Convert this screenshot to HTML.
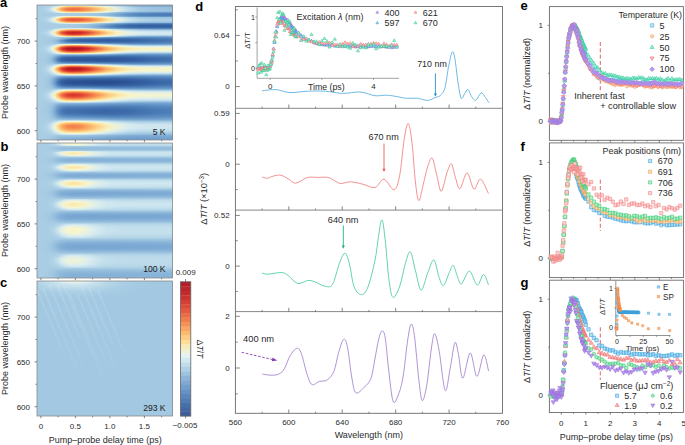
<!DOCTYPE html>
<html><head><meta charset="utf-8"><style>
html,body{margin:0;padding:0;background:#fff;width:685px;height:445px;overflow:hidden}
.hm{position:absolute;width:135.5px;height:135px}
.hm div{position:absolute;left:0;width:100%;height:1px}
svg{position:absolute;left:0;top:0}
</style></head><body>
<div class="hm" style="left:37px;top:5px"><div style="top:0px;background:linear-gradient(90deg,#a8cde4 0%,#a8cde4 2.21%,#a8cde4 4.43%,#a9cde4 5.9%,#a9cee4 7.38%,#aacee5 8.86%,#abcfe5 10.33%,#add1e6 11.81%,#b1d3e7 13.28%,#b9d8e9 15.5%,#c5e0ed 18.45%,#d0e7f0 22.14%,#d4eaf1 26.57%,#d3eaf1 31.73%,#c4e0ec 37.64%,#a6cce3 44.28%,#a1c7e1 51.66%,#97bfde 59.04%,#88b3d8 67.16%,#7eabd4 76.01%,#7ba8d3 85.61%,#7aa7d2 94.46%,#7aa7d2 100%)"></div><div style="top:1px;background:linear-gradient(90deg,#a8cde4 0%,#a9cde4 2.21%,#aacee4 4.43%,#abcfe5 5.9%,#add0e5 7.38%,#b0d2e6 8.86%,#b6d6e8 10.33%,#bfdceb 11.81%,#cce5ef 13.28%,#e6f0e2 15.5%,#faebb1 18.45%,#fcd488 22.14%,#fcc97d 26.57%,#fccc80 31.73%,#fddc8f 37.64%,#faedb6 44.28%,#e7f1e0 51.66%,#c4dfec 59.04%,#a1c7e1 67.16%,#87b2d8 76.01%,#83afd6 85.61%,#82aed6 94.46%,#82aed6 100%)"></div><div style="top:2px;background:linear-gradient(90deg,#a9cde4 0%,#a9cee4 2.21%,#abcfe5 4.43%,#add0e6 5.9%,#b1d3e7 7.38%,#b7d7e9 8.86%,#c1deec 10.33%,#d0e8f0 11.81%,#e4f0e4 13.28%,#faecb5 15.5%,#fbc377 18.45%,#f8a15b 22.14%,#f69456 26.57%,#f79a58 31.73%,#fab266 37.64%,#fcd387 44.28%,#f9f1c1 51.66%,#dbeded 59.04%,#b5d5e8 67.16%,#9fc6e1 76.01%,#98c0de 85.61%,#96bedd 94.46%,#95bedd 100%)"></div><div style="top:3px;background:linear-gradient(90deg,#a9cee4 0%,#aacee5 2.21%,#acd0e5 4.43%,#afd2e6 5.9%,#b5d6e8 7.38%,#bedbeb 8.86%,#cce5ef 10.33%,#dfeee9 11.81%,#f5f5d0 13.28%,#fdd98d 15.5%,#f9a35c 18.45%,#f27e4c 22.14%,#f17347 26.57%,#f27b4b 31.73%,#f79757 37.64%,#fbc074 44.28%,#fbe9ab 51.66%,#e4f0e3 59.04%,#bddbea 67.16%,#a4c9e2 76.01%,#9cc3df 85.61%,#99c1de 94.46%,#99c0de 100%)"></div><div style="top:4px;background:linear-gradient(90deg,#a9cee4 0%,#aacee5 2.21%,#add0e5 4.43%,#b0d2e6 5.9%,#b6d6e8 7.38%,#c0ddeb 8.86%,#cfe7f0 10.33%,#e3f0e5 11.81%,#f8f4c8 13.28%,#fcd185 15.5%,#f79958 18.45%,#f17548 22.14%,#ef6b44 26.57%,#f17348 31.73%,#f69054 37.64%,#fbbb70 44.28%,#fbe6a6 51.66%,#e7f1e1 59.04%,#bfdceb 67.16%,#a5cae3 76.01%,#9dc4e0 85.61%,#9ac2df 94.46%,#9ac1df 100%)"></div><div style="top:5px;background:linear-gradient(90deg,#a9cde4 0%,#aacee4 2.21%,#accfe5 4.43%,#afd1e6 5.9%,#b3d5e7 7.38%,#bbdaea 8.86%,#c8e2ee 10.33%,#daedef 11.81%,#eff3d7 13.28%,#fce198 15.5%,#faad62 18.45%,#f48750 22.14%,#f27b4b 26.57%,#f3834e 31.73%,#f89e5a 37.64%,#fcc478 44.28%,#faeab0 51.66%,#e3f0e5 59.04%,#bcdaea 67.16%,#a3c9e2 76.01%,#9cc3e0 85.61%,#9ac1df 94.46%,#99c1de 100%)"></div><div style="top:6px;background:linear-gradient(90deg,#a8cde4 0%,#a9cee4 2.21%,#aacee5 4.43%,#acd0e5 5.9%,#afd2e6 7.38%,#b4d5e8 8.86%,#bcdaea 10.33%,#c8e2ee 11.81%,#d9edef 13.28%,#f7f6ce 15.5%,#fdd78a 18.45%,#fbb66a 22.14%,#faab60 26.57%,#faaf64 31.73%,#fbc075 37.64%,#fddf94 44.28%,#f7f6cf 51.66%,#d5ebf1 59.04%,#b0d2e6 67.16%,#9cc3e0 76.01%,#96bedd 85.61%,#94bddd 94.46%,#93bcdc 100%)"></div><div style="top:7px;background:linear-gradient(90deg,#a8cde4 0%,#a8cde4 2.21%,#a9cee4 4.43%,#aacee4 5.9%,#abcfe5 7.38%,#add0e6 8.86%,#b1d3e7 10.33%,#b7d7e8 11.81%,#bfdceb 13.28%,#d2e9f1 15.5%,#edf3da 18.45%,#f9efbc 22.14%,#fbeaae 26.57%,#faebb1 31.73%,#f9f2c2 37.64%,#eaf2dd 44.28%,#c9e3ee 51.66%,#97bfde 59.04%,#82aed6 67.16%,#73a1ce 76.01%,#6e9dcc 85.61%,#6d9ccb 94.46%,#6c9bcb 100%)"></div><div style="top:8px;background:linear-gradient(90deg,#a8cde4 0%,#a8cde4 2.21%,#a8cde4 4.43%,#a8cde4 5.9%,#a8cde4 7.38%,#a8cde4 8.86%,#a8cde4 10.33%,#a8cde4 11.81%,#a8cde4 13.28%,#a8cde4 15.5%,#a8cde4 18.45%,#a8cde4 22.14%,#a7cde4 26.57%,#a7cce4 31.73%,#a5cbe3 37.64%,#a1c7e1 44.28%,#96bedd 51.66%,#82aed6 59.04%,#6a9aca 67.16%,#5a8cc1 76.01%,#5587be 85.61%,#5385bd 94.46%,#5385bc 100%)"></div><div style="top:9px;background:linear-gradient(90deg,#a8cde4 0%,#a8cde4 2.21%,#a8cde4 4.43%,#a8cde4 5.9%,#a8cde4 7.38%,#a8cde4 8.86%,#a8cde4 10.33%,#a8cde4 11.81%,#a8cde4 13.28%,#a8cde4 15.5%,#a8cde4 18.45%,#a7cde4 22.14%,#a7cce4 26.57%,#a6cbe3 31.73%,#a4cae2 37.64%,#9ec5e0 44.28%,#90b9db 51.66%,#79a7d2 59.04%,#6090c4 67.16%,#5081ba 76.01%,#4b7bb6 85.61%,#4a7ab5 94.46%,#4979b4 100%)"></div><div style="top:10px;background:linear-gradient(90deg,#a8cde4 0%,#a8cde4 2.21%,#a8cde4 4.43%,#a8cde4 5.9%,#a8cde4 7.38%,#a8cde4 8.86%,#a8cde4 10.33%,#a8cde4 11.81%,#a8cde4 13.28%,#a8cde4 15.5%,#a8cde4 18.45%,#a8cde4 22.14%,#a7cce4 26.57%,#a7cce3 31.73%,#a5cae3 37.64%,#9fc6e1 44.28%,#92bbdc 51.66%,#7ca9d3 59.04%,#6394c6 67.16%,#5485bd 76.01%,#4f80b9 85.61%,#4e7fb8 94.46%,#4e7fb8 100%)"></div><div style="top:11px;background:linear-gradient(90deg,#a8cde4 0%,#a8cde4 2.21%,#a9cee4 4.43%,#aacee4 5.9%,#abcfe5 7.38%,#add0e5 8.86%,#b0d2e6 10.33%,#b5d6e8 11.81%,#bddbea 13.28%,#cfe7f0 15.5%,#e8f1df 18.45%,#f9f4c7 22.14%,#faeeba 26.57%,#f9efbc 31.73%,#f8f6cc 37.64%,#e5f0e2 44.28%,#c1ddeb 51.66%,#92bbdc 59.04%,#7ba8d3 67.16%,#6b9bca 76.01%,#6696c8 85.61%,#6595c7 94.46%,#6595c7 100%)"></div><div style="top:12px;background:linear-gradient(90deg,#a8cde4 0%,#a9cee4 2.21%,#aacee5 4.43%,#acd0e5 5.9%,#afd2e6 7.38%,#b4d5e8 8.86%,#bcdaea 10.33%,#c9e3ee 11.81%,#daedef 13.28%,#f8f6cd 15.5%,#fcd588 18.45%,#fab267 22.14%,#f9a75e 26.57%,#faab60 31.73%,#fbbd71 37.64%,#fddd90 44.28%,#f8f6cc 51.66%,#d6ecf2 59.04%,#b2d4e7 67.16%,#9fc6e1 76.01%,#9ac1df 85.61%,#98c0de 94.46%,#98c0de 100%)"></div><div style="top:13px;background:linear-gradient(90deg,#a9cde4 0%,#aacee5 2.21%,#acd0e5 4.43%,#afd2e6 5.9%,#b4d5e8 7.38%,#bddbea 8.86%,#cae4ee 10.33%,#ddeeeb 11.81%,#f4f5d2 13.28%,#fdda8d 15.5%,#f89e5a 18.45%,#f17548 22.14%,#ef6943 26.57%,#f07046 31.73%,#f58c52 37.64%,#fbb86c 44.28%,#fce5a1 51.66%,#e9f2de 59.04%,#c5e0ed 67.16%,#add0e6 76.01%,#a6cbe3 85.61%,#a4cae2 94.46%,#a3c9e2 100%)"></div><div style="top:14px;background:linear-gradient(90deg,#a9cee4 0%,#aacee5 2.21%,#add0e6 4.43%,#b1d3e7 5.9%,#b7d7e9 7.38%,#c2deec 8.86%,#d2e9f1 10.33%,#e7f1e0 11.81%,#f9efbc 13.28%,#fbc478 15.5%,#f3814e 18.45%,#ea5b3d 22.14%,#e55038 26.57%,#e8583c 31.73%,#f17548 37.64%,#faa85e 44.28%,#fdde91 51.66%,#f0f4d6 59.04%,#cce5ef 67.16%,#b5d5e8 76.01%,#accfe5 85.61%,#a9cee4 94.46%,#a8cde4 100%)"></div><div style="top:15px;background:linear-gradient(90deg,#a9cee4 0%,#aacee5 2.21%,#add0e5 4.43%,#b0d2e6 5.9%,#b6d6e8 7.38%,#c0ddeb 8.86%,#cfe7f0 10.33%,#e3f0e5 11.81%,#f9f3c6 13.28%,#fccc80 15.5%,#f58b52 18.45%,#ed6240 22.14%,#e8573b 26.57%,#eb5e3e 31.73%,#f27b4b 37.64%,#faad62 44.28%,#fde096 51.66%,#eef3d8 59.04%,#cbe4ee 67.16%,#b4d5e8 76.01%,#acd0e5 85.61%,#a9cee4 94.46%,#a9cde4 100%)"></div><div style="top:16px;background:linear-gradient(90deg,#a9cde4 0%,#a9cee4 2.21%,#abcfe5 4.43%,#aed1e6 5.9%,#b2d3e7 7.38%,#b9d8e9 8.86%,#c4e0ec 10.33%,#d5ebf1 11.81%,#e9f2dd 13.28%,#fbe6a4 15.5%,#fab267 18.45%,#f48850 22.14%,#f27a4b 26.57%,#f3814d 31.73%,#f79b59 37.64%,#fbc276 44.28%,#faeab0 51.66%,#e2efe5 59.04%,#c0ddeb 67.16%,#abcfe5 76.01%,#a5cbe3 85.61%,#a4cae2 94.46%,#a4c9e2 100%)"></div><div style="top:17px;background:linear-gradient(90deg,#a8cde4 0%,#a9cde4 2.21%,#aacee5 4.43%,#abcfe5 5.9%,#add1e6 7.38%,#b1d3e7 8.86%,#b8d7e9 10.33%,#c2deec 11.81%,#d0e8f0 13.28%,#ebf2db 15.5%,#fce5a2 18.45%,#fcc87c 22.14%,#fbbd71 26.57%,#fbc074 31.73%,#fcd083 37.64%,#fbe7a8 44.28%,#ebf2db 51.66%,#c7e2ed 59.04%,#a6cbe3 67.16%,#96bfdd 76.01%,#91badb 85.61%,#90badb 94.46%,#90badb 100%)"></div><div style="top:18px;background:linear-gradient(90deg,#a8cde4 0%,#a8cde4 2.21%,#a8cde4 4.43%,#a9cee4 5.9%,#a9cee4 7.38%,#aacfe5 8.86%,#acd0e5 10.33%,#afd2e6 11.81%,#b3d5e7 13.28%,#bddbea 15.5%,#cde5ef 18.45%,#daedef 22.14%,#deeeea 26.57%,#ddeeeb 31.73%,#d6ebf2 37.64%,#a9cee4 44.28%,#93bcdc 51.66%,#7ba8d3 59.04%,#6595c7 67.16%,#598ac0 76.01%,#5688be 85.61%,#5587be 94.46%,#5587be 100%)"></div><div style="top:19px;background:linear-gradient(90deg,#a8cde4 0%,#a8cde4 2.21%,#a8cde4 4.43%,#a8cde4 5.9%,#a8cde4 7.38%,#a8cde4 8.86%,#a8cde4 10.33%,#a8cde4 11.81%,#a8cde4 13.28%,#a8cde4 15.5%,#a7cde4 18.45%,#a7cce4 22.14%,#a6cbe3 26.57%,#a4cae2 31.73%,#9ec5e0 37.64%,#8fb9db 44.28%,#73a2cf 51.66%,#5789bf 59.04%,#4777b2 67.16%,#406fad 76.01%,#3f6dab 85.61%,#3e6dab 94.46%,#3e6cab 100%)"></div><div style="top:20px;background:linear-gradient(90deg,#a8cde4 0%,#a8cde4 2.21%,#a8cde4 4.43%,#a8cde4 5.9%,#a8cde4 7.38%,#a8cde4 8.86%,#a8cde4 10.33%,#a8cde4 11.81%,#a8cde4 13.28%,#a7cde4 15.5%,#a7cce4 18.45%,#a7cce3 22.14%,#a5cbe3 26.57%,#a2c8e2 31.73%,#99c1de 37.64%,#84b0d7 44.28%,#6293c5 51.66%,#4878b3 59.04%,#3a67a7 67.16%,#3561a2 76.01%,#3560a1 85.61%,#3560a1 94.46%,#3560a1 100%)"></div><div style="top:21px;background:linear-gradient(90deg,#a8cde4 0%,#a8cde4 2.21%,#a8cde4 4.43%,#a8cde4 5.9%,#a8cde4 7.38%,#a8cde4 8.86%,#a8cde4 10.33%,#a8cde4 11.81%,#a8cde4 13.28%,#a7cde4 15.5%,#a7cce4 18.45%,#a6cce3 22.14%,#a5cae3 26.57%,#a1c7e1 31.73%,#96bedd 37.64%,#7eabd4 44.28%,#5c8dc2 51.66%,#4574b1 59.04%,#3966a6 67.16%,#3561a2 76.01%,#3560a1 85.61%,#3560a1 94.46%,#3560a1 100%)"></div><div style="top:22px;background:linear-gradient(90deg,#a8cde4 0%,#a8cde4 2.21%,#a8cde4 4.43%,#a8cde4 5.9%,#a8cde4 7.38%,#a8cde4 8.86%,#a8cde4 10.33%,#a8cde4 11.81%,#a8cde4 13.28%,#a8cde4 15.5%,#a7cce4 18.45%,#a7cce4 22.14%,#a5cbe3 26.57%,#a2c8e2 31.73%,#98c0de 37.64%,#83afd6 44.28%,#6494c6 51.66%,#4f80b9 59.04%,#4473af 67.16%,#3e6dab 76.01%,#3d6baa 85.61%,#3d6baa 94.46%,#3d6baa 100%)"></div><div style="top:23px;background:linear-gradient(90deg,#a8cde4 0%,#a8cde4 2.21%,#a8cde4 4.43%,#a9cde4 5.9%,#a9cee4 7.38%,#aacee5 8.86%,#abcfe5 10.33%,#aed1e6 11.81%,#b2d3e7 13.28%,#bad9e9 15.5%,#c7e2ed 18.45%,#d2e9f1 22.14%,#d6ecf2 26.57%,#d6ebf2 31.73%,#cde5ef 37.64%,#a0c6e1 44.28%,#87b2d8 51.66%,#6f9ecc 59.04%,#5e8fc3 67.16%,#5486bd 76.01%,#5384bc 85.61%,#5384bc 94.46%,#5384bc 100%)"></div><div style="top:24px;background:linear-gradient(90deg,#a8cde4 0%,#a9cde4 2.21%,#aacee4 4.43%,#abcfe5 5.9%,#add0e5 7.38%,#b0d3e7 8.86%,#b6d7e8 10.33%,#c0ddeb 11.81%,#cee6ef 13.28%,#e8f1df 15.5%,#fbe8aa 18.45%,#fccf82 22.14%,#fbc377 26.57%,#fcc67a 31.73%,#fdd78a 37.64%,#faeeb9 44.28%,#e0efe8 51.66%,#bedbea 59.04%,#a2c8e2 67.16%,#92bbdc 76.01%,#89b4d8 85.61%,#89b4d8 94.46%,#89b4d8 100%)"></div><div style="top:25px;background:linear-gradient(90deg,#a9cde4 0%,#a9cee4 2.21%,#abcfe5 4.43%,#add1e6 5.9%,#b1d3e7 7.38%,#b8d8e9 8.86%,#c3dfec 10.33%,#d3eaf1 11.81%,#e8f1df 13.28%,#fbe6a5 15.5%,#fab065 18.45%,#f3814d 22.14%,#f07247 26.57%,#f1784a 31.73%,#f79657 37.64%,#fcc67a 44.28%,#faeeb9 51.66%,#e2efe6 59.04%,#c6e1ed 67.16%,#b6d6e8 76.01%,#b2d3e7 85.61%,#b1d3e7 94.46%,#b0d3e7 100%)"></div><div style="top:26px;background:linear-gradient(90deg,#a9cee4 0%,#aacee5 2.21%,#add0e5 4.43%,#b0d2e6 5.9%,#b6d6e8 7.38%,#c0ddeb 8.86%,#d0e7f0 10.33%,#e5f0e2 11.81%,#f9f0bf 13.28%,#fbc175 15.5%,#f17348 18.45%,#e04533 22.14%,#d9382d 26.57%,#dd4031 31.73%,#ed6340 37.64%,#f9a15b 44.28%,#fddd90 51.66%,#f6f5d0 59.04%,#dceded 67.16%,#cde5ef 76.01%,#c8e2ee 85.61%,#c7e1ed 94.46%,#c7e1ed 100%)"></div><div style="top:27px;background:linear-gradient(90deg,#a9cee4 0%,#aacfe5 2.21%,#aed1e6 4.43%,#b2d4e7 5.9%,#b9d9e9 7.38%,#c5e0ed 8.86%,#d8ecf1 10.33%,#eff3d7 11.81%,#fbe6a5 13.28%,#faaa5f 15.5%,#e6543a 18.45%,#d22826 22.14%,#c82225 26.57%,#d02726 31.73%,#e24a35 37.64%,#f58b52 44.28%,#fccd81 51.66%,#f9f0bd 59.04%,#e6f1e1 67.16%,#d8ecf1 76.01%,#d4eaf1 85.61%,#d3e9f1 94.46%,#d2e9f1 100%)"></div><div style="top:28px;background:linear-gradient(90deg,#a9cee4 0%,#aacfe5 2.21%,#aed1e6 4.43%,#b2d3e7 5.9%,#b9d8e9 7.38%,#c5e0ec 8.86%,#d7ecf2 10.33%,#eef3d9 11.81%,#fbe8a9 13.28%,#faad62 15.5%,#e8583b 18.45%,#d32b27 22.14%,#ca2425 26.57%,#d22826 31.73%,#e44e37 37.64%,#f58e53 44.28%,#fcce82 51.66%,#f9f0bd 59.04%,#e6f1e1 67.16%,#d9edf0 76.01%,#d5ebf1 85.61%,#d4eaf1 94.46%,#d4eaf1 100%)"></div><div style="top:29px;background:linear-gradient(90deg,#a9cee4 0%,#aacee5 2.21%,#acd0e5 4.43%,#b0d2e6 5.9%,#b5d6e8 7.38%,#bedceb 8.86%,#cde5ef 10.33%,#e1efe7 11.81%,#f8f4c9 13.28%,#fcca7e 15.5%,#f27e4c 18.45%,#e44e37 22.14%,#dd4031 26.57%,#e14935 31.73%,#f06d45 37.64%,#faaa5f 44.28%,#fddf94 51.66%,#f5f5d0 59.04%,#ddeeec 67.16%,#cfe6ef 76.01%,#cbe4ee 85.61%,#cae3ee 94.46%,#cae3ee 100%)"></div><div style="top:30px;background:linear-gradient(90deg,#a8cde4 0%,#a9cee4 2.21%,#abcfe5 4.43%,#add0e5 5.9%,#b0d2e6 7.38%,#b6d6e8 8.86%,#c0ddeb 10.33%,#cee6ef 11.81%,#e1efe6 13.28%,#faedb7 15.5%,#fbbe72 18.45%,#f69355 22.14%,#f3834e 26.57%,#f58b52 31.73%,#faab60 37.64%,#fcd487 44.28%,#f9f3c5 51.66%,#deeeea 59.04%,#c5e0ed 67.16%,#b5d6e8 76.01%,#b1d3e7 85.61%,#b0d3e7 94.46%,#b0d2e6 100%)"></div><div style="top:31px;background:linear-gradient(90deg,#a8cde4 0%,#a8cde4 2.21%,#a9cee4 4.43%,#aacee5 5.9%,#accfe5 7.38%,#aed1e6 8.86%,#b3d4e7 10.33%,#bad9e9 11.81%,#c5e0ed 13.28%,#dbeded 15.5%,#f8f6cd 18.45%,#fbe5a3 22.14%,#fde095 26.57%,#fce29a 31.73%,#faecb3 37.64%,#edf3d9 44.28%,#cee6ef 51.66%,#acd0e5 59.04%,#93bcdc 67.16%,#7ca9d3 76.01%,#7aa7d2 85.61%,#7ba8d3 94.46%,#7ba8d3 100%)"></div><div style="top:32px;background:linear-gradient(90deg,#a8cde4 0%,#a8cde4 2.21%,#a8cde4 4.43%,#a8cde4 5.9%,#a8cde4 7.38%,#a8cde4 8.86%,#a8cde4 10.33%,#a7cce4 11.81%,#a7cce4 13.28%,#a6cbe3 15.5%,#a4c9e2 18.45%,#9ec5e0 22.14%,#94bddd 26.57%,#8db7da 31.73%,#86b1d7 37.64%,#7aa7d2 44.28%,#6c9bcb 51.66%,#6292c5 59.04%,#5b8cc1 67.16%,#598bc0 76.01%,#5d8ec2 85.61%,#6090c4 94.46%,#6191c4 100%)"></div><div style="top:33px;background:linear-gradient(90deg,#a8cde4 0%,#a8cde4 2.21%,#a8cde4 4.43%,#a8cde4 5.9%,#a7cce4 7.38%,#a7cce4 8.86%,#a6cbe3 10.33%,#a5cae3 11.81%,#a3c9e2 13.28%,#9ec5e0 15.5%,#92bbdc 18.45%,#79a7d2 22.14%,#5f90c3 26.57%,#5384bc 31.73%,#4e7fb8 37.64%,#4a7ab5 44.28%,#4675b1 51.66%,#4473b0 59.04%,#4473b0 67.16%,#4777b2 76.01%,#4c7cb6 85.61%,#4f80b9 94.46%,#5081ba 100%)"></div><div style="top:34px;background:linear-gradient(90deg,#a8cde4 0%,#a8cde4 2.21%,#a8cde4 4.43%,#a7cce4 5.9%,#a7cce3 7.38%,#a6cbe3 8.86%,#a4cae3 10.33%,#a2c8e2 11.81%,#9dc4e0 13.28%,#93bcdc 15.5%,#79a7d2 18.45%,#5486bd 22.14%,#4170ad 26.57%,#3a68a8 31.73%,#3764a5 37.64%,#3662a3 44.28%,#3561a2 51.66%,#3662a3 59.04%,#3764a5 67.16%,#3c6aaa 76.01%,#4372af 85.61%,#4776b2 94.46%,#4878b3 100%)"></div><div style="top:35px;background:linear-gradient(90deg,#a8cde4 0%,#a8cde4 2.21%,#a7cde4 4.43%,#a7cce4 5.9%,#a6cbe3 7.38%,#a5cae3 8.86%,#a2c8e2 10.33%,#9ec5e0 11.81%,#97bfde 13.28%,#85b0d7 15.5%,#6393c5 18.45%,#4373af 22.14%,#3764a5 26.57%,#3561a2 31.73%,#345e9f 37.64%,#335d9e 44.28%,#335d9e 51.66%,#335e9f 59.04%,#3561a2 67.16%,#3967a7 76.01%,#406fad 85.61%,#4473b0 94.46%,#4675b1 100%)"></div><div style="top:36px;background:linear-gradient(90deg,#a8cde4 0%,#a8cde4 2.21%,#a7cde4 4.43%,#a7cce4 5.9%,#a6cce3 7.38%,#a5cae3 8.86%,#a2c8e2 10.33%,#9ec5e0 11.81%,#97bfde 13.28%,#86b1d7 15.5%,#6696c7 18.45%,#4979b4 22.14%,#3f6dab 26.57%,#3b69a9 31.73%,#3966a6 37.64%,#3763a4 44.28%,#3662a3 51.66%,#3663a4 59.04%,#3865a6 67.16%,#3d6baa 76.01%,#4373af 85.61%,#4777b3 94.46%,#4979b4 100%)"></div><div style="top:37px;background:linear-gradient(90deg,#a8cde4 0%,#a8cde4 2.21%,#a8cde4 4.43%,#a7cce4 5.9%,#a7cce3 7.38%,#a5cbe3 8.86%,#a3c9e2 10.33%,#a0c7e1 11.81%,#9bc2df 13.28%,#8db7da 15.5%,#74a2cf 18.45%,#5c8dc2 22.14%,#5385bc 26.57%,#5182ba 31.73%,#4e7fb8 37.64%,#4a7ab5 44.28%,#4676b2 51.66%,#4473b0 59.04%,#4473b0 67.16%,#4777b2 76.01%,#4c7db7 85.61%,#4f80b9 94.46%,#5182ba 100%)"></div><div style="top:38px;background:linear-gradient(90deg,#a8cde4 0%,#a8cde4 2.21%,#a8cde4 4.43%,#a8cde4 5.9%,#a7cce4 7.38%,#a7cce4 8.86%,#a6cbe3 10.33%,#a4cae3 11.81%,#a2c8e2 13.28%,#9cc3df 15.5%,#90badb 18.45%,#86b1d7 22.14%,#81aed6 26.57%,#7facd5 31.73%,#7ba8d3 37.64%,#72a0ce 44.28%,#6796c8 51.66%,#5e8fc3 59.04%,#5889c0 67.16%,#5789bf 76.01%,#5b8cc1 85.61%,#5e8fc3 94.46%,#5f90c4 100%)"></div><div style="top:39px;background:linear-gradient(90deg,#a8cde4 0%,#a8cde4 2.21%,#a9cee4 4.43%,#a9cee4 5.9%,#abcfe5 7.38%,#acd0e5 8.86%,#b0d2e6 10.33%,#b5d5e8 11.81%,#bcdaea 13.28%,#cde5ef 15.5%,#e4f0e3 18.45%,#f5f5d0 22.14%,#f9f3c6 26.57%,#f8f5cb 31.73%,#eef3d8 37.64%,#d9ecf0 44.28%,#b9d8e9 51.66%,#9cc3e0 59.04%,#7fabd5 67.16%,#75a3d0 76.01%,#75a3d0 85.61%,#76a4d0 94.46%,#77a5d1 100%)"></div><div style="top:40px;background:linear-gradient(90deg,#a8cde4 0%,#a9cee4 2.21%,#aacee5 4.43%,#accfe5 5.9%,#afd1e6 7.38%,#b3d4e7 8.86%,#bbdaea 10.33%,#c7e2ed 11.81%,#d8ecf1 13.28%,#f6f5cf 15.5%,#fdd689 18.45%,#fab266 22.14%,#f9a55d 26.57%,#faab60 31.73%,#fbc175 37.64%,#fce29a 44.28%,#f4f5d1 51.66%,#daedef 59.04%,#c2deec 67.16%,#b3d5e7 76.01%,#b0d2e6 85.61%,#afd2e6 94.46%,#afd2e6 100%)"></div><div style="top:41px;background:linear-gradient(90deg,#a9cde4 0%,#aacee4 2.21%,#accfe5 4.43%,#afd1e6 5.9%,#b3d5e7 7.38%,#bcdaea 8.86%,#c9e3ee 10.33%,#dceded 11.81%,#f3f4d3 13.28%,#fdd78a 15.5%,#f58e53 18.45%,#ea5b3d 22.14%,#e34c36 26.57%,#e7553a 31.73%,#f17749 37.64%,#faad62 44.28%,#fddc8f 51.66%,#f9f3c4 59.04%,#e7f1e0 67.16%,#dceeec 76.01%,#daedef 85.61%,#daedef 94.46%,#daedef 100%)"></div><div style="top:42px;background:linear-gradient(90deg,#a9cee4 0%,#aacfe5 2.21%,#add1e6 4.43%,#b1d3e7 5.9%,#b8d8e9 7.38%,#c4dfec 8.86%,#d5ebf2 10.33%,#ecf2da 11.81%,#fbe8ab 13.28%,#faad62 15.5%,#e55139 18.45%,#cc2526 22.14%,#c11f25 26.57%,#ca2325 31.73%,#de4332 37.64%,#f27d4c 44.28%,#fbba6f 51.66%,#fce199 59.04%,#f9f1c1 67.16%,#f4f5d2 76.01%,#f2f4d4 85.61%,#f1f4d4 94.46%,#f1f4d4 100%)"></div><div style="top:43px;background:linear-gradient(90deg,#a9cee4 0%,#abcfe5 2.21%,#aed1e6 4.43%,#b3d4e7 5.9%,#bbd9ea 7.38%,#c8e2ee 8.86%,#dceded 10.33%,#f5f5d0 11.81%,#fde095 13.28%,#f69355 15.5%,#d9362c 18.45%,#b71924 22.14%,#ac1323 26.57%,#b61824 31.73%,#d32b27 37.64%,#ee6642 44.28%,#faab60 51.66%,#fcd488 59.04%,#fbe9ac 67.16%,#f9f0bf 76.01%,#f9f2c2 85.61%,#f9f2c3 94.46%,#f9f2c3 100%)"></div><div style="top:44px;background:linear-gradient(90deg,#a9cee4 0%,#abcfe5 2.21%,#aed1e6 4.43%,#b3d4e7 5.9%,#bad9e9 7.38%,#c7e1ed 8.86%,#daedef 10.33%,#f3f4d3 11.81%,#fce29b 13.28%,#f79958 15.5%,#dc3d2f 18.45%,#bc1c25 22.14%,#b11624 26.57%,#ba1b24 31.73%,#d6302a 37.64%,#ef6b44 44.28%,#faae63 51.66%,#fdd78a 59.04%,#faeaaf 67.16%,#f9f2c2 76.01%,#f9f3c6 85.61%,#f9f3c7 94.46%,#f9f3c7 100%)"></div><div style="top:45px;background:linear-gradient(90deg,#a9cee4 0%,#aacee5 2.21%,#add0e6 4.43%,#b1d3e7 5.9%,#b7d7e9 7.38%,#c2deec 8.86%,#d3e9f1 10.33%,#e9f2dd 11.81%,#faecb3 13.28%,#fbb468 15.5%,#ea5b3d 18.45%,#d32a27 22.14%,#c82225 26.57%,#d12726 31.73%,#e24a35 37.64%,#f3834e 44.28%,#fbbe72 51.66%,#fce29c 59.04%,#f9f2c3 67.16%,#f3f4d3 76.01%,#f1f4d5 85.61%,#f1f4d5 94.46%,#f1f4d5 100%)"></div><div style="top:46px;background:linear-gradient(90deg,#a9cde4 0%,#aacee4 2.21%,#accfe5 4.43%,#afd1e6 5.9%,#b3d4e7 7.38%,#bbdaea 8.86%,#c8e2ee 10.33%,#dbeded 11.81%,#f2f4d3 13.28%,#fdd88b 15.5%,#f59054 18.45%,#eb5d3e 22.14%,#e44e37 26.57%,#e8573b 31.73%,#f1784a 37.64%,#faac61 44.28%,#fddb8e 51.66%,#f9f1c0 59.04%,#eaf2dc 67.16%,#e0efe8 76.01%,#deeeea 85.61%,#deeeeb 94.46%,#deeeeb 100%)"></div><div style="top:47px;background:linear-gradient(90deg,#a8cde4 0%,#a9cee4 2.21%,#aacfe5 4.43%,#acd0e5 5.9%,#afd2e6 7.38%,#b4d5e8 8.86%,#bddbea 10.33%,#cae3ee 11.81%,#dceded 13.28%,#f9f3c7 15.5%,#fccd80 18.45%,#faa85e 22.14%,#f79857 26.57%,#f8a05b 31.73%,#fbb86c 37.64%,#fddb8e 44.28%,#f9f3c6 51.66%,#e2efe5 59.04%,#cde6ef 67.16%,#c0ddeb 76.01%,#bddbea 85.61%,#bddbea 94.46%,#bddbea 100%)"></div><div style="top:48px;background:linear-gradient(90deg,#a8cde4 0%,#a8cde4 2.21%,#a9cee4 4.43%,#aacee5 5.9%,#abcfe5 7.38%,#aed1e6 8.86%,#b2d4e7 10.33%,#b9d8e9 11.81%,#c3dfec 13.28%,#d9ecf0 15.5%,#f4f5d2 18.45%,#fbeaaf 22.14%,#fce5a1 26.57%,#fbe7a6 31.73%,#f9f0bd 37.64%,#ebf2db 44.28%,#d0e8f0 51.66%,#b5d5e8 59.04%,#a0c6e1 67.16%,#93bcdc 76.01%,#8eb8da 85.61%,#8eb7da 94.46%,#8eb7da 100%)"></div><div style="top:49px;background:linear-gradient(90deg,#a8cde4 0%,#a8cde4 2.21%,#a8cde4 4.43%,#a8cde4 5.9%,#a8cde4 7.38%,#a8cde4 8.86%,#a8cde4 10.33%,#a7cce4 11.81%,#a7cce3 13.28%,#a5cbe3 15.5%,#a4cae3 18.45%,#a4c9e2 22.14%,#a3c9e2 26.57%,#a2c8e2 31.73%,#9dc4e0 37.64%,#90badb 44.28%,#80add5 51.66%,#73a2cf 59.04%,#6a9aca 67.16%,#6797c8 76.01%,#6999c9 85.61%,#6b9bca 94.46%,#6c9bcb 100%)"></div><div style="top:50px;background:linear-gradient(90deg,#a8cde4 0%,#a8cde4 2.21%,#a8cde4 4.43%,#a7cce4 5.9%,#a6cce3 7.38%,#a4cae3 8.86%,#a1c8e1 10.33%,#9cc3df 11.81%,#94bcdc 13.28%,#84afd6 15.5%,#73a1ce 18.45%,#6b9aca 22.14%,#6a99c9 26.57%,#6898c8 31.73%,#6494c6 37.64%,#5e8fc3 44.28%,#5789bf 51.66%,#5284bc 59.04%,#5082ba 67.16%,#5283bb 76.01%,#5688be 85.61%,#598bc0 94.46%,#5b8cc1 100%)"></div><div style="top:51px;background:linear-gradient(90deg,#a8cde4 0%,#a8cde4 2.21%,#a7cce4 4.43%,#a6cce3 5.9%,#a5cae3 7.38%,#a2c8e2 8.86%,#9dc4e0 10.33%,#93bcdc 11.81%,#86b1d7 13.28%,#6d9ccb 15.5%,#5486bd 18.45%,#4c7cb6 22.14%,#4a7ab5 26.57%,#4979b4 31.73%,#4676b2 37.64%,#4372af 44.28%,#416fad 51.66%,#406eac 59.04%,#416fad 67.16%,#4574b0 76.01%,#4a7ab5 85.61%,#4e7eb8 94.46%,#4f80b9 100%)"></div><div style="top:52px;background:linear-gradient(90deg,#a8cde4 0%,#a8cde4 2.21%,#a7cce4 4.43%,#a6cbe3 5.9%,#a4cae2 7.38%,#a0c6e1 8.86%,#99c0de 10.33%,#8cb6da 11.81%,#7aa7d2 13.28%,#5b8cc1 15.5%,#4372af 18.45%,#3967a7 22.14%,#3764a5 26.57%,#3763a4 31.73%,#3561a2 37.64%,#345fa0 44.28%,#345fa0 51.66%,#3460a1 59.04%,#3663a4 67.16%,#3b69a8 76.01%,#4270ae 85.61%,#4675b1 94.46%,#4777b3 100%)"></div><div style="top:53px;background:linear-gradient(90deg,#a8cde4 0%,#a8cde4 2.21%,#a7cce4 4.43%,#a6cbe3 5.9%,#a3c9e2 7.38%,#9ec5e0 8.86%,#95bedd 10.33%,#86b2d8 11.81%,#72a0ce 13.28%,#5081ba 15.5%,#3865a5 18.45%,#325c9d 22.14%,#315b9c 26.57%,#315a9b 31.73%,#305899 37.64%,#2f5697 44.28%,#2f5798 51.66%,#30599a 59.04%,#335d9e 67.16%,#3662a3 76.01%,#3c6aaa 85.61%,#4170ad 94.46%,#4372af 100%)"></div><div style="top:54px;background:linear-gradient(90deg,#a8cde4 0%,#a8cde4 2.21%,#a7cce4 4.43%,#a5cbe3 5.9%,#a3c9e2 7.38%,#9dc4e0 8.86%,#93bcdc 10.33%,#83afd6 11.81%,#6c9bcb 13.28%,#4b7bb5 15.5%,#3560a1 18.45%,#30599a 22.14%,#2f5798 26.57%,#2f5697 31.73%,#2e5495 37.64%,#2d5394 44.28%,#2d5495 51.66%,#2f5697 59.04%,#315a9b 67.16%,#3560a1 76.01%,#3a68a8 85.61%,#3f6dac 94.46%,#4170ad 100%)"></div><div style="top:55px;background:linear-gradient(90deg,#a8cde4 0%,#a8cde4 2.21%,#a7cce4 4.43%,#a5cbe3 5.9%,#a3c9e2 7.38%,#9ec5e0 8.86%,#94bddd 10.33%,#84b0d7 11.81%,#6e9dcc 13.28%,#4d7eb8 15.5%,#3763a4 18.45%,#325c9d 22.14%,#315b9c 26.57%,#315a9b 31.73%,#305899 37.64%,#2f5697 44.28%,#2f5798 51.66%,#30599a 59.04%,#325c9d 67.16%,#3662a3 76.01%,#3c6aaa 85.61%,#4170ad 94.46%,#4372af 100%)"></div><div style="top:56px;background:linear-gradient(90deg,#a8cde4 0%,#a8cde4 2.21%,#a7cce4 4.43%,#a6cbe3 5.9%,#a3c9e2 7.38%,#9fc6e1 8.86%,#97bfde 10.33%,#89b4d8 11.81%,#76a4d0 13.28%,#5789bf 15.5%,#4271ae 18.45%,#3b68a8 22.14%,#3967a7 26.57%,#3865a6 31.73%,#3663a4 37.64%,#3561a2 44.28%,#3560a1 51.66%,#3561a2 59.04%,#3764a5 67.16%,#3c6aa9 76.01%,#4372af 85.61%,#4776b2 94.46%,#4878b4 100%)"></div><div style="top:57px;background:linear-gradient(90deg,#a8cde4 0%,#a8cde4 2.21%,#a7cce4 4.43%,#a6cce3 5.9%,#a5cae3 7.38%,#a1c8e1 8.86%,#9bc2df 10.33%,#91badb 11.81%,#82aed6 13.28%,#6b9aca 15.5%,#5788bf 18.45%,#5182ba 22.14%,#4f80b9 26.57%,#4e7fb8 31.73%,#4c7cb6 37.64%,#4878b4 44.28%,#4675b1 51.66%,#4473b0 59.04%,#4574b0 67.16%,#4878b3 76.01%,#4d7eb8 85.61%,#5182ba 94.46%,#5283bb 100%)"></div><div style="top:58px;background:linear-gradient(90deg,#a8cde4 0%,#a8cde4 2.21%,#a8cde4 4.43%,#a7cce4 5.9%,#a6cce3 7.38%,#a5cae3 8.86%,#a1c8e2 10.33%,#9cc3e0 11.81%,#95bddd 13.28%,#88b3d8 15.5%,#7daad4 18.45%,#79a7d2 22.14%,#78a6d1 26.57%,#77a5d1 31.73%,#73a2cf 37.64%,#6d9ccb 44.28%,#6495c7 51.66%,#5e8fc3 59.04%,#5a8bc1 67.16%,#5a8bc1 76.01%,#5e8fc3 85.61%,#6191c5 94.46%,#6292c5 100%)"></div><div style="top:59px;background:linear-gradient(90deg,#a8cde4 0%,#a8cde4 2.21%,#a9cde4 4.43%,#a9cee4 5.9%,#aacee4 7.38%,#abcfe5 8.86%,#add0e5 10.33%,#b0d3e7 11.81%,#b6d6e8 13.28%,#c1ddeb 15.5%,#d2e9f1 18.45%,#dfeee9 22.14%,#e4f0e4 26.57%,#e2efe6 31.73%,#d8ecf0 37.64%,#c5e0ed 44.28%,#aacee5 51.66%,#96bedd 59.04%,#80acd5 67.16%,#79a6d2 76.01%,#79a6d2 85.61%,#79a7d2 94.46%,#7aa7d2 100%)"></div><div style="top:60px;background:linear-gradient(90deg,#a8cde4 0%,#a9cde4 2.21%,#aacee5 4.43%,#abcfe5 5.9%,#add1e6 7.38%,#b2d3e7 8.86%,#b8d8e9 10.33%,#c3deec 11.81%,#d1e8f0 13.28%,#ecf2da 15.5%,#fce4a0 18.45%,#fcc87c 22.14%,#fbbd71 26.57%,#fbc276 31.73%,#fcd588 37.64%,#faeab0 44.28%,#edf3da 51.66%,#d5ebf1 59.04%,#c0ddeb 67.16%,#b4d5e8 76.01%,#b2d3e7 85.61%,#b2d3e7 94.46%,#b2d3e7 100%)"></div><div style="top:61px;background:linear-gradient(90deg,#a9cde4 0%,#a9cee4 2.21%,#abcfe5 4.43%,#aed1e6 5.9%,#b2d4e7 7.38%,#bad9e9 8.86%,#c5e0ed 10.33%,#d7ecf2 11.81%,#ecf2da 13.28%,#fce199 15.5%,#f9a35c 18.45%,#f07247 22.14%,#ed6341 26.57%,#ef6c44 31.73%,#f58b52 37.64%,#fbb86d 44.28%,#fce199 51.66%,#f8f5ca 59.04%,#e6f1e1 67.16%,#dceeec 76.01%,#dbedee 85.61%,#daedee 94.46%,#daedee 100%)"></div><div style="top:62px;background:linear-gradient(90deg,#a9cee4 0%,#aacee5 2.21%,#add0e5 4.43%,#b1d3e7 5.9%,#b7d7e8 7.38%,#c2deec 8.86%,#d2e9f1 10.33%,#e8f1df 11.81%,#faedb7 13.28%,#fbb86c 15.5%,#ed6240 18.45%,#d7332b 22.14%,#cf2626 26.57%,#d52f29 31.73%,#e55139 37.64%,#f48851 44.28%,#fbc075 51.66%,#fce39e 59.04%,#f9f2c4 67.16%,#f3f5d2 76.01%,#f1f4d4 85.61%,#f1f4d5 94.46%,#f1f4d5 100%)"></div><div style="top:63px;background:linear-gradient(90deg,#a9cee4 0%,#abcfe5 2.21%,#aed1e6 4.43%,#b3d4e7 5.9%,#bad9e9 7.38%,#c7e1ed 8.86%,#daedef 10.33%,#f2f4d3 11.81%,#fce29c 13.28%,#f89c59 15.5%,#de4131 18.45%,#c11e25 22.14%,#b61824 26.57%,#bf1d25 31.73%,#d8352c 37.64%,#f06e45 44.28%,#faaf63 51.66%,#fdd78a 59.04%,#fbeaae 67.16%,#f9f1c1 76.01%,#f9f2c4 85.61%,#f9f3c5 94.46%,#f9f3c5 100%)"></div><div style="top:64px;background:linear-gradient(90deg,#a9cee4 0%,#abcfe5 2.21%,#aed1e6 4.43%,#b3d4e7 5.9%,#bad9e9 7.38%,#c7e1ed 8.86%,#daedee 10.33%,#f3f4d3 11.81%,#fce29b 13.28%,#f79b58 15.5%,#dd4031 18.45%,#c01e25 22.14%,#b51824 26.57%,#be1d25 31.73%,#d8342b 37.64%,#f06d45 44.28%,#faae63 51.66%,#fdd68a 59.04%,#fbe9ad 67.16%,#f9f1c0 76.01%,#f9f2c3 85.61%,#f9f2c4 94.46%,#f9f2c4 100%)"></div><div style="top:65px;background:linear-gradient(90deg,#a9cee4 0%,#aacfe5 2.21%,#add1e6 4.43%,#b2d3e7 5.9%,#b9d8e9 7.38%,#c4e0ec 8.86%,#d6ebf2 10.33%,#edf3d9 11.81%,#fbe8aa 13.28%,#faac61 15.5%,#e65339 18.45%,#cf2626 22.14%,#c42025 26.57%,#cc2526 31.73%,#df4433 37.64%,#f27c4b 44.28%,#fbb86c 51.66%,#fddf93 59.04%,#faeeb9 67.16%,#f8f5cb 76.01%,#f7f6ce 85.61%,#f7f6ce 94.46%,#f7f6ce 100%)"></div><div style="top:66px;background:linear-gradient(90deg,#a9cee4 0%,#aacee5 2.21%,#acd0e5 4.43%,#b0d2e6 5.9%,#b6d6e8 7.38%,#bfdceb 8.86%,#cee6ef 10.33%,#e3f0e5 11.81%,#f9f2c4 13.28%,#fcc579 15.5%,#f17649 18.45%,#e04634 22.14%,#da382d 26.57%,#de4232 31.73%,#ee6341 37.64%,#f79958 44.28%,#fccb7f 51.66%,#fbe8aa 59.04%,#f7f6ce 67.16%,#edf3d9 76.01%,#ecf2db 85.61%,#ebf2db 94.46%,#ebf2db 100%)"></div><div style="top:67px;background:linear-gradient(90deg,#a9cde4 0%,#a9cee4 2.21%,#abcfe5 4.43%,#aed1e6 5.9%,#b2d4e7 7.38%,#b9d8e9 8.86%,#c5e0ed 10.33%,#d6ebf2 11.81%,#ebf2dc 13.28%,#fce39e 15.5%,#faaa5f 18.45%,#f27a4a 22.14%,#ef6b44 26.57%,#f17347 31.73%,#f69255 37.64%,#fbbd71 44.28%,#fce39d 51.66%,#f8f6cd 59.04%,#e5f0e2 67.16%,#dcedec 76.01%,#daedee 85.61%,#daedef 94.46%,#daedef 100%)"></div><div style="top:68px;background:linear-gradient(90deg,#a8cde4 0%,#a9cee4 2.21%,#aacee5 4.43%,#accfe5 5.9%,#aed1e6 7.38%,#b3d4e7 8.86%,#bbd9ea 10.33%,#c7e1ed 11.81%,#d7ecf2 13.28%,#f4f5d1 15.5%,#fddb8e 18.45%,#fbb96e 22.14%,#faae63 26.57%,#fbb368 31.73%,#fcc77b 37.64%,#fce39e 44.28%,#f6f5cf 51.66%,#dfeee9 59.04%,#cce5ef 67.16%,#c2deec 76.01%,#c0ddeb 85.61%,#bfdceb 94.46%,#bfdceb 100%)"></div><div style="top:69px;background:linear-gradient(90deg,#a8cde4 0%,#a8cde4 2.21%,#a9cee4 4.43%,#aacee5 5.9%,#abcfe5 7.38%,#aed1e6 8.86%,#b2d3e7 10.33%,#b8d8e9 11.81%,#c2deec 13.28%,#d6ebf2 15.5%,#f0f4d6 18.45%,#faeeb9 22.14%,#fbe9ac 26.57%,#faebb1 31.73%,#f9f3c6 37.64%,#e9f1de 44.28%,#d1e8f0 51.66%,#bad9e9 59.04%,#a7cce4 67.16%,#9fc6e1 76.01%,#9ec4e0 85.61%,#9dc4e0 94.46%,#9dc4e0 100%)"></div><div style="top:70px;background:linear-gradient(90deg,#a8cde4 0%,#a8cde4 2.21%,#a8cde4 4.43%,#a8cde4 5.9%,#a8cde4 7.38%,#a9cee4 8.86%,#a9cee4 10.33%,#aacfe5 11.81%,#acd0e5 13.28%,#b0d2e6 15.5%,#b5d6e8 18.45%,#bad9e9 22.14%,#bcdaea 26.57%,#bad9e9 31.73%,#b2d3e7 37.64%,#a1c7e1 44.28%,#8eb8da 51.66%,#81add6 59.04%,#78a5d1 67.16%,#74a2cf 76.01%,#75a3cf 85.61%,#76a4d0 94.46%,#76a4d0 100%)"></div><div style="top:71px;background:linear-gradient(90deg,#a8cde4 0%,#a8cde4 2.21%,#a8cde4 4.43%,#a7cce4 5.9%,#a6cce3 7.38%,#a4cae3 8.86%,#a1c8e1 10.33%,#9cc3df 11.81%,#94bddd 13.28%,#87b2d8 15.5%,#7ca9d3 18.45%,#78a6d1 22.14%,#77a5d1 26.57%,#76a4d0 31.73%,#72a1ce 37.64%,#6d9ccb 44.28%,#6696c7 51.66%,#6091c4 59.04%,#5d8ec2 67.16%,#5d8ec2 76.01%,#6191c5 85.61%,#6494c6 94.46%,#6595c7 100%)"></div><div style="top:72px;background:linear-gradient(90deg,#a8cde4 0%,#a8cde4 2.21%,#a7cce4 4.43%,#a7cce3 5.9%,#a5cbe3 7.38%,#a2c8e2 8.86%,#9cc4e0 10.33%,#93bcdc 11.81%,#86b1d7 13.28%,#719fcd 15.5%,#5f8fc3 18.45%,#588ac0 22.14%,#5788bf 26.57%,#5587be 31.73%,#5384bc 37.64%,#4f80b9 44.28%,#4c7db7 51.66%,#4b7bb5 59.04%,#4b7bb5 67.16%,#4d7eb8 76.01%,#5284bc 85.61%,#5587be 94.46%,#5688bf 100%)"></div><div style="top:73px;background:linear-gradient(90deg,#a8cde4 0%,#a8cde4 2.21%,#a7cce4 4.43%,#a6cbe3 5.9%,#a4cae2 7.38%,#a0c6e1 8.86%,#99c0de 10.33%,#8cb6da 11.81%,#7ba8d3 13.28%,#5f90c4 15.5%,#4b7bb5 18.45%,#4473b0 22.14%,#4372af 26.57%,#4270ae 31.73%,#3f6eac 37.64%,#3d6baa 44.28%,#3b69a8 51.66%,#3b69a9 59.04%,#3e6caa 67.16%,#4271ae 76.01%,#4878b3 85.61%,#4c7cb6 94.46%,#4d7eb8 100%)"></div><div style="top:74px;background:linear-gradient(90deg,#a8cde4 0%,#a8cde4 2.21%,#a7cce4 4.43%,#a6cbe3 5.9%,#a3c9e2 7.38%,#9ec5e0 8.86%,#96bedd 10.33%,#87b2d8 11.81%,#73a1ce 13.28%,#5384bc 15.5%,#3d6baa 18.45%,#3662a3 22.14%,#3561a2 26.57%,#3560a1 31.73%,#345e9f 37.64%,#335d9e 44.28%,#325c9d 51.66%,#335e9f 59.04%,#3561a2 67.16%,#3967a7 76.01%,#406fad 85.61%,#4574b0 94.46%,#4676b2 100%)"></div><div style="top:75px;background:linear-gradient(90deg,#a8cde4 0%,#a8cde4 2.21%,#a7cce4 4.43%,#a5cbe3 5.9%,#a3c9e2 7.38%,#9dc4e0 8.86%,#93bcdc 10.33%,#83afd6 11.81%,#6d9ccb 13.28%,#4b7cb6 15.5%,#3561a2 18.45%,#31599a 22.14%,#305899 26.57%,#2f5798 31.73%,#2e5596 37.64%,#2d5495 44.28%,#2d5495 51.66%,#2f5697 59.04%,#315a9b 67.16%,#3560a1 76.01%,#3a68a8 85.61%,#3f6eac 94.46%,#4170ad 100%)"></div><div style="top:76px;background:linear-gradient(90deg,#a8cde4 0%,#a8cde4 2.21%,#a7cce3 4.43%,#a5cbe3 5.9%,#a2c8e2 7.38%,#9dc4e0 8.86%,#92bbdc 10.33%,#81add5 11.81%,#6999c9 13.28%,#4776b2 15.5%,#325c9d 18.45%,#2d5495 22.14%,#2c5293 26.57%,#2c5192 31.73%,#2b4f90 37.64%,#2a4e8f 44.28%,#2a4f90 51.66%,#2c5293 59.04%,#2f5697 67.16%,#335d9e 76.01%,#3764a5 85.61%,#3c6aa9 94.46%,#3e6cab 100%)"></div><div style="top:77px;background:linear-gradient(90deg,#a8cde4 0%,#a8cde4 2.21%,#a7cce3 4.43%,#a5cbe3 5.9%,#a2c8e2 7.38%,#9cc4e0 8.86%,#92bbdc 10.33%,#80acd5 11.81%,#6897c8 13.28%,#4574b1 15.5%,#315a9b 18.45%,#2c5293 22.14%,#2b5091 26.57%,#2b4f90 31.73%,#294d8e 37.64%,#294c8d 44.28%,#294d8e 51.66%,#2b5091 59.04%,#2e5596 67.16%,#325c9d 76.01%,#3663a4 85.61%,#3b68a8 94.46%,#3d6aaa 100%)"></div><div style="top:78px;background:linear-gradient(90deg,#a8cde4 0%,#a8cde4 2.21%,#a7cce3 4.43%,#a5cbe3 5.9%,#a2c8e2 7.38%,#9dc4e0 8.86%,#92bbdc 10.33%,#81add5 11.81%,#6a99c9 13.28%,#4777b3 15.5%,#335d9e 18.45%,#2e5596 22.14%,#2d5394 26.57%,#2c5293 31.73%,#2b5091 37.64%,#2a4f90 44.28%,#2b5091 51.66%,#2c5293 59.04%,#2f5798 67.16%,#335e9f 76.01%,#3764a5 85.61%,#3c6aa9 94.46%,#3e6dab 100%)"></div><div style="top:79px;background:linear-gradient(90deg,#a8cde4 0%,#a8cde4 2.21%,#a7cce4 4.43%,#a5cbe3 5.9%,#a3c9e2 7.38%,#9ec4e0 8.86%,#94bddd 10.33%,#84b0d7 11.81%,#6e9dcc 13.28%,#4d7db7 15.5%,#3663a4 18.45%,#325b9c 22.14%,#315a9b 26.57%,#30599a 31.73%,#2f5798 37.64%,#2e5697 44.28%,#2f5697 51.66%,#305899 59.04%,#325c9d 67.16%,#3662a3 76.01%,#3c6aa9 85.61%,#406fad 94.46%,#4271ae 100%)"></div><div style="top:80px;background:linear-gradient(90deg,#a8cde4 0%,#a8cde4 2.21%,#a7cce4 4.43%,#a6cbe3 5.9%,#a3c9e2 7.38%,#9fc6e1 8.86%,#96bfdd 10.33%,#88b3d8 11.81%,#75a3cf 13.28%,#5587be 15.5%,#416fad 18.45%,#3966a7 22.14%,#3764a5 26.57%,#3763a4 31.73%,#3561a2 37.64%,#3460a1 44.28%,#345fa0 51.66%,#3561a2 59.04%,#3763a4 67.16%,#3c6aa9 76.01%,#4372af 85.61%,#4776b2 94.46%,#4878b4 100%)"></div><div style="top:81px;background:linear-gradient(90deg,#a8cde4 0%,#a8cde4 2.21%,#a7cce4 4.43%,#a6cbe3 5.9%,#a4cae3 7.38%,#a1c7e1 8.86%,#9ac1df 10.33%,#8eb8da 11.81%,#7eabd4 13.28%,#6494c6 15.5%,#4f80b9 18.45%,#4979b4 22.14%,#4878b3 26.57%,#4776b2 31.73%,#4474b0 37.64%,#4271ae 44.28%,#406fad 51.66%,#406fad 59.04%,#4271ae 67.16%,#4676b2 76.01%,#4c7cb6 85.61%,#4f80b9 94.46%,#5182ba 100%)"></div><div style="top:82px;background:linear-gradient(90deg,#a8cde4 0%,#a8cde4 2.21%,#a7cce4 4.43%,#a7cce3 5.9%,#a5cbe3 7.38%,#a3c9e2 8.86%,#9ec5e0 10.33%,#95bedd 11.81%,#89b4d9 13.28%,#76a4d0 15.5%,#6696c7 18.45%,#6090c4 22.14%,#5f8fc3 26.57%,#5d8ec3 31.73%,#5a8bc1 37.64%,#5688be 44.28%,#5384bc 51.66%,#5182ba 59.04%,#5182ba 67.16%,#5384bc 76.01%,#5889bf 85.61%,#5b8cc1 94.46%,#5c8dc2 100%)"></div><div style="top:83px;background:linear-gradient(90deg,#a8cde4 0%,#a8cde4 2.21%,#a8cde4 4.43%,#a7cce4 5.9%,#a7cce3 7.38%,#a5cbe3 8.86%,#a2c8e2 10.33%,#9ec5e0 11.81%,#98c0de 13.28%,#8db7da 15.5%,#84b0d7 18.45%,#80add5 22.14%,#80acd5 26.57%,#7eabd4 31.73%,#7ba8d3 37.64%,#76a3d0 44.28%,#6f9ecc 51.66%,#6a99c9 59.04%,#6696c7 67.16%,#6696c7 76.01%,#6999c9 85.61%,#6b9bca 94.46%,#6c9bcb 100%)"></div><div style="top:84px;background:linear-gradient(90deg,#a8cde4 0%,#a8cde4 2.21%,#a8cde4 4.43%,#a9cde4 5.9%,#a9cee4 7.38%,#aacee5 8.86%,#abcfe5 10.33%,#add0e5 11.81%,#b0d2e6 13.28%,#b7d7e8 15.5%,#c2deec 18.45%,#cae4ee 22.14%,#cee6ef 26.57%,#cbe4ef 31.73%,#c3dfec 37.64%,#b5d5e8 44.28%,#a4c9e2 51.66%,#97bfde 59.04%,#88b3d8 67.16%,#82aed6 76.01%,#81add6 85.61%,#81aed6 94.46%,#82aed6 100%)"></div><div style="top:85px;background:linear-gradient(90deg,#a8cde4 0%,#a9cde4 2.21%,#a9cee4 4.43%,#aacee5 5.9%,#acd0e5 7.38%,#afd1e6 8.86%,#b3d4e7 10.33%,#bbd9ea 11.81%,#c6e0ed 13.28%,#dbeded 15.5%,#f6f5cf 18.45%,#fbe9ab 22.14%,#fce49f 26.57%,#fbe6a4 31.73%,#faeeb9 37.64%,#f0f4d6 44.28%,#dbeded 51.66%,#c7e1ed 59.04%,#b6d6e8 67.16%,#add1e6 76.01%,#acd0e5 85.61%,#acd0e5 94.46%,#acd0e5 100%)"></div><div style="top:86px;background:linear-gradient(90deg,#a8cde4 0%,#a9cee4 2.21%,#aacfe5 4.43%,#acd0e5 5.9%,#afd2e6 7.38%,#b4d5e8 8.86%,#bddbea 10.33%,#cae3ee 11.81%,#dbedee 13.28%,#f8f5cb 15.5%,#fcd588 18.45%,#fbb569 22.14%,#faab5f 26.57%,#fab064 31.73%,#fbc377 37.64%,#fde096 44.28%,#f9f4c7 51.66%,#e6f1e1 59.04%,#d6ebf2 67.16%,#cde5ef 76.01%,#cbe4ef 85.61%,#cbe4ee 94.46%,#cbe4ee 100%)"></div><div style="top:87px;background:linear-gradient(90deg,#a9cde4 0%,#a9cee4 2.21%,#accfe5 4.43%,#aed1e6 5.9%,#b3d4e7 7.38%,#bad9ea 8.86%,#c7e1ed 10.33%,#d9ecf0 11.81%,#eef3d8 13.28%,#fce198 15.5%,#faa95f 18.45%,#f27d4c 22.14%,#f07046 26.57%,#f1784a 31.73%,#f69556 37.64%,#fbbd72 44.28%,#fce29b 51.66%,#f8f4c8 59.04%,#eaf2dd 67.16%,#e1efe7 76.01%,#e0efe8 85.61%,#e0efe8 94.46%,#e0efe8 100%)"></div><div style="top:88px;background:linear-gradient(90deg,#a9cee4 0%,#aacee5 2.21%,#add0e5 4.43%,#b0d2e6 5.9%,#b6d6e8 7.38%,#c0ddeb 8.86%,#cfe7f0 10.33%,#e4f0e3 11.81%,#f9f2c3 13.28%,#fcc77b 15.5%,#f3804d 18.45%,#e7563b 22.14%,#e24935 26.57%,#e65339 31.73%,#f07247 37.64%,#f9a45c 44.28%,#fcd084 51.66%,#fbe9ae 59.04%,#f6f5cf 67.16%,#eef3d9 76.01%,#ecf2da 85.61%,#ecf2da 94.46%,#ecf2da 100%)"></div><div style="top:89px;background:linear-gradient(90deg,#a9cee4 0%,#aacfe5 2.21%,#add1e6 4.43%,#b1d3e7 5.9%,#b8d8e9 7.38%,#c3dfec 8.86%,#d5eaf1 10.33%,#ebf2dc 11.81%,#faebb2 13.28%,#fbb86c 15.5%,#ef6c44 18.45%,#de4232 22.14%,#d9362c 26.57%,#dd4031 31.73%,#ec603f 37.64%,#f69455 44.28%,#fcc579 51.66%,#fce4a1 59.04%,#f9f2c4 67.16%,#f4f5d2 76.01%,#f3f4d3 85.61%,#f2f4d3 94.46%,#f2f4d4 100%)"></div><div style="top:90px;background:linear-gradient(90deg,#a9cee4 0%,#aacfe5 2.21%,#add1e6 4.43%,#b1d3e7 5.9%,#b8d8e9 7.38%,#c4dfec 8.86%,#d5ebf1 10.33%,#ebf2db 11.81%,#faebb0 13.28%,#fbb76b 15.5%,#ef6b44 18.45%,#de4232 22.14%,#d8362c 26.57%,#dd4031 31.73%,#ec603f 37.64%,#f69355 44.28%,#fcc579 51.66%,#fce4a0 59.04%,#f9f2c4 67.16%,#f4f5d1 76.01%,#f3f4d3 85.61%,#f2f4d3 94.46%,#f2f4d3 100%)"></div><div style="top:91px;background:linear-gradient(90deg,#a9cee4 0%,#aacee5 2.21%,#add0e6 4.43%,#b1d3e7 5.9%,#b7d7e9 7.38%,#c2deec 8.86%,#d2e9f1 10.33%,#e8f1df 11.81%,#faeeba 13.28%,#fbbf74 15.5%,#f17749 18.45%,#e34d37 22.14%,#de4232 26.57%,#e24b36 31.73%,#ef6b44 37.64%,#f89e5a 44.28%,#fccc80 51.66%,#fbe8a9 59.04%,#f8f6cc 67.16%,#f0f4d6 76.01%,#eef3d8 85.61%,#eef3d8 94.46%,#eef3d8 100%)"></div><div style="top:92px;background:linear-gradient(90deg,#a9cee4 0%,#aacee5 2.21%,#acd0e5 4.43%,#b0d2e6 5.9%,#b5d6e8 7.38%,#bfdceb 8.86%,#cde5ef 10.33%,#e1efe7 11.81%,#f8f5cb 13.28%,#fcd083 15.5%,#f58e53 18.45%,#ee6441 22.14%,#e8583b 26.57%,#ec6140 31.73%,#f3804d 37.64%,#faaf64 44.28%,#fdd98c 51.66%,#faeeb8 59.04%,#f1f4d5 67.16%,#e9f1de 76.01%,#e7f1e0 85.61%,#e7f1e0 94.46%,#e7f1e0 100%)"></div><div style="top:93px;background:linear-gradient(90deg,#a9cde4 0%,#a9cee4 2.21%,#abcfe5 4.43%,#aed1e6 5.9%,#b3d4e7 7.38%,#bad9e9 8.86%,#c6e1ed 10.33%,#d8ecf1 11.81%,#edf3da 13.28%,#fce39d 15.5%,#faaf63 18.45%,#f4854f 22.14%,#f2794a 26.57%,#f3814d 31.73%,#f89e5a 37.64%,#fbc377 44.28%,#fce5a3 51.66%,#f7f6ce 59.04%,#e6f1e1 67.16%,#deeeea 76.01%,#ddeeec 85.61%,#dceeec 94.46%,#dceeec 100%)"></div><div style="top:94px;background:linear-gradient(90deg,#a8cde4 0%,#a9cee4 2.21%,#abcfe5 4.43%,#acd0e5 5.9%,#b0d2e6 7.38%,#b5d6e8 8.86%,#bedceb 10.33%,#cce5ef 11.81%,#deeeea 13.28%,#f9f2c3 15.5%,#fccf83 18.45%,#fab065 22.14%,#f9a55d 26.57%,#faac61 31.73%,#fbbf74 37.64%,#fdde92 44.28%,#f9f2c3 51.66%,#e8f1df 59.04%,#d8ecf1 67.16%,#cfe7f0 76.01%,#cee6ef 85.61%,#cee6ef 94.46%,#cee6ef 100%)"></div><div style="top:95px;background:linear-gradient(90deg,#a8cde4 0%,#a9cde4 2.21%,#aacee4 4.43%,#abcfe5 5.9%,#add0e6 7.38%,#b1d3e7 8.86%,#b7d7e8 10.33%,#c1ddeb 11.81%,#cee6ef 13.28%,#e7f1e0 15.5%,#faebb3 18.45%,#fdda8d 22.14%,#fcd184 26.57%,#fcd588 31.73%,#fce29c 37.64%,#f9f1c1 44.28%,#e8f1df 51.66%,#d4eaf1 59.04%,#c4dfec 67.16%,#bbdaea 76.01%,#bad9e9 85.61%,#bad9e9 94.46%,#bad9e9 100%)"></div><div style="top:96px;background:linear-gradient(90deg,#a8cde4 0%,#a8cde4 2.21%,#a9cee4 4.43%,#aacee4 5.9%,#abcfe5 7.38%,#add0e5 8.86%,#b0d2e6 10.33%,#b6d6e8 11.81%,#bedbea 13.28%,#cfe6f0 15.5%,#e5f0e2 18.45%,#f5f5d0 22.14%,#f8f4c8 26.57%,#f8f6cd 31.73%,#eff3d8 37.64%,#dfeee9 44.28%,#cbe4ee 51.66%,#b8d8e9 59.04%,#a9cee4 67.16%,#a4c9e2 76.01%,#a3c9e2 85.61%,#a3c9e2 94.46%,#a3c9e2 100%)"></div><div style="top:97px;background:linear-gradient(90deg,#a8cde4 0%,#a8cde4 2.21%,#a8cde4 4.43%,#a8cde4 5.9%,#a9cde4 7.38%,#a9cee4 8.86%,#aacee5 10.33%,#abcfe5 11.81%,#add0e5 13.28%,#b1d3e7 15.5%,#b8d7e9 18.45%,#bddbea 22.14%,#bfdceb 26.57%,#bddbea 31.73%,#b6d6e8 37.64%,#aacee5 44.28%,#9fc5e1 51.66%,#94bddd 59.04%,#89b4d9 67.16%,#84afd7 76.01%,#83afd6 85.61%,#84afd6 94.46%,#84afd6 100%)"></div><div style="top:98px;background:linear-gradient(90deg,#a8cde4 0%,#a8cde4 2.21%,#a8cde4 4.43%,#a7cde4 5.9%,#a7cce4 7.38%,#a6cbe3 8.86%,#a4cae3 10.33%,#a1c7e1 11.81%,#9cc3e0 13.28%,#95bddd 15.5%,#8eb8da 18.45%,#8cb6d9 22.14%,#8bb5d9 26.57%,#8ab4d9 31.73%,#86b2d7 37.64%,#81add5 44.28%,#7ba8d3 51.66%,#75a3d0 59.04%,#71a0ce 67.16%,#719fcd 76.01%,#73a1ce 85.61%,#74a2cf 94.46%,#75a3cf 100%)"></div><div style="top:99px;background:linear-gradient(90deg,#a8cde4 0%,#a8cde4 2.21%,#a8cde4 4.43%,#a7cce4 5.9%,#a6cce3 7.38%,#a4cae3 8.86%,#a1c7e1 10.33%,#9bc3df 11.81%,#93bcdc 13.28%,#86b1d7 15.5%,#7aa8d3 18.45%,#76a4d0 22.14%,#75a3d0 26.57%,#74a2cf 31.73%,#719fcd 37.64%,#6c9ccb 44.28%,#6898c8 51.66%,#6494c6 59.04%,#6293c5 67.16%,#6494c6 76.01%,#6797c8 85.61%,#6999c9 94.46%,#6a9aca 100%)"></div><div style="top:100px;background:linear-gradient(90deg,#a8cde4 0%,#a8cde4 2.21%,#a7cde4 4.43%,#a7cce4 5.9%,#a6cbe3 7.38%,#a3c9e2 8.86%,#9ec5e0 10.33%,#97bfde 11.81%,#8cb6da 13.28%,#7aa7d2 15.5%,#6b9aca 18.45%,#6696c7 22.14%,#6595c7 26.57%,#6393c6 31.73%,#6091c4 37.64%,#5c8dc2 44.28%,#598ac0 51.66%,#5688bf 59.04%,#5688bf 67.16%,#598ac0 76.01%,#5e8fc3 85.61%,#6191c4 94.46%,#6292c5 100%)"></div><div style="top:101px;background:linear-gradient(90deg,#a8cde4 0%,#a8cde4 2.21%,#a7cce4 4.43%,#a7cce3 5.9%,#a5cbe3 7.38%,#a2c8e2 8.86%,#9cc4e0 10.33%,#93bcdc 11.81%,#86b1d7 13.28%,#719fcd 15.5%,#5f90c3 18.45%,#588ac0 22.14%,#5788bf 26.57%,#5587be 31.73%,#5385bc 37.64%,#5081ba 44.28%,#4e7fb8 51.66%,#4d7eb8 59.04%,#4e7fb8 67.16%,#5183bb 76.01%,#5688be 85.61%,#598bc0 94.46%,#5b8cc1 100%)"></div><div style="top:102px;background:linear-gradient(90deg,#a8cde4 0%,#a8cde4 2.21%,#a7cce4 4.43%,#a6cce3 5.9%,#a5cae3 7.38%,#a1c7e1 8.86%,#9bc2df 10.33%,#90badb 11.81%,#81add6 13.28%,#6999c9 15.5%,#5587be 18.45%,#4f80b9 22.14%,#4e7fb8 26.57%,#4d7db7 31.73%,#4a7bb5 37.64%,#4878b3 44.28%,#4676b2 51.66%,#4676b2 59.04%,#4878b3 67.16%,#4c7cb6 76.01%,#5182bb 85.61%,#5486bd 94.46%,#5587be 100%)"></div><div style="top:103px;background:linear-gradient(90deg,#a8cde4 0%,#a8cde4 2.21%,#a7cce4 4.43%,#a6cbe3 5.9%,#a4cae3 7.38%,#a0c7e1 8.86%,#9ac1df 10.33%,#8eb8da 11.81%,#7daad4 13.28%,#6394c6 15.5%,#4f80b9 18.45%,#4979b4 22.14%,#4777b3 26.57%,#4676b2 31.73%,#4473b0 37.64%,#4270ae 44.28%,#416fad 51.66%,#4170ad 59.04%,#4372af 67.16%,#4877b3 76.01%,#4d7eb7 85.61%,#5082ba 94.46%,#5283bb 100%)"></div><div style="top:104px;background:linear-gradient(90deg,#a8cde4 0%,#a8cde4 2.21%,#a7cce4 4.43%,#a6cbe3 5.9%,#a4cae2 7.38%,#a0c6e1 8.86%,#99c0de 10.33%,#8cb6da 11.81%,#7ba8d3 13.28%,#5f90c4 15.5%,#4b7bb6 18.45%,#4473b0 22.14%,#4372af 26.57%,#4271ae 31.73%,#3f6eac 37.64%,#3d6baa 44.28%,#3c6aa9 51.66%,#3d6baa 59.04%,#406eac 67.16%,#4574b0 76.01%,#4a7bb5 85.61%,#4e7fb8 94.46%,#4f80b9 100%)"></div><div style="top:105px;background:linear-gradient(90deg,#a8cde4 0%,#a8cde4 2.21%,#a7cce4 4.43%,#a6cbe3 5.9%,#a4cae2 7.38%,#a0c6e1 8.86%,#98c0de 10.33%,#8bb6d9 11.81%,#79a7d2 13.28%,#5d8ec2 15.5%,#4878b4 18.45%,#4170ae 22.14%,#406fad 26.57%,#3f6dac 31.73%,#3d6baa 37.64%,#3b68a8 44.28%,#3a67a7 51.66%,#3b69a8 59.04%,#3e6cab 67.16%,#4372af 76.01%,#4979b4 85.61%,#4d7db7 94.46%,#4e7fb8 100%)"></div><div style="top:106px;background:linear-gradient(90deg,#a8cde4 0%,#a8cde4 2.21%,#a7cce4 4.43%,#a6cbe3 5.9%,#a4cae2 7.38%,#a0c6e1 8.86%,#98c0de 10.33%,#8bb5d9 11.81%,#79a6d2 13.28%,#5c8dc2 15.5%,#4877b3 18.45%,#416fad 22.14%,#3f6eac 26.57%,#3e6cab 31.73%,#3c6aa9 37.64%,#3a67a7 44.28%,#3966a7 51.66%,#3a68a8 59.04%,#3d6baa 67.16%,#4271ae 76.01%,#4878b4 85.61%,#4c7db7 94.46%,#4e7eb8 100%)"></div><div style="top:107px;background:linear-gradient(90deg,#a8cde4 0%,#a8cde4 2.21%,#a7cce4 4.43%,#a6cbe3 5.9%,#a4cae2 7.38%,#a0c6e1 8.86%,#98c0de 10.33%,#8bb6d9 11.81%,#79a7d2 13.28%,#5d8ec2 15.5%,#4979b4 18.45%,#4270ae 22.14%,#406fad 26.57%,#3f6eac 31.73%,#3d6baa 37.64%,#3b68a8 44.28%,#3a68a8 51.66%,#3b69a8 59.04%,#3e6cab 67.16%,#4372af 76.01%,#4979b4 85.61%,#4d7db7 94.46%,#4e7fb8 100%)"></div><div style="top:108px;background:linear-gradient(90deg,#a8cde4 0%,#a8cde4 2.21%,#a7cce4 4.43%,#a6cbe3 5.9%,#a4cae3 7.38%,#a0c7e1 8.86%,#99c1de 10.33%,#8db7da 11.81%,#7ba9d3 13.28%,#6091c4 15.5%,#4c7cb6 18.45%,#4574b1 22.14%,#4473b0 26.57%,#4372af 31.73%,#406fad 37.64%,#3e6cab 44.28%,#3d6baa 51.66%,#3e6cab 59.04%,#416fad 67.16%,#4575b1 76.01%,#4b7bb6 85.61%,#4f7fb9 94.46%,#5081ba 100%)"></div><div style="top:109px;background:linear-gradient(90deg,#a8cde4 0%,#a8cde4 2.21%,#a7cce4 4.43%,#a6cce3 5.9%,#a4cae3 7.38%,#a1c7e1 8.86%,#9ac2df 10.33%,#8fb8db 11.81%,#7eabd5 13.28%,#6595c7 15.5%,#5182ba 18.45%,#4a7bb5 22.14%,#4979b4 26.57%,#4878b3 31.73%,#4675b1 37.64%,#4473af 44.28%,#4271ae 51.66%,#4372af 59.04%,#4574b0 67.16%,#4979b4 76.01%,#4e7fb8 85.61%,#5283bb 94.46%,#5384bc 100%)"></div><div style="top:110px;background:linear-gradient(90deg,#a8cde4 0%,#a8cde4 2.21%,#a7cce4 4.43%,#a6cce3 5.9%,#a5cae3 7.38%,#a1c8e2 8.86%,#9bc3df 10.33%,#91badc 11.81%,#83afd6 13.28%,#6c9bcb 15.5%,#588ac0 18.45%,#5283bb 22.14%,#5182bb 26.57%,#5081ba 31.73%,#4d7eb8 37.64%,#4b7bb6 44.28%,#4979b4 51.66%,#4979b4 59.04%,#4a7bb5 67.16%,#4e7fb8 76.01%,#5384bc 85.61%,#5688be 94.46%,#5789bf 100%)"></div><div style="top:111px;background:linear-gradient(90deg,#a8cde4 0%,#a8cde4 2.21%,#a7cce4 4.43%,#a7cce3 5.9%,#a5cbe3 7.38%,#a2c8e2 8.86%,#9dc4e0 10.33%,#95bddd 11.81%,#88b3d8 13.28%,#74a2cf 15.5%,#6394c6 18.45%,#5d8ec2 22.14%,#5c8dc2 26.57%,#5b8cc1 31.73%,#5789bf 37.64%,#5486bd 44.28%,#5283bb 51.66%,#5182bb 59.04%,#5283bb 67.16%,#5486bd 76.01%,#598bc0 85.61%,#5d8ec2 94.46%,#5e8fc3 100%)"></div><div style="top:112px;background:linear-gradient(90deg,#a8cde4 0%,#a8cde4 2.21%,#a7cde4 4.43%,#a7cce4 5.9%,#a6cbe3 7.38%,#a4c9e2 8.86%,#9fc6e1 10.33%,#98c0de 11.81%,#8fb8db 13.28%,#7eabd4 15.5%,#719fcd 18.45%,#6b9bca 22.14%,#6a9aca 26.57%,#6999c9 31.73%,#6696c7 37.64%,#6292c5 44.28%,#5e8fc3 51.66%,#5c8dc2 59.04%,#5b8dc1 67.16%,#5e8fc3 76.01%,#6292c5 85.61%,#6595c7 94.46%,#6696c7 100%)"></div><div style="top:113px;background:linear-gradient(90deg,#a8cde4 0%,#a8cde4 2.21%,#a8cde4 4.43%,#a7cce4 5.9%,#a6cce3 7.38%,#a5cae3 8.86%,#a2c8e2 10.33%,#9dc4e0 11.81%,#96bedd 13.28%,#8ab4d9 15.5%,#80acd5 18.45%,#7ca9d3 22.14%,#7ba8d3 26.57%,#7aa7d2 31.73%,#77a4d0 37.64%,#72a1ce 44.28%,#6e9dcc 51.66%,#6a99ca 59.04%,#6897c8 67.16%,#6998c9 76.01%,#6c9bca 85.61%,#6e9dcc 94.46%,#6e9dcc 100%)"></div><div style="top:114px;background:linear-gradient(90deg,#a8cde4 0%,#a8cde4 2.21%,#a8cde4 4.43%,#a8cde4 5.9%,#a7cce4 7.38%,#a6cce3 8.86%,#a5cae3 10.33%,#a2c8e2 11.81%,#9ec5e0 13.28%,#97c0de 15.5%,#92bbdc 18.45%,#90b9db 22.14%,#8fb9db 26.57%,#8eb8da 31.73%,#8ab5d9 37.64%,#85b1d7 44.28%,#7facd5 51.66%,#7aa7d2 59.04%,#76a4d0 67.16%,#75a3d0 76.01%,#77a5d1 85.61%,#78a5d1 94.46%,#78a6d1 100%)"></div><div style="top:115px;background:linear-gradient(90deg,#a8cde4 0%,#a8cde4 2.21%,#a8cde4 4.43%,#a8cde4 5.9%,#a9cde4 7.38%,#a9cee4 8.86%,#aacee4 10.33%,#abcfe5 11.81%,#acd0e5 13.28%,#b0d3e6 15.5%,#b7d7e8 18.45%,#bcdaea 22.14%,#bedbea 26.57%,#bcdaea 31.73%,#b5d5e8 37.64%,#aacee4 44.28%,#a0c6e1 51.66%,#97bfde 59.04%,#8fb9db 67.16%,#8cb6d9 76.01%,#8bb6d9 85.61%,#8bb6d9 94.46%,#8bb6d9 100%)"></div><div style="top:116px;background:linear-gradient(90deg,#a8cde4 0%,#a8cde4 2.21%,#a9cee4 4.43%,#aacee4 5.9%,#abcfe5 7.38%,#add0e5 8.86%,#b0d3e7 10.33%,#b6d6e8 11.81%,#bedceb 13.28%,#cfe7f0 15.5%,#e5f0e2 18.45%,#f4f5d2 22.14%,#f8f5cb 26.57%,#f6f6cf 31.73%,#ecf2da 37.64%,#ddeeec 44.28%,#c8e2ee 51.66%,#b6d6e8 59.04%,#a7cde4 67.16%,#a3c9e2 76.01%,#a2c8e2 85.61%,#a2c8e2 94.46%,#a2c8e2 100%)"></div><div style="top:117px;background:linear-gradient(90deg,#a8cde4 0%,#a9cde4 2.21%,#aacee5 4.43%,#abcfe5 5.9%,#add1e6 7.38%,#b1d3e7 8.86%,#b8d7e9 10.33%,#c2deec 11.81%,#cfe7f0 13.28%,#e8f1df 15.5%,#faecb5 18.45%,#fdde92 22.14%,#fdd68a 26.57%,#fddc8f 31.73%,#fbe6a6 37.64%,#f8f6cc 44.28%,#e1efe6 51.66%,#cde5ef 59.04%,#bcdaea 67.16%,#b4d5e8 76.01%,#b3d4e7 85.61%,#b3d4e7 94.46%,#b3d4e7 100%)"></div><div style="top:118px;background:linear-gradient(90deg,#a8cde4 0%,#a9cee4 2.21%,#abcfe5 4.43%,#add0e5 5.9%,#b0d2e6 7.38%,#b6d6e8 8.86%,#bfdceb 10.33%,#cde6ef 11.81%,#dfeee9 13.28%,#f9f3c4 15.5%,#fdd589 18.45%,#fbba6f 22.14%,#fab267 26.57%,#fbb86d 31.73%,#fccd81 37.64%,#fbe6a6 44.28%,#f2f4d4 51.66%,#dceeec 59.04%,#cbe4ee 67.16%,#c2deec 76.01%,#c1deeb 85.61%,#c1ddeb 94.46%,#c1ddeb 100%)"></div><div style="top:119px;background:linear-gradient(90deg,#a9cde4 0%,#aacee4 2.21%,#accfe5 4.43%,#aed1e6 5.9%,#b3d4e7 7.38%,#bbd9ea 8.86%,#c7e1ed 10.33%,#d8ecf1 11.81%,#ecf2db 13.28%,#fbe6a5 15.5%,#fbbc70 18.45%,#f89f5a 22.14%,#f69456 26.57%,#f89e5a 31.73%,#fbb76c 37.64%,#fddb8e 44.28%,#f9f2c3 51.66%,#e6f1e1 59.04%,#d5eaf1 67.16%,#cbe4ef 76.01%,#cae3ee 85.61%,#cae3ee 94.46%,#cae3ee 100%)"></div><div style="top:120px;background:linear-gradient(90deg,#a9cde4 0%,#aacee5 2.21%,#acd0e5 4.43%,#afd2e6 5.9%,#b5d5e8 7.38%,#bedbea 8.86%,#cbe4ef 10.33%,#deeeea 11.81%,#f4f5d2 13.28%,#fdde92 15.5%,#faad62 18.45%,#f58c52 22.14%,#f3824e 26.57%,#f58c52 31.73%,#faab60 37.64%,#fcd084 44.28%,#faedb7 51.66%,#ebf2dc 59.04%,#d9edef 67.16%,#d0e8f0 76.01%,#cfe7f0 85.61%,#cee6ef 94.46%,#cee6ef 100%)"></div><div style="top:121px;background:linear-gradient(90deg,#a9cee4 0%,#aacee5 2.21%,#acd0e5 4.43%,#b0d2e6 5.9%,#b5d6e8 7.38%,#bfdceb 8.86%,#cde5ef 10.33%,#e0efe8 11.81%,#f6f5cf 13.28%,#fdda8d 15.5%,#faa95f 18.45%,#f48750 22.14%,#f27e4c 26.57%,#f48850 31.73%,#faa85e 37.64%,#fcce81 44.28%,#faecb5 51.66%,#ecf2da 59.04%,#daedee 67.16%,#d1e8f0 76.01%,#d0e7f0 85.61%,#cfe7f0 94.46%,#cfe7f0 100%)"></div><div style="top:122px;background:linear-gradient(90deg,#a9cee4 0%,#aacee5 2.21%,#acd0e5 4.43%,#b0d2e6 5.9%,#b5d6e8 7.38%,#bedceb 8.86%,#cce5ef 10.33%,#dfeee9 11.81%,#f5f5d1 13.28%,#fddd90 15.5%,#faac61 18.45%,#f58b52 22.14%,#f3814d 26.57%,#f58b52 31.73%,#faab60 37.64%,#fcd083 44.28%,#faedb7 51.66%,#ebf2dc 59.04%,#d9edef 67.16%,#d0e7f0 76.01%,#cfe6ef 85.61%,#cee6ef 94.46%,#cee6ef 100%)"></div><div style="top:123px;background:linear-gradient(90deg,#a9cde4 0%,#aacee5 2.21%,#acd0e5 4.43%,#afd2e6 5.9%,#b4d5e8 7.38%,#bcdaea 8.86%,#c9e3ee 10.33%,#dbeded 11.81%,#f0f4d6 13.28%,#fce29a 15.5%,#fbb469 18.45%,#f69556 22.14%,#f58b52 26.57%,#f69556 31.73%,#fab166 37.64%,#fdd689 44.28%,#f9f0be 51.66%,#e8f1df 59.04%,#d7ecf2 67.16%,#cde6ef 76.01%,#cce5ef 85.61%,#cbe4ef 94.46%,#cbe4ef 100%)"></div><div style="top:124px;background:linear-gradient(90deg,#a9cde4 0%,#a9cee4 2.21%,#abcfe5 4.43%,#aed1e6 5.9%,#b2d4e7 7.38%,#bad9e9 8.86%,#c5e0ed 10.33%,#d6ebf2 11.81%,#e9f2dd 13.28%,#fbe8ab 15.5%,#fbc175 18.45%,#f9a65d 22.14%,#f89c59 26.57%,#f9a55d 31.73%,#fbbd71 37.64%,#fddf93 44.28%,#f8f4c9 51.66%,#e3f0e5 59.04%,#d1e8f0 67.16%,#c8e2ee 76.01%,#c7e1ed 85.61%,#c7e1ed 94.46%,#c7e1ed 100%)"></div><div style="top:125px;background:linear-gradient(90deg,#a8cde4 0%,#a9cee4 2.21%,#abcfe5 4.43%,#add0e5 5.9%,#b1d3e7 7.38%,#b7d7e8 8.86%,#c0ddeb 10.33%,#cfe6ef 11.81%,#e0efe7 13.28%,#f9f1c2 15.5%,#fcd487 18.45%,#fbb96e 22.14%,#fab166 26.57%,#fbb86c 31.73%,#fccd80 37.64%,#fbe6a6 44.28%,#f2f4d4 51.66%,#dceded 59.04%,#cae4ee 67.16%,#c2deec 76.01%,#c0ddeb 85.61%,#c0ddeb 94.46%,#c0ddeb 100%)"></div><div style="top:126px;background:linear-gradient(90deg,#a8cde4 0%,#a9cee4 2.21%,#aacee5 4.43%,#accfe5 5.9%,#afd1e6 7.38%,#b3d4e7 8.86%,#bbd9ea 10.33%,#c6e1ed 11.81%,#d6ebf2 13.28%,#f0f4d6 15.5%,#fce5a2 18.45%,#fcd184 22.14%,#fcc97d 26.57%,#fcce82 31.73%,#fde096 37.64%,#f9f0bf 44.28%,#e7f1e0 51.66%,#d2e9f1 59.04%,#c1ddeb 67.16%,#b9d8e9 76.01%,#b8d7e9 85.61%,#b7d7e9 94.46%,#b7d7e9 100%)"></div><div style="top:127px;background:linear-gradient(90deg,#a8cde4 0%,#a9cde4 2.21%,#a9cee4 4.43%,#abcfe5 5.9%,#add0e5 7.38%,#b0d2e6 8.86%,#b5d6e8 10.33%,#bedbeb 11.81%,#cae3ee 13.28%,#e0efe8 15.5%,#f8f4c8 18.45%,#fbe7a7 22.14%,#fce29c 26.57%,#fce5a3 31.73%,#faeeba 37.64%,#eff3d7 44.28%,#d9edef 51.66%,#c5e0ed 59.04%,#b5d6e8 67.16%,#add0e6 76.01%,#acd0e5 85.61%,#acd0e5 94.46%,#acd0e5 100%)"></div><div style="top:128px;background:linear-gradient(90deg,#a8cde4 0%,#a8cde4 2.21%,#a9cee4 4.43%,#aacee4 5.9%,#abcfe5 7.38%,#add0e5 8.86%,#b0d3e6 10.33%,#b6d6e8 11.81%,#bedbeb 13.28%,#cee6ef 15.5%,#e4f0e4 18.45%,#f2f4d3 22.14%,#f7f6ce 26.57%,#f5f5d1 31.73%,#ebf2dc 37.64%,#dbedee 44.28%,#c6e1ed 51.66%,#b4d5e8 59.04%,#a7cce3 67.16%,#a2c8e2 76.01%,#a1c8e2 85.61%,#a1c8e2 94.46%,#a1c8e2 100%)"></div><div style="top:129px;background:linear-gradient(90deg,#a8cde4 0%,#a8cde4 2.21%,#a8cde4 4.43%,#a9cde4 5.9%,#a9cee4 7.38%,#aacee5 8.86%,#accfe5 10.33%,#aed1e6 11.81%,#b2d4e7 13.28%,#bad9e9 15.5%,#c7e1ed 18.45%,#d1e8f0 22.14%,#d4eaf1 26.57%,#d2e9f1 31.73%,#cae3ee 37.64%,#bcdaea 44.28%,#acd0e5 51.66%,#a1c7e1 59.04%,#99c1de 67.16%,#95bddd 76.01%,#95bddd 85.61%,#95bddd 94.46%,#95bddd 100%)"></div><div style="top:130px;background:linear-gradient(90deg,#a8cde4 0%,#a8cde4 2.21%,#a8cde4 4.43%,#a8cde4 5.9%,#a8cde4 7.38%,#a7cde4 8.86%,#a7cce4 10.33%,#a6cce3 11.81%,#a5cbe3 13.28%,#a3c9e2 15.5%,#a1c8e2 18.45%,#a1c7e1 22.14%,#a1c7e1 26.57%,#9fc6e1 31.73%,#9cc3df 37.64%,#96bfdd 44.28%,#90b9db 51.66%,#89b4d8 59.04%,#83afd6 67.16%,#81add5 76.01%,#81add6 85.61%,#82aed6 94.46%,#82aed6 100%)"></div><div style="top:131px;background:linear-gradient(90deg,#a8cde4 0%,#a8cde4 2.21%,#a8cde4 4.43%,#a8cde4 5.9%,#a7cce4 7.38%,#a7cce4 8.86%,#a5cbe3 10.33%,#a3c9e2 11.81%,#a0c7e1 13.28%,#9bc3df 15.5%,#97bfde 18.45%,#96bedd 22.14%,#95bedd 26.57%,#94bddd 31.73%,#90badb 37.64%,#8bb6d9 44.28%,#85b1d7 51.66%,#7facd5 59.04%,#7ba8d3 67.16%,#79a7d2 76.01%,#7ba8d3 85.61%,#7ba9d3 94.46%,#7ca9d3 100%)"></div><div style="top:132px;background:linear-gradient(90deg,#a8cde4 0%,#a8cde4 2.21%,#a8cde4 4.43%,#a8cde4 5.9%,#a7cce4 7.38%,#a6cbe3 8.86%,#a4cae3 10.33%,#a1c7e1 11.81%,#9dc4e0 13.28%,#96bedd 15.5%,#8fb9db 18.45%,#8db7da 22.14%,#8cb7da 26.57%,#8bb6d9 31.73%,#88b3d8 37.64%,#83afd6 44.28%,#7daad4 51.66%,#78a6d1 59.04%,#75a3cf 67.16%,#74a2cf 76.01%,#76a4d0 85.61%,#77a5d1 94.46%,#77a5d1 100%)"></div><div style="top:133px;background:linear-gradient(90deg,#a8cde4 0%,#a8cde4 2.21%,#a8cde4 4.43%,#a7cce4 5.9%,#a7cce4 7.38%,#a6cbe3 8.86%,#a3c9e2 10.33%,#9fc6e1 11.81%,#9ac2df 13.28%,#91badb 15.5%,#89b4d8 18.45%,#86b1d7 22.14%,#85b1d7 26.57%,#84b0d7 31.73%,#81add5 37.64%,#7ca9d3 44.28%,#77a5d1 51.66%,#73a1ce 59.04%,#709ecd 67.16%,#6f9ecd 76.01%,#72a0ce 85.61%,#73a2cf 94.46%,#74a2cf 100%)"></div><div style="top:134px;background:linear-gradient(90deg,#a8cde4 0%,#a8cde4 2.21%,#a8cde4 4.43%,#a7cce4 5.9%,#a7cce3 7.38%,#a5cbe3 8.86%,#a2c8e2 10.33%,#9ec5e0 11.81%,#98c0de 13.28%,#8db7da 15.5%,#84afd6 18.45%,#80add5 22.14%,#7facd5 26.57%,#7eabd4 31.73%,#7ba8d3 37.64%,#76a4d0 44.28%,#72a0ce 51.66%,#6e9dcc 59.04%,#6b9bca 67.16%,#6c9bcb 76.01%,#6f9dcc 85.61%,#709fcd 94.46%,#719fcd 100%)"></div></div><div class="hm" style="left:37px;top:143px"><div style="top:0px;background:linear-gradient(90deg,#a8cde4 0%,#a8cde4 2.21%,#a9cde4 4.43%,#a9cee4 5.9%,#aacee5 7.38%,#abcfe5 8.86%,#aed1e6 10.33%,#b3d4e7 11.81%,#bbdaea 13.28%,#cde6ef 15.5%,#e6f1e1 18.45%,#f6f6cf 22.14%,#f8f4c7 26.57%,#f6f5cf 31.73%,#e6f1e1 37.64%,#d3e9f1 44.28%,#c7e1ed 51.66%,#c3dfec 59.04%,#c2deec 67.16%,#c2deec 76.01%,#c2deec 85.61%,#c2deec 94.46%,#c2deec 100%)"></div><div style="top:1px;background:linear-gradient(90deg,#a8cde4 0%,#a8cde4 2.21%,#a8cde4 4.43%,#a9cee4 5.9%,#aacee4 7.38%,#abcfe5 8.86%,#add1e6 10.33%,#b2d3e7 11.81%,#b9d8e9 13.28%,#c9e3ee 15.5%,#e2efe5 18.45%,#f3f5d2 22.14%,#f8f6cd 26.57%,#f4f5d2 31.73%,#e4f0e3 37.64%,#d2e9f0 44.28%,#c6e1ed 51.66%,#c2deec 59.04%,#c2deec 67.16%,#c2deec 76.01%,#c2deec 85.61%,#c2deec 94.46%,#c2deec 100%)"></div><div style="top:2px;background:linear-gradient(90deg,#a8cde4 0%,#a8cde4 2.21%,#a8cde4 4.43%,#a8cde4 5.9%,#a9cde4 7.38%,#a9cee4 8.86%,#aacee5 10.33%,#accfe5 11.81%,#aed1e6 13.28%,#b6d6e8 15.5%,#c8e2ee 18.45%,#dbedee 22.14%,#e2efe6 26.57%,#dfeee9 31.73%,#d4eaf1 37.64%,#c6e1ed 44.28%,#bedbea 51.66%,#bbdaea 59.04%,#bbd9ea 67.16%,#bbd9ea 76.01%,#bbd9ea 85.61%,#bbd9ea 94.46%,#bbd9ea 100%)"></div><div style="top:3px;background:linear-gradient(90deg,#a8cde4 0%,#a8cde4 2.21%,#a8cde4 4.43%,#a8cde4 5.9%,#a8cde4 7.38%,#a8cde4 8.86%,#a7cde4 10.33%,#a7cce4 11.81%,#a7cce4 13.28%,#a6cce3 15.5%,#a6cbe3 18.45%,#a5cbe3 22.14%,#a5cbe3 26.57%,#a5cbe3 31.73%,#a5cbe3 37.64%,#a5cbe3 44.28%,#a5cbe3 51.66%,#a5cbe3 59.04%,#a5cbe3 67.16%,#a5cbe3 76.01%,#a5cbe3 85.61%,#a6cbe3 94.46%,#a6cbe3 100%)"></div><div style="top:4px;background:linear-gradient(90deg,#a8cde4 0%,#a8cde4 2.21%,#a8cde4 4.43%,#a7cce4 5.9%,#a7cce4 7.38%,#a6cbe3 8.86%,#a5cae3 10.33%,#a3c9e2 11.81%,#a1c7e1 13.28%,#9dc4e0 15.5%,#99c1df 18.45%,#98c0de 22.14%,#97bfde 26.57%,#97bfde 31.73%,#97bfde 37.64%,#97bfde 44.28%,#97bfde 51.66%,#97bfde 59.04%,#98c0de 67.16%,#98c0de 76.01%,#98c0de 85.61%,#98c0de 94.46%,#98c0de 100%)"></div><div style="top:5px;background:linear-gradient(90deg,#a8cde4 0%,#a8cde4 2.21%,#a8cde4 4.43%,#a7cce4 5.9%,#a6cce3 7.38%,#a5cbe3 8.86%,#a4cae2 10.33%,#a2c8e2 11.81%,#9fc5e0 13.28%,#9ac1df 15.5%,#95bedd 18.45%,#93bcdc 22.14%,#92bbdc 26.57%,#92bbdc 31.73%,#92bbdc 37.64%,#92bbdc 44.28%,#92bbdc 51.66%,#92bbdc 59.04%,#93bcdc 67.16%,#93bcdc 76.01%,#93bcdc 85.61%,#93bcdc 94.46%,#94bcdc 100%)"></div><div style="top:6px;background:linear-gradient(90deg,#a8cde4 0%,#a8cde4 2.21%,#a8cde4 4.43%,#a7cce4 5.9%,#a7cce4 7.38%,#a6cbe3 8.86%,#a5cae3 10.33%,#a3c9e2 11.81%,#a0c7e1 13.28%,#9dc4e0 15.5%,#99c1de 18.45%,#97bfde 22.14%,#96bedd 26.57%,#96bedd 31.73%,#96bedd 37.64%,#96bedd 44.28%,#96bfdd 51.66%,#96bfdd 59.04%,#97bfde 67.16%,#97bfde 76.01%,#97bfde 85.61%,#97c0de 94.46%,#98c0de 100%)"></div><div style="top:7px;background:linear-gradient(90deg,#a8cde4 0%,#a8cde4 2.21%,#a8cde4 4.43%,#a8cde4 5.9%,#a8cde4 7.38%,#a8cde4 8.86%,#a7cde4 10.33%,#a7cce4 11.81%,#a7cce4 13.28%,#a6cbe3 15.5%,#a5cbe3 18.45%,#a5cbe3 22.14%,#a5cbe3 26.57%,#a5cbe3 31.73%,#a5cbe3 37.64%,#a5cbe3 44.28%,#a5cbe3 51.66%,#a5cbe3 59.04%,#a5cbe3 67.16%,#a5cbe3 76.01%,#a5cbe3 85.61%,#a5cbe3 94.46%,#a5cbe3 100%)"></div><div style="top:8px;background:linear-gradient(90deg,#a8cde4 0%,#a8cde4 2.21%,#a8cde4 4.43%,#a8cde4 5.9%,#a9cde4 7.38%,#a9cee4 8.86%,#aacee5 10.33%,#acd0e5 11.81%,#afd2e6 13.28%,#b8d7e9 15.5%,#cbe4ef 18.45%,#e0efe8 22.14%,#e7f1e0 26.57%,#e5f0e3 31.73%,#d9edf0 37.64%,#cbe4ee 44.28%,#c2deec 51.66%,#bfdceb 59.04%,#bfdceb 67.16%,#bfdceb 76.01%,#bfdceb 85.61%,#bfdceb 94.46%,#bfdceb 100%)"></div><div style="top:9px;background:linear-gradient(90deg,#a8cde4 0%,#a8cde4 2.21%,#a8cde4 4.43%,#a9cee4 5.9%,#aacee5 7.38%,#abcfe5 8.86%,#aed1e6 10.33%,#b3d4e7 11.81%,#bbdaea 13.28%,#cee6ef 15.5%,#eaf2dc 18.45%,#f9f2c2 22.14%,#faedb7 26.57%,#f9f1c0 31.73%,#eef3d8 37.64%,#dbedee 44.28%,#cee6ef 51.66%,#cae4ee 59.04%,#cae3ee 67.16%,#cae3ee 76.01%,#cae3ee 85.61%,#cae3ee 94.46%,#cae3ee 100%)"></div><div style="top:10px;background:linear-gradient(90deg,#a8cde4 0%,#a8cde4 2.21%,#a9cde4 4.43%,#a9cee4 5.9%,#aacee5 7.38%,#acd0e5 8.86%,#b0d2e6 10.33%,#b6d6e8 11.81%,#bfdceb 13.28%,#d5eaf1 15.5%,#f1f4d5 18.45%,#faedb5 22.14%,#fbe8ab 26.57%,#faecb5 31.73%,#f2f4d3 37.64%,#deeeea 44.28%,#d1e8f0 51.66%,#cde6ef 59.04%,#cce5ef 67.16%,#cce5ef 76.01%,#cce5ef 85.61%,#cce5ef 94.46%,#cce5ef 100%)"></div><div style="top:11px;background:linear-gradient(90deg,#a8cde4 0%,#a8cde4 2.21%,#a8cde4 4.43%,#a9cee4 5.9%,#aacee4 7.38%,#abcfe5 8.86%,#add1e6 10.33%,#b2d4e7 11.81%,#b9d8e9 13.28%,#cbe4ee 15.5%,#e7f1e0 18.45%,#f8f4c8 22.14%,#f9efbb 26.57%,#f9f2c4 31.73%,#ecf2da 37.64%,#daedef 44.28%,#cee6ef 51.66%,#cae3ee 59.04%,#c9e3ee 67.16%,#c9e3ee 76.01%,#c9e3ee 85.61%,#c9e3ee 94.46%,#c9e3ee 100%)"></div><div style="top:12px;background:linear-gradient(90deg,#a8cde4 0%,#a8cde4 2.21%,#a8cde4 4.43%,#a8cde4 5.9%,#a9cde4 7.38%,#a9cee4 8.86%,#abcfe5 10.33%,#add0e5 11.81%,#b1d3e7 13.28%,#bbd9ea 15.5%,#d1e8f0 18.45%,#e6f0e1 22.14%,#edf3d9 26.57%,#ebf2dc 31.73%,#deeeea 37.64%,#cfe7f0 44.28%,#c5e0ed 51.66%,#c2deec 59.04%,#c2deec 67.16%,#c2deec 76.01%,#c2deec 85.61%,#c2deec 94.46%,#c2deec 100%)"></div><div style="top:13px;background:linear-gradient(90deg,#a8cde4 0%,#a8cde4 2.21%,#a8cde4 4.43%,#a8cde4 5.9%,#a8cde4 7.38%,#a8cde4 8.86%,#a9cde4 10.33%,#a9cee4 11.81%,#aacee5 13.28%,#add1e6 15.5%,#b6d6e8 18.45%,#c4dfec 22.14%,#cbe4ee 26.57%,#cae3ee 31.73%,#c3dfec 37.64%,#bbdaea 44.28%,#b6d6e8 51.66%,#b5d6e8 59.04%,#b5d5e8 67.16%,#b5d5e8 76.01%,#b5d5e8 85.61%,#b5d5e8 94.46%,#b5d5e8 100%)"></div><div style="top:14px;background:linear-gradient(90deg,#a8cde4 0%,#a8cde4 2.21%,#a8cde4 4.43%,#a8cde4 5.9%,#a7cce4 7.38%,#a7cce4 8.86%,#a6cbe3 10.33%,#a5cae3 11.81%,#a3c9e2 13.28%,#a1c7e1 15.5%,#9fc6e1 18.45%,#9ec5e0 22.14%,#9dc4e0 26.57%,#9dc4e0 31.73%,#9dc4e0 37.64%,#9dc4e0 44.28%,#9dc4e0 51.66%,#9ec5e0 59.04%,#9ec5e0 67.16%,#9ec5e0 76.01%,#9ec5e0 85.61%,#9ec5e0 94.46%,#9ec5e0 100%)"></div><div style="top:15px;background:linear-gradient(90deg,#a8cde4 0%,#a8cde4 2.21%,#a7cde4 4.43%,#a7cce4 5.9%,#a6cce3 7.38%,#a5cbe3 8.86%,#a3c9e2 10.33%,#a1c7e1 11.81%,#9ec5e0 13.28%,#98c0de 15.5%,#93bcdc 18.45%,#90badb 22.14%,#8fb9db 26.57%,#8fb9db 31.73%,#8fb9db 37.64%,#8fb9db 44.28%,#90b9db 51.66%,#90b9db 59.04%,#90badb 67.16%,#91badb 76.01%,#91badb 85.61%,#91bbdc 94.46%,#91bbdc 100%)"></div><div style="top:16px;background:linear-gradient(90deg,#a8cde4 0%,#a8cde4 2.21%,#a7cce4 4.43%,#a7cce4 5.9%,#a6cbe3 7.38%,#a4cae3 8.86%,#a2c8e2 10.33%,#9ec5e0 11.81%,#9ac2df 13.28%,#93bcdc 15.5%,#8cb6da 18.45%,#88b3d8 22.14%,#87b2d8 26.57%,#87b2d8 31.73%,#87b2d8 37.64%,#87b2d8 44.28%,#88b3d8 51.66%,#88b3d8 59.04%,#88b3d8 67.16%,#89b4d8 76.01%,#89b4d9 85.61%,#8ab4d9 94.46%,#8ab5d9 100%)"></div><div style="top:17px;background:linear-gradient(90deg,#a8cde4 0%,#a8cde4 2.21%,#a7cce4 4.43%,#a7cce4 5.9%,#a6cbe3 7.38%,#a4cae3 8.86%,#a2c8e2 10.33%,#9ec5e0 11.81%,#9ac1df 13.28%,#93bcdc 15.5%,#8bb6d9 18.45%,#88b3d8 22.14%,#86b2d8 26.57%,#86b2d7 31.73%,#86b2d7 37.64%,#86b2d7 44.28%,#87b2d8 51.66%,#87b2d8 59.04%,#88b3d8 67.16%,#88b3d8 76.01%,#89b3d8 85.61%,#89b4d8 94.46%,#89b4d9 100%)"></div><div style="top:18px;background:linear-gradient(90deg,#a8cde4 0%,#a8cde4 2.21%,#a7cde4 4.43%,#a7cce4 5.9%,#a6cbe3 7.38%,#a5cae3 8.86%,#a3c9e2 10.33%,#a0c6e1 11.81%,#9cc3e0 13.28%,#96bfdd 15.5%,#91badb 18.45%,#8db7da 22.14%,#8db7da 26.57%,#8cb6da 31.73%,#8cb6da 37.64%,#8cb7da 44.28%,#8db7da 51.66%,#8db7da 59.04%,#8db7da 67.16%,#8eb8da 76.01%,#8eb8da 85.61%,#8fb8db 94.46%,#8fb8db 100%)"></div><div style="top:19px;background:linear-gradient(90deg,#a8cde4 0%,#a8cde4 2.21%,#a8cde4 4.43%,#a7cde4 5.9%,#a7cce4 7.38%,#a6cce3 8.86%,#a5cbe3 10.33%,#a4c9e2 11.81%,#a1c8e2 13.28%,#9ec5e0 15.5%,#9bc2df 18.45%,#99c1de 22.14%,#99c0de 26.57%,#99c0de 31.73%,#99c0de 37.64%,#99c0de 44.28%,#99c1de 51.66%,#99c1de 59.04%,#99c1de 67.16%,#99c1df 76.01%,#9ac1df 85.61%,#9ac1df 94.46%,#9ac2df 100%)"></div><div style="top:20px;background:linear-gradient(90deg,#a8cde4 0%,#a8cde4 2.21%,#a8cde4 4.43%,#a8cde4 5.9%,#a8cde4 7.38%,#a8cde4 8.86%,#a8cde4 10.33%,#a9cde4 11.81%,#a9cee4 13.28%,#aacfe5 15.5%,#aed1e6 18.45%,#b6d6e8 22.14%,#bad9e9 26.57%,#bad9e9 31.73%,#b6d6e8 37.64%,#b2d4e7 44.28%,#b0d2e6 51.66%,#afd1e6 59.04%,#afd1e6 67.16%,#afd1e6 76.01%,#afd1e6 85.61%,#afd1e6 94.46%,#afd1e6 100%)"></div><div style="top:21px;background:linear-gradient(90deg,#a8cde4 0%,#a8cde4 2.21%,#a8cde4 4.43%,#a8cde4 5.9%,#a8cde4 7.38%,#a9cee4 8.86%,#aacee5 10.33%,#abcfe5 11.81%,#aed1e6 13.28%,#b6d6e8 15.5%,#c7e2ed 18.45%,#dceeec 22.14%,#e4f0e3 26.57%,#e2efe6 31.73%,#d7ecf2 37.64%,#c9e3ee 44.28%,#c1deeb 51.66%,#bfdceb 59.04%,#bedceb 67.16%,#bedceb 76.01%,#bedceb 85.61%,#bedceb 94.46%,#bedceb 100%)"></div><div style="top:22px;background:linear-gradient(90deg,#a8cde4 0%,#a8cde4 2.21%,#a8cde4 4.43%,#a9cde4 5.9%,#a9cee4 7.38%,#aacee5 8.86%,#acd0e5 10.33%,#b0d2e6 11.81%,#b6d6e8 13.28%,#c4e0ec 15.5%,#dfeee9 18.45%,#f4f5d1 22.14%,#f9f4c7 26.57%,#f7f6ce 31.73%,#e8f1df 37.64%,#d7ecf2 44.28%,#cbe4ee 51.66%,#c8e2ed 59.04%,#c7e1ed 67.16%,#c7e1ed 76.01%,#c7e1ed 85.61%,#c7e1ed 94.46%,#c7e1ed 100%)"></div><div style="top:23px;background:linear-gradient(90deg,#a8cde4 0%,#a8cde4 2.21%,#a9cde4 4.43%,#a9cee4 5.9%,#aacee5 7.38%,#accfe5 8.86%,#afd2e6 10.33%,#b4d5e8 11.81%,#bddbea 13.28%,#d2e9f0 15.5%,#eff3d7 18.45%,#faeeb9 22.14%,#fbe9ad 26.57%,#faedb7 31.73%,#f2f4d4 37.64%,#ddeeeb 44.28%,#d1e8f0 51.66%,#cde5ef 59.04%,#cce5ef 67.16%,#cce5ef 76.01%,#cce5ef 85.61%,#cce5ef 94.46%,#cce5ef 100%)"></div><div style="top:24px;background:linear-gradient(90deg,#a8cde4 0%,#a8cde4 2.21%,#a9cde4 4.43%,#a9cee4 5.9%,#aacfe5 7.38%,#acd0e5 8.86%,#b0d2e6 10.33%,#b6d6e8 11.81%,#c0ddeb 13.28%,#d6ecf2 15.5%,#f4f5d2 18.45%,#faebb0 22.14%,#fbe6a5 26.57%,#faeab0 31.73%,#f4f5d1 37.64%,#dfefe9 44.28%,#d2e9f1 51.66%,#cee6ef 59.04%,#cee6ef 67.16%,#cde6ef 76.01%,#cde6ef 85.61%,#cde6ef 94.46%,#cde6ef 100%)"></div><div style="top:25px;background:linear-gradient(90deg,#a8cde4 0%,#a8cde4 2.21%,#a9cde4 4.43%,#a9cee4 5.9%,#aacee5 7.38%,#accfe5 8.86%,#afd1e6 10.33%,#b4d5e8 11.81%,#bddbea 13.28%,#d1e8f0 15.5%,#eef3d9 18.45%,#faeeba 22.14%,#fbeaae 26.57%,#faeeb8 31.73%,#f1f4d5 37.64%,#ddeeeb 44.28%,#d1e8f0 51.66%,#cde5ef 59.04%,#cce5ef 67.16%,#cce5ef 76.01%,#cce5ef 85.61%,#cce5ef 94.46%,#cce5ef 100%)"></div><div style="top:26px;background:linear-gradient(90deg,#a8cde4 0%,#a8cde4 2.21%,#a8cde4 4.43%,#a9cde4 5.9%,#a9cee4 7.38%,#aacee5 8.86%,#acd0e5 10.33%,#b0d2e6 11.81%,#b5d6e8 13.28%,#c4e0ec 15.5%,#dfeee9 18.45%,#f4f5d1 22.14%,#f9f3c7 26.57%,#f7f6ce 31.73%,#e8f1df 37.64%,#d7ecf2 44.28%,#cbe4ee 51.66%,#c8e2ed 59.04%,#c7e2ed 67.16%,#c7e2ed 76.01%,#c7e2ed 85.61%,#c7e2ed 94.46%,#c7e2ed 100%)"></div><div style="top:27px;background:linear-gradient(90deg,#a8cde4 0%,#a8cde4 2.21%,#a8cde4 4.43%,#a8cde4 5.9%,#a9cde4 7.38%,#a9cee4 8.86%,#aacee5 10.33%,#abcfe5 11.81%,#aed1e6 13.28%,#b6d7e8 15.5%,#c9e3ee 18.45%,#deeeea 22.14%,#e6f1e1 26.57%,#e4f0e4 31.73%,#d9ecf0 37.64%,#cbe4ee 44.28%,#c2deec 51.66%,#c0ddeb 59.04%,#bfdceb 67.16%,#bfdceb 76.01%,#bfdceb 85.61%,#bfdceb 94.46%,#bfdceb 100%)"></div><div style="top:28px;background:linear-gradient(90deg,#a8cde4 0%,#a8cde4 2.21%,#a8cde4 4.43%,#a8cde4 5.9%,#a8cde4 7.38%,#a8cde4 8.86%,#a8cde4 10.33%,#a9cee4 11.81%,#aacee4 13.28%,#accfe5 15.5%,#b2d4e7 18.45%,#bcdaea 22.14%,#c2deec 26.57%,#c2deec 31.73%,#bddbea 37.64%,#b7d7e8 44.28%,#b3d4e7 51.66%,#b2d4e7 59.04%,#b2d3e7 67.16%,#b2d3e7 76.01%,#b2d3e7 85.61%,#b2d3e7 94.46%,#b2d3e7 100%)"></div><div style="top:29px;background:linear-gradient(90deg,#a8cde4 0%,#a8cde4 2.21%,#a8cde4 4.43%,#a7cde4 5.9%,#a7cce4 7.38%,#a6cce3 8.86%,#a5cbe3 10.33%,#a4cae3 11.81%,#a2c8e2 13.28%,#9fc6e1 15.5%,#9cc4e0 18.45%,#9bc2df 22.14%,#9ac2df 26.57%,#9ac2df 31.73%,#9ac2df 37.64%,#9ac2df 44.28%,#9bc2df 51.66%,#9bc2df 59.04%,#9bc2df 67.16%,#9bc3df 76.01%,#9bc3df 85.61%,#9cc3df 94.46%,#9cc3df 100%)"></div><div style="top:30px;background:linear-gradient(90deg,#a8cde4 0%,#a8cde4 2.21%,#a7cce4 4.43%,#a7cce4 5.9%,#a6cbe3 7.38%,#a5cae3 8.86%,#a3c9e2 10.33%,#a0c6e1 11.81%,#9cc3e0 13.28%,#96bedd 15.5%,#90badb 18.45%,#8db7da 22.14%,#8cb6da 26.57%,#8cb6da 31.73%,#8cb6da 37.64%,#8cb6da 44.28%,#8cb6da 51.66%,#8db7da 59.04%,#8db7da 67.16%,#8db7da 76.01%,#8eb8da 85.61%,#8eb8da 94.46%,#8eb8da 100%)"></div><div style="top:31px;background:linear-gradient(90deg,#a8cde4 0%,#a8cde4 2.21%,#a7cce4 4.43%,#a7cce3 5.9%,#a5cbe3 7.38%,#a4cae2 8.86%,#a1c7e1 10.33%,#9dc4e0 11.81%,#98c0de 13.28%,#90b9db 15.5%,#88b3d8 18.45%,#84b0d7 22.14%,#83afd6 26.57%,#82aed6 31.73%,#82aed6 37.64%,#83aed6 44.28%,#83afd6 51.66%,#83afd6 59.04%,#84b0d7 67.16%,#84b0d7 76.01%,#85b1d7 85.61%,#85b1d7 94.46%,#86b1d7 100%)"></div><div style="top:32px;background:linear-gradient(90deg,#a8cde4 0%,#a8cde4 2.21%,#a7cce4 4.43%,#a6cce3 5.9%,#a5cbe3 7.38%,#a3c9e2 8.86%,#a0c7e1 10.33%,#9cc3e0 11.81%,#97bfde 13.28%,#8eb8da 15.5%,#85b1d7 18.45%,#80add5 22.14%,#7facd5 26.57%,#7fabd5 31.73%,#7fabd5 37.64%,#7facd5 44.28%,#7facd5 51.66%,#80acd5 59.04%,#80add5 67.16%,#81add6 76.01%,#82aed6 85.61%,#82aed6 94.46%,#82aed6 100%)"></div><div style="top:33px;background:linear-gradient(90deg,#a8cde4 0%,#a8cde4 2.21%,#a7cce4 4.43%,#a7cce3 5.9%,#a5cbe3 7.38%,#a4c9e2 8.86%,#a1c7e1 10.33%,#9dc4e0 11.81%,#98c0de 13.28%,#90b9db 15.5%,#88b3d8 18.45%,#83afd6 22.14%,#82aed6 26.57%,#82aed6 31.73%,#82aed6 37.64%,#82aed6 44.28%,#82aed6 51.66%,#83afd6 59.04%,#83afd6 67.16%,#84b0d7 76.01%,#85b0d7 85.61%,#85b0d7 94.46%,#85b1d7 100%)"></div><div style="top:34px;background:linear-gradient(90deg,#a8cde4 0%,#a8cde4 2.21%,#a7cce4 4.43%,#a7cce4 5.9%,#a6cbe3 7.38%,#a5cae3 8.86%,#a3c9e2 10.33%,#a0c6e1 11.81%,#9cc3df 13.28%,#96bedd 15.5%,#90b9db 18.45%,#8cb7da 22.14%,#8bb6d9 26.57%,#8bb6d9 31.73%,#8bb6d9 37.64%,#8bb6d9 44.28%,#8cb6d9 51.66%,#8cb6da 59.04%,#8cb7da 67.16%,#8db7da 76.01%,#8db7da 85.61%,#8eb8da 94.46%,#8eb8da 100%)"></div><div style="top:35px;background:linear-gradient(90deg,#a8cde4 0%,#a8cde4 2.21%,#a8cde4 4.43%,#a7cde4 5.9%,#a7cce4 7.38%,#a6cce3 8.86%,#a5cbe3 10.33%,#a4cae3 11.81%,#a2c8e2 13.28%,#9fc6e1 15.5%,#9cc4e0 18.45%,#9bc2df 22.14%,#9ac2df 26.57%,#9ac2df 31.73%,#9ac2df 37.64%,#9ac2df 44.28%,#9bc2df 51.66%,#9bc2df 59.04%,#9bc2df 67.16%,#9bc3df 76.01%,#9bc3df 85.61%,#9bc3df 94.46%,#9cc3df 100%)"></div><div style="top:36px;background:linear-gradient(90deg,#a8cde4 0%,#a8cde4 2.21%,#a8cde4 4.43%,#a8cde4 5.9%,#a8cde4 7.38%,#a8cde4 8.86%,#a8cde4 10.33%,#a9cee4 11.81%,#aacee5 13.28%,#acd0e5 15.5%,#b3d4e7 18.45%,#bfdceb 22.14%,#c5e0ed 26.57%,#c4e0ec 31.73%,#bfdceb 37.64%,#b8d8e9 44.28%,#b4d5e8 51.66%,#b3d4e7 59.04%,#b3d4e7 67.16%,#b3d4e7 76.01%,#b3d4e7 85.61%,#b3d4e7 94.46%,#b3d4e7 100%)"></div><div style="top:37px;background:linear-gradient(90deg,#a8cde4 0%,#a8cde4 2.21%,#a8cde4 4.43%,#a8cde4 5.9%,#a9cde4 7.38%,#a9cee4 8.86%,#aacee5 10.33%,#acd0e5 11.81%,#afd2e6 13.28%,#b8d7e9 15.5%,#cce4ef 18.45%,#e1efe7 22.14%,#e9f1de 26.57%,#e7f1e0 31.73%,#dbedee 37.64%,#cde5ef 44.28%,#c4dfec 51.66%,#c1deec 59.04%,#c1ddeb 67.16%,#c1ddeb 76.01%,#c1ddeb 85.61%,#c1ddeb 94.46%,#c1ddeb 100%)"></div><div style="top:38px;background:linear-gradient(90deg,#a8cde4 0%,#a8cde4 2.21%,#a8cde4 4.43%,#a9cde4 5.9%,#a9cee4 7.38%,#aacfe5 8.86%,#add0e5 10.33%,#b0d2e6 11.81%,#b7d7e8 13.28%,#c6e1ed 15.5%,#e2efe6 18.45%,#f8f6ce 22.14%,#f9f1c0 26.57%,#f8f4c8 31.73%,#ebf2dc 37.64%,#d9edf0 44.28%,#cde6ef 51.66%,#cae3ee 59.04%,#c9e3ee 67.16%,#c9e3ee 76.01%,#c9e3ee 85.61%,#c9e3ee 94.46%,#c9e3ee 100%)"></div><div style="top:39px;background:linear-gradient(90deg,#a8cde4 0%,#a8cde4 2.21%,#a9cde4 4.43%,#a9cee4 5.9%,#aacee5 7.38%,#acd0e5 8.86%,#afd2e6 10.33%,#b5d5e8 11.81%,#bedbeb 13.28%,#d3e9f1 15.5%,#f1f4d5 18.45%,#faecb4 22.14%,#fbe7a8 26.57%,#faebb2 31.73%,#f4f5d2 37.64%,#dfefe9 44.28%,#d3e9f1 51.66%,#cfe7f0 59.04%,#cee6ef 67.16%,#cee6ef 76.01%,#cee6ef 85.61%,#cee6ef 94.46%,#cee6ef 100%)"></div><div style="top:40px;background:linear-gradient(90deg,#a8cde4 0%,#a8cde4 2.21%,#a9cde4 4.43%,#a9cee4 5.9%,#aacfe5 7.38%,#acd0e5 8.86%,#b0d2e6 10.33%,#b6d7e8 11.81%,#c1ddeb 13.28%,#d7ecf2 15.5%,#f5f5d0 18.45%,#fbe9ac 22.14%,#fce4a1 26.57%,#fbe9ab 31.73%,#f7f6cf 37.64%,#e1efe6 44.28%,#d4eaf1 51.66%,#d0e8f0 59.04%,#d0e7f0 67.16%,#cfe7f0 76.01%,#cfe7f0 85.61%,#cfe7f0 94.46%,#cfe7f0 100%)"></div><div style="top:41px;background:linear-gradient(90deg,#a8cde4 0%,#a8cde4 2.21%,#a9cde4 4.43%,#a9cee4 5.9%,#aacee5 7.38%,#acd0e5 8.86%,#afd2e6 10.33%,#b5d6e8 11.81%,#bedceb 13.28%,#d3eaf1 15.5%,#f1f4d5 18.45%,#faecb3 22.14%,#fbe7a8 26.57%,#faebb2 31.73%,#f4f5d2 37.64%,#dfefe9 44.28%,#d3e9f1 51.66%,#cfe7f0 59.04%,#cee6ef 67.16%,#cee6ef 76.01%,#cee6ef 85.61%,#cee6ef 94.46%,#cee6ef 100%)"></div><div style="top:42px;background:linear-gradient(90deg,#a8cde4 0%,#a8cde4 2.21%,#a8cde4 4.43%,#a9cee4 5.9%,#a9cee4 7.38%,#abcfe5 8.86%,#add0e6 10.33%,#b1d3e7 11.81%,#b9d8e9 13.28%,#cae3ee 15.5%,#e6f1e1 18.45%,#f9f3c6 22.14%,#faeeb9 26.57%,#f9f2c2 31.73%,#edf3d9 37.64%,#dbedee 44.28%,#cfe7f0 51.66%,#cbe4ef 59.04%,#cbe4ee 67.16%,#cbe4ee 76.01%,#cbe4ee 85.61%,#cbe4ee 94.46%,#cbe4ee 100%)"></div><div style="top:43px;background:linear-gradient(90deg,#a8cde4 0%,#a8cde4 2.21%,#a8cde4 4.43%,#a8cde4 5.9%,#a9cee4 7.38%,#aacee4 8.86%,#abcfe5 10.33%,#aed1e6 11.81%,#b2d4e7 13.28%,#bedceb 15.5%,#d7ecf2 18.45%,#ecf2db 22.14%,#f4f5d2 26.57%,#f0f4d6 31.73%,#e3f0e5 37.64%,#d3e9f1 44.28%,#c9e2ee 51.66%,#c6e0ed 59.04%,#c5e0ed 67.16%,#c5e0ed 76.01%,#c5e0ed 85.61%,#c5e0ed 94.46%,#c5e0ed 100%)"></div><div style="top:44px;background:linear-gradient(90deg,#a8cde4 0%,#a8cde4 2.21%,#a8cde4 4.43%,#a8cde4 5.9%,#a8cde4 7.38%,#a9cde4 8.86%,#a9cee4 10.33%,#abcfe5 11.81%,#add0e5 13.28%,#b3d4e7 15.5%,#c3dfec 18.45%,#d7ecf2 22.14%,#dfeee9 26.57%,#ddeeeb 31.73%,#d3e9f1 37.64%,#c7e1ed 44.28%,#bfdceb 51.66%,#bddbea 59.04%,#bddbea 67.16%,#bddbea 76.01%,#bddbea 85.61%,#bddbea 94.46%,#bddbea 100%)"></div><div style="top:45px;background:linear-gradient(90deg,#a8cde4 0%,#a8cde4 2.21%,#a8cde4 4.43%,#a8cde4 5.9%,#a8cde4 7.38%,#a8cde4 8.86%,#a8cde4 10.33%,#a9cde4 11.81%,#a9cee4 13.28%,#abcfe5 15.5%,#afd2e6 18.45%,#b7d7e9 22.14%,#bcdaea 26.57%,#bcdaea 31.73%,#b8d7e9 37.64%,#b3d4e7 44.28%,#b1d3e7 51.66%,#b0d2e6 59.04%,#b0d2e6 67.16%,#b0d2e6 76.01%,#b0d2e6 85.61%,#b0d2e6 94.46%,#b0d2e6 100%)"></div><div style="top:46px;background:linear-gradient(90deg,#a8cde4 0%,#a8cde4 2.21%,#a8cde4 4.43%,#a7cde4 5.9%,#a7cce4 7.38%,#a6cce3 8.86%,#a6cbe3 10.33%,#a4cae3 11.81%,#a2c8e2 13.28%,#a0c6e1 15.5%,#9dc4e0 18.45%,#9bc3df 22.14%,#9bc2df 26.57%,#9bc2df 31.73%,#9bc2df 37.64%,#9bc2df 44.28%,#9bc2df 51.66%,#9bc2df 59.04%,#9bc3df 67.16%,#9bc3df 76.01%,#9cc3df 85.61%,#9cc3df 94.46%,#9cc3df 100%)"></div><div style="top:47px;background:linear-gradient(90deg,#a8cde4 0%,#a8cde4 2.21%,#a7cde4 4.43%,#a7cce4 5.9%,#a6cce3 7.38%,#a5cae3 8.86%,#a3c9e2 10.33%,#a0c7e1 11.81%,#9dc4e0 13.28%,#97bfde 15.5%,#91badb 18.45%,#8eb8da 22.14%,#8db7da 26.57%,#8db7da 31.73%,#8db7da 37.64%,#8db7da 44.28%,#8db7da 51.66%,#8eb8da 59.04%,#8eb8da 67.16%,#8fb8db 76.01%,#8fb9db 85.61%,#8fb9db 94.46%,#8fb9db 100%)"></div><div style="top:48px;background:linear-gradient(90deg,#a8cde4 0%,#a8cde4 2.21%,#a7cce4 4.43%,#a7cce3 5.9%,#a5cbe3 7.38%,#a4cae2 8.86%,#a1c7e1 10.33%,#9dc4e0 11.81%,#98c0de 13.28%,#90badb 15.5%,#88b3d8 18.45%,#84b0d7 22.14%,#83afd6 26.57%,#83afd6 31.73%,#83afd6 37.64%,#83afd6 44.28%,#83afd6 51.66%,#84afd6 59.04%,#84b0d7 67.16%,#85b0d7 76.01%,#85b1d7 85.61%,#86b1d7 94.46%,#86b1d7 100%)"></div><div style="top:49px;background:linear-gradient(90deg,#a8cde4 0%,#a8cde4 2.21%,#a7cce4 4.43%,#a6cce3 5.9%,#a5cbe3 7.38%,#a3c9e2 8.86%,#a0c6e1 10.33%,#9bc3df 11.81%,#95bedd 13.28%,#8cb6da 15.5%,#83afd6 18.45%,#7eabd4 22.14%,#7ca9d4 26.57%,#7ca9d4 31.73%,#7ca9d4 37.64%,#7ca9d4 44.28%,#7daad4 51.66%,#7daad4 59.04%,#7eabd4 67.16%,#7fabd5 76.01%,#7facd5 85.61%,#80acd5 94.46%,#80acd5 100%)"></div><div style="top:50px;background:linear-gradient(90deg,#a8cde4 0%,#a8cde4 2.21%,#a7cce4 4.43%,#a6cce3 5.9%,#a5cae3 7.38%,#a3c9e2 8.86%,#9fc6e1 10.33%,#9bc2df 11.81%,#94bddd 13.28%,#8ab5d9 15.5%,#81add5 18.45%,#7ca9d3 22.14%,#7aa7d2 26.57%,#7aa7d2 31.73%,#7aa7d2 37.64%,#7aa7d2 44.28%,#7aa8d3 51.66%,#7ba8d3 59.04%,#7ca9d3 67.16%,#7ca9d4 76.01%,#7daad4 85.61%,#7daad4 94.46%,#7eabd4 100%)"></div><div style="top:51px;background:linear-gradient(90deg,#a8cde4 0%,#a8cde4 2.21%,#a7cce4 4.43%,#a6cce3 5.9%,#a5cbe3 7.38%,#a3c9e2 8.86%,#a0c6e1 10.33%,#9bc2df 11.81%,#95bedd 13.28%,#8cb6d9 15.5%,#82aed6 18.45%,#7daad4 22.14%,#7ca9d3 26.57%,#7ba9d3 31.73%,#7ba9d3 37.64%,#7ca9d3 44.28%,#7ca9d3 51.66%,#7caad4 59.04%,#7daad4 67.16%,#7eabd4 76.01%,#7eabd5 85.61%,#7facd5 94.46%,#7facd5 100%)"></div><div style="top:52px;background:linear-gradient(90deg,#a8cde4 0%,#a8cde4 2.21%,#a7cce4 4.43%,#a6cce3 5.9%,#a5cbe3 7.38%,#a4c9e2 8.86%,#a1c7e1 10.33%,#9dc4e0 11.81%,#97bfde 13.28%,#8fb9db 15.5%,#87b2d8 18.45%,#82aed6 22.14%,#81add5 26.57%,#81add5 31.73%,#81add5 37.64%,#81add5 44.28%,#81add6 51.66%,#82aed6 59.04%,#82aed6 67.16%,#83afd6 76.01%,#83afd6 85.61%,#84b0d7 94.46%,#84b0d7 100%)"></div><div style="top:53px;background:linear-gradient(90deg,#a8cde4 0%,#a8cde4 2.21%,#a7cce4 4.43%,#a7cce4 5.9%,#a6cbe3 7.38%,#a4cae3 8.86%,#a2c8e2 10.33%,#9fc6e1 11.81%,#9bc2df 13.28%,#94bddd 15.5%,#8eb8da 18.45%,#8ab5d9 22.14%,#89b4d9 26.57%,#89b4d9 31.73%,#89b4d9 37.64%,#89b4d9 44.28%,#8ab4d9 51.66%,#8ab5d9 59.04%,#8ab5d9 67.16%,#8bb5d9 76.01%,#8bb6d9 85.61%,#8cb6d9 94.46%,#8cb6da 100%)"></div><div style="top:54px;background:linear-gradient(90deg,#a8cde4 0%,#a8cde4 2.21%,#a8cde4 4.43%,#a7cce4 5.9%,#a7cce4 7.38%,#a6cbe3 8.86%,#a4cae3 10.33%,#a2c8e2 11.81%,#a0c6e1 13.28%,#9cc3df 15.5%,#98c0de 18.45%,#95bedd 22.14%,#95bddd 26.57%,#95bddd 31.73%,#95bddd 37.64%,#95bddd 44.28%,#95bddd 51.66%,#95bedd 59.04%,#95bedd 67.16%,#96bedd 76.01%,#96bedd 85.61%,#96bfdd 94.46%,#96bfdd 100%)"></div><div style="top:55px;background:linear-gradient(90deg,#a8cde4 0%,#a8cde4 2.21%,#a8cde4 4.43%,#a8cde4 5.9%,#a8cde4 7.38%,#a7cde4 8.86%,#a7cce4 10.33%,#a7cce3 11.81%,#a6cbe3 13.28%,#a5cae3 15.5%,#a4cae2 18.45%,#a3c9e2 22.14%,#a3c9e2 26.57%,#a3c9e2 31.73%,#a3c9e2 37.64%,#a3c9e2 44.28%,#a3c9e2 51.66%,#a3c9e2 59.04%,#a3c9e2 67.16%,#a3c9e2 76.01%,#a3c9e2 85.61%,#a3c9e2 94.46%,#a3c9e2 100%)"></div><div style="top:56px;background:linear-gradient(90deg,#a8cde4 0%,#a8cde4 2.21%,#a8cde4 4.43%,#a8cde4 5.9%,#a8cde4 7.38%,#a8cde4 8.86%,#a9cde4 10.33%,#a9cee4 11.81%,#aacfe5 13.28%,#aed1e6 15.5%,#b7d7e9 18.45%,#c6e1ed 22.14%,#cde5ef 26.57%,#cce5ef 31.73%,#c5e0ed 37.64%,#bddbea 44.28%,#b8d7e9 51.66%,#b6d6e8 59.04%,#b6d6e8 67.16%,#b6d6e8 76.01%,#b6d6e8 85.61%,#b6d6e8 94.46%,#b6d6e8 100%)"></div><div style="top:57px;background:linear-gradient(90deg,#a8cde4 0%,#a8cde4 2.21%,#a8cde4 4.43%,#a8cde4 5.9%,#a9cde4 7.38%,#a9cee4 8.86%,#aacee5 10.33%,#abcfe5 11.81%,#aed1e6 13.28%,#b6d6e8 15.5%,#c9e2ee 18.45%,#ddeeeb 22.14%,#e5f0e3 26.57%,#e2efe5 31.73%,#d8ecf1 37.64%,#cae3ee 44.28%,#c2deec 51.66%,#bfdceb 59.04%,#bfdceb 67.16%,#bfdceb 76.01%,#bfdceb 85.61%,#bfdceb 94.46%,#bfdceb 100%)"></div><div style="top:58px;background:linear-gradient(90deg,#a8cde4 0%,#a8cde4 2.21%,#a8cde4 4.43%,#a9cde4 5.9%,#a9cee4 7.38%,#aacee5 8.86%,#abcfe5 10.33%,#aed1e6 11.81%,#b3d4e7 13.28%,#c0ddeb 15.5%,#d9edf0 18.45%,#eef3d9 22.14%,#f5f5d1 26.57%,#f1f4d5 31.73%,#e3f0e4 37.64%,#d3eaf1 44.28%,#c9e3ee 51.66%,#c6e1ed 59.04%,#c5e0ed 67.16%,#c5e0ed 76.01%,#c5e0ed 85.61%,#c5e0ed 94.46%,#c5e0ed 100%)"></div><div style="top:59px;background:linear-gradient(90deg,#a8cde4 0%,#a8cde4 2.21%,#a8cde4 4.43%,#a9cee4 5.9%,#aacee4 7.38%,#abcfe5 8.86%,#add1e6 10.33%,#b2d3e7 11.81%,#b9d8e9 13.28%,#cae4ee 15.5%,#e6f0e2 18.45%,#f8f5ca 22.14%,#f9f0bf 26.57%,#f9f4c7 31.73%,#ebf2db 37.64%,#d9edef 44.28%,#cee6ef 51.66%,#cae4ee 59.04%,#cae3ee 67.16%,#c9e3ee 76.01%,#c9e3ee 85.61%,#c9e3ee 94.46%,#c9e3ee 100%)"></div><div style="top:60px;background:linear-gradient(90deg,#a8cde4 0%,#a8cde4 2.21%,#a9cde4 4.43%,#a9cee4 5.9%,#aacee5 7.38%,#accfe5 8.86%,#afd2e6 10.33%,#b4d5e8 11.81%,#bddbea 13.28%,#d2e8f0 15.5%,#eef3d9 18.45%,#f9f0bd 22.14%,#faebb2 26.57%,#f9efbc 31.73%,#f0f4d6 37.64%,#ddeeec 44.28%,#d0e8f0 51.66%,#cde5ef 59.04%,#cce5ef 67.16%,#cce5ef 76.01%,#cce5ef 85.61%,#cce5ef 94.46%,#cce5ef 100%)"></div><div style="top:61px;background:linear-gradient(90deg,#a8cde4 0%,#a8cde4 2.21%,#a9cde4 4.43%,#a9cee4 5.9%,#aacee5 7.38%,#acd0e5 8.86%,#b0d2e6 10.33%,#b5d6e8 11.81%,#bfdceb 13.28%,#d4eaf1 15.5%,#f0f4d6 18.45%,#faeeb9 22.14%,#fbeaaf 26.57%,#faeeb8 31.73%,#f1f4d5 37.64%,#deeeeb 44.28%,#d1e8f0 51.66%,#cde6ef 59.04%,#cde5ef 67.16%,#cde5ef 76.01%,#cde5ef 85.61%,#cde5ef 94.46%,#cde5ef 100%)"></div><div style="top:62px;background:linear-gradient(90deg,#a8cde4 0%,#a8cde4 2.21%,#a9cde4 4.43%,#a9cee4 5.9%,#aacee5 7.38%,#accfe5 8.86%,#afd2e6 10.33%,#b4d5e8 11.81%,#bddbea 13.28%,#d2e8f0 15.5%,#edf3d9 18.45%,#f9f0be 22.14%,#faecb3 26.57%,#f9efbc 31.73%,#f0f3d7 37.64%,#dceeec 44.28%,#d0e7f0 51.66%,#cce5ef 59.04%,#cce5ef 67.16%,#cce5ef 76.01%,#cce5ef 85.61%,#cce5ef 94.46%,#cce5ef 100%)"></div><div style="top:63px;background:linear-gradient(90deg,#a8cde4 0%,#a8cde4 2.21%,#a8cde4 4.43%,#a9cee4 5.9%,#aacee4 7.38%,#abcfe5 8.86%,#aed1e6 10.33%,#b2d4e7 11.81%,#b9d8e9 13.28%,#cbe4ee 15.5%,#e6f1e1 18.45%,#f8f5ca 22.14%,#f9f0bf 26.57%,#f8f4c7 31.73%,#ebf2dc 37.64%,#d9edf0 44.28%,#cde6ef 51.66%,#cae3ee 59.04%,#c9e3ee 67.16%,#c9e3ee 76.01%,#c9e3ee 85.61%,#c9e3ee 94.46%,#c9e3ee 100%)"></div><div style="top:64px;background:linear-gradient(90deg,#a8cde4 0%,#a8cde4 2.21%,#a8cde4 4.43%,#a9cde4 5.9%,#a9cee4 7.38%,#aacee5 8.86%,#accfe5 10.33%,#afd2e6 11.81%,#b4d5e8 13.28%,#c2deec 15.5%,#dbedee 18.45%,#eff3d7 22.14%,#f5f5d0 26.57%,#f2f4d4 31.73%,#e4f0e4 37.64%,#d4eaf1 44.28%,#c9e3ee 51.66%,#c6e1ed 59.04%,#c5e0ed 67.16%,#c5e0ed 76.01%,#c5e0ed 85.61%,#c5e0ed 94.46%,#c5e0ed 100%)"></div><div style="top:65px;background:linear-gradient(90deg,#a8cde4 0%,#a8cde4 2.21%,#a8cde4 4.43%,#a8cde4 5.9%,#a9cde4 7.38%,#a9cee4 8.86%,#aacee5 10.33%,#acd0e5 11.81%,#afd2e6 13.28%,#b8d8e9 15.5%,#cce5ef 18.45%,#e0efe8 22.14%,#e7f1e0 26.57%,#e5f0e2 31.73%,#daedef 37.64%,#cbe4ef 44.28%,#c3dfec 51.66%,#c0ddeb 59.04%,#c0ddeb 67.16%,#c0ddeb 76.01%,#c0ddeb 85.61%,#c0ddeb 94.46%,#c0ddeb 100%)"></div><div style="top:66px;background:linear-gradient(90deg,#a8cde4 0%,#a8cde4 2.21%,#a8cde4 4.43%,#a8cde4 5.9%,#a8cde4 7.38%,#a9cde4 8.86%,#a9cee4 10.33%,#aacee5 11.81%,#abcfe5 13.28%,#b0d2e6 15.5%,#bcdaea 18.45%,#cce5ef 22.14%,#d4eaf1 26.57%,#d3e9f1 31.73%,#cae4ee 37.64%,#c0ddeb 44.28%,#bad9e9 51.66%,#b9d8e9 59.04%,#b8d8e9 67.16%,#b8d8e9 76.01%,#b8d8e9 85.61%,#b8d8e9 94.46%,#b8d8e9 100%)"></div><div style="top:67px;background:linear-gradient(90deg,#a8cde4 0%,#a8cde4 2.21%,#a8cde4 4.43%,#a8cde4 5.9%,#a8cde4 7.38%,#a8cde4 8.86%,#a8cde4 10.33%,#a8cde4 11.81%,#a9cde4 13.28%,#a9cee4 15.5%,#abcfe5 18.45%,#b0d2e6 22.14%,#b2d4e7 26.57%,#b2d4e7 31.73%,#b0d2e6 37.64%,#aed1e6 44.28%,#acd0e5 51.66%,#acd0e5 59.04%,#accfe5 67.16%,#accfe5 76.01%,#accfe5 85.61%,#accfe5 94.46%,#accfe5 100%)"></div><div style="top:68px;background:linear-gradient(90deg,#a8cde4 0%,#a8cde4 2.21%,#a8cde4 4.43%,#a7cde4 5.9%,#a7cce4 7.38%,#a6cce3 8.86%,#a5cbe3 10.33%,#a4cae2 11.81%,#a2c8e2 13.28%,#9fc6e1 15.5%,#9cc3e0 18.45%,#9bc2df 22.14%,#9ac2df 26.57%,#9ac2df 31.73%,#9ac2df 37.64%,#9ac2df 44.28%,#9ac2df 51.66%,#9ac2df 59.04%,#9bc2df 67.16%,#9bc2df 76.01%,#9bc2df 85.61%,#9bc3df 94.46%,#9bc3df 100%)"></div><div style="top:69px;background:linear-gradient(90deg,#a8cde4 0%,#a8cde4 2.21%,#a7cde4 4.43%,#a7cce4 5.9%,#a6cce3 7.38%,#a5cbe3 8.86%,#a3c9e2 10.33%,#a0c7e1 11.81%,#9dc4e0 13.28%,#97bfde 15.5%,#92bbdc 18.45%,#8fb8db 22.14%,#8eb8da 26.57%,#8eb8da 31.73%,#8eb8da 37.64%,#8eb8da 44.28%,#8eb8da 51.66%,#8eb8da 59.04%,#8fb8db 67.16%,#8fb9db 76.01%,#90b9db 85.61%,#90b9db 94.46%,#90b9db 100%)"></div><div style="top:70px;background:linear-gradient(90deg,#a8cde4 0%,#a8cde4 2.21%,#a7cce4 4.43%,#a7cce3 5.9%,#a6cbe3 7.38%,#a4cae2 8.86%,#a1c7e1 10.33%,#9dc4e0 11.81%,#99c0de 13.28%,#91badb 15.5%,#89b4d9 18.45%,#85b1d7 22.14%,#84b0d7 26.57%,#84afd6 31.73%,#84afd6 37.64%,#84b0d7 44.28%,#84b0d7 51.66%,#85b0d7 59.04%,#85b1d7 67.16%,#86b1d7 76.01%,#86b2d7 85.61%,#87b2d8 94.46%,#87b2d8 100%)"></div><div style="top:71px;background:linear-gradient(90deg,#a8cde4 0%,#a8cde4 2.21%,#a7cce4 4.43%,#a6cce3 5.9%,#a5cbe3 7.38%,#a3c9e2 8.86%,#a0c6e1 10.33%,#9bc3df 11.81%,#95bedd 13.28%,#8cb6da 15.5%,#83afd6 18.45%,#7eabd4 22.14%,#7caad4 26.57%,#7ca9d4 31.73%,#7ca9d4 37.64%,#7ca9d4 44.28%,#7daad4 51.66%,#7daad4 59.04%,#7eabd4 67.16%,#7fabd5 76.01%,#7facd5 85.61%,#80acd5 94.46%,#80acd5 100%)"></div><div style="top:72px;background:linear-gradient(90deg,#a8cde4 0%,#a8cde4 2.21%,#a7cce4 4.43%,#a6cbe3 5.9%,#a5cae3 7.38%,#a2c9e2 8.86%,#9fc6e1 10.33%,#9ac2df 11.81%,#94bcdc 13.28%,#89b4d9 15.5%,#7facd5 18.45%,#7aa7d2 22.14%,#78a6d1 26.57%,#78a6d1 31.73%,#78a6d1 37.64%,#78a6d1 44.28%,#79a6d2 51.66%,#79a7d2 59.04%,#7aa7d2 67.16%,#7ba8d3 76.01%,#7ba8d3 85.61%,#7ca9d3 94.46%,#7ca9d3 100%)"></div><div style="top:73px;background:linear-gradient(90deg,#a8cde4 0%,#a8cde4 2.21%,#a7cce4 4.43%,#a6cbe3 5.9%,#a5cae3 7.38%,#a2c8e2 8.86%,#9fc5e1 10.33%,#9ac1df 11.81%,#93bcdc 13.28%,#88b3d8 15.5%,#7eabd4 18.45%,#78a6d2 22.14%,#77a5d1 26.57%,#77a4d1 31.73%,#77a4d1 37.64%,#77a5d1 44.28%,#77a5d1 51.66%,#78a6d1 59.04%,#79a6d2 67.16%,#79a7d2 76.01%,#7aa7d2 85.61%,#7aa8d3 94.46%,#7ba8d3 100%)"></div><div style="top:74px;background:linear-gradient(90deg,#a8cde4 0%,#a8cde4 2.21%,#a7cce4 4.43%,#a6cbe3 5.9%,#a5cae3 7.38%,#a2c9e2 8.86%,#9fc6e1 10.33%,#9ac2df 11.81%,#94bcdc 13.28%,#89b4d9 15.5%,#7facd5 18.45%,#7aa7d2 22.14%,#78a6d1 26.57%,#78a6d1 31.73%,#78a6d1 37.64%,#78a6d1 44.28%,#79a6d2 51.66%,#79a7d2 59.04%,#7aa7d2 67.16%,#7ba8d3 76.01%,#7ba8d3 85.61%,#7ca9d3 94.46%,#7ca9d3 100%)"></div><div style="top:75px;background:linear-gradient(90deg,#a8cde4 0%,#a8cde4 2.21%,#a7cce4 4.43%,#a6cce3 5.9%,#a5cbe3 7.38%,#a3c9e2 8.86%,#a0c6e1 10.33%,#9bc2df 11.81%,#95bedd 13.28%,#8cb6d9 15.5%,#82aed6 18.45%,#7daad4 22.14%,#7ca9d3 26.57%,#7ba9d3 31.73%,#7ba9d3 37.64%,#7ca9d3 44.28%,#7ca9d3 51.66%,#7daad4 59.04%,#7daad4 67.16%,#7eabd4 76.01%,#7fabd5 85.61%,#7facd5 94.46%,#7facd5 100%)"></div><div style="top:76px;background:linear-gradient(90deg,#a8cde4 0%,#a8cde4 2.21%,#a7cce4 4.43%,#a6cce3 5.9%,#a5cbe3 7.38%,#a4c9e2 8.86%,#a1c7e1 10.33%,#9dc4e0 11.81%,#98c0de 13.28%,#8fb9db 15.5%,#87b2d8 18.45%,#83afd6 22.14%,#81aed6 26.57%,#81add6 31.73%,#81add6 37.64%,#81aed6 44.28%,#82aed6 51.66%,#82aed6 59.04%,#83afd6 67.16%,#83afd6 76.01%,#84b0d7 85.61%,#84b0d7 94.46%,#85b0d7 100%)"></div><div style="top:77px;background:linear-gradient(90deg,#a8cde4 0%,#a8cde4 2.21%,#a7cce4 4.43%,#a7cce4 5.9%,#a6cbe3 7.38%,#a4cae3 8.86%,#a2c8e2 10.33%,#9fc6e1 11.81%,#9bc2df 13.28%,#94bddd 15.5%,#8eb8da 18.45%,#8ab5d9 22.14%,#89b4d9 26.57%,#89b4d8 31.73%,#89b4d8 37.64%,#89b4d9 44.28%,#89b4d9 51.66%,#8ab4d9 59.04%,#8ab5d9 67.16%,#8bb5d9 76.01%,#8bb6d9 85.61%,#8cb6d9 94.46%,#8cb6d9 100%)"></div><div style="top:78px;background:linear-gradient(90deg,#a8cde4 0%,#a8cde4 2.21%,#a8cde4 4.43%,#a7cce4 5.9%,#a7cce3 7.38%,#a6cbe3 8.86%,#a4cae3 10.33%,#a2c8e2 11.81%,#9fc6e1 13.28%,#9ac2df 15.5%,#96bedd 18.45%,#93bcdc 22.14%,#93bcdc 26.57%,#92bbdc 31.73%,#92bbdc 37.64%,#93bcdc 44.28%,#93bcdc 51.66%,#93bcdc 59.04%,#93bcdc 67.16%,#94bcdc 76.01%,#94bddd 85.61%,#94bddd 94.46%,#94bddd 100%)"></div><div style="top:79px;background:linear-gradient(90deg,#a8cde4 0%,#a8cde4 2.21%,#a8cde4 4.43%,#a8cde4 5.9%,#a7cce4 7.38%,#a7cce4 8.86%,#a6cbe3 10.33%,#a5cbe3 11.81%,#a4c9e2 13.28%,#a1c8e2 15.5%,#9fc6e1 18.45%,#9ec5e0 22.14%,#9ec5e0 26.57%,#9ec4e0 31.73%,#9ec4e0 37.64%,#9ec4e0 44.28%,#9ec5e0 51.66%,#9ec5e0 59.04%,#9ec5e0 67.16%,#9ec5e0 76.01%,#9ec5e0 85.61%,#9ec5e0 94.46%,#9ec5e0 100%)"></div><div style="top:80px;background:linear-gradient(90deg,#a8cde4 0%,#a8cde4 2.21%,#a8cde4 4.43%,#a8cde4 5.9%,#a8cde4 7.38%,#a8cde4 8.86%,#a8cde4 10.33%,#a8cde4 11.81%,#a9cde4 13.28%,#aacee5 15.5%,#add0e5 18.45%,#b2d4e7 22.14%,#b6d6e8 26.57%,#b6d6e8 31.73%,#b3d4e7 37.64%,#b0d2e6 44.28%,#aed1e6 51.66%,#add0e6 59.04%,#add0e5 67.16%,#add0e5 76.01%,#add0e5 85.61%,#add0e5 94.46%,#add0e5 100%)"></div><div style="top:81px;background:linear-gradient(90deg,#a8cde4 0%,#a8cde4 2.21%,#a8cde4 4.43%,#a8cde4 5.9%,#a8cde4 7.38%,#a8cde4 8.86%,#a9cee4 10.33%,#aacee4 11.81%,#abcfe5 13.28%,#afd2e6 15.5%,#bad9e9 18.45%,#c9e3ee 22.14%,#d0e7f0 26.57%,#cfe6ef 31.73%,#c7e1ed 37.64%,#bddbea 44.28%,#b8d7e9 51.66%,#b6d6e8 59.04%,#b6d6e8 67.16%,#b6d6e8 76.01%,#b6d6e8 85.61%,#b6d6e8 94.46%,#b6d6e8 100%)"></div><div style="top:82px;background:linear-gradient(90deg,#a8cde4 0%,#a8cde4 2.21%,#a8cde4 4.43%,#a8cde4 5.9%,#a8cde4 7.38%,#a9cee4 8.86%,#aacee5 10.33%,#abcfe5 11.81%,#aed1e6 13.28%,#b5d6e8 15.5%,#c6e1ed 18.45%,#d9edf0 22.14%,#e0efe8 26.57%,#ddeeeb 31.73%,#d3e9f1 37.64%,#c6e1ed 44.28%,#bedceb 51.66%,#bcdaea 59.04%,#bcdaea 67.16%,#bcdaea 76.01%,#bcdaea 85.61%,#bcdaea 94.46%,#bcdaea 100%)"></div><div style="top:83px;background:linear-gradient(90deg,#a8cde4 0%,#a8cde4 2.21%,#a8cde4 4.43%,#a8cde4 5.9%,#a9cee4 7.38%,#aacee4 8.86%,#abcfe5 10.33%,#add1e6 11.81%,#b2d3e7 13.28%,#bddbea 15.5%,#d2e9f1 18.45%,#e5f0e3 22.14%,#ebf2dc 26.57%,#e8f1df 31.73%,#dbeded 37.64%,#cce5ef 44.28%,#c3dfec 51.66%,#c0ddeb 59.04%,#c0ddeb 67.16%,#c0ddeb 76.01%,#c0ddeb 85.61%,#c0ddeb 94.46%,#c0ddeb 100%)"></div><div style="top:84px;background:linear-gradient(90deg,#a8cde4 0%,#a8cde4 2.21%,#a8cde4 4.43%,#a9cde4 5.9%,#a9cee4 7.38%,#aacfe5 8.86%,#acd0e5 10.33%,#b0d2e6 11.81%,#b6d6e8 13.28%,#c4dfec 15.5%,#dceeec 18.45%,#eef3d9 22.14%,#f3f5d2 26.57%,#eff3d7 31.73%,#e1efe6 37.64%,#d1e8f0 44.28%,#c6e1ed 51.66%,#c3dfec 59.04%,#c2deec 67.16%,#c2deec 76.01%,#c2deec 85.61%,#c2deec 94.46%,#c2deec 100%)"></div><div style="top:85px;background:linear-gradient(90deg,#a8cde4 0%,#a8cde4 2.21%,#a8cde4 4.43%,#a9cee4 5.9%,#aacee4 7.38%,#abcfe5 8.86%,#aed1e6 10.33%,#b2d4e7 11.81%,#b9d8e9 13.28%,#cae3ee 15.5%,#e3f0e5 18.45%,#f4f5d2 22.14%,#f8f6cc 26.57%,#f4f5d1 31.73%,#e5f0e2 37.64%,#d4eaf1 44.28%,#c8e2ee 51.66%,#c5e0ed 59.04%,#c4e0ec 67.16%,#c4e0ec 76.01%,#c4e0ec 85.61%,#c4e0ec 94.46%,#c4e0ec 100%)"></div><div style="top:86px;background:linear-gradient(90deg,#a8cde4 0%,#a8cde4 2.21%,#a9cde4 4.43%,#a9cee4 5.9%,#aacee5 7.38%,#abcfe5 8.86%,#aed1e6 10.33%,#b3d5e7 11.81%,#bbdaea 13.28%,#cee6ef 15.5%,#e7f1e0 18.45%,#f7f6ce 22.14%,#f9f3c6 26.57%,#f7f6ce 31.73%,#e7f1e0 37.64%,#d5ebf1 44.28%,#c9e3ee 51.66%,#c6e1ed 59.04%,#c5e0ed 67.16%,#c5e0ed 76.01%,#c5e0ed 85.61%,#c5e0ed 94.46%,#c5e0ed 100%)"></div><div style="top:87px;background:linear-gradient(90deg,#a8cde4 0%,#a8cde4 2.21%,#a9cde4 4.43%,#a9cee4 5.9%,#aacee5 7.38%,#accfe5 8.86%,#afd1e6 10.33%,#b4d5e7 11.81%,#bcdaea 13.28%,#cee6ef 15.5%,#e7f1e0 18.45%,#f7f6ce 22.14%,#f9f3c6 26.57%,#f7f6ce 31.73%,#e7f1e0 37.64%,#d5ebf1 44.28%,#c9e3ee 51.66%,#c6e1ed 59.04%,#c5e0ed 67.16%,#c5e0ed 76.01%,#c5e0ed 85.61%,#c5e0ed 94.46%,#c5e0ed 100%)"></div><div style="top:88px;background:linear-gradient(90deg,#a8cde4 0%,#a8cde4 2.21%,#a9cde4 4.43%,#a9cee4 5.9%,#aacee5 7.38%,#abcfe5 8.86%,#aed1e6 10.33%,#b3d4e7 11.81%,#bbd9ea 13.28%,#cde5ef 15.5%,#e5f0e2 18.45%,#f5f5d0 22.14%,#f8f4c9 26.57%,#f6f5d0 31.73%,#e6f1e1 37.64%,#d4eaf1 44.28%,#c9e3ee 51.66%,#c5e0ed 59.04%,#c5e0ed 67.16%,#c5e0ed 76.01%,#c5e0ed 85.61%,#c5e0ed 94.46%,#c5e0ed 100%)"></div><div style="top:89px;background:linear-gradient(90deg,#a8cde4 0%,#a8cde4 2.21%,#a8cde4 4.43%,#a9cee4 5.9%,#aacee4 7.38%,#abcfe5 8.86%,#add1e6 10.33%,#b2d3e7 11.81%,#b9d8e9 13.28%,#c9e3ee 15.5%,#e1efe6 18.45%,#f2f4d4 22.14%,#f7f6ce 26.57%,#f3f4d3 31.73%,#e4f0e4 37.64%,#d2e9f1 44.28%,#c7e2ed 51.66%,#c4dfec 59.04%,#c3dfec 67.16%,#c3dfec 76.01%,#c3dfec 85.61%,#c3dfec 94.46%,#c3dfec 100%)"></div><div style="top:90px;background:linear-gradient(90deg,#a8cde4 0%,#a8cde4 2.21%,#a8cde4 4.43%,#a9cde4 5.9%,#a9cee4 7.38%,#aacfe5 8.86%,#acd0e5 10.33%,#b0d2e6 11.81%,#b6d6e8 13.28%,#c4dfec 15.5%,#dbeded 18.45%,#ecf2da 22.14%,#f2f4d4 26.57%,#eef3d8 31.73%,#e0efe8 37.64%,#cfe7f0 44.28%,#c5e0ed 51.66%,#c2deec 59.04%,#c1deec 67.16%,#c1deec 76.01%,#c1deec 85.61%,#c1deec 94.46%,#c1deec 100%)"></div><div style="top:91px;background:linear-gradient(90deg,#a8cde4 0%,#a8cde4 2.21%,#a8cde4 4.43%,#a8cde4 5.9%,#a9cee4 7.38%,#aacee5 8.86%,#abcfe5 10.33%,#aed1e6 11.81%,#b2d4e7 13.28%,#bedbea 15.5%,#d4eaf1 18.45%,#e5f0e2 22.14%,#ebf2dc 26.57%,#e8f1df 31.73%,#dbeded 37.64%,#cce5ef 44.28%,#c2deec 51.66%,#bfdceb 59.04%,#bfdceb 67.16%,#bfdceb 76.01%,#bfdceb 85.61%,#bfdceb 94.46%,#bfdceb 100%)"></div><div style="top:92px;background:linear-gradient(90deg,#a8cde4 0%,#a8cde4 2.21%,#a8cde4 4.43%,#a8cde4 5.9%,#a9cde4 7.38%,#a9cee4 8.86%,#aacee5 10.33%,#acd0e5 11.81%,#afd2e6 13.28%,#b8d7e9 15.5%,#cae3ee 18.45%,#dceded 22.14%,#e2efe6 26.57%,#e0efe8 31.73%,#d5eaf1 37.64%,#c7e1ed 44.28%,#bfdceb 51.66%,#bcdaea 59.04%,#bcdaea 67.16%,#bcdaea 76.01%,#bcdaea 85.61%,#bcdaea 94.46%,#bcdaea 100%)"></div><div style="top:93px;background:linear-gradient(90deg,#a8cde4 0%,#a8cde4 2.21%,#a8cde4 4.43%,#a8cde4 5.9%,#a8cde4 7.38%,#a9cde4 8.86%,#a9cee4 10.33%,#aacfe5 11.81%,#acd0e5 13.28%,#b2d4e7 15.5%,#c0ddeb 18.45%,#d0e8f0 22.14%,#d7ecf2 26.57%,#d5ebf2 31.73%,#cce5ef 37.64%,#c1ddeb 44.28%,#bad9e9 51.66%,#b8d8e9 59.04%,#b8d7e9 67.16%,#b8d7e9 76.01%,#b8d7e9 85.61%,#b8d7e9 94.46%,#b8d7e9 100%)"></div><div style="top:94px;background:linear-gradient(90deg,#a8cde4 0%,#a8cde4 2.21%,#a8cde4 4.43%,#a8cde4 5.9%,#a8cde4 7.38%,#a8cde4 8.86%,#a9cde4 10.33%,#a9cee4 11.81%,#aacee5 13.28%,#add1e6 15.5%,#b6d6e8 18.45%,#c2deec 22.14%,#c8e2ee 26.57%,#c7e2ed 31.73%,#c1ddeb 37.64%,#b9d8e9 44.28%,#b5d5e8 51.66%,#b3d4e7 59.04%,#b3d4e7 67.16%,#b3d4e7 76.01%,#b3d4e7 85.61%,#b3d4e7 94.46%,#b3d4e7 100%)"></div><div style="top:95px;background:linear-gradient(90deg,#a8cde4 0%,#a8cde4 2.21%,#a8cde4 4.43%,#a8cde4 5.9%,#a8cde4 7.38%,#a8cde4 8.86%,#a8cde4 10.33%,#a8cde4 11.81%,#a8cde4 13.28%,#a9cee4 15.5%,#abcfe5 18.45%,#afd2e6 22.14%,#b1d3e7 26.57%,#b1d3e7 31.73%,#afd2e6 37.64%,#add0e5 44.28%,#accfe5 51.66%,#abcfe5 59.04%,#abcfe5 67.16%,#abcfe5 76.01%,#abcfe5 85.61%,#abcfe5 94.46%,#abcfe5 100%)"></div><div style="top:96px;background:linear-gradient(90deg,#a8cde4 0%,#a8cde4 2.21%,#a8cde4 4.43%,#a8cde4 5.9%,#a7cce4 7.38%,#a7cce4 8.86%,#a6cce3 10.33%,#a5cbe3 11.81%,#a4cae3 13.28%,#a2c8e2 15.5%,#a0c7e1 18.45%,#9fc6e1 22.14%,#9fc5e1 26.57%,#9fc5e1 31.73%,#9fc5e1 37.64%,#9fc5e1 44.28%,#9fc6e1 51.66%,#9fc6e1 59.04%,#9fc6e1 67.16%,#9fc6e1 76.01%,#9fc6e1 85.61%,#9fc6e1 94.46%,#a0c6e1 100%)"></div><div style="top:97px;background:linear-gradient(90deg,#a8cde4 0%,#a8cde4 2.21%,#a8cde4 4.43%,#a7cce4 5.9%,#a7cce4 7.38%,#a6cbe3 8.86%,#a5cae3 10.33%,#a3c9e2 11.81%,#a0c7e1 13.28%,#9cc3e0 15.5%,#98c0de 18.45%,#96bfdd 22.14%,#96bedd 26.57%,#96bedd 31.73%,#96bedd 37.64%,#96bedd 44.28%,#96bedd 51.66%,#96bedd 59.04%,#96bfdd 67.16%,#97bfde 76.01%,#97bfde 85.61%,#97bfde 94.46%,#97bfde 100%)"></div><div style="top:98px;background:linear-gradient(90deg,#a8cde4 0%,#a8cde4 2.21%,#a7cde4 4.43%,#a7cce4 5.9%,#a6cce3 7.38%,#a5cbe3 8.86%,#a3c9e2 10.33%,#a0c7e1 11.81%,#9dc4e0 13.28%,#97bfde 15.5%,#92bbdc 18.45%,#8fb8db 22.14%,#8eb8da 26.57%,#8eb7da 31.73%,#8eb7da 37.64%,#8eb8da 44.28%,#8eb8da 51.66%,#8eb8da 59.04%,#8fb8db 67.16%,#8fb9db 76.01%,#8fb9db 85.61%,#90b9db 94.46%,#90b9db 100%)"></div><div style="top:99px;background:linear-gradient(90deg,#a8cde4 0%,#a8cde4 2.21%,#a7cce4 4.43%,#a7cce4 5.9%,#a6cbe3 7.38%,#a4cae3 8.86%,#a2c8e2 10.33%,#9ec5e0 11.81%,#9ac2df 13.28%,#93bcdc 15.5%,#8cb6d9 18.45%,#88b3d8 22.14%,#87b2d8 26.57%,#87b2d8 31.73%,#87b2d8 37.64%,#87b2d8 44.28%,#87b2d8 51.66%,#87b3d8 59.04%,#88b3d8 67.16%,#89b3d8 76.01%,#89b4d8 85.61%,#89b4d9 94.46%,#8ab4d9 100%)"></div><div style="top:100px;background:linear-gradient(90deg,#a8cde4 0%,#a8cde4 2.21%,#a7cce4 4.43%,#a6cce3 5.9%,#a5cbe3 7.38%,#a4c9e2 8.86%,#a1c7e1 10.33%,#9dc4e0 11.81%,#97c0de 13.28%,#8fb9db 15.5%,#87b2d8 18.45%,#82aed6 22.14%,#81add6 26.57%,#81add5 31.73%,#81add5 37.64%,#81add6 44.28%,#81aed6 51.66%,#82aed6 59.04%,#82aed6 67.16%,#83afd6 76.01%,#84afd6 85.61%,#84b0d7 94.46%,#84b0d7 100%)"></div><div style="top:101px;background:linear-gradient(90deg,#a8cde4 0%,#a8cde4 2.21%,#a7cce4 4.43%,#a6cce3 5.9%,#a5cbe3 7.38%,#a3c9e2 8.86%,#a0c6e1 10.33%,#9bc3df 11.81%,#96bedd 13.28%,#8cb6da 15.5%,#83afd6 18.45%,#7eabd4 22.14%,#7daad4 26.57%,#7daad4 31.73%,#7daad4 37.64%,#7daad4 44.28%,#7daad4 51.66%,#7eaad4 59.04%,#7eabd4 67.16%,#7facd5 76.01%,#80acd5 85.61%,#80acd5 94.46%,#80add5 100%)"></div><div style="top:102px;background:linear-gradient(90deg,#a8cde4 0%,#a8cde4 2.21%,#a7cce4 4.43%,#a6cce3 5.9%,#a5cae3 7.38%,#a3c9e2 8.86%,#9fc6e1 10.33%,#9ac2df 11.81%,#94bddd 13.28%,#8ab5d9 15.5%,#81add5 18.45%,#7ba9d3 22.14%,#7aa7d2 26.57%,#7aa7d2 31.73%,#7aa7d2 37.64%,#7aa7d2 44.28%,#7aa8d3 51.66%,#7ba8d3 59.04%,#7ca9d3 67.16%,#7ca9d4 76.01%,#7daad4 85.61%,#7daad4 94.46%,#7eaad4 100%)"></div><div style="top:103px;background:linear-gradient(90deg,#a8cde4 0%,#a8cde4 2.21%,#a7cce4 4.43%,#a6cbe3 5.9%,#a5cae3 7.38%,#a3c9e2 8.86%,#9fc6e1 10.33%,#9ac2df 11.81%,#94bcdc 13.28%,#89b4d9 15.5%,#7facd5 18.45%,#7aa8d2 22.14%,#79a6d2 26.57%,#78a6d1 31.73%,#78a6d1 37.64%,#79a6d2 44.28%,#79a7d2 51.66%,#7aa7d2 59.04%,#7aa8d2 67.16%,#7ba8d3 76.01%,#7ca9d3 85.61%,#7ca9d3 94.46%,#7ca9d4 100%)"></div><div style="top:104px;background:linear-gradient(90deg,#a8cde4 0%,#a8cde4 2.21%,#a7cce4 4.43%,#a6cbe3 5.9%,#a5cae3 7.38%,#a3c9e2 8.86%,#9fc6e1 10.33%,#9ac2df 11.81%,#94bddd 13.28%,#8ab4d9 15.5%,#80acd5 18.45%,#7aa8d3 22.14%,#79a7d2 26.57%,#79a6d2 31.73%,#79a6d2 37.64%,#79a6d2 44.28%,#79a7d2 51.66%,#7aa7d2 59.04%,#7ba8d3 67.16%,#7ba8d3 76.01%,#7ca9d3 85.61%,#7ca9d4 94.46%,#7daad4 100%)"></div><div style="top:105px;background:linear-gradient(90deg,#a8cde4 0%,#a8cde4 2.21%,#a7cce4 4.43%,#a6cce3 5.9%,#a5cbe3 7.38%,#a3c9e2 8.86%,#a0c6e1 10.33%,#9bc2df 11.81%,#95bedd 13.28%,#8bb6d9 15.5%,#82aed6 18.45%,#7daad4 22.14%,#7ca9d3 26.57%,#7ba9d3 31.73%,#7ba9d3 37.64%,#7ba9d3 44.28%,#7ca9d3 51.66%,#7ca9d4 59.04%,#7daad4 67.16%,#7eabd4 76.01%,#7eabd5 85.61%,#7facd5 94.46%,#7facd5 100%)"></div><div style="top:106px;background:linear-gradient(90deg,#a8cde4 0%,#a8cde4 2.21%,#a7cce4 4.43%,#a6cce3 5.9%,#a5cbe3 7.38%,#a3c9e2 8.86%,#a1c7e1 10.33%,#9cc4e0 11.81%,#97bfde 13.28%,#8fb8db 15.5%,#86b1d7 18.45%,#82aed6 22.14%,#80add5 26.57%,#80add5 31.73%,#80add5 37.64%,#80add5 44.28%,#81add5 51.66%,#81add6 59.04%,#82aed6 67.16%,#82aed6 76.01%,#83afd6 85.61%,#83afd6 94.46%,#84afd6 100%)"></div><div style="top:107px;background:linear-gradient(90deg,#a8cde4 0%,#a8cde4 2.21%,#a7cce4 4.43%,#a7cce4 5.9%,#a6cbe3 7.38%,#a4cae3 8.86%,#a2c8e2 10.33%,#9ec5e0 11.81%,#9ac2df 13.28%,#93bcdc 15.5%,#8cb6da 18.45%,#88b3d8 22.14%,#87b2d8 26.57%,#87b2d8 31.73%,#87b2d8 37.64%,#87b2d8 44.28%,#87b2d8 51.66%,#88b3d8 59.04%,#88b3d8 67.16%,#89b4d8 76.01%,#89b4d9 85.61%,#8ab4d9 94.46%,#8ab4d9 100%)"></div><div style="top:108px;background:linear-gradient(90deg,#a8cde4 0%,#a8cde4 2.21%,#a7cde4 4.43%,#a7cce4 5.9%,#a6cce3 7.38%,#a5cbe3 8.86%,#a3c9e2 10.33%,#a1c7e1 11.81%,#9ec5e0 13.28%,#98c0de 15.5%,#93bcdc 18.45%,#90badb 22.14%,#90b9db 26.57%,#8fb9db 31.73%,#8fb9db 37.64%,#8fb9db 44.28%,#90b9db 51.66%,#90b9db 59.04%,#90badb 67.16%,#91badb 76.01%,#91badb 85.61%,#91bbdc 94.46%,#92bbdc 100%)"></div><div style="top:109px;background:linear-gradient(90deg,#a8cde4 0%,#a8cde4 2.21%,#a8cde4 4.43%,#a7cde4 5.9%,#a7cce4 7.38%,#a6cce3 8.86%,#a5cbe3 10.33%,#a4c9e2 11.81%,#a2c8e2 13.28%,#9fc5e0 15.5%,#9bc3df 18.45%,#9ac1df 22.14%,#99c1df 26.57%,#99c1de 31.73%,#99c1de 37.64%,#99c1df 44.28%,#99c1df 51.66%,#9ac1df 59.04%,#9ac1df 67.16%,#9ac2df 76.01%,#9ac2df 85.61%,#9ac2df 94.46%,#9ac2df 100%)"></div><div style="top:110px;background:linear-gradient(90deg,#a8cde4 0%,#a8cde4 2.21%,#a8cde4 4.43%,#a8cde4 5.9%,#a8cde4 7.38%,#a8cde4 8.86%,#a7cce4 10.33%,#a7cce4 11.81%,#a7cce3 13.28%,#a6cbe3 15.5%,#a5cbe3 18.45%,#a5cae3 22.14%,#a5cae3 26.57%,#a5cae3 31.73%,#a5cae3 37.64%,#a5cae3 44.28%,#a5cae3 51.66%,#a5cae3 59.04%,#a5cae3 67.16%,#a5cae3 76.01%,#a5cae3 85.61%,#a5cae3 94.46%,#a5cae3 100%)"></div><div style="top:111px;background:linear-gradient(90deg,#a8cde4 0%,#a8cde4 2.21%,#a8cde4 4.43%,#a8cde4 5.9%,#a8cde4 7.38%,#a8cde4 8.86%,#a8cde4 10.33%,#a9cee4 11.81%,#aacee4 13.28%,#acd0e5 15.5%,#b2d4e7 18.45%,#bcdaea 22.14%,#c2deec 26.57%,#c1ddeb 31.73%,#bbdaea 37.64%,#b5d6e8 44.28%,#b1d3e7 51.66%,#b0d3e6 59.04%,#b0d2e6 67.16%,#b0d2e6 76.01%,#b0d2e6 85.61%,#b0d2e6 94.46%,#b0d2e6 100%)"></div><div style="top:112px;background:linear-gradient(90deg,#a8cde4 0%,#a8cde4 2.21%,#a8cde4 4.43%,#a8cde4 5.9%,#a8cde4 7.38%,#a9cde4 8.86%,#a9cee4 10.33%,#aacee5 11.81%,#acd0e5 13.28%,#b1d3e7 15.5%,#bddbea 18.45%,#cce5ef 22.14%,#d2e9f1 26.57%,#d0e8f0 31.73%,#c8e2ed 37.64%,#bddbea 44.28%,#b7d7e9 51.66%,#b6d6e8 59.04%,#b5d6e8 67.16%,#b5d6e8 76.01%,#b5d6e8 85.61%,#b5d6e8 94.46%,#b5d6e8 100%)"></div><div style="top:113px;background:linear-gradient(90deg,#a8cde4 0%,#a8cde4 2.21%,#a8cde4 4.43%,#a8cde4 5.9%,#a9cde4 7.38%,#a9cee4 8.86%,#aacee5 10.33%,#acd0e5 11.81%,#afd2e6 13.28%,#b7d7e8 15.5%,#c8e2ed 18.45%,#d8ecf1 22.14%,#ddeeeb 26.57%,#dbedee 31.73%,#d0e7f0 37.64%,#c3dfec 44.28%,#bbdaea 51.66%,#b9d8e9 59.04%,#b9d8e9 67.16%,#b9d8e9 76.01%,#b9d8e9 85.61%,#b9d8e9 94.46%,#b9d8e9 100%)"></div><div style="top:114px;background:linear-gradient(90deg,#a8cde4 0%,#a8cde4 2.21%,#a8cde4 4.43%,#a8cde4 5.9%,#a9cee4 7.38%,#aacee5 8.86%,#abcfe5 10.33%,#aed1e6 11.81%,#b2d4e7 13.28%,#bddbea 15.5%,#d1e8f0 18.45%,#e0efe8 22.14%,#e5f0e2 26.57%,#e2efe6 31.73%,#d6ebf2 37.64%,#c7e2ed 44.28%,#bedceb 51.66%,#bcdaea 59.04%,#bbdaea 67.16%,#bbdaea 76.01%,#bbdaea 85.61%,#bbdaea 94.46%,#bbdaea 100%)"></div><div style="top:115px;background:linear-gradient(90deg,#a8cde4 0%,#a8cde4 2.21%,#a8cde4 4.43%,#a9cde4 5.9%,#a9cee4 7.38%,#aacfe5 8.86%,#acd0e5 10.33%,#b0d2e6 11.81%,#b5d6e8 13.28%,#c3dfec 15.5%,#d8ecf1 18.45%,#e6f1e1 22.14%,#eaf2dc 26.57%,#e7f1e0 31.73%,#daedef 37.64%,#cae3ee 44.28%,#c0ddeb 51.66%,#bddbea 59.04%,#bddbea 67.16%,#bddbea 76.01%,#bddbea 85.61%,#bddbea 94.46%,#bddbea 100%)"></div><div style="top:116px;background:linear-gradient(90deg,#a8cde4 0%,#a8cde4 2.21%,#a8cde4 4.43%,#a9cee4 5.9%,#a9cee4 7.38%,#abcfe5 8.86%,#add0e6 10.33%,#b1d3e7 11.81%,#b8d7e9 13.28%,#c6e1ed 15.5%,#dceeec 18.45%,#e9f2dd 22.14%,#edf3d9 26.57%,#e9f2dd 31.73%,#dcedec 37.64%,#cbe4ef 44.28%,#c1deec 51.66%,#bedceb 59.04%,#bedbeb 67.16%,#bedbea 76.01%,#bedbea 85.61%,#bedbea 94.46%,#bedbea 100%)"></div><div style="top:117px;background:linear-gradient(90deg,#a8cde4 0%,#a8cde4 2.21%,#a8cde4 4.43%,#a9cee4 5.9%,#aacee4 7.38%,#abcfe5 8.86%,#add1e6 10.33%,#b2d3e7 11.81%,#b8d8e9 13.28%,#c8e2ed 15.5%,#ddeeeb 18.45%,#eaf2dd 22.14%,#eef3d8 26.57%,#eaf2dd 31.73%,#dceeec 37.64%,#cce5ef 44.28%,#c2deec 51.66%,#bfdceb 59.04%,#bedbeb 67.16%,#bedbeb 76.01%,#bedbeb 85.61%,#bedbeb 94.46%,#bedbeb 100%)"></div><div style="top:118px;background:linear-gradient(90deg,#a8cde4 0%,#a8cde4 2.21%,#a8cde4 4.43%,#a9cee4 5.9%,#aacee4 7.38%,#abcfe5 8.86%,#add0e6 10.33%,#b1d3e7 11.81%,#b8d7e9 13.28%,#c7e1ed 15.5%,#dceeec 18.45%,#e9f2de 22.14%,#edf3d9 26.57%,#e9f2de 31.73%,#dceded 37.64%,#cbe4ef 44.28%,#c1deec 51.66%,#bedceb 59.04%,#bedbea 67.16%,#bedbea 76.01%,#bedbea 85.61%,#bedbea 94.46%,#bedbea 100%)"></div><div style="top:119px;background:linear-gradient(90deg,#a8cde4 0%,#a8cde4 2.21%,#a8cde4 4.43%,#a9cde4 5.9%,#a9cee4 7.38%,#aacfe5 8.86%,#add0e5 10.33%,#b0d2e6 11.81%,#b6d6e8 13.28%,#c4dfec 15.5%,#d9edf0 18.45%,#e6f1e1 22.14%,#ebf2dc 26.57%,#e7f1e0 31.73%,#daedef 37.64%,#cae3ee 44.28%,#c0ddeb 51.66%,#bddbea 59.04%,#bddbea 67.16%,#bddbea 76.01%,#bddbea 85.61%,#bddbea 94.46%,#bddbea 100%)"></div><div style="top:120px;background:linear-gradient(90deg,#a8cde4 0%,#a8cde4 2.21%,#a8cde4 4.43%,#a9cde4 5.9%,#a9cee4 7.38%,#aacee5 8.86%,#accfe5 10.33%,#aed1e6 11.81%,#b3d4e7 13.28%,#bfdceb 15.5%,#d3eaf1 18.45%,#e2efe6 22.14%,#e6f1e1 26.57%,#e3f0e4 31.73%,#d7ecf2 37.64%,#c8e2ed 44.28%,#bfdceb 51.66%,#bcdaea 59.04%,#bcdaea 67.16%,#bbdaea 76.01%,#bbdaea 85.61%,#bbdaea 94.46%,#bbdaea 100%)"></div><div style="top:121px;background:linear-gradient(90deg,#a8cde4 0%,#a8cde4 2.21%,#a8cde4 4.43%,#a8cde4 5.9%,#a9cde4 7.38%,#a9cee4 8.86%,#abcfe5 10.33%,#add0e5 11.81%,#b0d3e6 13.28%,#bad9e9 15.5%,#cce5ef 18.45%,#dbeded 22.14%,#e0efe7 26.57%,#deeeeb 31.73%,#d2e9f1 37.64%,#c5e0ed 44.28%,#bcdaea 51.66%,#bad9e9 59.04%,#bad9e9 67.16%,#bad9e9 76.01%,#bad9e9 85.61%,#bad9e9 94.46%,#bad9e9 100%)"></div><div style="top:122px;background:linear-gradient(90deg,#a8cde4 0%,#a8cde4 2.21%,#a8cde4 4.43%,#a8cde4 5.9%,#a8cde4 7.38%,#a9cee4 8.86%,#aacee4 10.33%,#abcfe5 11.81%,#aed1e6 13.28%,#b4d5e8 15.5%,#c3dfec 18.45%,#d3e9f1 22.14%,#d9ecf0 26.57%,#d6ecf2 31.73%,#cce5ef 37.64%,#c0ddeb 44.28%,#b9d9e9 51.66%,#b7d7e9 59.04%,#b7d7e8 67.16%,#b7d7e8 76.01%,#b7d7e8 85.61%,#b7d7e8 94.46%,#b7d7e8 100%)"></div><div style="top:123px;background:linear-gradient(90deg,#a8cde4 0%,#a8cde4 2.21%,#a8cde4 4.43%,#a8cde4 5.9%,#a8cde4 7.38%,#a9cde4 8.86%,#a9cee4 10.33%,#aacee5 11.81%,#abcfe5 13.28%,#afd2e6 15.5%,#bad9e9 18.45%,#c8e2ed 22.14%,#cee6ef 26.57%,#cce5ef 31.73%,#c4dfec 37.64%,#bbdaea 44.28%,#b6d6e8 51.66%,#b4d5e8 59.04%,#b4d5e7 67.16%,#b4d5e7 76.01%,#b4d5e7 85.61%,#b4d5e7 94.46%,#b4d5e7 100%)"></div><div style="top:124px;background:linear-gradient(90deg,#a8cde4 0%,#a8cde4 2.21%,#a8cde4 4.43%,#a8cde4 5.9%,#a8cde4 7.38%,#a8cde4 8.86%,#a8cde4 10.33%,#a9cee4 11.81%,#a9cee4 13.28%,#abcfe5 15.5%,#b1d3e7 18.45%,#bad9e9 22.14%,#bedceb 26.57%,#bedbeb 31.73%,#b9d8e9 37.64%,#b4d5e7 44.28%,#b0d2e6 51.66%,#afd2e6 59.04%,#afd2e6 67.16%,#afd2e6 76.01%,#afd2e6 85.61%,#afd2e6 94.46%,#afd2e6 100%)"></div><div style="top:125px;background:linear-gradient(90deg,#a8cde4 0%,#a8cde4 2.21%,#a8cde4 4.43%,#a8cde4 5.9%,#a8cde4 7.38%,#a8cde4 8.86%,#a8cde4 10.33%,#a7cce4 11.81%,#a7cce4 13.28%,#a6cce3 15.5%,#a6cbe3 18.45%,#a6cbe3 22.14%,#a5cbe3 26.57%,#a5cbe3 31.73%,#a5cbe3 37.64%,#a5cbe3 44.28%,#a5cbe3 51.66%,#a5cbe3 59.04%,#a6cbe3 67.16%,#a6cbe3 76.01%,#a6cbe3 85.61%,#a6cbe3 94.46%,#a6cbe3 100%)"></div><div style="top:126px;background:linear-gradient(90deg,#a8cde4 0%,#a8cde4 2.21%,#a8cde4 4.43%,#a8cde4 5.9%,#a7cce4 7.38%,#a7cce4 8.86%,#a6cbe3 10.33%,#a5cae3 11.81%,#a3c9e2 13.28%,#a1c7e1 15.5%,#9fc6e1 18.45%,#9ec5e0 22.14%,#9dc4e0 26.57%,#9dc4e0 31.73%,#9dc4e0 37.64%,#9dc4e0 44.28%,#9dc4e0 51.66%,#9dc4e0 59.04%,#9ec5e0 67.16%,#9ec5e0 76.01%,#9ec5e0 85.61%,#9ec5e0 94.46%,#9ec5e0 100%)"></div><div style="top:127px;background:linear-gradient(90deg,#a8cde4 0%,#a8cde4 2.21%,#a8cde4 4.43%,#a7cce4 5.9%,#a7cce4 7.38%,#a6cbe3 8.86%,#a5cae3 10.33%,#a3c9e2 11.81%,#a1c7e1 13.28%,#9dc4e0 15.5%,#99c1de 18.45%,#97bfde 22.14%,#96bfdd 26.57%,#96bfdd 31.73%,#96bfdd 37.64%,#96bfdd 44.28%,#97bfde 51.66%,#97bfde 59.04%,#97bfde 67.16%,#97bfde 76.01%,#98c0de 85.61%,#98c0de 94.46%,#98c0de 100%)"></div><div style="top:128px;background:linear-gradient(90deg,#a8cde4 0%,#a8cde4 2.21%,#a7cde4 4.43%,#a7cce4 5.9%,#a6cce3 7.38%,#a5cbe3 8.86%,#a4c9e2 10.33%,#a1c7e1 11.81%,#9ec5e0 13.28%,#99c1de 15.5%,#94bddd 18.45%,#91bbdc 22.14%,#91badb 26.57%,#91badb 31.73%,#91badb 37.64%,#91badb 44.28%,#91badb 51.66%,#91badb 59.04%,#91bbdc 67.16%,#92bbdc 76.01%,#92bbdc 85.61%,#92bbdc 94.46%,#93bcdc 100%)"></div><div style="top:129px;background:linear-gradient(90deg,#a8cde4 0%,#a8cde4 2.21%,#a7cce4 4.43%,#a7cce4 5.9%,#a6cbe3 7.38%,#a5cae3 8.86%,#a3c9e2 10.33%,#a0c6e1 11.81%,#9cc3e0 13.28%,#96bedd 15.5%,#90badb 18.45%,#8db7da 22.14%,#8cb6da 26.57%,#8cb6da 31.73%,#8cb6da 37.64%,#8cb6da 44.28%,#8cb6da 51.66%,#8db7da 59.04%,#8db7da 67.16%,#8db7da 76.01%,#8eb8da 85.61%,#8eb8da 94.46%,#8eb8da 100%)"></div><div style="top:130px;background:linear-gradient(90deg,#a8cde4 0%,#a8cde4 2.21%,#a7cce4 4.43%,#a7cce4 5.9%,#a6cbe3 7.38%,#a4cae3 8.86%,#a2c8e2 10.33%,#9fc6e1 11.81%,#9bc2df 13.28%,#94bddd 15.5%,#8db7da 18.45%,#8ab4d9 22.14%,#89b4d8 26.57%,#88b3d8 31.73%,#88b3d8 37.64%,#89b3d8 44.28%,#89b4d8 51.66%,#89b4d9 59.04%,#8ab4d9 67.16%,#8ab5d9 76.01%,#8bb5d9 85.61%,#8bb5d9 94.46%,#8bb6d9 100%)"></div><div style="top:131px;background:linear-gradient(90deg,#a8cde4 0%,#a8cde4 2.21%,#a7cce4 4.43%,#a7cce4 5.9%,#a6cbe3 7.38%,#a4cae3 8.86%,#a2c8e2 10.33%,#9ec5e0 11.81%,#9ac1df 13.28%,#93bcdc 15.5%,#8bb6d9 18.45%,#88b3d8 22.14%,#87b2d8 26.57%,#86b2d7 31.73%,#86b2d7 37.64%,#87b2d8 44.28%,#87b2d8 51.66%,#87b2d8 59.04%,#88b3d8 67.16%,#88b3d8 76.01%,#89b4d8 85.61%,#89b4d9 94.46%,#89b4d9 100%)"></div><div style="top:132px;background:linear-gradient(90deg,#a8cde4 0%,#a8cde4 2.21%,#a7cce4 4.43%,#a7cce4 5.9%,#a6cbe3 7.38%,#a4cae3 8.86%,#a2c8e2 10.33%,#9ec5e0 11.81%,#99c1df 13.28%,#92bbdc 15.5%,#8bb5d9 18.45%,#87b2d8 22.14%,#86b1d7 26.57%,#86b1d7 31.73%,#86b1d7 37.64%,#86b1d7 44.28%,#86b1d7 51.66%,#86b2d8 59.04%,#87b2d8 67.16%,#88b3d8 76.01%,#88b3d8 85.61%,#88b3d8 94.46%,#89b3d8 100%)"></div><div style="top:133px;background:linear-gradient(90deg,#a8cde4 0%,#a8cde4 2.21%,#a7cce4 4.43%,#a7cce4 5.9%,#a6cbe3 7.38%,#a4cae3 8.86%,#a2c8e2 10.33%,#9ec5e0 11.81%,#9ac1df 13.28%,#92bbdc 15.5%,#8bb5d9 18.45%,#87b2d8 22.14%,#86b1d7 26.57%,#86b1d7 31.73%,#86b1d7 37.64%,#86b1d7 44.28%,#86b2d7 51.66%,#87b2d8 59.04%,#87b2d8 67.16%,#88b3d8 76.01%,#88b3d8 85.61%,#89b3d8 94.46%,#89b4d8 100%)"></div><div style="top:134px;background:linear-gradient(90deg,#a8cde4 0%,#a8cde4 2.21%,#a7cce4 4.43%,#a7cce4 5.9%,#a6cbe3 7.38%,#a4cae3 8.86%,#a2c8e2 10.33%,#9ec5e0 11.81%,#9ac2df 13.28%,#93bcdc 15.5%,#8cb6da 18.45%,#88b3d8 22.14%,#87b2d8 26.57%,#87b2d8 31.73%,#87b2d8 37.64%,#87b2d8 44.28%,#88b3d8 51.66%,#88b3d8 59.04%,#88b3d8 67.16%,#89b4d8 76.01%,#89b4d9 85.61%,#8ab4d9 94.46%,#8ab5d9 100%)"></div></div><div class="hm" style="left:37px;top:281px"><div style="top:0px;background:linear-gradient(90deg,#b3d4e7 0%,#b8d7e9 2.95%,#bcdaea 5.9%,#c2deec 8.86%,#c8e2ee 11.81%,#d0e7f0 14.76%,#d9edf0 17.71%,#e2efe5 20.66%,#ebf2dc 23.62%,#f0f4d6 26.57%,#f0f4d6 29.52%,#ebf2dc 32.47%,#e2efe5 35.42%,#d9edf0 38.38%,#d0e7f0 41.33%,#c8e2ee 44.28%,#c2deec 47.23%,#bcdaea 50.18%,#b8d7e9 53.14%,#b0d2e6 59.04%,#a8cde4 66.42%,#a5cbe3 73.8%,#a4cae2 81.18%,#a3c9e2 88.56%,#a3c9e2 100%)"></div><div style="top:1px;background:linear-gradient(90deg,#b3d4e7 0%,#b7d7e8 2.95%,#bcdaea 5.9%,#c1ddeb 8.86%,#c6e1ed 11.81%,#cde5ef 14.76%,#d4eaf1 17.71%,#dceded 20.66%,#e2efe5 23.62%,#e6f1e1 26.57%,#e6f1e1 29.52%,#e2efe5 32.47%,#dceded 35.42%,#d4eaf1 38.38%,#cde5ef 41.33%,#c6e1ed 44.28%,#c1ddeb 47.23%,#bcdaea 50.18%,#b7d7e8 53.14%,#afd2e6 59.04%,#a8cde4 66.42%,#a5cbe3 73.8%,#a4cae2 81.18%,#a3c9e2 88.56%,#a3c9e2 100%)"></div><div style="top:2px;background:linear-gradient(90deg,#b2d4e7 0%,#b6d6e8 2.95%,#bad9e9 5.9%,#bfdceb 8.86%,#c3dfec 11.81%,#c8e2ee 14.76%,#cde5ef 17.71%,#d1e8f0 20.66%,#d5ebf1 23.62%,#d7ecf2 26.57%,#d7ecf2 29.52%,#d5ebf1 32.47%,#d1e8f0 35.42%,#cde5ef 38.38%,#c8e2ee 41.33%,#c3dfec 44.28%,#bfdceb 47.23%,#bad9e9 50.18%,#b6d6e8 53.14%,#aed1e6 59.04%,#a8cde4 66.42%,#a5cbe3 73.8%,#a4cae2 81.18%,#a3c9e2 88.56%,#a3c9e2 100%)"></div><div style="top:3px;background:linear-gradient(90deg,#b1d3e7 0%,#b4d5e8 2.95%,#b8d8e9 5.9%,#bcdaea 8.86%,#c0ddeb 11.81%,#c4e0ec 14.76%,#c8e2ed 17.71%,#cbe4ee 20.66%,#cde5ef 23.62%,#cee6ef 26.57%,#cee6ef 29.52%,#cde5ef 32.47%,#cbe4ee 35.42%,#c8e2ed 38.38%,#c4e0ec 41.33%,#c0ddeb 44.28%,#bcdaea 47.23%,#b8d8e9 50.18%,#b4d5e8 53.14%,#add1e6 59.04%,#a7cde4 66.42%,#a5cae3 73.8%,#a4c9e2 81.18%,#a3c9e2 88.56%,#a3c9e2 100%)"></div><div style="top:4px;background:linear-gradient(90deg,#afd2e6 0%,#b2d4e7 2.95%,#b6d6e8 5.9%,#bad9e9 8.86%,#bddbea 11.81%,#c1ddeb 14.76%,#c4dfec 17.71%,#c6e1ed 20.66%,#c8e2ed 23.62%,#c9e3ee 26.57%,#c9e3ee 29.52%,#c8e2ed 32.47%,#c6e1ed 35.42%,#c4dfec 38.38%,#c1ddeb 41.33%,#bddbea 44.28%,#bad9e9 47.23%,#b6d6e8 50.18%,#b2d4e7 53.14%,#acd0e5 59.04%,#a7cce4 66.42%,#a5cae3 73.8%,#a4c9e2 81.18%,#a3c9e2 88.56%,#a3c9e2 100%)"></div><div style="top:5px;background:linear-gradient(90deg,#add1e6 0%,#b0d2e6 2.95%,#b3d5e7 5.9%,#b7d7e8 8.86%,#bad9e9 11.81%,#bddbea 14.76%,#c0ddeb 17.71%,#c2deec 20.66%,#c3dfec 23.62%,#c4dfec 26.57%,#c4dfec 29.52%,#c3dfec 32.47%,#c2deec 35.42%,#c0ddeb 38.38%,#bddbea 41.33%,#bad9e9 44.28%,#b7d7e8 47.23%,#b3d5e7 50.18%,#b0d2e6 53.14%,#abcfe5 59.04%,#a6cce3 66.42%,#a4cae3 73.8%,#a3c9e2 81.18%,#a3c9e2 88.56%,#a3c9e2 100%)"></div><div style="top:6px;background:linear-gradient(90deg,#accfe5 0%,#aed1e6 2.95%,#b1d3e7 5.9%,#b4d5e7 8.86%,#b6d6e8 11.81%,#b9d8e9 14.76%,#bbdaea 17.71%,#bddbea 20.66%,#bedceb 23.62%,#bfdceb 26.57%,#bfdceb 29.52%,#bedceb 32.47%,#bddbea 35.42%,#bbdaea 38.38%,#b9d8e9 41.33%,#b6d6e8 44.28%,#b4d5e7 47.23%,#b1d3e7 50.18%,#aed1e6 53.14%,#a9cee4 59.04%,#a6cbe3 66.42%,#a4cae3 73.8%,#a3c9e2 81.18%,#a3c9e2 88.56%,#a3c9e2 100%)"></div><div style="top:7px;background:linear-gradient(90deg,#aacee5 0%,#acd0e5 2.95%,#aed1e6 5.9%,#b0d3e7 8.86%,#b3d4e7 11.81%,#b5d6e8 14.76%,#b7d7e8 17.71%,#b8d8e9 20.66%,#bad9e9 23.62%,#bad9e9 26.57%,#bad9e9 29.52%,#bad9e9 32.47%,#b8d8e9 35.42%,#b7d7e8 38.38%,#b5d6e8 41.33%,#b3d4e7 44.28%,#b0d3e7 47.23%,#aed1e6 50.18%,#acd0e5 53.14%,#a8cde4 59.04%,#a5cbe3 66.42%,#a4cae3 73.8%,#a3c9e2 81.18%,#a3c9e2 88.56%,#a3c9e2 100%)"></div><div style="top:8px;background:linear-gradient(90deg,#a8cde4 0%,#aacee5 2.95%,#accfe5 5.9%,#aed1e6 8.86%,#afd2e6 11.81%,#b1d3e7 14.76%,#b3d4e7 17.71%,#b4d5e8 20.66%,#b5d6e8 23.62%,#b6d6e8 26.57%,#b6d6e8 29.52%,#b5d6e8 32.47%,#b4d5e8 35.42%,#b3d4e7 38.38%,#b1d3e7 41.33%,#afd2e6 44.28%,#aed1e6 47.23%,#accfe5 50.18%,#aacee5 53.14%,#a7cce4 59.04%,#a5cbe3 66.42%,#a4cae2 73.8%,#a3c9e2 81.18%,#a3c9e2 88.56%,#a3c9e2 100%)"></div><div style="top:9px;background:linear-gradient(90deg,#a7cce4 0%,#a8cde4 2.95%,#a9cee4 5.9%,#abcfe5 8.86%,#acd0e5 11.81%,#aed1e6 14.76%,#afd2e6 17.71%,#b0d2e6 20.66%,#b1d3e7 23.62%,#b1d3e7 26.57%,#b1d3e7 29.52%,#b1d3e7 32.47%,#b0d2e6 35.42%,#afd2e6 38.38%,#aed1e6 41.33%,#acd0e5 44.28%,#abcfe5 47.23%,#a9cee4 50.18%,#a8cde4 53.14%,#a6cce3 59.04%,#a5cae3 66.42%,#a4c9e2 73.8%,#a3c9e2 81.18%,#a3c9e2 88.56%,#a3c9e2 100%)"></div><div style="top:10px;background:linear-gradient(90deg,#a6cbe3 0%,#a7cce4 2.95%,#a8cde4 5.9%,#a9cde4 8.86%,#aacee5 11.81%,#abcfe5 14.76%,#acd0e5 17.71%,#add0e5 20.66%,#add0e6 23.62%,#aed1e6 26.57%,#aed1e6 29.52%,#add0e6 32.47%,#add0e5 35.42%,#acd0e5 38.38%,#abcfe5 41.33%,#aacee5 44.28%,#a9cde4 47.23%,#a8cde4 50.18%,#a7cce4 53.14%,#a5cbe3 59.04%,#a4cae3 66.42%,#a3c9e2 73.8%,#a3c9e2 81.18%,#a3c9e2 88.56%,#a3c9e2 100%)"></div><div style="top:11px;background:linear-gradient(90deg,#a5cbe3 0%,#a6cbe3 2.95%,#a6cce3 5.9%,#a7cce4 8.86%,#a8cde4 11.81%,#a8cde4 14.76%,#a9cee4 17.71%,#aacee5 20.66%,#aacee5 23.62%,#aacfe5 26.57%,#aacfe5 29.52%,#aacee5 32.47%,#aacee5 35.42%,#a9cee4 38.38%,#a8cde4 41.33%,#a8cde4 44.28%,#a7cce4 47.23%,#a6cce3 50.18%,#a6cbe3 53.14%,#a5cae3 59.04%,#a4cae2 66.42%,#a3c9e2 73.8%,#a3c9e2 81.18%,#a3c9e2 88.56%,#a3c9e2 100%)"></div><div style="top:12px;background:linear-gradient(90deg,#a5cae3 0%,#a5cbe3 2.95%,#a6cbe3 5.9%,#a6cbe3 8.86%,#a6cce3 11.81%,#a7cce4 14.76%,#a7cce4 17.71%,#a8cde4 20.66%,#a8cde4 23.62%,#a8cde4 26.57%,#a8cde4 29.52%,#a8cde4 32.47%,#a8cde4 35.42%,#a7cce4 38.38%,#a7cce4 41.33%,#a6cce3 44.28%,#a6cbe3 47.23%,#a6cbe3 50.18%,#a5cbe3 53.14%,#a4cae3 59.04%,#a4c9e2 66.42%,#a3c9e2 73.8%,#a3c9e2 81.18%,#a3c9e2 88.56%,#a3c9e2 100%)"></div><div style="top:13px;background:linear-gradient(90deg,#a4cae3 0%,#a4cae3 2.95%,#a5cae3 5.9%,#a5cbe3 8.86%,#a5cbe3 11.81%,#a6cbe3 14.76%,#a6cbe3 17.71%,#a6cce3 20.66%,#a6cce3 23.62%,#a6cce3 26.57%,#a6cce3 29.52%,#a6cce3 32.47%,#a6cce3 35.42%,#a6cbe3 38.38%,#a6cbe3 41.33%,#a5cbe3 44.28%,#a5cbe3 47.23%,#a5cae3 50.18%,#a4cae3 53.14%,#a4cae2 59.04%,#a3c9e2 66.42%,#a3c9e2 73.8%,#a3c9e2 81.18%,#a3c9e2 88.56%,#a3c9e2 100%)"></div><div style="top:14px;background:linear-gradient(90deg,#a4cae2 0%,#a4cae3 2.95%,#a4cae3 5.9%,#a4cae3 8.86%,#a5cae3 11.81%,#a5cae3 14.76%,#a5cbe3 17.71%,#a5cbe3 20.66%,#a5cbe3 23.62%,#a5cbe3 26.57%,#a5cbe3 29.52%,#a5cbe3 32.47%,#a5cbe3 35.42%,#a5cbe3 38.38%,#a5cae3 41.33%,#a5cae3 44.28%,#a4cae3 47.23%,#a4cae3 50.18%,#a4cae3 53.14%,#a4c9e2 59.04%,#a3c9e2 66.42%,#a3c9e2 73.8%,#a3c9e2 81.18%,#a3c9e2 88.56%,#a3c9e2 100%)"></div><div style="top:15px;background:linear-gradient(90deg,#a3c9e2 0%,#a4c9e2 2.95%,#a4cae2 5.9%,#a4cae2 8.86%,#a4cae3 11.81%,#a4cae3 14.76%,#a4cae3 17.71%,#a4cae3 20.66%,#a5cae3 23.62%,#a5cae3 26.57%,#a5cae3 29.52%,#a5cae3 32.47%,#a4cae3 35.42%,#a4cae3 38.38%,#a4cae3 41.33%,#a4cae3 44.28%,#a4cae2 47.23%,#a4cae2 50.18%,#a4c9e2 53.14%,#a3c9e2 59.04%,#a3c9e2 66.42%,#a3c9e2 73.8%,#a3c9e2 81.18%,#a3c9e2 88.56%,#a3c9e2 100%)"></div><div style="top:16px;background:linear-gradient(90deg,#a3c9e2 0%,#a3c9e2 2.95%,#a3c9e2 5.9%,#a4c9e2 8.86%,#a4c9e2 11.81%,#a4cae2 14.76%,#a4cae2 17.71%,#a4cae2 20.66%,#a4cae3 23.62%,#a4cae3 26.57%,#a4cae3 29.52%,#a4cae3 32.47%,#a4cae2 35.42%,#a4cae2 38.38%,#a4cae2 41.33%,#a4c9e2 44.28%,#a4c9e2 47.23%,#a3c9e2 50.18%,#a3c9e2 53.14%,#a3c9e2 59.04%,#a3c9e2 66.42%,#a3c9e2 73.8%,#a3c9e2 81.18%,#a3c9e2 88.56%,#a3c9e2 100%)"></div><div style="top:17px;background:linear-gradient(90deg,#a3c9e2 0%,#a3c9e2 2.95%,#a3c9e2 5.9%,#a3c9e2 8.86%,#a3c9e2 11.81%,#a3c9e2 14.76%,#a4c9e2 17.71%,#a4c9e2 20.66%,#a4c9e2 23.62%,#a4c9e2 26.57%,#a4c9e2 29.52%,#a4c9e2 32.47%,#a4c9e2 35.42%,#a4c9e2 38.38%,#a3c9e2 41.33%,#a3c9e2 44.28%,#a3c9e2 47.23%,#a3c9e2 50.18%,#a3c9e2 53.14%,#a3c9e2 59.04%,#a3c9e2 66.42%,#a3c9e2 73.8%,#a3c9e2 81.18%,#a3c9e2 88.56%,#a3c9e2 100%)"></div><div style="top:18px;background:linear-gradient(90deg,#a3c9e2 0%,#a3c9e2 2.95%,#a3c9e2 5.9%,#a3c9e2 8.86%,#a3c9e2 11.81%,#a3c9e2 14.76%,#a3c9e2 17.71%,#a3c9e2 20.66%,#a3c9e2 23.62%,#a3c9e2 26.57%,#a3c9e2 29.52%,#a3c9e2 32.47%,#a3c9e2 35.42%,#a3c9e2 38.38%,#a3c9e2 41.33%,#a3c9e2 44.28%,#a3c9e2 47.23%,#a3c9e2 50.18%,#a3c9e2 53.14%,#a3c9e2 59.04%,#a3c9e2 66.42%,#a3c9e2 73.8%,#a3c9e2 81.18%,#a3c9e2 88.56%,#a3c9e2 100%)"></div><div style="top:19px;background:linear-gradient(90deg,#a3c9e2 0%,#a3c9e2 2.95%,#a3c9e2 5.9%,#a3c9e2 8.86%,#a3c9e2 11.81%,#a3c9e2 14.76%,#a3c9e2 17.71%,#a3c9e2 20.66%,#a3c9e2 23.62%,#a3c9e2 26.57%,#a3c9e2 29.52%,#a3c9e2 32.47%,#a3c9e2 35.42%,#a3c9e2 38.38%,#a3c9e2 41.33%,#a3c9e2 44.28%,#a3c9e2 47.23%,#a3c9e2 50.18%,#a3c9e2 53.14%,#a3c9e2 59.04%,#a3c9e2 66.42%,#a3c9e2 73.8%,#a3c9e2 81.18%,#a3c9e2 88.56%,#a3c9e2 100%)"></div><div style="top:20px;background:linear-gradient(90deg,#a3c9e2 0%,#a3c9e2 2.95%,#a3c9e2 5.9%,#a3c9e2 8.86%,#a3c9e2 11.81%,#a3c9e2 14.76%,#a3c9e2 17.71%,#a3c9e2 20.66%,#a3c9e2 23.62%,#a3c9e2 26.57%,#a3c9e2 29.52%,#a3c9e2 32.47%,#a3c9e2 35.42%,#a3c9e2 38.38%,#a3c9e2 41.33%,#a3c9e2 44.28%,#a3c9e2 47.23%,#a3c9e2 50.18%,#a3c9e2 53.14%,#a3c9e2 59.04%,#a3c9e2 66.42%,#a3c9e2 73.8%,#a3c9e2 81.18%,#a3c9e2 88.56%,#a3c9e2 100%)"></div><div style="top:21px;background:linear-gradient(90deg,#a3c9e2 0%,#a3c9e2 2.95%,#a3c9e2 5.9%,#a3c9e2 8.86%,#a3c9e2 11.81%,#a3c9e2 14.76%,#a3c9e2 17.71%,#a3c9e2 20.66%,#a3c9e2 23.62%,#a3c9e2 26.57%,#a3c9e2 29.52%,#a3c9e2 32.47%,#a3c9e2 35.42%,#a3c9e2 38.38%,#a3c9e2 41.33%,#a3c9e2 44.28%,#a3c9e2 47.23%,#a3c9e2 50.18%,#a3c9e2 53.14%,#a3c9e2 59.04%,#a3c9e2 66.42%,#a3c9e2 73.8%,#a3c9e2 81.18%,#a3c9e2 88.56%,#a3c9e2 100%)"></div><div style="top:22px;background:linear-gradient(90deg,#a3c9e2 0%,#a3c9e2 2.95%,#a3c9e2 5.9%,#a3c9e2 8.86%,#a3c9e2 11.81%,#a3c9e2 14.76%,#a3c9e2 17.71%,#a3c9e2 20.66%,#a3c9e2 23.62%,#a3c9e2 26.57%,#a3c9e2 29.52%,#a3c9e2 32.47%,#a3c9e2 35.42%,#a3c9e2 38.38%,#a3c9e2 41.33%,#a3c9e2 44.28%,#a3c9e2 47.23%,#a3c9e2 50.18%,#a3c9e2 53.14%,#a3c9e2 59.04%,#a3c9e2 66.42%,#a3c9e2 73.8%,#a3c9e2 81.18%,#a3c9e2 88.56%,#a3c9e2 100%)"></div><div style="top:23px;background:linear-gradient(90deg,#a3c9e2 0%,#a3c9e2 2.95%,#a3c9e2 5.9%,#a3c9e2 8.86%,#a3c9e2 11.81%,#a3c9e2 14.76%,#a3c9e2 17.71%,#a3c9e2 20.66%,#a3c9e2 23.62%,#a3c9e2 26.57%,#a3c9e2 29.52%,#a3c9e2 32.47%,#a3c9e2 35.42%,#a3c9e2 38.38%,#a3c9e2 41.33%,#a3c9e2 44.28%,#a3c9e2 47.23%,#a3c9e2 50.18%,#a3c9e2 53.14%,#a3c9e2 59.04%,#a3c9e2 66.42%,#a3c9e2 73.8%,#a3c9e2 81.18%,#a3c9e2 88.56%,#a3c9e2 100%)"></div><div style="top:24px;background:linear-gradient(90deg,#a3c9e2 0%,#a3c9e2 2.95%,#a3c9e2 5.9%,#a3c9e2 8.86%,#a3c9e2 11.81%,#a3c9e2 14.76%,#a3c9e2 17.71%,#a3c9e2 20.66%,#a3c9e2 23.62%,#a3c9e2 26.57%,#a3c9e2 29.52%,#a3c9e2 32.47%,#a3c9e2 35.42%,#a3c9e2 38.38%,#a3c9e2 41.33%,#a3c9e2 44.28%,#a3c9e2 47.23%,#a3c9e2 50.18%,#a3c9e2 53.14%,#a3c9e2 59.04%,#a3c9e2 66.42%,#a3c9e2 73.8%,#a3c9e2 81.18%,#a3c9e2 88.56%,#a3c9e2 100%)"></div><div style="top:25px;background:linear-gradient(90deg,#a3c9e2 0%,#a3c9e2 2.95%,#a3c9e2 5.9%,#a3c9e2 8.86%,#a3c9e2 11.81%,#a3c9e2 14.76%,#a3c9e2 17.71%,#a3c9e2 20.66%,#a3c9e2 23.62%,#a3c9e2 26.57%,#a3c9e2 29.52%,#a3c9e2 32.47%,#a3c9e2 35.42%,#a3c9e2 38.38%,#a3c9e2 41.33%,#a3c9e2 44.28%,#a3c9e2 47.23%,#a3c9e2 50.18%,#a3c9e2 53.14%,#a3c9e2 59.04%,#a3c9e2 66.42%,#a3c9e2 73.8%,#a3c9e2 81.18%,#a3c9e2 88.56%,#a3c9e2 100%)"></div><div style="top:26px;background:linear-gradient(90deg,#a3c9e2 0%,#a3c9e2 2.95%,#a3c9e2 5.9%,#a3c9e2 8.86%,#a3c9e2 11.81%,#a3c9e2 14.76%,#a3c9e2 17.71%,#a3c9e2 20.66%,#a3c9e2 23.62%,#a3c9e2 26.57%,#a3c9e2 29.52%,#a3c9e2 32.47%,#a3c9e2 35.42%,#a3c9e2 38.38%,#a3c9e2 41.33%,#a3c9e2 44.28%,#a3c9e2 47.23%,#a3c9e2 50.18%,#a3c9e2 53.14%,#a3c9e2 59.04%,#a3c9e2 66.42%,#a3c9e2 73.8%,#a3c9e2 81.18%,#a3c9e2 88.56%,#a3c9e2 100%)"></div><div style="top:27px;background:linear-gradient(90deg,#a3c9e2 0%,#a3c9e2 2.95%,#a3c9e2 5.9%,#a3c9e2 8.86%,#a3c9e2 11.81%,#a3c9e2 14.76%,#a3c9e2 17.71%,#a3c9e2 20.66%,#a3c9e2 23.62%,#a3c9e2 26.57%,#a3c9e2 29.52%,#a3c9e2 32.47%,#a3c9e2 35.42%,#a3c9e2 38.38%,#a3c9e2 41.33%,#a3c9e2 44.28%,#a3c9e2 47.23%,#a3c9e2 50.18%,#a3c9e2 53.14%,#a3c9e2 59.04%,#a3c9e2 66.42%,#a3c9e2 73.8%,#a3c9e2 81.18%,#a3c9e2 88.56%,#a3c9e2 100%)"></div><div style="top:28px;background:linear-gradient(90deg,#a3c9e2 0%,#a3c9e2 2.95%,#a3c9e2 5.9%,#a3c9e2 8.86%,#a3c9e2 11.81%,#a3c9e2 14.76%,#a3c9e2 17.71%,#a3c9e2 20.66%,#a3c9e2 23.62%,#a3c9e2 26.57%,#a3c9e2 29.52%,#a3c9e2 32.47%,#a3c9e2 35.42%,#a3c9e2 38.38%,#a3c9e2 41.33%,#a3c9e2 44.28%,#a3c9e2 47.23%,#a3c9e2 50.18%,#a3c9e2 53.14%,#a3c9e2 59.04%,#a3c9e2 66.42%,#a3c9e2 73.8%,#a3c9e2 81.18%,#a3c9e2 88.56%,#a3c9e2 100%)"></div><div style="top:29px;background:linear-gradient(90deg,#a3c9e2 0%,#a3c9e2 2.95%,#a3c9e2 5.9%,#a3c9e2 8.86%,#a3c9e2 11.81%,#a3c9e2 14.76%,#a3c9e2 17.71%,#a3c9e2 20.66%,#a3c9e2 23.62%,#a3c9e2 26.57%,#a3c9e2 29.52%,#a3c9e2 32.47%,#a3c9e2 35.42%,#a3c9e2 38.38%,#a3c9e2 41.33%,#a3c9e2 44.28%,#a3c9e2 47.23%,#a3c9e2 50.18%,#a3c9e2 53.14%,#a3c9e2 59.04%,#a3c9e2 66.42%,#a3c9e2 73.8%,#a3c9e2 81.18%,#a3c9e2 88.56%,#a3c9e2 100%)"></div><div style="top:30px;background:linear-gradient(90deg,#a3c9e2 0%,#a3c9e2 2.95%,#a3c9e2 5.9%,#a3c9e2 8.86%,#a3c9e2 11.81%,#a3c9e2 14.76%,#a3c9e2 17.71%,#a3c9e2 20.66%,#a3c9e2 23.62%,#a3c9e2 26.57%,#a3c9e2 29.52%,#a3c9e2 32.47%,#a3c9e2 35.42%,#a3c9e2 38.38%,#a3c9e2 41.33%,#a3c9e2 44.28%,#a3c9e2 47.23%,#a3c9e2 50.18%,#a3c9e2 53.14%,#a3c9e2 59.04%,#a3c9e2 66.42%,#a3c9e2 73.8%,#a3c9e2 81.18%,#a3c9e2 88.56%,#a3c9e2 100%)"></div><div style="top:31px;background:linear-gradient(90deg,#a3c9e2 0%,#a3c9e2 2.95%,#a3c9e2 5.9%,#a3c9e2 8.86%,#a3c9e2 11.81%,#a3c9e2 14.76%,#a3c9e2 17.71%,#a3c9e2 20.66%,#a3c9e2 23.62%,#a3c9e2 26.57%,#a3c9e2 29.52%,#a3c9e2 32.47%,#a3c9e2 35.42%,#a3c9e2 38.38%,#a3c9e2 41.33%,#a3c9e2 44.28%,#a3c9e2 47.23%,#a3c9e2 50.18%,#a3c9e2 53.14%,#a3c9e2 59.04%,#a3c9e2 66.42%,#a3c9e2 73.8%,#a3c9e2 81.18%,#a3c9e2 88.56%,#a3c9e2 100%)"></div><div style="top:32px;background:linear-gradient(90deg,#a3c9e2 0%,#a3c9e2 2.95%,#a3c9e2 5.9%,#a3c9e2 8.86%,#a3c9e2 11.81%,#a3c9e2 14.76%,#a3c9e2 17.71%,#a3c9e2 20.66%,#a3c9e2 23.62%,#a3c9e2 26.57%,#a3c9e2 29.52%,#a3c9e2 32.47%,#a3c9e2 35.42%,#a3c9e2 38.38%,#a3c9e2 41.33%,#a3c9e2 44.28%,#a3c9e2 47.23%,#a3c9e2 50.18%,#a3c9e2 53.14%,#a3c9e2 59.04%,#a3c9e2 66.42%,#a3c9e2 73.8%,#a3c9e2 81.18%,#a3c9e2 88.56%,#a3c9e2 100%)"></div><div style="top:33px;background:linear-gradient(90deg,#a3c9e2 0%,#a3c9e2 2.95%,#a3c9e2 5.9%,#a3c9e2 8.86%,#a3c9e2 11.81%,#a3c9e2 14.76%,#a3c9e2 17.71%,#a3c9e2 20.66%,#a3c9e2 23.62%,#a3c9e2 26.57%,#a3c9e2 29.52%,#a3c9e2 32.47%,#a3c9e2 35.42%,#a3c9e2 38.38%,#a3c9e2 41.33%,#a3c9e2 44.28%,#a3c9e2 47.23%,#a3c9e2 50.18%,#a3c9e2 53.14%,#a3c9e2 59.04%,#a3c9e2 66.42%,#a3c9e2 73.8%,#a3c9e2 81.18%,#a3c9e2 88.56%,#a3c9e2 100%)"></div><div style="top:34px;background:linear-gradient(90deg,#a3c9e2 0%,#a3c9e2 2.95%,#a3c9e2 5.9%,#a3c9e2 8.86%,#a3c9e2 11.81%,#a3c9e2 14.76%,#a3c9e2 17.71%,#a3c9e2 20.66%,#a3c9e2 23.62%,#a3c9e2 26.57%,#a3c9e2 29.52%,#a3c9e2 32.47%,#a3c9e2 35.42%,#a3c9e2 38.38%,#a3c9e2 41.33%,#a3c9e2 44.28%,#a3c9e2 47.23%,#a3c9e2 50.18%,#a3c9e2 53.14%,#a3c9e2 59.04%,#a3c9e2 66.42%,#a3c9e2 73.8%,#a3c9e2 81.18%,#a3c9e2 88.56%,#a3c9e2 100%)"></div><div style="top:35px;background:linear-gradient(90deg,#a3c9e2 0%,#a3c9e2 2.95%,#a3c9e2 5.9%,#a3c9e2 8.86%,#a3c9e2 11.81%,#a3c9e2 14.76%,#a3c9e2 17.71%,#a3c9e2 20.66%,#a3c9e2 23.62%,#a3c9e2 26.57%,#a3c9e2 29.52%,#a3c9e2 32.47%,#a3c9e2 35.42%,#a3c9e2 38.38%,#a3c9e2 41.33%,#a3c9e2 44.28%,#a3c9e2 47.23%,#a3c9e2 50.18%,#a3c9e2 53.14%,#a3c9e2 59.04%,#a3c9e2 66.42%,#a3c9e2 73.8%,#a3c9e2 81.18%,#a3c9e2 88.56%,#a3c9e2 100%)"></div><div style="top:36px;background:linear-gradient(90deg,#a3c9e2 0%,#a3c9e2 2.95%,#a3c9e2 5.9%,#a3c9e2 8.86%,#a3c9e2 11.81%,#a3c9e2 14.76%,#a3c9e2 17.71%,#a3c9e2 20.66%,#a3c9e2 23.62%,#a3c9e2 26.57%,#a3c9e2 29.52%,#a3c9e2 32.47%,#a3c9e2 35.42%,#a3c9e2 38.38%,#a3c9e2 41.33%,#a3c9e2 44.28%,#a3c9e2 47.23%,#a3c9e2 50.18%,#a3c9e2 53.14%,#a3c9e2 59.04%,#a3c9e2 66.42%,#a3c9e2 73.8%,#a3c9e2 81.18%,#a3c9e2 88.56%,#a3c9e2 100%)"></div><div style="top:37px;background:linear-gradient(90deg,#a3c9e2 0%,#a3c9e2 2.95%,#a3c9e2 5.9%,#a3c9e2 8.86%,#a3c9e2 11.81%,#a3c9e2 14.76%,#a3c9e2 17.71%,#a3c9e2 20.66%,#a3c9e2 23.62%,#a3c9e2 26.57%,#a3c9e2 29.52%,#a3c9e2 32.47%,#a3c9e2 35.42%,#a3c9e2 38.38%,#a3c9e2 41.33%,#a3c9e2 44.28%,#a3c9e2 47.23%,#a3c9e2 50.18%,#a3c9e2 53.14%,#a3c9e2 59.04%,#a3c9e2 66.42%,#a3c9e2 73.8%,#a3c9e2 81.18%,#a3c9e2 88.56%,#a3c9e2 100%)"></div><div style="top:38px;background:linear-gradient(90deg,#a3c9e2 0%,#a3c9e2 2.95%,#a3c9e2 5.9%,#a3c9e2 8.86%,#a3c9e2 11.81%,#a3c9e2 14.76%,#a3c9e2 17.71%,#a3c9e2 20.66%,#a3c9e2 23.62%,#a3c9e2 26.57%,#a3c9e2 29.52%,#a3c9e2 32.47%,#a3c9e2 35.42%,#a3c9e2 38.38%,#a3c9e2 41.33%,#a3c9e2 44.28%,#a3c9e2 47.23%,#a3c9e2 50.18%,#a3c9e2 53.14%,#a3c9e2 59.04%,#a3c9e2 66.42%,#a3c9e2 73.8%,#a3c9e2 81.18%,#a3c9e2 88.56%,#a3c9e2 100%)"></div><div style="top:39px;background:linear-gradient(90deg,#a3c9e2 0%,#a3c9e2 2.95%,#a3c9e2 5.9%,#a3c9e2 8.86%,#a3c9e2 11.81%,#a3c9e2 14.76%,#a3c9e2 17.71%,#a3c9e2 20.66%,#a3c9e2 23.62%,#a3c9e2 26.57%,#a3c9e2 29.52%,#a3c9e2 32.47%,#a3c9e2 35.42%,#a3c9e2 38.38%,#a3c9e2 41.33%,#a3c9e2 44.28%,#a3c9e2 47.23%,#a3c9e2 50.18%,#a3c9e2 53.14%,#a3c9e2 59.04%,#a3c9e2 66.42%,#a3c9e2 73.8%,#a3c9e2 81.18%,#a3c9e2 88.56%,#a3c9e2 100%)"></div><div style="top:40px;background:linear-gradient(90deg,#a3c9e2 0%,#a3c9e2 2.95%,#a3c9e2 5.9%,#a3c9e2 8.86%,#a3c9e2 11.81%,#a3c9e2 14.76%,#a3c9e2 17.71%,#a3c9e2 20.66%,#a3c9e2 23.62%,#a3c9e2 26.57%,#a3c9e2 29.52%,#a3c9e2 32.47%,#a3c9e2 35.42%,#a3c9e2 38.38%,#a3c9e2 41.33%,#a3c9e2 44.28%,#a3c9e2 47.23%,#a3c9e2 50.18%,#a3c9e2 53.14%,#a3c9e2 59.04%,#a3c9e2 66.42%,#a3c9e2 73.8%,#a3c9e2 81.18%,#a3c9e2 88.56%,#a3c9e2 100%)"></div><div style="top:41px;background:linear-gradient(90deg,#a3c9e2 0%,#a3c9e2 2.95%,#a3c9e2 5.9%,#a3c9e2 8.86%,#a3c9e2 11.81%,#a3c9e2 14.76%,#a3c9e2 17.71%,#a3c9e2 20.66%,#a3c9e2 23.62%,#a3c9e2 26.57%,#a3c9e2 29.52%,#a3c9e2 32.47%,#a3c9e2 35.42%,#a3c9e2 38.38%,#a3c9e2 41.33%,#a3c9e2 44.28%,#a3c9e2 47.23%,#a3c9e2 50.18%,#a3c9e2 53.14%,#a3c9e2 59.04%,#a3c9e2 66.42%,#a3c9e2 73.8%,#a3c9e2 81.18%,#a3c9e2 88.56%,#a3c9e2 100%)"></div><div style="top:42px;background:linear-gradient(90deg,#a3c9e2 0%,#a3c9e2 2.95%,#a3c9e2 5.9%,#a3c9e2 8.86%,#a3c9e2 11.81%,#a3c9e2 14.76%,#a3c9e2 17.71%,#a3c9e2 20.66%,#a3c9e2 23.62%,#a3c9e2 26.57%,#a3c9e2 29.52%,#a3c9e2 32.47%,#a3c9e2 35.42%,#a3c9e2 38.38%,#a3c9e2 41.33%,#a3c9e2 44.28%,#a3c9e2 47.23%,#a3c9e2 50.18%,#a3c9e2 53.14%,#a3c9e2 59.04%,#a3c9e2 66.42%,#a3c9e2 73.8%,#a3c9e2 81.18%,#a3c9e2 88.56%,#a3c9e2 100%)"></div><div style="top:43px;background:linear-gradient(90deg,#a3c9e2 0%,#a3c9e2 2.95%,#a3c9e2 5.9%,#a3c9e2 8.86%,#a3c9e2 11.81%,#a3c9e2 14.76%,#a3c9e2 17.71%,#a3c9e2 20.66%,#a3c9e2 23.62%,#a3c9e2 26.57%,#a3c9e2 29.52%,#a3c9e2 32.47%,#a3c9e2 35.42%,#a3c9e2 38.38%,#a3c9e2 41.33%,#a3c9e2 44.28%,#a3c9e2 47.23%,#a3c9e2 50.18%,#a3c9e2 53.14%,#a3c9e2 59.04%,#a3c9e2 66.42%,#a3c9e2 73.8%,#a3c9e2 81.18%,#a3c9e2 88.56%,#a3c9e2 100%)"></div><div style="top:44px;background:linear-gradient(90deg,#a3c9e2 0%,#a3c9e2 2.95%,#a3c9e2 5.9%,#a3c9e2 8.86%,#a3c9e2 11.81%,#a3c9e2 14.76%,#a3c9e2 17.71%,#a3c9e2 20.66%,#a3c9e2 23.62%,#a3c9e2 26.57%,#a3c9e2 29.52%,#a3c9e2 32.47%,#a3c9e2 35.42%,#a3c9e2 38.38%,#a3c9e2 41.33%,#a3c9e2 44.28%,#a3c9e2 47.23%,#a3c9e2 50.18%,#a3c9e2 53.14%,#a3c9e2 59.04%,#a3c9e2 66.42%,#a3c9e2 73.8%,#a3c9e2 81.18%,#a3c9e2 88.56%,#a3c9e2 100%)"></div><div style="top:45px;background:linear-gradient(90deg,#a3c9e2 0%,#a3c9e2 2.95%,#a3c9e2 5.9%,#a3c9e2 8.86%,#a3c9e2 11.81%,#a3c9e2 14.76%,#a3c9e2 17.71%,#a3c9e2 20.66%,#a3c9e2 23.62%,#a3c9e2 26.57%,#a3c9e2 29.52%,#a3c9e2 32.47%,#a3c9e2 35.42%,#a3c9e2 38.38%,#a3c9e2 41.33%,#a3c9e2 44.28%,#a3c9e2 47.23%,#a3c9e2 50.18%,#a3c9e2 53.14%,#a3c9e2 59.04%,#a3c9e2 66.42%,#a3c9e2 73.8%,#a3c9e2 81.18%,#a3c9e2 88.56%,#a3c9e2 100%)"></div><div style="top:46px;background:linear-gradient(90deg,#a3c9e2 0%,#a3c9e2 2.95%,#a3c9e2 5.9%,#a3c9e2 8.86%,#a3c9e2 11.81%,#a3c9e2 14.76%,#a3c9e2 17.71%,#a3c9e2 20.66%,#a3c9e2 23.62%,#a3c9e2 26.57%,#a3c9e2 29.52%,#a3c9e2 32.47%,#a3c9e2 35.42%,#a3c9e2 38.38%,#a3c9e2 41.33%,#a3c9e2 44.28%,#a3c9e2 47.23%,#a3c9e2 50.18%,#a3c9e2 53.14%,#a3c9e2 59.04%,#a3c9e2 66.42%,#a3c9e2 73.8%,#a3c9e2 81.18%,#a3c9e2 88.56%,#a3c9e2 100%)"></div><div style="top:47px;background:linear-gradient(90deg,#a3c9e2 0%,#a3c9e2 2.95%,#a3c9e2 5.9%,#a3c9e2 8.86%,#a3c9e2 11.81%,#a3c9e2 14.76%,#a3c9e2 17.71%,#a3c9e2 20.66%,#a3c9e2 23.62%,#a3c9e2 26.57%,#a3c9e2 29.52%,#a3c9e2 32.47%,#a3c9e2 35.42%,#a3c9e2 38.38%,#a3c9e2 41.33%,#a3c9e2 44.28%,#a3c9e2 47.23%,#a3c9e2 50.18%,#a3c9e2 53.14%,#a3c9e2 59.04%,#a3c9e2 66.42%,#a3c9e2 73.8%,#a3c9e2 81.18%,#a3c9e2 88.56%,#a3c9e2 100%)"></div><div style="top:48px;background:linear-gradient(90deg,#a3c9e2 0%,#a3c9e2 2.95%,#a3c9e2 5.9%,#a3c9e2 8.86%,#a3c9e2 11.81%,#a3c9e2 14.76%,#a3c9e2 17.71%,#a3c9e2 20.66%,#a3c9e2 23.62%,#a3c9e2 26.57%,#a3c9e2 29.52%,#a3c9e2 32.47%,#a3c9e2 35.42%,#a3c9e2 38.38%,#a3c9e2 41.33%,#a3c9e2 44.28%,#a3c9e2 47.23%,#a3c9e2 50.18%,#a3c9e2 53.14%,#a3c9e2 59.04%,#a3c9e2 66.42%,#a3c9e2 73.8%,#a3c9e2 81.18%,#a3c9e2 88.56%,#a3c9e2 100%)"></div><div style="top:49px;background:linear-gradient(90deg,#a3c9e2 0%,#a3c9e2 2.95%,#a3c9e2 5.9%,#a3c9e2 8.86%,#a3c9e2 11.81%,#a3c9e2 14.76%,#a3c9e2 17.71%,#a3c9e2 20.66%,#a3c9e2 23.62%,#a3c9e2 26.57%,#a3c9e2 29.52%,#a3c9e2 32.47%,#a3c9e2 35.42%,#a3c9e2 38.38%,#a3c9e2 41.33%,#a3c9e2 44.28%,#a3c9e2 47.23%,#a3c9e2 50.18%,#a3c9e2 53.14%,#a3c9e2 59.04%,#a3c9e2 66.42%,#a3c9e2 73.8%,#a3c9e2 81.18%,#a3c9e2 88.56%,#a3c9e2 100%)"></div><div style="top:50px;background:linear-gradient(90deg,#a3c9e2 0%,#a3c9e2 2.95%,#a3c9e2 5.9%,#a3c9e2 8.86%,#a3c9e2 11.81%,#a3c9e2 14.76%,#a3c9e2 17.71%,#a3c9e2 20.66%,#a3c9e2 23.62%,#a3c9e2 26.57%,#a3c9e2 29.52%,#a3c9e2 32.47%,#a3c9e2 35.42%,#a3c9e2 38.38%,#a3c9e2 41.33%,#a3c9e2 44.28%,#a3c9e2 47.23%,#a3c9e2 50.18%,#a3c9e2 53.14%,#a3c9e2 59.04%,#a3c9e2 66.42%,#a3c9e2 73.8%,#a3c9e2 81.18%,#a3c9e2 88.56%,#a3c9e2 100%)"></div><div style="top:51px;background:linear-gradient(90deg,#a3c9e2 0%,#a3c9e2 2.95%,#a3c9e2 5.9%,#a3c9e2 8.86%,#a3c9e2 11.81%,#a3c9e2 14.76%,#a3c9e2 17.71%,#a3c9e2 20.66%,#a3c9e2 23.62%,#a3c9e2 26.57%,#a3c9e2 29.52%,#a3c9e2 32.47%,#a3c9e2 35.42%,#a3c9e2 38.38%,#a3c9e2 41.33%,#a3c9e2 44.28%,#a3c9e2 47.23%,#a3c9e2 50.18%,#a3c9e2 53.14%,#a3c9e2 59.04%,#a3c9e2 66.42%,#a3c9e2 73.8%,#a3c9e2 81.18%,#a3c9e2 88.56%,#a3c9e2 100%)"></div><div style="top:52px;background:linear-gradient(90deg,#a3c9e2 0%,#a3c9e2 2.95%,#a3c9e2 5.9%,#a3c9e2 8.86%,#a3c9e2 11.81%,#a3c9e2 14.76%,#a3c9e2 17.71%,#a3c9e2 20.66%,#a3c9e2 23.62%,#a3c9e2 26.57%,#a3c9e2 29.52%,#a3c9e2 32.47%,#a3c9e2 35.42%,#a3c9e2 38.38%,#a3c9e2 41.33%,#a3c9e2 44.28%,#a3c9e2 47.23%,#a3c9e2 50.18%,#a3c9e2 53.14%,#a3c9e2 59.04%,#a3c9e2 66.42%,#a3c9e2 73.8%,#a3c9e2 81.18%,#a3c9e2 88.56%,#a3c9e2 100%)"></div><div style="top:53px;background:linear-gradient(90deg,#a3c9e2 0%,#a3c9e2 2.95%,#a3c9e2 5.9%,#a3c9e2 8.86%,#a3c9e2 11.81%,#a3c9e2 14.76%,#a3c9e2 17.71%,#a3c9e2 20.66%,#a3c9e2 23.62%,#a3c9e2 26.57%,#a3c9e2 29.52%,#a3c9e2 32.47%,#a3c9e2 35.42%,#a3c9e2 38.38%,#a3c9e2 41.33%,#a3c9e2 44.28%,#a3c9e2 47.23%,#a3c9e2 50.18%,#a3c9e2 53.14%,#a3c9e2 59.04%,#a3c9e2 66.42%,#a3c9e2 73.8%,#a3c9e2 81.18%,#a3c9e2 88.56%,#a3c9e2 100%)"></div><div style="top:54px;background:linear-gradient(90deg,#a3c9e2 0%,#a3c9e2 2.95%,#a3c9e2 5.9%,#a3c9e2 8.86%,#a3c9e2 11.81%,#a3c9e2 14.76%,#a3c9e2 17.71%,#a3c9e2 20.66%,#a3c9e2 23.62%,#a3c9e2 26.57%,#a3c9e2 29.52%,#a3c9e2 32.47%,#a3c9e2 35.42%,#a3c9e2 38.38%,#a3c9e2 41.33%,#a3c9e2 44.28%,#a3c9e2 47.23%,#a3c9e2 50.18%,#a3c9e2 53.14%,#a3c9e2 59.04%,#a3c9e2 66.42%,#a3c9e2 73.8%,#a3c9e2 81.18%,#a3c9e2 88.56%,#a3c9e2 100%)"></div><div style="top:55px;background:linear-gradient(90deg,#a3c9e2 0%,#a3c9e2 2.95%,#a3c9e2 5.9%,#a3c9e2 8.86%,#a3c9e2 11.81%,#a3c9e2 14.76%,#a3c9e2 17.71%,#a3c9e2 20.66%,#a3c9e2 23.62%,#a3c9e2 26.57%,#a3c9e2 29.52%,#a3c9e2 32.47%,#a3c9e2 35.42%,#a3c9e2 38.38%,#a3c9e2 41.33%,#a3c9e2 44.28%,#a3c9e2 47.23%,#a3c9e2 50.18%,#a3c9e2 53.14%,#a3c9e2 59.04%,#a3c9e2 66.42%,#a3c9e2 73.8%,#a3c9e2 81.18%,#a3c9e2 88.56%,#a3c9e2 100%)"></div><div style="top:56px;background:linear-gradient(90deg,#a3c9e2 0%,#a3c9e2 2.95%,#a3c9e2 5.9%,#a3c9e2 8.86%,#a3c9e2 11.81%,#a3c9e2 14.76%,#a3c9e2 17.71%,#a3c9e2 20.66%,#a3c9e2 23.62%,#a3c9e2 26.57%,#a3c9e2 29.52%,#a3c9e2 32.47%,#a3c9e2 35.42%,#a3c9e2 38.38%,#a3c9e2 41.33%,#a3c9e2 44.28%,#a3c9e2 47.23%,#a3c9e2 50.18%,#a3c9e2 53.14%,#a3c9e2 59.04%,#a3c9e2 66.42%,#a3c9e2 73.8%,#a3c9e2 81.18%,#a3c9e2 88.56%,#a3c9e2 100%)"></div><div style="top:57px;background:linear-gradient(90deg,#a3c9e2 0%,#a3c9e2 2.95%,#a3c9e2 5.9%,#a3c9e2 8.86%,#a3c9e2 11.81%,#a3c9e2 14.76%,#a3c9e2 17.71%,#a3c9e2 20.66%,#a3c9e2 23.62%,#a3c9e2 26.57%,#a3c9e2 29.52%,#a3c9e2 32.47%,#a3c9e2 35.42%,#a3c9e2 38.38%,#a3c9e2 41.33%,#a3c9e2 44.28%,#a3c9e2 47.23%,#a3c9e2 50.18%,#a3c9e2 53.14%,#a3c9e2 59.04%,#a3c9e2 66.42%,#a3c9e2 73.8%,#a3c9e2 81.18%,#a3c9e2 88.56%,#a3c9e2 100%)"></div><div style="top:58px;background:linear-gradient(90deg,#a3c9e2 0%,#a3c9e2 2.95%,#a3c9e2 5.9%,#a3c9e2 8.86%,#a3c9e2 11.81%,#a3c9e2 14.76%,#a3c9e2 17.71%,#a3c9e2 20.66%,#a3c9e2 23.62%,#a3c9e2 26.57%,#a3c9e2 29.52%,#a3c9e2 32.47%,#a3c9e2 35.42%,#a3c9e2 38.38%,#a3c9e2 41.33%,#a3c9e2 44.28%,#a3c9e2 47.23%,#a3c9e2 50.18%,#a3c9e2 53.14%,#a3c9e2 59.04%,#a3c9e2 66.42%,#a3c9e2 73.8%,#a3c9e2 81.18%,#a3c9e2 88.56%,#a3c9e2 100%)"></div><div style="top:59px;background:linear-gradient(90deg,#a3c9e2 0%,#a3c9e2 2.95%,#a3c9e2 5.9%,#a3c9e2 8.86%,#a3c9e2 11.81%,#a3c9e2 14.76%,#a3c9e2 17.71%,#a3c9e2 20.66%,#a3c9e2 23.62%,#a3c9e2 26.57%,#a3c9e2 29.52%,#a3c9e2 32.47%,#a3c9e2 35.42%,#a3c9e2 38.38%,#a3c9e2 41.33%,#a3c9e2 44.28%,#a3c9e2 47.23%,#a3c9e2 50.18%,#a3c9e2 53.14%,#a3c9e2 59.04%,#a3c9e2 66.42%,#a3c9e2 73.8%,#a3c9e2 81.18%,#a3c9e2 88.56%,#a3c9e2 100%)"></div><div style="top:60px;background:linear-gradient(90deg,#a3c9e2 0%,#a3c9e2 2.95%,#a3c9e2 5.9%,#a3c9e2 8.86%,#a3c9e2 11.81%,#a3c9e2 14.76%,#a3c9e2 17.71%,#a3c9e2 20.66%,#a3c9e2 23.62%,#a3c9e2 26.57%,#a3c9e2 29.52%,#a3c9e2 32.47%,#a3c9e2 35.42%,#a3c9e2 38.38%,#a3c9e2 41.33%,#a3c9e2 44.28%,#a3c9e2 47.23%,#a3c9e2 50.18%,#a3c9e2 53.14%,#a3c9e2 59.04%,#a3c9e2 66.42%,#a3c9e2 73.8%,#a3c9e2 81.18%,#a3c9e2 88.56%,#a3c9e2 100%)"></div><div style="top:61px;background:linear-gradient(90deg,#a3c9e2 0%,#a3c9e2 2.95%,#a3c9e2 5.9%,#a3c9e2 8.86%,#a3c9e2 11.81%,#a3c9e2 14.76%,#a3c9e2 17.71%,#a3c9e2 20.66%,#a3c9e2 23.62%,#a3c9e2 26.57%,#a3c9e2 29.52%,#a3c9e2 32.47%,#a3c9e2 35.42%,#a3c9e2 38.38%,#a3c9e2 41.33%,#a3c9e2 44.28%,#a3c9e2 47.23%,#a3c9e2 50.18%,#a3c9e2 53.14%,#a3c9e2 59.04%,#a3c9e2 66.42%,#a3c9e2 73.8%,#a3c9e2 81.18%,#a3c9e2 88.56%,#a3c9e2 100%)"></div><div style="top:62px;background:linear-gradient(90deg,#a3c9e2 0%,#a3c9e2 2.95%,#a3c9e2 5.9%,#a3c9e2 8.86%,#a3c9e2 11.81%,#a3c9e2 14.76%,#a3c9e2 17.71%,#a3c9e2 20.66%,#a3c9e2 23.62%,#a3c9e2 26.57%,#a3c9e2 29.52%,#a3c9e2 32.47%,#a3c9e2 35.42%,#a3c9e2 38.38%,#a3c9e2 41.33%,#a3c9e2 44.28%,#a3c9e2 47.23%,#a3c9e2 50.18%,#a3c9e2 53.14%,#a3c9e2 59.04%,#a3c9e2 66.42%,#a3c9e2 73.8%,#a3c9e2 81.18%,#a3c9e2 88.56%,#a3c9e2 100%)"></div><div style="top:63px;background:linear-gradient(90deg,#a3c9e2 0%,#a3c9e2 2.95%,#a3c9e2 5.9%,#a3c9e2 8.86%,#a3c9e2 11.81%,#a3c9e2 14.76%,#a3c9e2 17.71%,#a3c9e2 20.66%,#a3c9e2 23.62%,#a3c9e2 26.57%,#a3c9e2 29.52%,#a3c9e2 32.47%,#a3c9e2 35.42%,#a3c9e2 38.38%,#a3c9e2 41.33%,#a3c9e2 44.28%,#a3c9e2 47.23%,#a3c9e2 50.18%,#a3c9e2 53.14%,#a3c9e2 59.04%,#a3c9e2 66.42%,#a3c9e2 73.8%,#a3c9e2 81.18%,#a3c9e2 88.56%,#a3c9e2 100%)"></div><div style="top:64px;background:linear-gradient(90deg,#a3c9e2 0%,#a3c9e2 2.95%,#a3c9e2 5.9%,#a3c9e2 8.86%,#a3c9e2 11.81%,#a3c9e2 14.76%,#a3c9e2 17.71%,#a3c9e2 20.66%,#a3c9e2 23.62%,#a3c9e2 26.57%,#a3c9e2 29.52%,#a3c9e2 32.47%,#a3c9e2 35.42%,#a3c9e2 38.38%,#a3c9e2 41.33%,#a3c9e2 44.28%,#a3c9e2 47.23%,#a3c9e2 50.18%,#a3c9e2 53.14%,#a3c9e2 59.04%,#a3c9e2 66.42%,#a3c9e2 73.8%,#a3c9e2 81.18%,#a3c9e2 88.56%,#a3c9e2 100%)"></div><div style="top:65px;background:linear-gradient(90deg,#a3c9e2 0%,#a3c9e2 2.95%,#a3c9e2 5.9%,#a3c9e2 8.86%,#a3c9e2 11.81%,#a3c9e2 14.76%,#a3c9e2 17.71%,#a3c9e2 20.66%,#a3c9e2 23.62%,#a3c9e2 26.57%,#a3c9e2 29.52%,#a3c9e2 32.47%,#a3c9e2 35.42%,#a3c9e2 38.38%,#a3c9e2 41.33%,#a3c9e2 44.28%,#a3c9e2 47.23%,#a3c9e2 50.18%,#a3c9e2 53.14%,#a3c9e2 59.04%,#a3c9e2 66.42%,#a3c9e2 73.8%,#a3c9e2 81.18%,#a3c9e2 88.56%,#a3c9e2 100%)"></div><div style="top:66px;background:linear-gradient(90deg,#a3c9e2 0%,#a3c9e2 2.95%,#a3c9e2 5.9%,#a3c9e2 8.86%,#a3c9e2 11.81%,#a3c9e2 14.76%,#a3c9e2 17.71%,#a3c9e2 20.66%,#a3c9e2 23.62%,#a3c9e2 26.57%,#a3c9e2 29.52%,#a3c9e2 32.47%,#a3c9e2 35.42%,#a3c9e2 38.38%,#a3c9e2 41.33%,#a3c9e2 44.28%,#a3c9e2 47.23%,#a3c9e2 50.18%,#a3c9e2 53.14%,#a3c9e2 59.04%,#a3c9e2 66.42%,#a3c9e2 73.8%,#a3c9e2 81.18%,#a3c9e2 88.56%,#a3c9e2 100%)"></div><div style="top:67px;background:linear-gradient(90deg,#a3c9e2 0%,#a3c9e2 2.95%,#a3c9e2 5.9%,#a3c9e2 8.86%,#a3c9e2 11.81%,#a3c9e2 14.76%,#a3c9e2 17.71%,#a3c9e2 20.66%,#a3c9e2 23.62%,#a3c9e2 26.57%,#a3c9e2 29.52%,#a3c9e2 32.47%,#a3c9e2 35.42%,#a3c9e2 38.38%,#a3c9e2 41.33%,#a3c9e2 44.28%,#a3c9e2 47.23%,#a3c9e2 50.18%,#a3c9e2 53.14%,#a3c9e2 59.04%,#a3c9e2 66.42%,#a3c9e2 73.8%,#a3c9e2 81.18%,#a3c9e2 88.56%,#a3c9e2 100%)"></div><div style="top:68px;background:linear-gradient(90deg,#a3c9e2 0%,#a3c9e2 2.95%,#a3c9e2 5.9%,#a3c9e2 8.86%,#a3c9e2 11.81%,#a3c9e2 14.76%,#a3c9e2 17.71%,#a3c9e2 20.66%,#a3c9e2 23.62%,#a3c9e2 26.57%,#a3c9e2 29.52%,#a3c9e2 32.47%,#a3c9e2 35.42%,#a3c9e2 38.38%,#a3c9e2 41.33%,#a3c9e2 44.28%,#a3c9e2 47.23%,#a3c9e2 50.18%,#a3c9e2 53.14%,#a3c9e2 59.04%,#a3c9e2 66.42%,#a3c9e2 73.8%,#a3c9e2 81.18%,#a3c9e2 88.56%,#a3c9e2 100%)"></div><div style="top:69px;background:linear-gradient(90deg,#a3c9e2 0%,#a3c9e2 2.95%,#a3c9e2 5.9%,#a3c9e2 8.86%,#a3c9e2 11.81%,#a3c9e2 14.76%,#a3c9e2 17.71%,#a3c9e2 20.66%,#a3c9e2 23.62%,#a3c9e2 26.57%,#a3c9e2 29.52%,#a3c9e2 32.47%,#a3c9e2 35.42%,#a3c9e2 38.38%,#a3c9e2 41.33%,#a3c9e2 44.28%,#a3c9e2 47.23%,#a3c9e2 50.18%,#a3c9e2 53.14%,#a3c9e2 59.04%,#a3c9e2 66.42%,#a3c9e2 73.8%,#a3c9e2 81.18%,#a3c9e2 88.56%,#a3c9e2 100%)"></div><div style="top:70px;background:linear-gradient(90deg,#a3c9e2 0%,#a3c9e2 2.95%,#a3c9e2 5.9%,#a3c9e2 8.86%,#a3c9e2 11.81%,#a3c9e2 14.76%,#a3c9e2 17.71%,#a3c9e2 20.66%,#a3c9e2 23.62%,#a3c9e2 26.57%,#a3c9e2 29.52%,#a3c9e2 32.47%,#a3c9e2 35.42%,#a3c9e2 38.38%,#a3c9e2 41.33%,#a3c9e2 44.28%,#a3c9e2 47.23%,#a3c9e2 50.18%,#a3c9e2 53.14%,#a3c9e2 59.04%,#a3c9e2 66.42%,#a3c9e2 73.8%,#a3c9e2 81.18%,#a3c9e2 88.56%,#a3c9e2 100%)"></div><div style="top:71px;background:linear-gradient(90deg,#a3c9e2 0%,#a3c9e2 2.95%,#a3c9e2 5.9%,#a3c9e2 8.86%,#a3c9e2 11.81%,#a3c9e2 14.76%,#a3c9e2 17.71%,#a3c9e2 20.66%,#a3c9e2 23.62%,#a3c9e2 26.57%,#a3c9e2 29.52%,#a3c9e2 32.47%,#a3c9e2 35.42%,#a3c9e2 38.38%,#a3c9e2 41.33%,#a3c9e2 44.28%,#a3c9e2 47.23%,#a3c9e2 50.18%,#a3c9e2 53.14%,#a3c9e2 59.04%,#a3c9e2 66.42%,#a3c9e2 73.8%,#a3c9e2 81.18%,#a3c9e2 88.56%,#a3c9e2 100%)"></div><div style="top:72px;background:linear-gradient(90deg,#a3c9e2 0%,#a3c9e2 2.95%,#a3c9e2 5.9%,#a3c9e2 8.86%,#a3c9e2 11.81%,#a3c9e2 14.76%,#a3c9e2 17.71%,#a3c9e2 20.66%,#a3c9e2 23.62%,#a3c9e2 26.57%,#a3c9e2 29.52%,#a3c9e2 32.47%,#a3c9e2 35.42%,#a3c9e2 38.38%,#a3c9e2 41.33%,#a3c9e2 44.28%,#a3c9e2 47.23%,#a3c9e2 50.18%,#a3c9e2 53.14%,#a3c9e2 59.04%,#a3c9e2 66.42%,#a3c9e2 73.8%,#a3c9e2 81.18%,#a3c9e2 88.56%,#a3c9e2 100%)"></div><div style="top:73px;background:linear-gradient(90deg,#a3c9e2 0%,#a3c9e2 2.95%,#a3c9e2 5.9%,#a3c9e2 8.86%,#a3c9e2 11.81%,#a3c9e2 14.76%,#a3c9e2 17.71%,#a3c9e2 20.66%,#a3c9e2 23.62%,#a3c9e2 26.57%,#a3c9e2 29.52%,#a3c9e2 32.47%,#a3c9e2 35.42%,#a3c9e2 38.38%,#a3c9e2 41.33%,#a3c9e2 44.28%,#a3c9e2 47.23%,#a3c9e2 50.18%,#a3c9e2 53.14%,#a3c9e2 59.04%,#a3c9e2 66.42%,#a3c9e2 73.8%,#a3c9e2 81.18%,#a3c9e2 88.56%,#a3c9e2 100%)"></div><div style="top:74px;background:linear-gradient(90deg,#a3c9e2 0%,#a3c9e2 2.95%,#a3c9e2 5.9%,#a3c9e2 8.86%,#a3c9e2 11.81%,#a3c9e2 14.76%,#a3c9e2 17.71%,#a3c9e2 20.66%,#a3c9e2 23.62%,#a3c9e2 26.57%,#a3c9e2 29.52%,#a3c9e2 32.47%,#a3c9e2 35.42%,#a3c9e2 38.38%,#a3c9e2 41.33%,#a3c9e2 44.28%,#a3c9e2 47.23%,#a3c9e2 50.18%,#a3c9e2 53.14%,#a3c9e2 59.04%,#a3c9e2 66.42%,#a3c9e2 73.8%,#a3c9e2 81.18%,#a3c9e2 88.56%,#a3c9e2 100%)"></div><div style="top:75px;background:linear-gradient(90deg,#a3c9e2 0%,#a3c9e2 2.95%,#a3c9e2 5.9%,#a3c9e2 8.86%,#a3c9e2 11.81%,#a3c9e2 14.76%,#a3c9e2 17.71%,#a3c9e2 20.66%,#a3c9e2 23.62%,#a3c9e2 26.57%,#a3c9e2 29.52%,#a3c9e2 32.47%,#a3c9e2 35.42%,#a3c9e2 38.38%,#a3c9e2 41.33%,#a3c9e2 44.28%,#a3c9e2 47.23%,#a3c9e2 50.18%,#a3c9e2 53.14%,#a3c9e2 59.04%,#a3c9e2 66.42%,#a3c9e2 73.8%,#a3c9e2 81.18%,#a3c9e2 88.56%,#a3c9e2 100%)"></div><div style="top:76px;background:linear-gradient(90deg,#a3c9e2 0%,#a3c9e2 2.95%,#a3c9e2 5.9%,#a3c9e2 8.86%,#a3c9e2 11.81%,#a3c9e2 14.76%,#a3c9e2 17.71%,#a3c9e2 20.66%,#a3c9e2 23.62%,#a3c9e2 26.57%,#a3c9e2 29.52%,#a3c9e2 32.47%,#a3c9e2 35.42%,#a3c9e2 38.38%,#a3c9e2 41.33%,#a3c9e2 44.28%,#a3c9e2 47.23%,#a3c9e2 50.18%,#a3c9e2 53.14%,#a3c9e2 59.04%,#a3c9e2 66.42%,#a3c9e2 73.8%,#a3c9e2 81.18%,#a3c9e2 88.56%,#a3c9e2 100%)"></div><div style="top:77px;background:linear-gradient(90deg,#a3c9e2 0%,#a3c9e2 2.95%,#a3c9e2 5.9%,#a3c9e2 8.86%,#a3c9e2 11.81%,#a3c9e2 14.76%,#a3c9e2 17.71%,#a3c9e2 20.66%,#a3c9e2 23.62%,#a3c9e2 26.57%,#a3c9e2 29.52%,#a3c9e2 32.47%,#a3c9e2 35.42%,#a3c9e2 38.38%,#a3c9e2 41.33%,#a3c9e2 44.28%,#a3c9e2 47.23%,#a3c9e2 50.18%,#a3c9e2 53.14%,#a3c9e2 59.04%,#a3c9e2 66.42%,#a3c9e2 73.8%,#a3c9e2 81.18%,#a3c9e2 88.56%,#a3c9e2 100%)"></div><div style="top:78px;background:linear-gradient(90deg,#a3c9e2 0%,#a3c9e2 2.95%,#a3c9e2 5.9%,#a3c9e2 8.86%,#a3c9e2 11.81%,#a3c9e2 14.76%,#a3c9e2 17.71%,#a3c9e2 20.66%,#a3c9e2 23.62%,#a3c9e2 26.57%,#a3c9e2 29.52%,#a3c9e2 32.47%,#a3c9e2 35.42%,#a3c9e2 38.38%,#a3c9e2 41.33%,#a3c9e2 44.28%,#a3c9e2 47.23%,#a3c9e2 50.18%,#a3c9e2 53.14%,#a3c9e2 59.04%,#a3c9e2 66.42%,#a3c9e2 73.8%,#a3c9e2 81.18%,#a3c9e2 88.56%,#a3c9e2 100%)"></div><div style="top:79px;background:linear-gradient(90deg,#a3c9e2 0%,#a3c9e2 2.95%,#a3c9e2 5.9%,#a3c9e2 8.86%,#a3c9e2 11.81%,#a3c9e2 14.76%,#a3c9e2 17.71%,#a3c9e2 20.66%,#a3c9e2 23.62%,#a3c9e2 26.57%,#a3c9e2 29.52%,#a3c9e2 32.47%,#a3c9e2 35.42%,#a3c9e2 38.38%,#a3c9e2 41.33%,#a3c9e2 44.28%,#a3c9e2 47.23%,#a3c9e2 50.18%,#a3c9e2 53.14%,#a3c9e2 59.04%,#a3c9e2 66.42%,#a3c9e2 73.8%,#a3c9e2 81.18%,#a3c9e2 88.56%,#a3c9e2 100%)"></div><div style="top:80px;background:linear-gradient(90deg,#a3c9e2 0%,#a3c9e2 2.95%,#a3c9e2 5.9%,#a3c9e2 8.86%,#a3c9e2 11.81%,#a3c9e2 14.76%,#a3c9e2 17.71%,#a3c9e2 20.66%,#a3c9e2 23.62%,#a3c9e2 26.57%,#a3c9e2 29.52%,#a3c9e2 32.47%,#a3c9e2 35.42%,#a3c9e2 38.38%,#a3c9e2 41.33%,#a3c9e2 44.28%,#a3c9e2 47.23%,#a3c9e2 50.18%,#a3c9e2 53.14%,#a3c9e2 59.04%,#a3c9e2 66.42%,#a3c9e2 73.8%,#a3c9e2 81.18%,#a3c9e2 88.56%,#a3c9e2 100%)"></div><div style="top:81px;background:linear-gradient(90deg,#a3c9e2 0%,#a3c9e2 2.95%,#a3c9e2 5.9%,#a3c9e2 8.86%,#a3c9e2 11.81%,#a3c9e2 14.76%,#a3c9e2 17.71%,#a3c9e2 20.66%,#a3c9e2 23.62%,#a3c9e2 26.57%,#a3c9e2 29.52%,#a3c9e2 32.47%,#a3c9e2 35.42%,#a3c9e2 38.38%,#a3c9e2 41.33%,#a3c9e2 44.28%,#a3c9e2 47.23%,#a3c9e2 50.18%,#a3c9e2 53.14%,#a3c9e2 59.04%,#a3c9e2 66.42%,#a3c9e2 73.8%,#a3c9e2 81.18%,#a3c9e2 88.56%,#a3c9e2 100%)"></div><div style="top:82px;background:linear-gradient(90deg,#a3c9e2 0%,#a3c9e2 2.95%,#a3c9e2 5.9%,#a3c9e2 8.86%,#a3c9e2 11.81%,#a3c9e2 14.76%,#a3c9e2 17.71%,#a3c9e2 20.66%,#a3c9e2 23.62%,#a3c9e2 26.57%,#a3c9e2 29.52%,#a3c9e2 32.47%,#a3c9e2 35.42%,#a3c9e2 38.38%,#a3c9e2 41.33%,#a3c9e2 44.28%,#a3c9e2 47.23%,#a3c9e2 50.18%,#a3c9e2 53.14%,#a3c9e2 59.04%,#a3c9e2 66.42%,#a3c9e2 73.8%,#a3c9e2 81.18%,#a3c9e2 88.56%,#a3c9e2 100%)"></div><div style="top:83px;background:linear-gradient(90deg,#a3c9e2 0%,#a3c9e2 2.95%,#a3c9e2 5.9%,#a3c9e2 8.86%,#a3c9e2 11.81%,#a3c9e2 14.76%,#a3c9e2 17.71%,#a3c9e2 20.66%,#a3c9e2 23.62%,#a3c9e2 26.57%,#a3c9e2 29.52%,#a3c9e2 32.47%,#a3c9e2 35.42%,#a3c9e2 38.38%,#a3c9e2 41.33%,#a3c9e2 44.28%,#a3c9e2 47.23%,#a3c9e2 50.18%,#a3c9e2 53.14%,#a3c9e2 59.04%,#a3c9e2 66.42%,#a3c9e2 73.8%,#a3c9e2 81.18%,#a3c9e2 88.56%,#a3c9e2 100%)"></div><div style="top:84px;background:linear-gradient(90deg,#a3c9e2 0%,#a3c9e2 2.95%,#a3c9e2 5.9%,#a3c9e2 8.86%,#a3c9e2 11.81%,#a3c9e2 14.76%,#a3c9e2 17.71%,#a3c9e2 20.66%,#a3c9e2 23.62%,#a3c9e2 26.57%,#a3c9e2 29.52%,#a3c9e2 32.47%,#a3c9e2 35.42%,#a3c9e2 38.38%,#a3c9e2 41.33%,#a3c9e2 44.28%,#a3c9e2 47.23%,#a3c9e2 50.18%,#a3c9e2 53.14%,#a3c9e2 59.04%,#a3c9e2 66.42%,#a3c9e2 73.8%,#a3c9e2 81.18%,#a3c9e2 88.56%,#a3c9e2 100%)"></div><div style="top:85px;background:linear-gradient(90deg,#a3c9e2 0%,#a3c9e2 2.95%,#a3c9e2 5.9%,#a3c9e2 8.86%,#a3c9e2 11.81%,#a3c9e2 14.76%,#a3c9e2 17.71%,#a3c9e2 20.66%,#a3c9e2 23.62%,#a3c9e2 26.57%,#a3c9e2 29.52%,#a3c9e2 32.47%,#a3c9e2 35.42%,#a3c9e2 38.38%,#a3c9e2 41.33%,#a3c9e2 44.28%,#a3c9e2 47.23%,#a3c9e2 50.18%,#a3c9e2 53.14%,#a3c9e2 59.04%,#a3c9e2 66.42%,#a3c9e2 73.8%,#a3c9e2 81.18%,#a3c9e2 88.56%,#a3c9e2 100%)"></div><div style="top:86px;background:linear-gradient(90deg,#a3c9e2 0%,#a3c9e2 2.95%,#a3c9e2 5.9%,#a3c9e2 8.86%,#a3c9e2 11.81%,#a3c9e2 14.76%,#a3c9e2 17.71%,#a3c9e2 20.66%,#a3c9e2 23.62%,#a3c9e2 26.57%,#a3c9e2 29.52%,#a3c9e2 32.47%,#a3c9e2 35.42%,#a3c9e2 38.38%,#a3c9e2 41.33%,#a3c9e2 44.28%,#a3c9e2 47.23%,#a3c9e2 50.18%,#a3c9e2 53.14%,#a3c9e2 59.04%,#a3c9e2 66.42%,#a3c9e2 73.8%,#a3c9e2 81.18%,#a3c9e2 88.56%,#a3c9e2 100%)"></div><div style="top:87px;background:linear-gradient(90deg,#a3c9e2 0%,#a3c9e2 2.95%,#a3c9e2 5.9%,#a3c9e2 8.86%,#a3c9e2 11.81%,#a3c9e2 14.76%,#a3c9e2 17.71%,#a3c9e2 20.66%,#a3c9e2 23.62%,#a3c9e2 26.57%,#a3c9e2 29.52%,#a3c9e2 32.47%,#a3c9e2 35.42%,#a3c9e2 38.38%,#a3c9e2 41.33%,#a3c9e2 44.28%,#a3c9e2 47.23%,#a3c9e2 50.18%,#a3c9e2 53.14%,#a3c9e2 59.04%,#a3c9e2 66.42%,#a3c9e2 73.8%,#a3c9e2 81.18%,#a3c9e2 88.56%,#a3c9e2 100%)"></div><div style="top:88px;background:linear-gradient(90deg,#a3c9e2 0%,#a3c9e2 2.95%,#a3c9e2 5.9%,#a3c9e2 8.86%,#a3c9e2 11.81%,#a3c9e2 14.76%,#a3c9e2 17.71%,#a3c9e2 20.66%,#a3c9e2 23.62%,#a3c9e2 26.57%,#a3c9e2 29.52%,#a3c9e2 32.47%,#a3c9e2 35.42%,#a3c9e2 38.38%,#a3c9e2 41.33%,#a3c9e2 44.28%,#a3c9e2 47.23%,#a3c9e2 50.18%,#a3c9e2 53.14%,#a3c9e2 59.04%,#a3c9e2 66.42%,#a3c9e2 73.8%,#a3c9e2 81.18%,#a3c9e2 88.56%,#a3c9e2 100%)"></div><div style="top:89px;background:linear-gradient(90deg,#a3c9e2 0%,#a3c9e2 2.95%,#a3c9e2 5.9%,#a3c9e2 8.86%,#a3c9e2 11.81%,#a3c9e2 14.76%,#a3c9e2 17.71%,#a3c9e2 20.66%,#a3c9e2 23.62%,#a3c9e2 26.57%,#a3c9e2 29.52%,#a3c9e2 32.47%,#a3c9e2 35.42%,#a3c9e2 38.38%,#a3c9e2 41.33%,#a3c9e2 44.28%,#a3c9e2 47.23%,#a3c9e2 50.18%,#a3c9e2 53.14%,#a3c9e2 59.04%,#a3c9e2 66.42%,#a3c9e2 73.8%,#a3c9e2 81.18%,#a3c9e2 88.56%,#a3c9e2 100%)"></div><div style="top:90px;background:linear-gradient(90deg,#a3c9e2 0%,#a3c9e2 2.95%,#a3c9e2 5.9%,#a3c9e2 8.86%,#a3c9e2 11.81%,#a3c9e2 14.76%,#a3c9e2 17.71%,#a3c9e2 20.66%,#a3c9e2 23.62%,#a3c9e2 26.57%,#a3c9e2 29.52%,#a3c9e2 32.47%,#a3c9e2 35.42%,#a3c9e2 38.38%,#a3c9e2 41.33%,#a3c9e2 44.28%,#a3c9e2 47.23%,#a3c9e2 50.18%,#a3c9e2 53.14%,#a3c9e2 59.04%,#a3c9e2 66.42%,#a3c9e2 73.8%,#a3c9e2 81.18%,#a3c9e2 88.56%,#a3c9e2 100%)"></div><div style="top:91px;background:linear-gradient(90deg,#a3c9e2 0%,#a3c9e2 2.95%,#a3c9e2 5.9%,#a3c9e2 8.86%,#a3c9e2 11.81%,#a3c9e2 14.76%,#a3c9e2 17.71%,#a3c9e2 20.66%,#a3c9e2 23.62%,#a3c9e2 26.57%,#a3c9e2 29.52%,#a3c9e2 32.47%,#a3c9e2 35.42%,#a3c9e2 38.38%,#a3c9e2 41.33%,#a3c9e2 44.28%,#a3c9e2 47.23%,#a3c9e2 50.18%,#a3c9e2 53.14%,#a3c9e2 59.04%,#a3c9e2 66.42%,#a3c9e2 73.8%,#a3c9e2 81.18%,#a3c9e2 88.56%,#a3c9e2 100%)"></div><div style="top:92px;background:linear-gradient(90deg,#a3c9e2 0%,#a3c9e2 2.95%,#a3c9e2 5.9%,#a3c9e2 8.86%,#a3c9e2 11.81%,#a3c9e2 14.76%,#a3c9e2 17.71%,#a3c9e2 20.66%,#a3c9e2 23.62%,#a3c9e2 26.57%,#a3c9e2 29.52%,#a3c9e2 32.47%,#a3c9e2 35.42%,#a3c9e2 38.38%,#a3c9e2 41.33%,#a3c9e2 44.28%,#a3c9e2 47.23%,#a3c9e2 50.18%,#a3c9e2 53.14%,#a3c9e2 59.04%,#a3c9e2 66.42%,#a3c9e2 73.8%,#a3c9e2 81.18%,#a3c9e2 88.56%,#a3c9e2 100%)"></div><div style="top:93px;background:linear-gradient(90deg,#a3c9e2 0%,#a3c9e2 2.95%,#a3c9e2 5.9%,#a3c9e2 8.86%,#a3c9e2 11.81%,#a3c9e2 14.76%,#a3c9e2 17.71%,#a3c9e2 20.66%,#a3c9e2 23.62%,#a3c9e2 26.57%,#a3c9e2 29.52%,#a3c9e2 32.47%,#a3c9e2 35.42%,#a3c9e2 38.38%,#a3c9e2 41.33%,#a3c9e2 44.28%,#a3c9e2 47.23%,#a3c9e2 50.18%,#a3c9e2 53.14%,#a3c9e2 59.04%,#a3c9e2 66.42%,#a3c9e2 73.8%,#a3c9e2 81.18%,#a3c9e2 88.56%,#a3c9e2 100%)"></div><div style="top:94px;background:linear-gradient(90deg,#a3c9e2 0%,#a3c9e2 2.95%,#a3c9e2 5.9%,#a3c9e2 8.86%,#a3c9e2 11.81%,#a3c9e2 14.76%,#a3c9e2 17.71%,#a3c9e2 20.66%,#a3c9e2 23.62%,#a3c9e2 26.57%,#a3c9e2 29.52%,#a3c9e2 32.47%,#a3c9e2 35.42%,#a3c9e2 38.38%,#a3c9e2 41.33%,#a3c9e2 44.28%,#a3c9e2 47.23%,#a3c9e2 50.18%,#a3c9e2 53.14%,#a3c9e2 59.04%,#a3c9e2 66.42%,#a3c9e2 73.8%,#a3c9e2 81.18%,#a3c9e2 88.56%,#a3c9e2 100%)"></div><div style="top:95px;background:linear-gradient(90deg,#a3c9e2 0%,#a3c9e2 2.95%,#a3c9e2 5.9%,#a3c9e2 8.86%,#a3c9e2 11.81%,#a3c9e2 14.76%,#a3c9e2 17.71%,#a3c9e2 20.66%,#a3c9e2 23.62%,#a3c9e2 26.57%,#a3c9e2 29.52%,#a3c9e2 32.47%,#a3c9e2 35.42%,#a3c9e2 38.38%,#a3c9e2 41.33%,#a3c9e2 44.28%,#a3c9e2 47.23%,#a3c9e2 50.18%,#a3c9e2 53.14%,#a3c9e2 59.04%,#a3c9e2 66.42%,#a3c9e2 73.8%,#a3c9e2 81.18%,#a3c9e2 88.56%,#a3c9e2 100%)"></div><div style="top:96px;background:linear-gradient(90deg,#a3c9e2 0%,#a3c9e2 2.95%,#a3c9e2 5.9%,#a3c9e2 8.86%,#a3c9e2 11.81%,#a3c9e2 14.76%,#a3c9e2 17.71%,#a3c9e2 20.66%,#a3c9e2 23.62%,#a3c9e2 26.57%,#a3c9e2 29.52%,#a3c9e2 32.47%,#a3c9e2 35.42%,#a3c9e2 38.38%,#a3c9e2 41.33%,#a3c9e2 44.28%,#a3c9e2 47.23%,#a3c9e2 50.18%,#a3c9e2 53.14%,#a3c9e2 59.04%,#a3c9e2 66.42%,#a3c9e2 73.8%,#a3c9e2 81.18%,#a3c9e2 88.56%,#a3c9e2 100%)"></div><div style="top:97px;background:linear-gradient(90deg,#a3c9e2 0%,#a3c9e2 2.95%,#a3c9e2 5.9%,#a3c9e2 8.86%,#a3c9e2 11.81%,#a3c9e2 14.76%,#a3c9e2 17.71%,#a3c9e2 20.66%,#a3c9e2 23.62%,#a3c9e2 26.57%,#a3c9e2 29.52%,#a3c9e2 32.47%,#a3c9e2 35.42%,#a3c9e2 38.38%,#a3c9e2 41.33%,#a3c9e2 44.28%,#a3c9e2 47.23%,#a3c9e2 50.18%,#a3c9e2 53.14%,#a3c9e2 59.04%,#a3c9e2 66.42%,#a3c9e2 73.8%,#a3c9e2 81.18%,#a3c9e2 88.56%,#a3c9e2 100%)"></div><div style="top:98px;background:linear-gradient(90deg,#a3c9e2 0%,#a3c9e2 2.95%,#a3c9e2 5.9%,#a3c9e2 8.86%,#a3c9e2 11.81%,#a3c9e2 14.76%,#a3c9e2 17.71%,#a3c9e2 20.66%,#a3c9e2 23.62%,#a3c9e2 26.57%,#a3c9e2 29.52%,#a3c9e2 32.47%,#a3c9e2 35.42%,#a3c9e2 38.38%,#a3c9e2 41.33%,#a3c9e2 44.28%,#a3c9e2 47.23%,#a3c9e2 50.18%,#a3c9e2 53.14%,#a3c9e2 59.04%,#a3c9e2 66.42%,#a3c9e2 73.8%,#a3c9e2 81.18%,#a3c9e2 88.56%,#a3c9e2 100%)"></div><div style="top:99px;background:linear-gradient(90deg,#a3c9e2 0%,#a3c9e2 2.95%,#a3c9e2 5.9%,#a3c9e2 8.86%,#a3c9e2 11.81%,#a3c9e2 14.76%,#a3c9e2 17.71%,#a3c9e2 20.66%,#a3c9e2 23.62%,#a3c9e2 26.57%,#a3c9e2 29.52%,#a3c9e2 32.47%,#a3c9e2 35.42%,#a3c9e2 38.38%,#a3c9e2 41.33%,#a3c9e2 44.28%,#a3c9e2 47.23%,#a3c9e2 50.18%,#a3c9e2 53.14%,#a3c9e2 59.04%,#a3c9e2 66.42%,#a3c9e2 73.8%,#a3c9e2 81.18%,#a3c9e2 88.56%,#a3c9e2 100%)"></div><div style="top:100px;background:linear-gradient(90deg,#a3c9e2 0%,#a3c9e2 2.95%,#a3c9e2 5.9%,#a3c9e2 8.86%,#a3c9e2 11.81%,#a3c9e2 14.76%,#a3c9e2 17.71%,#a3c9e2 20.66%,#a3c9e2 23.62%,#a3c9e2 26.57%,#a3c9e2 29.52%,#a3c9e2 32.47%,#a3c9e2 35.42%,#a3c9e2 38.38%,#a3c9e2 41.33%,#a3c9e2 44.28%,#a3c9e2 47.23%,#a3c9e2 50.18%,#a3c9e2 53.14%,#a3c9e2 59.04%,#a3c9e2 66.42%,#a3c9e2 73.8%,#a3c9e2 81.18%,#a3c9e2 88.56%,#a3c9e2 100%)"></div><div style="top:101px;background:linear-gradient(90deg,#a3c9e2 0%,#a3c9e2 2.95%,#a3c9e2 5.9%,#a3c9e2 8.86%,#a3c9e2 11.81%,#a3c9e2 14.76%,#a3c9e2 17.71%,#a3c9e2 20.66%,#a3c9e2 23.62%,#a3c9e2 26.57%,#a3c9e2 29.52%,#a3c9e2 32.47%,#a3c9e2 35.42%,#a3c9e2 38.38%,#a3c9e2 41.33%,#a3c9e2 44.28%,#a3c9e2 47.23%,#a3c9e2 50.18%,#a3c9e2 53.14%,#a3c9e2 59.04%,#a3c9e2 66.42%,#a3c9e2 73.8%,#a3c9e2 81.18%,#a3c9e2 88.56%,#a3c9e2 100%)"></div><div style="top:102px;background:linear-gradient(90deg,#a3c9e2 0%,#a3c9e2 2.95%,#a3c9e2 5.9%,#a3c9e2 8.86%,#a3c9e2 11.81%,#a3c9e2 14.76%,#a3c9e2 17.71%,#a3c9e2 20.66%,#a3c9e2 23.62%,#a3c9e2 26.57%,#a3c9e2 29.52%,#a3c9e2 32.47%,#a3c9e2 35.42%,#a3c9e2 38.38%,#a3c9e2 41.33%,#a3c9e2 44.28%,#a3c9e2 47.23%,#a3c9e2 50.18%,#a3c9e2 53.14%,#a3c9e2 59.04%,#a3c9e2 66.42%,#a3c9e2 73.8%,#a3c9e2 81.18%,#a3c9e2 88.56%,#a3c9e2 100%)"></div><div style="top:103px;background:linear-gradient(90deg,#a3c9e2 0%,#a3c9e2 2.95%,#a3c9e2 5.9%,#a3c9e2 8.86%,#a3c9e2 11.81%,#a3c9e2 14.76%,#a3c9e2 17.71%,#a3c9e2 20.66%,#a3c9e2 23.62%,#a3c9e2 26.57%,#a3c9e2 29.52%,#a3c9e2 32.47%,#a3c9e2 35.42%,#a3c9e2 38.38%,#a3c9e2 41.33%,#a3c9e2 44.28%,#a3c9e2 47.23%,#a3c9e2 50.18%,#a3c9e2 53.14%,#a3c9e2 59.04%,#a3c9e2 66.42%,#a3c9e2 73.8%,#a3c9e2 81.18%,#a3c9e2 88.56%,#a3c9e2 100%)"></div><div style="top:104px;background:linear-gradient(90deg,#a3c9e2 0%,#a3c9e2 2.95%,#a3c9e2 5.9%,#a3c9e2 8.86%,#a3c9e2 11.81%,#a3c9e2 14.76%,#a3c9e2 17.71%,#a3c9e2 20.66%,#a3c9e2 23.62%,#a3c9e2 26.57%,#a3c9e2 29.52%,#a3c9e2 32.47%,#a3c9e2 35.42%,#a3c9e2 38.38%,#a3c9e2 41.33%,#a3c9e2 44.28%,#a3c9e2 47.23%,#a3c9e2 50.18%,#a3c9e2 53.14%,#a3c9e2 59.04%,#a3c9e2 66.42%,#a3c9e2 73.8%,#a3c9e2 81.18%,#a3c9e2 88.56%,#a3c9e2 100%)"></div><div style="top:105px;background:linear-gradient(90deg,#a3c9e2 0%,#a3c9e2 2.95%,#a3c9e2 5.9%,#a3c9e2 8.86%,#a3c9e2 11.81%,#a3c9e2 14.76%,#a3c9e2 17.71%,#a3c9e2 20.66%,#a3c9e2 23.62%,#a3c9e2 26.57%,#a3c9e2 29.52%,#a3c9e2 32.47%,#a3c9e2 35.42%,#a3c9e2 38.38%,#a3c9e2 41.33%,#a3c9e2 44.28%,#a3c9e2 47.23%,#a3c9e2 50.18%,#a3c9e2 53.14%,#a3c9e2 59.04%,#a3c9e2 66.42%,#a3c9e2 73.8%,#a3c9e2 81.18%,#a3c9e2 88.56%,#a3c9e2 100%)"></div><div style="top:106px;background:linear-gradient(90deg,#a3c9e2 0%,#a3c9e2 2.95%,#a3c9e2 5.9%,#a3c9e2 8.86%,#a3c9e2 11.81%,#a3c9e2 14.76%,#a3c9e2 17.71%,#a3c9e2 20.66%,#a3c9e2 23.62%,#a3c9e2 26.57%,#a3c9e2 29.52%,#a3c9e2 32.47%,#a3c9e2 35.42%,#a3c9e2 38.38%,#a3c9e2 41.33%,#a3c9e2 44.28%,#a3c9e2 47.23%,#a3c9e2 50.18%,#a3c9e2 53.14%,#a3c9e2 59.04%,#a3c9e2 66.42%,#a3c9e2 73.8%,#a3c9e2 81.18%,#a3c9e2 88.56%,#a3c9e2 100%)"></div><div style="top:107px;background:linear-gradient(90deg,#a3c9e2 0%,#a3c9e2 2.95%,#a3c9e2 5.9%,#a3c9e2 8.86%,#a3c9e2 11.81%,#a3c9e2 14.76%,#a3c9e2 17.71%,#a3c9e2 20.66%,#a3c9e2 23.62%,#a3c9e2 26.57%,#a3c9e2 29.52%,#a3c9e2 32.47%,#a3c9e2 35.42%,#a3c9e2 38.38%,#a3c9e2 41.33%,#a3c9e2 44.28%,#a3c9e2 47.23%,#a3c9e2 50.18%,#a3c9e2 53.14%,#a3c9e2 59.04%,#a3c9e2 66.42%,#a3c9e2 73.8%,#a3c9e2 81.18%,#a3c9e2 88.56%,#a3c9e2 100%)"></div><div style="top:108px;background:linear-gradient(90deg,#a3c9e2 0%,#a3c9e2 2.95%,#a3c9e2 5.9%,#a3c9e2 8.86%,#a3c9e2 11.81%,#a3c9e2 14.76%,#a3c9e2 17.71%,#a3c9e2 20.66%,#a3c9e2 23.62%,#a3c9e2 26.57%,#a3c9e2 29.52%,#a3c9e2 32.47%,#a3c9e2 35.42%,#a3c9e2 38.38%,#a3c9e2 41.33%,#a3c9e2 44.28%,#a3c9e2 47.23%,#a3c9e2 50.18%,#a3c9e2 53.14%,#a3c9e2 59.04%,#a3c9e2 66.42%,#a3c9e2 73.8%,#a3c9e2 81.18%,#a3c9e2 88.56%,#a3c9e2 100%)"></div><div style="top:109px;background:linear-gradient(90deg,#a3c9e2 0%,#a3c9e2 2.95%,#a3c9e2 5.9%,#a3c9e2 8.86%,#a3c9e2 11.81%,#a3c9e2 14.76%,#a3c9e2 17.71%,#a3c9e2 20.66%,#a3c9e2 23.62%,#a3c9e2 26.57%,#a3c9e2 29.52%,#a3c9e2 32.47%,#a3c9e2 35.42%,#a3c9e2 38.38%,#a3c9e2 41.33%,#a3c9e2 44.28%,#a3c9e2 47.23%,#a3c9e2 50.18%,#a3c9e2 53.14%,#a3c9e2 59.04%,#a3c9e2 66.42%,#a3c9e2 73.8%,#a3c9e2 81.18%,#a3c9e2 88.56%,#a3c9e2 100%)"></div><div style="top:110px;background:linear-gradient(90deg,#a3c9e2 0%,#a3c9e2 2.95%,#a3c9e2 5.9%,#a3c9e2 8.86%,#a3c9e2 11.81%,#a3c9e2 14.76%,#a3c9e2 17.71%,#a3c9e2 20.66%,#a3c9e2 23.62%,#a3c9e2 26.57%,#a3c9e2 29.52%,#a3c9e2 32.47%,#a3c9e2 35.42%,#a3c9e2 38.38%,#a3c9e2 41.33%,#a3c9e2 44.28%,#a3c9e2 47.23%,#a3c9e2 50.18%,#a3c9e2 53.14%,#a3c9e2 59.04%,#a3c9e2 66.42%,#a3c9e2 73.8%,#a3c9e2 81.18%,#a3c9e2 88.56%,#a3c9e2 100%)"></div><div style="top:111px;background:linear-gradient(90deg,#a3c9e2 0%,#a3c9e2 2.95%,#a3c9e2 5.9%,#a3c9e2 8.86%,#a3c9e2 11.81%,#a3c9e2 14.76%,#a3c9e2 17.71%,#a3c9e2 20.66%,#a3c9e2 23.62%,#a3c9e2 26.57%,#a3c9e2 29.52%,#a3c9e2 32.47%,#a3c9e2 35.42%,#a3c9e2 38.38%,#a3c9e2 41.33%,#a3c9e2 44.28%,#a3c9e2 47.23%,#a3c9e2 50.18%,#a3c9e2 53.14%,#a3c9e2 59.04%,#a3c9e2 66.42%,#a3c9e2 73.8%,#a3c9e2 81.18%,#a3c9e2 88.56%,#a3c9e2 100%)"></div><div style="top:112px;background:linear-gradient(90deg,#a3c9e2 0%,#a3c9e2 2.95%,#a3c9e2 5.9%,#a3c9e2 8.86%,#a3c9e2 11.81%,#a3c9e2 14.76%,#a3c9e2 17.71%,#a3c9e2 20.66%,#a3c9e2 23.62%,#a3c9e2 26.57%,#a3c9e2 29.52%,#a3c9e2 32.47%,#a3c9e2 35.42%,#a3c9e2 38.38%,#a3c9e2 41.33%,#a3c9e2 44.28%,#a3c9e2 47.23%,#a3c9e2 50.18%,#a3c9e2 53.14%,#a3c9e2 59.04%,#a3c9e2 66.42%,#a3c9e2 73.8%,#a3c9e2 81.18%,#a3c9e2 88.56%,#a3c9e2 100%)"></div><div style="top:113px;background:linear-gradient(90deg,#a3c9e2 0%,#a3c9e2 2.95%,#a3c9e2 5.9%,#a3c9e2 8.86%,#a3c9e2 11.81%,#a3c9e2 14.76%,#a3c9e2 17.71%,#a3c9e2 20.66%,#a3c9e2 23.62%,#a3c9e2 26.57%,#a3c9e2 29.52%,#a3c9e2 32.47%,#a3c9e2 35.42%,#a3c9e2 38.38%,#a3c9e2 41.33%,#a3c9e2 44.28%,#a3c9e2 47.23%,#a3c9e2 50.18%,#a3c9e2 53.14%,#a3c9e2 59.04%,#a3c9e2 66.42%,#a3c9e2 73.8%,#a3c9e2 81.18%,#a3c9e2 88.56%,#a3c9e2 100%)"></div><div style="top:114px;background:linear-gradient(90deg,#a3c9e2 0%,#a3c9e2 2.95%,#a3c9e2 5.9%,#a3c9e2 8.86%,#a3c9e2 11.81%,#a3c9e2 14.76%,#a3c9e2 17.71%,#a3c9e2 20.66%,#a3c9e2 23.62%,#a3c9e2 26.57%,#a3c9e2 29.52%,#a3c9e2 32.47%,#a3c9e2 35.42%,#a3c9e2 38.38%,#a3c9e2 41.33%,#a3c9e2 44.28%,#a3c9e2 47.23%,#a3c9e2 50.18%,#a3c9e2 53.14%,#a3c9e2 59.04%,#a3c9e2 66.42%,#a3c9e2 73.8%,#a3c9e2 81.18%,#a3c9e2 88.56%,#a3c9e2 100%)"></div><div style="top:115px;background:linear-gradient(90deg,#a3c9e2 0%,#a3c9e2 2.95%,#a3c9e2 5.9%,#a3c9e2 8.86%,#a3c9e2 11.81%,#a3c9e2 14.76%,#a3c9e2 17.71%,#a3c9e2 20.66%,#a3c9e2 23.62%,#a3c9e2 26.57%,#a3c9e2 29.52%,#a3c9e2 32.47%,#a3c9e2 35.42%,#a3c9e2 38.38%,#a3c9e2 41.33%,#a3c9e2 44.28%,#a3c9e2 47.23%,#a3c9e2 50.18%,#a3c9e2 53.14%,#a3c9e2 59.04%,#a3c9e2 66.42%,#a3c9e2 73.8%,#a3c9e2 81.18%,#a3c9e2 88.56%,#a3c9e2 100%)"></div><div style="top:116px;background:linear-gradient(90deg,#a3c9e2 0%,#a3c9e2 2.95%,#a3c9e2 5.9%,#a3c9e2 8.86%,#a3c9e2 11.81%,#a3c9e2 14.76%,#a3c9e2 17.71%,#a3c9e2 20.66%,#a3c9e2 23.62%,#a3c9e2 26.57%,#a3c9e2 29.52%,#a3c9e2 32.47%,#a3c9e2 35.42%,#a3c9e2 38.38%,#a3c9e2 41.33%,#a3c9e2 44.28%,#a3c9e2 47.23%,#a3c9e2 50.18%,#a3c9e2 53.14%,#a3c9e2 59.04%,#a3c9e2 66.42%,#a3c9e2 73.8%,#a3c9e2 81.18%,#a3c9e2 88.56%,#a3c9e2 100%)"></div><div style="top:117px;background:linear-gradient(90deg,#a3c9e2 0%,#a3c9e2 2.95%,#a3c9e2 5.9%,#a3c9e2 8.86%,#a3c9e2 11.81%,#a3c9e2 14.76%,#a3c9e2 17.71%,#a3c9e2 20.66%,#a3c9e2 23.62%,#a3c9e2 26.57%,#a3c9e2 29.52%,#a3c9e2 32.47%,#a3c9e2 35.42%,#a3c9e2 38.38%,#a3c9e2 41.33%,#a3c9e2 44.28%,#a3c9e2 47.23%,#a3c9e2 50.18%,#a3c9e2 53.14%,#a3c9e2 59.04%,#a3c9e2 66.42%,#a3c9e2 73.8%,#a3c9e2 81.18%,#a3c9e2 88.56%,#a3c9e2 100%)"></div><div style="top:118px;background:linear-gradient(90deg,#a3c9e2 0%,#a3c9e2 2.95%,#a3c9e2 5.9%,#a3c9e2 8.86%,#a3c9e2 11.81%,#a3c9e2 14.76%,#a3c9e2 17.71%,#a3c9e2 20.66%,#a3c9e2 23.62%,#a3c9e2 26.57%,#a3c9e2 29.52%,#a3c9e2 32.47%,#a3c9e2 35.42%,#a3c9e2 38.38%,#a3c9e2 41.33%,#a3c9e2 44.28%,#a3c9e2 47.23%,#a3c9e2 50.18%,#a3c9e2 53.14%,#a3c9e2 59.04%,#a3c9e2 66.42%,#a3c9e2 73.8%,#a3c9e2 81.18%,#a3c9e2 88.56%,#a3c9e2 100%)"></div><div style="top:119px;background:linear-gradient(90deg,#a3c9e2 0%,#a3c9e2 2.95%,#a3c9e2 5.9%,#a3c9e2 8.86%,#a3c9e2 11.81%,#a3c9e2 14.76%,#a3c9e2 17.71%,#a3c9e2 20.66%,#a3c9e2 23.62%,#a3c9e2 26.57%,#a3c9e2 29.52%,#a3c9e2 32.47%,#a3c9e2 35.42%,#a3c9e2 38.38%,#a3c9e2 41.33%,#a3c9e2 44.28%,#a3c9e2 47.23%,#a3c9e2 50.18%,#a3c9e2 53.14%,#a3c9e2 59.04%,#a3c9e2 66.42%,#a3c9e2 73.8%,#a3c9e2 81.18%,#a3c9e2 88.56%,#a3c9e2 100%)"></div><div style="top:120px;background:linear-gradient(90deg,#a3c9e2 0%,#a3c9e2 2.95%,#a3c9e2 5.9%,#a3c9e2 8.86%,#a3c9e2 11.81%,#a3c9e2 14.76%,#a3c9e2 17.71%,#a3c9e2 20.66%,#a3c9e2 23.62%,#a3c9e2 26.57%,#a3c9e2 29.52%,#a3c9e2 32.47%,#a3c9e2 35.42%,#a3c9e2 38.38%,#a3c9e2 41.33%,#a3c9e2 44.28%,#a3c9e2 47.23%,#a3c9e2 50.18%,#a3c9e2 53.14%,#a3c9e2 59.04%,#a3c9e2 66.42%,#a3c9e2 73.8%,#a3c9e2 81.18%,#a3c9e2 88.56%,#a3c9e2 100%)"></div><div style="top:121px;background:linear-gradient(90deg,#a3c9e2 0%,#a3c9e2 2.95%,#a3c9e2 5.9%,#a3c9e2 8.86%,#a3c9e2 11.81%,#a3c9e2 14.76%,#a3c9e2 17.71%,#a3c9e2 20.66%,#a3c9e2 23.62%,#a3c9e2 26.57%,#a3c9e2 29.52%,#a3c9e2 32.47%,#a3c9e2 35.42%,#a3c9e2 38.38%,#a3c9e2 41.33%,#a3c9e2 44.28%,#a3c9e2 47.23%,#a3c9e2 50.18%,#a3c9e2 53.14%,#a3c9e2 59.04%,#a3c9e2 66.42%,#a3c9e2 73.8%,#a3c9e2 81.18%,#a3c9e2 88.56%,#a3c9e2 100%)"></div><div style="top:122px;background:linear-gradient(90deg,#a3c9e2 0%,#a3c9e2 2.95%,#a3c9e2 5.9%,#a3c9e2 8.86%,#a3c9e2 11.81%,#a3c9e2 14.76%,#a3c9e2 17.71%,#a3c9e2 20.66%,#a3c9e2 23.62%,#a3c9e2 26.57%,#a3c9e2 29.52%,#a3c9e2 32.47%,#a3c9e2 35.42%,#a3c9e2 38.38%,#a3c9e2 41.33%,#a3c9e2 44.28%,#a3c9e2 47.23%,#a3c9e2 50.18%,#a3c9e2 53.14%,#a3c9e2 59.04%,#a3c9e2 66.42%,#a3c9e2 73.8%,#a3c9e2 81.18%,#a3c9e2 88.56%,#a3c9e2 100%)"></div><div style="top:123px;background:linear-gradient(90deg,#a3c9e2 0%,#a3c9e2 2.95%,#a3c9e2 5.9%,#a3c9e2 8.86%,#a3c9e2 11.81%,#a3c9e2 14.76%,#a3c9e2 17.71%,#a3c9e2 20.66%,#a3c9e2 23.62%,#a3c9e2 26.57%,#a3c9e2 29.52%,#a3c9e2 32.47%,#a3c9e2 35.42%,#a3c9e2 38.38%,#a3c9e2 41.33%,#a3c9e2 44.28%,#a3c9e2 47.23%,#a3c9e2 50.18%,#a3c9e2 53.14%,#a3c9e2 59.04%,#a3c9e2 66.42%,#a3c9e2 73.8%,#a3c9e2 81.18%,#a3c9e2 88.56%,#a3c9e2 100%)"></div><div style="top:124px;background:linear-gradient(90deg,#a3c9e2 0%,#a3c9e2 2.95%,#a3c9e2 5.9%,#a3c9e2 8.86%,#a3c9e2 11.81%,#a3c9e2 14.76%,#a3c9e2 17.71%,#a3c9e2 20.66%,#a3c9e2 23.62%,#a3c9e2 26.57%,#a3c9e2 29.52%,#a3c9e2 32.47%,#a3c9e2 35.42%,#a3c9e2 38.38%,#a3c9e2 41.33%,#a3c9e2 44.28%,#a3c9e2 47.23%,#a3c9e2 50.18%,#a3c9e2 53.14%,#a3c9e2 59.04%,#a3c9e2 66.42%,#a3c9e2 73.8%,#a3c9e2 81.18%,#a3c9e2 88.56%,#a3c9e2 100%)"></div><div style="top:125px;background:linear-gradient(90deg,#a3c9e2 0%,#a3c9e2 2.95%,#a3c9e2 5.9%,#a3c9e2 8.86%,#a3c9e2 11.81%,#a3c9e2 14.76%,#a3c9e2 17.71%,#a3c9e2 20.66%,#a3c9e2 23.62%,#a3c9e2 26.57%,#a3c9e2 29.52%,#a3c9e2 32.47%,#a3c9e2 35.42%,#a3c9e2 38.38%,#a3c9e2 41.33%,#a3c9e2 44.28%,#a3c9e2 47.23%,#a3c9e2 50.18%,#a3c9e2 53.14%,#a3c9e2 59.04%,#a3c9e2 66.42%,#a3c9e2 73.8%,#a3c9e2 81.18%,#a3c9e2 88.56%,#a3c9e2 100%)"></div><div style="top:126px;background:linear-gradient(90deg,#a3c9e2 0%,#a3c9e2 2.95%,#a3c9e2 5.9%,#a3c9e2 8.86%,#a3c9e2 11.81%,#a3c9e2 14.76%,#a3c9e2 17.71%,#a3c9e2 20.66%,#a3c9e2 23.62%,#a3c9e2 26.57%,#a3c9e2 29.52%,#a3c9e2 32.47%,#a3c9e2 35.42%,#a3c9e2 38.38%,#a3c9e2 41.33%,#a3c9e2 44.28%,#a3c9e2 47.23%,#a3c9e2 50.18%,#a3c9e2 53.14%,#a3c9e2 59.04%,#a3c9e2 66.42%,#a3c9e2 73.8%,#a3c9e2 81.18%,#a3c9e2 88.56%,#a3c9e2 100%)"></div><div style="top:127px;background:linear-gradient(90deg,#a3c9e2 0%,#a3c9e2 2.95%,#a3c9e2 5.9%,#a3c9e2 8.86%,#a3c9e2 11.81%,#a3c9e2 14.76%,#a3c9e2 17.71%,#a3c9e2 20.66%,#a3c9e2 23.62%,#a3c9e2 26.57%,#a3c9e2 29.52%,#a3c9e2 32.47%,#a3c9e2 35.42%,#a3c9e2 38.38%,#a3c9e2 41.33%,#a3c9e2 44.28%,#a3c9e2 47.23%,#a3c9e2 50.18%,#a3c9e2 53.14%,#a3c9e2 59.04%,#a3c9e2 66.42%,#a3c9e2 73.8%,#a3c9e2 81.18%,#a3c9e2 88.56%,#a3c9e2 100%)"></div><div style="top:128px;background:linear-gradient(90deg,#a3c9e2 0%,#a3c9e2 2.95%,#a3c9e2 5.9%,#a3c9e2 8.86%,#a3c9e2 11.81%,#a3c9e2 14.76%,#a3c9e2 17.71%,#a3c9e2 20.66%,#a3c9e2 23.62%,#a3c9e2 26.57%,#a3c9e2 29.52%,#a3c9e2 32.47%,#a3c9e2 35.42%,#a3c9e2 38.38%,#a3c9e2 41.33%,#a3c9e2 44.28%,#a3c9e2 47.23%,#a3c9e2 50.18%,#a3c9e2 53.14%,#a3c9e2 59.04%,#a3c9e2 66.42%,#a3c9e2 73.8%,#a3c9e2 81.18%,#a3c9e2 88.56%,#a3c9e2 100%)"></div><div style="top:129px;background:linear-gradient(90deg,#a3c9e2 0%,#a3c9e2 2.95%,#a3c9e2 5.9%,#a3c9e2 8.86%,#a3c9e2 11.81%,#a3c9e2 14.76%,#a3c9e2 17.71%,#a3c9e2 20.66%,#a3c9e2 23.62%,#a3c9e2 26.57%,#a3c9e2 29.52%,#a3c9e2 32.47%,#a3c9e2 35.42%,#a3c9e2 38.38%,#a3c9e2 41.33%,#a3c9e2 44.28%,#a3c9e2 47.23%,#a3c9e2 50.18%,#a3c9e2 53.14%,#a3c9e2 59.04%,#a3c9e2 66.42%,#a3c9e2 73.8%,#a3c9e2 81.18%,#a3c9e2 88.56%,#a3c9e2 100%)"></div><div style="top:130px;background:linear-gradient(90deg,#a3c9e2 0%,#a3c9e2 2.95%,#a3c9e2 5.9%,#a3c9e2 8.86%,#a3c9e2 11.81%,#a3c9e2 14.76%,#a3c9e2 17.71%,#a3c9e2 20.66%,#a3c9e2 23.62%,#a3c9e2 26.57%,#a3c9e2 29.52%,#a3c9e2 32.47%,#a3c9e2 35.42%,#a3c9e2 38.38%,#a3c9e2 41.33%,#a3c9e2 44.28%,#a3c9e2 47.23%,#a3c9e2 50.18%,#a3c9e2 53.14%,#a3c9e2 59.04%,#a3c9e2 66.42%,#a3c9e2 73.8%,#a3c9e2 81.18%,#a3c9e2 88.56%,#a3c9e2 100%)"></div><div style="top:131px;background:linear-gradient(90deg,#a3c9e2 0%,#a3c9e2 2.95%,#a3c9e2 5.9%,#a3c9e2 8.86%,#a3c9e2 11.81%,#a3c9e2 14.76%,#a3c9e2 17.71%,#a3c9e2 20.66%,#a3c9e2 23.62%,#a3c9e2 26.57%,#a3c9e2 29.52%,#a3c9e2 32.47%,#a3c9e2 35.42%,#a3c9e2 38.38%,#a3c9e2 41.33%,#a3c9e2 44.28%,#a3c9e2 47.23%,#a3c9e2 50.18%,#a3c9e2 53.14%,#a3c9e2 59.04%,#a3c9e2 66.42%,#a3c9e2 73.8%,#a3c9e2 81.18%,#a3c9e2 88.56%,#a3c9e2 100%)"></div><div style="top:132px;background:linear-gradient(90deg,#a3c9e2 0%,#a3c9e2 2.95%,#a3c9e2 5.9%,#a3c9e2 8.86%,#a3c9e2 11.81%,#a3c9e2 14.76%,#a3c9e2 17.71%,#a3c9e2 20.66%,#a3c9e2 23.62%,#a3c9e2 26.57%,#a3c9e2 29.52%,#a3c9e2 32.47%,#a3c9e2 35.42%,#a3c9e2 38.38%,#a3c9e2 41.33%,#a3c9e2 44.28%,#a3c9e2 47.23%,#a3c9e2 50.18%,#a3c9e2 53.14%,#a3c9e2 59.04%,#a3c9e2 66.42%,#a3c9e2 73.8%,#a3c9e2 81.18%,#a3c9e2 88.56%,#a3c9e2 100%)"></div><div style="top:133px;background:linear-gradient(90deg,#a3c9e2 0%,#a3c9e2 2.95%,#a3c9e2 5.9%,#a3c9e2 8.86%,#a3c9e2 11.81%,#a3c9e2 14.76%,#a3c9e2 17.71%,#a3c9e2 20.66%,#a3c9e2 23.62%,#a3c9e2 26.57%,#a3c9e2 29.52%,#a3c9e2 32.47%,#a3c9e2 35.42%,#a3c9e2 38.38%,#a3c9e2 41.33%,#a3c9e2 44.28%,#a3c9e2 47.23%,#a3c9e2 50.18%,#a3c9e2 53.14%,#a3c9e2 59.04%,#a3c9e2 66.42%,#a3c9e2 73.8%,#a3c9e2 81.18%,#a3c9e2 88.56%,#a3c9e2 100%)"></div><div style="top:134px;background:linear-gradient(90deg,#a3c9e2 0%,#a3c9e2 2.95%,#a3c9e2 5.9%,#a3c9e2 8.86%,#a3c9e2 11.81%,#a3c9e2 14.76%,#a3c9e2 17.71%,#a3c9e2 20.66%,#a3c9e2 23.62%,#a3c9e2 26.57%,#a3c9e2 29.52%,#a3c9e2 32.47%,#a3c9e2 35.42%,#a3c9e2 38.38%,#a3c9e2 41.33%,#a3c9e2 44.28%,#a3c9e2 47.23%,#a3c9e2 50.18%,#a3c9e2 53.14%,#a3c9e2 59.04%,#a3c9e2 66.42%,#a3c9e2 73.8%,#a3c9e2 81.18%,#a3c9e2 88.56%,#a3c9e2 100%)"></div></div>
<svg width="685" height="445" viewBox="0 0 685 445" font-family='"Liberation Sans", sans-serif'>
<rect x="37" y="5" width="135.5" height="135" fill="none" stroke="#8a8a8a" stroke-width="0.8"/>
<line x1="35.6" y1="18.7" x2="37" y2="18.7" stroke="#555" stroke-width="0.7"/>
<line x1="34.5" y1="41.1" x2="37" y2="41.1" stroke="#555" stroke-width="0.7"/>
<text x="30" y="43.96" font-size="8.0" text-anchor="end" fill="#2a2a2a">700</text>
<line x1="35.6" y1="63.5" x2="37" y2="63.5" stroke="#555" stroke-width="0.7"/>
<line x1="34.5" y1="85.9" x2="37" y2="85.9" stroke="#555" stroke-width="0.7"/>
<text x="30" y="88.76" font-size="8.0" text-anchor="end" fill="#2a2a2a">650</text>
<line x1="35.6" y1="108.3" x2="37" y2="108.3" stroke="#555" stroke-width="0.7"/>
<line x1="34.5" y1="130.7" x2="37" y2="130.7" stroke="#555" stroke-width="0.7"/>
<text x="30" y="133.56" font-size="8.0" text-anchor="end" fill="#2a2a2a">600</text>
<line x1="40.9" y1="140" x2="40.9" y2="142.2" stroke="#555" stroke-width="0.7"/>
<line x1="58.15" y1="140" x2="58.15" y2="141.3" stroke="#555" stroke-width="0.7"/>
<line x1="75.4" y1="140" x2="75.4" y2="142.2" stroke="#555" stroke-width="0.7"/>
<line x1="92.65" y1="140" x2="92.65" y2="141.3" stroke="#555" stroke-width="0.7"/>
<line x1="109.9" y1="140" x2="109.9" y2="142.2" stroke="#555" stroke-width="0.7"/>
<line x1="127.15" y1="140" x2="127.15" y2="141.3" stroke="#555" stroke-width="0.7"/>
<line x1="144.4" y1="140" x2="144.4" y2="142.2" stroke="#555" stroke-width="0.7"/>
<line x1="161.65" y1="140" x2="161.65" y2="141.3" stroke="#555" stroke-width="0.7"/>
<text x="5" y="75.72" font-size="9.0" text-anchor="middle" fill="#2a2a2a" transform="rotate(-90 5 72.5)">Probe wavelength (nm)</text>
<text x="165.6" y="135.48" font-size="8.6" text-anchor="end" fill="#1a1a1a">5 K</text>
<rect x="37" y="143" width="135.5" height="135" fill="none" stroke="#8a8a8a" stroke-width="0.8"/>
<line x1="35.6" y1="156.7" x2="37" y2="156.7" stroke="#555" stroke-width="0.7"/>
<line x1="34.5" y1="179.1" x2="37" y2="179.1" stroke="#555" stroke-width="0.7"/>
<text x="30" y="181.96" font-size="8.0" text-anchor="end" fill="#2a2a2a">700</text>
<line x1="35.6" y1="201.5" x2="37" y2="201.5" stroke="#555" stroke-width="0.7"/>
<line x1="34.5" y1="223.9" x2="37" y2="223.9" stroke="#555" stroke-width="0.7"/>
<text x="30" y="226.76" font-size="8.0" text-anchor="end" fill="#2a2a2a">650</text>
<line x1="35.6" y1="246.3" x2="37" y2="246.3" stroke="#555" stroke-width="0.7"/>
<line x1="34.5" y1="268.7" x2="37" y2="268.7" stroke="#555" stroke-width="0.7"/>
<text x="30" y="271.56" font-size="8.0" text-anchor="end" fill="#2a2a2a">600</text>
<line x1="40.9" y1="278" x2="40.9" y2="280.2" stroke="#555" stroke-width="0.7"/>
<line x1="58.15" y1="278" x2="58.15" y2="279.3" stroke="#555" stroke-width="0.7"/>
<line x1="75.4" y1="278" x2="75.4" y2="280.2" stroke="#555" stroke-width="0.7"/>
<line x1="92.65" y1="278" x2="92.65" y2="279.3" stroke="#555" stroke-width="0.7"/>
<line x1="109.9" y1="278" x2="109.9" y2="280.2" stroke="#555" stroke-width="0.7"/>
<line x1="127.15" y1="278" x2="127.15" y2="279.3" stroke="#555" stroke-width="0.7"/>
<line x1="144.4" y1="278" x2="144.4" y2="280.2" stroke="#555" stroke-width="0.7"/>
<line x1="161.65" y1="278" x2="161.65" y2="279.3" stroke="#555" stroke-width="0.7"/>
<text x="5" y="213.72" font-size="9.0" text-anchor="middle" fill="#2a2a2a" transform="rotate(-90 5 210.5)">Probe wavelength (nm)</text>
<text x="165.6" y="271.98" font-size="8.6" text-anchor="end" fill="#1a1a1a">100 K</text>
<rect x="37" y="281" width="135.5" height="135" fill="none" stroke="#8a8a8a" stroke-width="0.8"/>
<line x1="35.6" y1="294.7" x2="37" y2="294.7" stroke="#555" stroke-width="0.7"/>
<line x1="34.5" y1="317.1" x2="37" y2="317.1" stroke="#555" stroke-width="0.7"/>
<text x="30" y="319.96" font-size="8.0" text-anchor="end" fill="#2a2a2a">700</text>
<line x1="35.6" y1="339.5" x2="37" y2="339.5" stroke="#555" stroke-width="0.7"/>
<line x1="34.5" y1="361.9" x2="37" y2="361.9" stroke="#555" stroke-width="0.7"/>
<text x="30" y="364.76" font-size="8.0" text-anchor="end" fill="#2a2a2a">650</text>
<line x1="35.6" y1="384.3" x2="37" y2="384.3" stroke="#555" stroke-width="0.7"/>
<line x1="34.5" y1="406.7" x2="37" y2="406.7" stroke="#555" stroke-width="0.7"/>
<text x="30" y="409.56" font-size="8.0" text-anchor="end" fill="#2a2a2a">600</text>
<line x1="40.9" y1="416" x2="40.9" y2="418.2" stroke="#555" stroke-width="0.7"/>
<line x1="58.15" y1="416" x2="58.15" y2="417.3" stroke="#555" stroke-width="0.7"/>
<line x1="75.4" y1="416" x2="75.4" y2="418.2" stroke="#555" stroke-width="0.7"/>
<line x1="92.65" y1="416" x2="92.65" y2="417.3" stroke="#555" stroke-width="0.7"/>
<line x1="109.9" y1="416" x2="109.9" y2="418.2" stroke="#555" stroke-width="0.7"/>
<line x1="127.15" y1="416" x2="127.15" y2="417.3" stroke="#555" stroke-width="0.7"/>
<line x1="144.4" y1="416" x2="144.4" y2="418.2" stroke="#555" stroke-width="0.7"/>
<line x1="161.65" y1="416" x2="161.65" y2="417.3" stroke="#555" stroke-width="0.7"/>
<text x="5" y="351.72" font-size="9.0" text-anchor="middle" fill="#2a2a2a" transform="rotate(-90 5 348.5)">Probe wavelength (nm)</text>
<text x="165.6" y="410.88" font-size="8.6" text-anchor="end" fill="#1a1a1a">293 K</text>
<text x="40.9" y="429.26" font-size="8.0" text-anchor="middle" fill="#2a2a2a">0</text>
<text x="75.4" y="429.26" font-size="8.0" text-anchor="middle" fill="#2a2a2a">0.5</text>
<text x="109.9" y="429.26" font-size="8.0" text-anchor="middle" fill="#2a2a2a">1.0</text>
<text x="144.4" y="429.26" font-size="8.0" text-anchor="middle" fill="#2a2a2a">1.5</text>
<text x="105.3" y="443.12" font-size="9.0" text-anchor="middle" fill="#2a2a2a">Pump–probe delay time (ps)</text>
<defs><linearGradient id="stk" x1="0" y1="0" x2="0" y2="1"><stop offset="0" stop-color="#fff" stop-opacity="0.35"/><stop offset="1" stop-color="#fff" stop-opacity="0"/></linearGradient><clipPath id="cclip"><rect x="37" y="281" width="135.5" height="135"/></clipPath></defs>
<filter id="bl" x="-20%" y="-20%" width="140%" height="140%"><feGaussianBlur stdDeviation="0.7"/></filter>
<path d="M37.3,290.51l24.8,59.05M42.79,287.66l34.5,82.15M49.23,284.37l33.79,80.45M57.23,284.91l22.76,54.19M63.7,285.24l41.84,99.61M69.39,293.48l36.81,87.65M77.31,293.76l31,73.8M81.69,286.9l42.63,101.51M88.58,287.08l23.97,57.07M97.76,289.82l25.55,60.84" stroke="url(#stk)" stroke-width="1.6" fill="none" clip-path="url(#cclip)" opacity="0.4" filter="url(#bl)"/>
<text x="0" y="6.6" font-size="13" text-anchor="start" fill="#000" font-weight="bold">a</text>
<text x="0.5" y="150.7" font-size="13" text-anchor="start" fill="#000" font-weight="bold">b</text>
<text x="0" y="286.8" font-size="13" text-anchor="start" fill="#000" font-weight="bold">c</text>
<text x="195.2" y="10.6" font-size="13" text-anchor="start" fill="#000" font-weight="bold">d</text>
<text x="520.5" y="10.4" font-size="13" text-anchor="start" fill="#000" font-weight="bold">e</text>
<text x="520.5" y="150.7" font-size="13" text-anchor="start" fill="#000" font-weight="bold">f</text>
<text x="520.5" y="286.6" font-size="13" text-anchor="start" fill="#000" font-weight="bold">g</text>
<rect x="180.4" y="281.8" width="10.4" height="4.77" fill="#af202a"/>
<rect x="180.4" y="286.27" width="10.4" height="4.77" fill="#b9262c"/>
<rect x="180.4" y="290.75" width="10.4" height="4.77" fill="#c32a2c"/>
<rect x="180.4" y="295.22" width="10.4" height="4.77" fill="#cc3330"/>
<rect x="180.4" y="299.69" width="10.4" height="4.77" fill="#d43e34"/>
<rect x="180.4" y="304.17" width="10.4" height="4.77" fill="#dd4a3a"/>
<rect x="180.4" y="308.64" width="10.4" height="4.77" fill="#e4593f"/>
<rect x="180.4" y="313.11" width="10.4" height="4.77" fill="#ea6c46"/>
<rect x="180.4" y="317.59" width="10.4" height="4.77" fill="#f07e4d"/>
<rect x="180.4" y="322.06" width="10.4" height="4.77" fill="#f49156"/>
<rect x="180.4" y="326.53" width="10.4" height="4.77" fill="#f7a663"/>
<rect x="180.4" y="331.01" width="10.4" height="4.77" fill="#fabb70"/>
<rect x="180.4" y="335.48" width="10.4" height="4.77" fill="#fbcc83"/>
<rect x="180.4" y="339.95" width="10.4" height="4.77" fill="#fcde96"/>
<rect x="180.4" y="344.43" width="10.4" height="4.77" fill="#f7eab7"/>
<rect x="180.4" y="348.9" width="10.4" height="4.77" fill="#eff1d6"/>
<rect x="180.4" y="353.37" width="10.4" height="4.77" fill="#e4f2f2"/>
<rect x="180.4" y="357.85" width="10.4" height="4.77" fill="#d2e8ef"/>
<rect x="180.4" y="362.32" width="10.4" height="4.77" fill="#c0ddeb"/>
<rect x="180.4" y="366.79" width="10.4" height="4.77" fill="#afd0e5"/>
<rect x="180.4" y="371.27" width="10.4" height="4.77" fill="#9ec3de"/>
<rect x="180.4" y="375.74" width="10.4" height="4.77" fill="#8eb5d8"/>
<rect x="180.4" y="380.21" width="10.4" height="4.77" fill="#80aad1"/>
<rect x="180.4" y="384.69" width="10.4" height="4.77" fill="#739eca"/>
<rect x="180.4" y="389.16" width="10.4" height="4.77" fill="#6592c4"/>
<rect x="180.4" y="393.63" width="10.4" height="4.77" fill="#5b86bc"/>
<rect x="180.4" y="398.11" width="10.4" height="4.77" fill="#517bb3"/>
<rect x="180.4" y="402.58" width="10.4" height="4.77" fill="#476fab"/>
<rect x="180.4" y="407.05" width="10.4" height="4.77" fill="#4267a3"/>
<rect x="180.4" y="411.53" width="10.4" height="4.77" fill="#3d5e9a"/>
<rect x="180.4" y="281.8" width="10.4" height="134.2" fill="none" stroke="#666" stroke-width="0.8"/>
<line x1="185.6" y1="279" x2="185.6" y2="281.8" stroke="#555" stroke-width="0.7"/>
<line x1="185.6" y1="416" x2="185.6" y2="418.5" stroke="#555" stroke-width="0.7"/>
<text x="185.7" y="275.16" font-size="8.0" text-anchor="middle" fill="#2a2a2a">0.009</text>
<text x="185" y="428.36" font-size="8.0" text-anchor="middle" fill="#2a2a2a">−0.005</text>
<text x="199.8" y="352.04" font-size="8.5" text-anchor="middle" fill="#2a2a2a" transform="rotate(90 199.8 349)">Δ<tspan font-style="italic">T</tspan>/<tspan font-style="italic">T</tspan></text>
<rect x="235.4" y="6.5" width="267.1" height="406.8" fill="none" stroke="#6a6a6a" stroke-width="0.9"/>
<line x1="235.4" y1="108.3" x2="502.5" y2="108.3" stroke="#7a7a7a" stroke-width="0.9"/>
<line x1="235.4" y1="210.1" x2="502.5" y2="210.1" stroke="#7a7a7a" stroke-width="0.9"/>
<line x1="235.4" y1="311.6" x2="502.5" y2="311.6" stroke="#7a7a7a" stroke-width="0.9"/>
<line x1="262.11" y1="108.3" x2="262.11" y2="106.7" stroke="#555" stroke-width="0.7"/>
<line x1="288.82" y1="108.3" x2="288.82" y2="104.5" stroke="#555" stroke-width="0.7"/>
<line x1="315.53" y1="108.3" x2="315.53" y2="106.7" stroke="#555" stroke-width="0.7"/>
<line x1="342.24" y1="108.3" x2="342.24" y2="104.5" stroke="#555" stroke-width="0.7"/>
<line x1="368.95" y1="108.3" x2="368.95" y2="106.7" stroke="#555" stroke-width="0.7"/>
<line x1="395.66" y1="108.3" x2="395.66" y2="104.5" stroke="#555" stroke-width="0.7"/>
<line x1="422.37" y1="108.3" x2="422.37" y2="106.7" stroke="#555" stroke-width="0.7"/>
<line x1="449.08" y1="108.3" x2="449.08" y2="104.5" stroke="#555" stroke-width="0.7"/>
<line x1="475.79" y1="108.3" x2="475.79" y2="106.7" stroke="#555" stroke-width="0.7"/>
<line x1="262.11" y1="210.1" x2="262.11" y2="208.5" stroke="#555" stroke-width="0.7"/>
<line x1="288.82" y1="210.1" x2="288.82" y2="206.3" stroke="#555" stroke-width="0.7"/>
<line x1="315.53" y1="210.1" x2="315.53" y2="208.5" stroke="#555" stroke-width="0.7"/>
<line x1="342.24" y1="210.1" x2="342.24" y2="206.3" stroke="#555" stroke-width="0.7"/>
<line x1="368.95" y1="210.1" x2="368.95" y2="208.5" stroke="#555" stroke-width="0.7"/>
<line x1="395.66" y1="210.1" x2="395.66" y2="206.3" stroke="#555" stroke-width="0.7"/>
<line x1="422.37" y1="210.1" x2="422.37" y2="208.5" stroke="#555" stroke-width="0.7"/>
<line x1="449.08" y1="210.1" x2="449.08" y2="206.3" stroke="#555" stroke-width="0.7"/>
<line x1="475.79" y1="210.1" x2="475.79" y2="208.5" stroke="#555" stroke-width="0.7"/>
<line x1="262.11" y1="311.6" x2="262.11" y2="310" stroke="#555" stroke-width="0.7"/>
<line x1="288.82" y1="311.6" x2="288.82" y2="307.8" stroke="#555" stroke-width="0.7"/>
<line x1="315.53" y1="311.6" x2="315.53" y2="310" stroke="#555" stroke-width="0.7"/>
<line x1="342.24" y1="311.6" x2="342.24" y2="307.8" stroke="#555" stroke-width="0.7"/>
<line x1="368.95" y1="311.6" x2="368.95" y2="310" stroke="#555" stroke-width="0.7"/>
<line x1="395.66" y1="311.6" x2="395.66" y2="307.8" stroke="#555" stroke-width="0.7"/>
<line x1="422.37" y1="311.6" x2="422.37" y2="310" stroke="#555" stroke-width="0.7"/>
<line x1="449.08" y1="311.6" x2="449.08" y2="307.8" stroke="#555" stroke-width="0.7"/>
<line x1="475.79" y1="311.6" x2="475.79" y2="310" stroke="#555" stroke-width="0.7"/>
<line x1="262.11" y1="413.3" x2="262.11" y2="411.7" stroke="#555" stroke-width="0.7"/>
<line x1="288.82" y1="413.3" x2="288.82" y2="409.5" stroke="#555" stroke-width="0.7"/>
<line x1="315.53" y1="413.3" x2="315.53" y2="411.7" stroke="#555" stroke-width="0.7"/>
<line x1="342.24" y1="413.3" x2="342.24" y2="409.5" stroke="#555" stroke-width="0.7"/>
<line x1="368.95" y1="413.3" x2="368.95" y2="411.7" stroke="#555" stroke-width="0.7"/>
<line x1="395.66" y1="413.3" x2="395.66" y2="409.5" stroke="#555" stroke-width="0.7"/>
<line x1="422.37" y1="413.3" x2="422.37" y2="411.7" stroke="#555" stroke-width="0.7"/>
<line x1="449.08" y1="413.3" x2="449.08" y2="409.5" stroke="#555" stroke-width="0.7"/>
<line x1="475.79" y1="413.3" x2="475.79" y2="411.7" stroke="#555" stroke-width="0.7"/>
<line x1="235.4" y1="35.4" x2="239.9" y2="35.4" stroke="#555" stroke-width="0.7"/>
<text x="229.6" y="38.26" font-size="8.0" text-anchor="end" fill="#2a2a2a">0.64</text>
<line x1="235.4" y1="86.6" x2="239.9" y2="86.6" stroke="#555" stroke-width="0.7"/>
<text x="229.6" y="89.46" font-size="8.0" text-anchor="end" fill="#2a2a2a">0</text>
<line x1="235.4" y1="9.8" x2="237.8" y2="9.8" stroke="#555" stroke-width="0.7"/>
<line x1="235.4" y1="61" x2="237.8" y2="61" stroke="#555" stroke-width="0.7"/>
<line x1="235.4" y1="113.4" x2="239.9" y2="113.4" stroke="#555" stroke-width="0.7"/>
<text x="229.6" y="116.27" font-size="8.0" text-anchor="end" fill="#2a2a2a">0.59</text>
<line x1="235.4" y1="164.2" x2="239.9" y2="164.2" stroke="#555" stroke-width="0.7"/>
<text x="229.6" y="167.06" font-size="8.0" text-anchor="end" fill="#2a2a2a">0</text>
<line x1="235.4" y1="138.8" x2="237.8" y2="138.8" stroke="#555" stroke-width="0.7"/>
<line x1="235.4" y1="189.6" x2="237.8" y2="189.6" stroke="#555" stroke-width="0.7"/>
<line x1="235.4" y1="215.4" x2="239.9" y2="215.4" stroke="#555" stroke-width="0.7"/>
<text x="229.6" y="218.26" font-size="8.0" text-anchor="end" fill="#2a2a2a">0.52</text>
<line x1="235.4" y1="266.1" x2="239.9" y2="266.1" stroke="#555" stroke-width="0.7"/>
<text x="229.6" y="268.96" font-size="8.0" text-anchor="end" fill="#2a2a2a">0</text>
<line x1="235.4" y1="240.75" x2="237.8" y2="240.75" stroke="#555" stroke-width="0.7"/>
<line x1="235.4" y1="291.45" x2="237.8" y2="291.45" stroke="#555" stroke-width="0.7"/>
<line x1="235.4" y1="316.3" x2="239.9" y2="316.3" stroke="#555" stroke-width="0.7"/>
<text x="229.6" y="319.16" font-size="8.0" text-anchor="end" fill="#2a2a2a">2</text>
<line x1="235.4" y1="368" x2="239.9" y2="368" stroke="#555" stroke-width="0.7"/>
<text x="229.6" y="370.86" font-size="8.0" text-anchor="end" fill="#2a2a2a">0</text>
<line x1="235.4" y1="342.15" x2="237.8" y2="342.15" stroke="#555" stroke-width="0.7"/>
<line x1="235.4" y1="393.85" x2="237.8" y2="393.85" stroke="#555" stroke-width="0.7"/>
<text x="235.4" y="425.06" font-size="8.0" text-anchor="middle" fill="#2a2a2a">560</text>
<text x="288.82" y="425.06" font-size="8.0" text-anchor="middle" fill="#2a2a2a">600</text>
<text x="342.24" y="425.06" font-size="8.0" text-anchor="middle" fill="#2a2a2a">640</text>
<text x="395.66" y="425.06" font-size="8.0" text-anchor="middle" fill="#2a2a2a">680</text>
<text x="449.08" y="425.06" font-size="8.0" text-anchor="middle" fill="#2a2a2a">720</text>
<text x="502.5" y="425.06" font-size="8.0" text-anchor="middle" fill="#2a2a2a">760</text>
<text x="368.8" y="438.32" font-size="9.0" text-anchor="middle" fill="#2a2a2a">Wavelength (nm)</text>
<text x="203.2" y="202.13" font-size="9.3" text-anchor="middle" fill="#2a2a2a" transform="rotate(-90 203.2 198.8)">Δ<tspan font-style="italic">T</tspan>/<tspan font-style="italic">T</tspan> (×10<tspan dy="-3" font-size="6.3">−3</tspan><tspan dy="3">)</tspan></text>
<path d="M262,90.8C264.33,90.6 271.33,89.3 276,89.6C280.67,89.9 284.73,92.33 290,92.6C295.27,92.87 301.77,91.43 307.6,91.2C313.43,90.97 319.17,90.83 325,91.2C330.83,91.57 336.77,93.27 342.6,93.4C348.43,93.53 354.6,91.62 360,92C365.4,92.38 370.75,95.17 375,95.7C379.25,96.23 382.28,95.13 385.5,95.2C388.72,95.27 390.8,95.58 394.3,96.1C397.8,96.62 402.72,97.95 406.5,98.3C410.28,98.65 413.48,97.85 417,98.2C420.52,98.55 424.67,100.47 427.6,100.4C430.53,100.33 432.42,98.67 434.6,97.8C436.78,96.93 438.95,96.95 440.7,95.2C442.45,93.45 443.78,92.12 445.1,87.3C446.42,82.48 447.43,72.13 448.6,66.3C449.77,60.47 451.08,53.77 452.1,52.3C453.12,50.83 453.68,52.25 454.7,57.5C455.72,62.75 457.12,77 458.2,83.8C459.28,90.6 460.15,96.6 461.2,98.3C462.25,100 463.38,95.48 464.5,94C465.62,92.52 466.75,89.05 467.9,89.4C469.05,89.75 470.1,94.27 471.4,96.1C472.7,97.93 474.1,100.93 475.7,100.4C477.3,99.87 479.53,93.62 481,92.9C482.47,92.18 483.18,94.47 484.5,96.1C485.82,97.73 488.17,101.6 488.9,102.7" fill="none" stroke="#4aa8dc" stroke-width="0.8" stroke-linejoin="round"/>
<path d="M262.2,177C263.07,177.22 265.77,178.38 267.4,178.3C269.03,178.22 270.32,177.02 272,176.5C273.68,175.98 275.83,175.35 277.5,175.2C279.17,175.05 280.13,174.93 282,175.6C283.87,176.27 286.65,177.97 288.7,179.2C290.75,180.43 292.42,182.62 294.3,183C296.18,183.38 297.75,182.43 300,181.5C302.25,180.57 304.82,178.08 307.8,177.4C310.78,176.72 314.53,177.4 317.9,177.4C321.27,177.4 325.18,176.83 328,177.4C330.82,177.97 332.73,179.78 334.8,180.8C336.87,181.82 338.53,183.22 340.4,183.5C342.27,183.78 344.13,182.77 346,182.5C347.87,182.23 348.78,181.62 351.6,181.9C354.42,182.18 359,183.27 362.9,184.2C366.8,185.13 371.48,188.33 375,187.5C378.52,186.67 380.82,178.82 384,179.2C387.18,179.58 391.48,190.47 394.1,189.8C396.72,189.13 398.02,183.63 399.7,175.2C401.38,166.77 402.77,147.82 404.2,139.2C405.63,130.58 406.98,122.75 408.3,123.5C409.62,124.25 410.92,133.97 412.1,143.7C413.28,153.43 414.28,172.42 415.4,181.9C416.52,191.38 417.48,200.22 418.8,200.6C420.12,200.98 421.8,189.93 423.3,184.2C424.8,178.47 426.3,170.52 427.8,166.2C429.3,161.88 430.8,156.8 432.3,158.3C433.8,159.8 435.3,169.7 436.8,175.2C438.3,180.7 439.62,191.68 441.3,191.3C442.98,190.92 445.22,177.47 446.9,172.9C448.58,168.33 449.98,163.15 451.4,163.9C452.82,164.65 453.98,173.27 455.4,177.4C456.82,181.53 457.95,189.45 459.9,188.7C461.85,187.95 464.77,172.83 467.1,172.9C469.43,172.97 471.65,188.05 473.9,189.1C476.15,190.15 478.17,178.45 480.6,179.2C483.03,179.95 487.18,191.2 488.5,193.6" fill="none" stroke="#f07575" stroke-width="0.8" stroke-linejoin="round"/>
<path d="M262.2,273.1C263.07,273.28 265.23,274.2 267.4,274.2C269.57,274.2 272.58,273.35 275.2,273.1C277.82,272.85 280.85,272.22 283.1,272.7C285.35,273.18 286.27,274.2 288.7,276C291.13,277.8 294.52,282.75 297.7,283.5C300.88,284.25 304.98,280.8 307.8,280.5C310.62,280.2 311.78,280.75 314.6,281.7C317.42,282.65 321.72,285.75 324.7,286.2C327.68,286.65 330.07,288.15 332.5,284.4C334.93,280.65 337.23,268.92 339.3,263.7C341.37,258.48 343.22,253.1 344.9,253.1C346.58,253.1 347.9,258.18 349.4,263.7C350.9,269.22 352.03,281.07 353.9,286.2C355.77,291.33 358.35,294.13 360.6,294.5C362.85,294.87 365,294.1 367.4,288.4C369.8,282.7 372.68,271.62 375,260.3C377.32,248.98 379.62,224.05 381.3,220.5C382.98,216.95 383.83,229.18 385.1,239C386.37,248.82 387.58,269.67 388.9,279.4C390.22,289.13 391.2,296.27 393,297.4C394.8,298.53 397.65,291.82 399.7,286.2C401.75,280.58 403.53,269.43 405.3,263.7C407.07,257.97 408.62,250.68 410.3,251.8C411.98,252.92 413.6,264 415.4,270.4C417.2,276.8 419.03,289.82 421.1,290.2C423.17,290.58 425.67,277.75 427.8,272.7C429.93,267.65 432.03,259.15 433.9,259.9C435.77,260.65 437.4,272.93 439,277.2C440.6,281.47 441.8,286.25 443.5,285.5C445.2,284.75 447.58,276.03 449.2,272.7C450.82,269.37 451.78,264.75 453.2,265.5C454.62,266.25 456.32,274.13 457.7,277.2C459.08,280.27 459.55,284.92 461.5,283.9C463.45,282.88 466.78,270.92 469.4,271.1C472.02,271.28 474.85,284.43 477.2,285C479.55,285.57 481.62,274.5 483.5,274.5C485.38,274.5 487.67,283.25 488.5,285" fill="none" stroke="#3cc8a0" stroke-width="0.8" stroke-linejoin="round"/>
<path d="M262.4,374.1C263.83,374.28 268.27,375.2 271,375.2C273.73,375.2 276.57,375.18 278.8,374.1C281.03,373.02 282.52,371.77 284.4,368.7C286.28,365.63 288.03,359.1 290.1,355.7C292.17,352.3 294.93,348.68 296.8,348.3C298.67,347.92 299.62,349.17 301.3,353.4C302.98,357.63 305.13,368.52 306.9,373.7C308.67,378.88 309.83,383.2 311.9,384.5C313.97,385.8 316.77,382.25 319.3,381.5C321.83,380.75 324.67,381.68 327.1,380C329.53,378.32 332.02,375.83 333.9,371.4C335.78,366.97 336.8,358.72 338.4,353.4C340,348.08 342,340.62 343.5,339.5C345,338.38 346,340.25 347.4,346.7C348.8,353.15 350.48,370.52 351.9,378.2C353.32,385.88 353.85,391.3 355.9,392.8C357.95,394.3 361.68,389.63 364.2,387.2C366.72,384.77 369.18,383.07 371,378.2C372.82,373.33 373.85,364.37 375.1,358C376.35,351.63 377.37,344.5 378.5,340C379.63,335.5 380.78,331.38 381.9,331C383.02,330.62 384.08,331.33 385.2,337.7C386.32,344.07 387.28,358.6 388.6,369.2C389.92,379.8 391.42,397.18 393.1,401.3C394.78,405.42 397.02,398.13 398.7,393.9C400.38,389.67 401.7,384.88 403.2,375.9C404.7,366.92 406.38,348.62 407.7,340C409.02,331.38 409.98,324.95 411.1,324.2C412.22,323.45 413.1,326.13 414.4,335.5C415.7,344.87 417.58,369.55 418.9,380.4C420.22,391.25 420.98,399.85 422.3,400.6C423.62,401.35 425.3,393.5 426.8,384.9C428.3,376.3 429.98,357.53 431.3,349C432.62,340.47 433.38,333.33 434.7,333.7C436.02,334.07 437.45,341.73 439.2,351.2C440.95,360.67 443.33,387.88 445.2,390.5C447.07,393.12 448.78,374.87 450.4,366.9C452.02,358.93 453.58,344.95 454.9,342.7C456.22,340.45 456.98,347.48 458.3,353.4C459.62,359.32 460.82,378.27 462.8,378.2C464.78,378.13 467.85,353.3 470.2,353C472.55,352.7 474.65,376.07 476.9,376.4C479.15,376.73 481.75,355.9 483.7,355C485.65,354.1 487.78,368.33 488.6,371" fill="none" stroke="#9a78c8" stroke-width="0.8" stroke-linejoin="round"/>
<line x1="435.4" y1="73.3" x2="435.4" y2="94.1" stroke="#2a8fc8" stroke-width="0.9"/>
<path d="M433.8,93.4 L437,93.4 L435.4,96.6 Z" fill="#2a8fc8"/>
<text x="432" y="67.39" font-size="8.9" text-anchor="middle" fill="#2a2a2a">710 nm</text>
<line x1="384" y1="143.7" x2="384" y2="169.5" stroke="#ec5a5a" stroke-width="0.9"/>
<path d="M382.4,168.8 L385.6,168.8 L384,172 Z" fill="#ec5a5a"/>
<text x="383.6" y="139.86" font-size="9.1" text-anchor="middle" fill="#2a2a2a">670 nm</text>
<line x1="343.3" y1="225.5" x2="343.3" y2="246.3" stroke="#1fb08a" stroke-width="0.9"/>
<path d="M341.7,245.6 L344.9,245.6 L343.3,248.8 Z" fill="#1fb08a"/>
<text x="343.1" y="223.19" font-size="9.2" text-anchor="middle" fill="#2a2a2a">640 nm</text>
<text x="258.6" y="341.73" font-size="9.3" text-anchor="middle" fill="#2a2a2a">400 nm</text>
<line x1="241.7" y1="352.3" x2="274" y2="359.9" stroke="#8a3fb0" stroke-width="0.9" stroke-dasharray="2.6,1.6"/>
<path d="M272.6,357.5 L277.2,360.6 L271.8,361.3 Z" fill="#8a3fb0"/>
<rect x="549.4" y="6.6" width="134" height="133.7" fill="none" stroke="#6a6a6a" stroke-width="0.9"/>
<line x1="547.6" y1="25.4" x2="549.4" y2="25.4" stroke="#555" stroke-width="0.7"/>
<text x="540.8" y="28.26" font-size="8.0" text-anchor="middle" fill="#2a2a2a">1</text>
<line x1="548.2" y1="73.3" x2="549.4" y2="73.3" stroke="#555" stroke-width="0.7"/>
<line x1="547.6" y1="121.2" x2="549.4" y2="121.2" stroke="#555" stroke-width="0.7"/>
<text x="540.8" y="124.06" font-size="8.0" text-anchor="middle" fill="#2a2a2a">0</text>
<line x1="561.3" y1="140.3" x2="561.3" y2="142.5" stroke="#555" stroke-width="0.7"/>
<line x1="573.55" y1="140.3" x2="573.55" y2="141.6" stroke="#555" stroke-width="0.7"/>
<line x1="585.8" y1="140.3" x2="585.8" y2="142.5" stroke="#555" stroke-width="0.7"/>
<line x1="598.05" y1="140.3" x2="598.05" y2="141.6" stroke="#555" stroke-width="0.7"/>
<line x1="610.3" y1="140.3" x2="610.3" y2="142.5" stroke="#555" stroke-width="0.7"/>
<line x1="622.55" y1="140.3" x2="622.55" y2="141.6" stroke="#555" stroke-width="0.7"/>
<line x1="634.8" y1="140.3" x2="634.8" y2="142.5" stroke="#555" stroke-width="0.7"/>
<line x1="647.05" y1="140.3" x2="647.05" y2="141.6" stroke="#555" stroke-width="0.7"/>
<line x1="659.3" y1="140.3" x2="659.3" y2="142.5" stroke="#555" stroke-width="0.7"/>
<line x1="671.55" y1="140.3" x2="671.55" y2="141.6" stroke="#555" stroke-width="0.7"/>
<text x="526.8" y="77.17" font-size="9.0" text-anchor="middle" fill="#2a2a2a" transform="rotate(-90 526.8 73.95)">Δ<tspan font-style="italic">T</tspan>/<tspan font-style="italic">T</tspan> (normalized)</text>
<rect x="549.4" y="142.9" width="134" height="134.7" fill="none" stroke="#6a6a6a" stroke-width="0.9"/>
<line x1="547.6" y1="162.4" x2="549.4" y2="162.4" stroke="#555" stroke-width="0.7"/>
<text x="540.8" y="165.26" font-size="8.0" text-anchor="middle" fill="#2a2a2a">1</text>
<line x1="548.2" y1="210.3" x2="549.4" y2="210.3" stroke="#555" stroke-width="0.7"/>
<line x1="547.6" y1="258.2" x2="549.4" y2="258.2" stroke="#555" stroke-width="0.7"/>
<text x="540.8" y="261.06" font-size="8.0" text-anchor="middle" fill="#2a2a2a">0</text>
<line x1="561.3" y1="277.6" x2="561.3" y2="279.8" stroke="#555" stroke-width="0.7"/>
<line x1="573.55" y1="277.6" x2="573.55" y2="278.9" stroke="#555" stroke-width="0.7"/>
<line x1="585.8" y1="277.6" x2="585.8" y2="279.8" stroke="#555" stroke-width="0.7"/>
<line x1="598.05" y1="277.6" x2="598.05" y2="278.9" stroke="#555" stroke-width="0.7"/>
<line x1="610.3" y1="277.6" x2="610.3" y2="279.8" stroke="#555" stroke-width="0.7"/>
<line x1="622.55" y1="277.6" x2="622.55" y2="278.9" stroke="#555" stroke-width="0.7"/>
<line x1="634.8" y1="277.6" x2="634.8" y2="279.8" stroke="#555" stroke-width="0.7"/>
<line x1="647.05" y1="277.6" x2="647.05" y2="278.9" stroke="#555" stroke-width="0.7"/>
<line x1="659.3" y1="277.6" x2="659.3" y2="279.8" stroke="#555" stroke-width="0.7"/>
<line x1="671.55" y1="277.6" x2="671.55" y2="278.9" stroke="#555" stroke-width="0.7"/>
<text x="526.8" y="213.97" font-size="9.0" text-anchor="middle" fill="#2a2a2a" transform="rotate(-90 526.8 210.75)">Δ<tspan font-style="italic">T</tspan>/<tspan font-style="italic">T</tspan> (normalized)</text>
<rect x="549.4" y="280.2" width="134" height="132.3" fill="none" stroke="#6a6a6a" stroke-width="0.9"/>
<line x1="547.6" y1="299.2" x2="549.4" y2="299.2" stroke="#555" stroke-width="0.7"/>
<text x="540.8" y="302.06" font-size="8.0" text-anchor="middle" fill="#2a2a2a">1</text>
<line x1="548.2" y1="347.1" x2="549.4" y2="347.1" stroke="#555" stroke-width="0.7"/>
<line x1="547.6" y1="395" x2="549.4" y2="395" stroke="#555" stroke-width="0.7"/>
<text x="540.8" y="397.86" font-size="8.0" text-anchor="middle" fill="#2a2a2a">0</text>
<line x1="561.3" y1="412.5" x2="561.3" y2="414.7" stroke="#555" stroke-width="0.7"/>
<line x1="573.55" y1="412.5" x2="573.55" y2="413.8" stroke="#555" stroke-width="0.7"/>
<line x1="585.8" y1="412.5" x2="585.8" y2="414.7" stroke="#555" stroke-width="0.7"/>
<line x1="598.05" y1="412.5" x2="598.05" y2="413.8" stroke="#555" stroke-width="0.7"/>
<line x1="610.3" y1="412.5" x2="610.3" y2="414.7" stroke="#555" stroke-width="0.7"/>
<line x1="622.55" y1="412.5" x2="622.55" y2="413.8" stroke="#555" stroke-width="0.7"/>
<line x1="634.8" y1="412.5" x2="634.8" y2="414.7" stroke="#555" stroke-width="0.7"/>
<line x1="647.05" y1="412.5" x2="647.05" y2="413.8" stroke="#555" stroke-width="0.7"/>
<line x1="659.3" y1="412.5" x2="659.3" y2="414.7" stroke="#555" stroke-width="0.7"/>
<line x1="671.55" y1="412.5" x2="671.55" y2="413.8" stroke="#555" stroke-width="0.7"/>
<text x="526.8" y="350.07" font-size="9.0" text-anchor="middle" fill="#2a2a2a" transform="rotate(-90 526.8 346.85)">Δ<tspan font-style="italic">T</tspan>/<tspan font-style="italic">T</tspan> (normalized)</text>
<text x="561.3" y="426.36" font-size="8.0" text-anchor="middle" fill="#2a2a2a">0</text>
<text x="585.8" y="426.36" font-size="8.0" text-anchor="middle" fill="#2a2a2a">1</text>
<text x="610.3" y="426.36" font-size="8.0" text-anchor="middle" fill="#2a2a2a">2</text>
<text x="634.8" y="426.36" font-size="8.0" text-anchor="middle" fill="#2a2a2a">3</text>
<text x="659.3" y="426.36" font-size="8.0" text-anchor="middle" fill="#2a2a2a">4</text>
<text x="683.8" y="426.36" font-size="8.0" text-anchor="middle" fill="#2a2a2a">5</text>
<text x="616.4" y="440.22" font-size="9.0" text-anchor="middle" fill="#2a2a2a">Pump–probe delay time (ps)</text>
<line x1="600.3" y1="42.0" x2="600.3" y2="92.6" stroke="#e0505a" stroke-width="0.9" stroke-dasharray="4,2.3"/>
<line x1="600.3" y1="179.7" x2="600.3" y2="231.0" stroke="#e0505a" stroke-width="0.9" stroke-dasharray="4,2.3"/>
<line x1="600.3" y1="327.3" x2="600.3" y2="379.8" stroke="#e0505a" stroke-width="0.9" stroke-dasharray="4,2.3"/>
<path d="M548.92,118.84h3.2v3.2h-3.2zM549.41,119.8h3.2v3.2h-3.2zM549.9,119.8h3.2v3.2h-3.2zM550.39,118.14h3.2v3.2h-3.2zM550.88,119.48h3.2v3.2h-3.2zM551.37,119.63h3.2v3.2h-3.2zM551.86,119.04h3.2v3.2h-3.2zM552.35,118.74h3.2v3.2h-3.2zM552.84,119.62h3.2v3.2h-3.2zM553.33,119.15h3.2v3.2h-3.2zM553.82,120.35h3.2v3.2h-3.2zM554.31,119.88h3.2v3.2h-3.2zM554.8,119.94h3.2v3.2h-3.2zM555.29,120.62h3.2v3.2h-3.2zM555.78,120.76h3.2v3.2h-3.2zM556.27,120.85h3.2v3.2h-3.2zM556.76,119.78h3.2v3.2h-3.2zM557.25,119.68h3.2v3.2h-3.2zM557.74,119.65h3.2v3.2h-3.2zM558.23,119.12h3.2v3.2h-3.2zM558.72,119.86h3.2v3.2h-3.2zM559.21,118.18h3.2v3.2h-3.2zM559.7,115.42h3.2v3.2h-3.2zM560.19,111.37h3.2v3.2h-3.2zM560.68,108.52h3.2v3.2h-3.2zM561.17,102.69h3.2v3.2h-3.2zM561.66,97.64h3.2v3.2h-3.2zM562.15,90.29h3.2v3.2h-3.2zM562.64,85.59h3.2v3.2h-3.2zM563.13,78.82h3.2v3.2h-3.2zM563.62,70.74h3.2v3.2h-3.2zM564.11,67.36h3.2v3.2h-3.2zM564.6,59.59h3.2v3.2h-3.2zM565.09,54.71h3.2v3.2h-3.2zM565.58,50.01h3.2v3.2h-3.2zM566.07,44.55h3.2v3.2h-3.2zM566.56,40.22h3.2v3.2h-3.2zM567.05,36.41h3.2v3.2h-3.2zM567.54,34.59h3.2v3.2h-3.2zM568.03,32.31h3.2v3.2h-3.2zM568.52,30.11h3.2v3.2h-3.2zM569.01,28.64h3.2v3.2h-3.2zM569.5,26.71h3.2v3.2h-3.2zM569.99,26.4h3.2v3.2h-3.2zM570.48,24.19h3.2v3.2h-3.2zM570.97,25.81h3.2v3.2h-3.2zM571.46,24.79h3.2v3.2h-3.2zM571.95,24.53h3.2v3.2h-3.2zM572.44,25.62h3.2v3.2h-3.2zM572.93,23.14h3.2v3.2h-3.2zM573.42,27.28h3.2v3.2h-3.2zM573.91,26.67h3.2v3.2h-3.2zM574.4,27.94h3.2v3.2h-3.2zM574.89,27.32h3.2v3.2h-3.2zM575.38,31.22h3.2v3.2h-3.2zM575.87,30.17h3.2v3.2h-3.2zM576.36,32.98h3.2v3.2h-3.2zM576.85,34.09h3.2v3.2h-3.2zM577.34,36.11h3.2v3.2h-3.2zM577.83,36.78h3.2v3.2h-3.2zM578.32,39.83h3.2v3.2h-3.2zM578.81,40.68h3.2v3.2h-3.2zM579.3,41.97h3.2v3.2h-3.2zM579.79,42.36h3.2v3.2h-3.2zM580.28,47.03h3.2v3.2h-3.2zM580.77,45.29h3.2v3.2h-3.2zM581.26,46.97h3.2v3.2h-3.2zM581.75,49.26h3.2v3.2h-3.2zM582.24,49.83h3.2v3.2h-3.2zM582.73,51.56h3.2v3.2h-3.2zM583.22,51.04h3.2v3.2h-3.2zM583.71,53.22h3.2v3.2h-3.2zM584.2,54.58h3.2v3.2h-3.2zM586.16,58.42h3.2v3.2h-3.2zM588.12,61.96h3.2v3.2h-3.2zM590.08,65.22h3.2v3.2h-3.2zM592.04,68.64h3.2v3.2h-3.2zM594,68.75h3.2v3.2h-3.2zM595.96,73.79h3.2v3.2h-3.2zM597.92,76.71h3.2v3.2h-3.2zM599.88,75.21h3.2v3.2h-3.2zM601.84,76.22h3.2v3.2h-3.2zM603.8,76.68h3.2v3.2h-3.2zM605.76,77.83h3.2v3.2h-3.2zM607.72,78.32h3.2v3.2h-3.2zM609.68,78.32h3.2v3.2h-3.2zM611.64,78.14h3.2v3.2h-3.2zM613.6,79.52h3.2v3.2h-3.2zM615.56,79.73h3.2v3.2h-3.2zM617.52,78.2h3.2v3.2h-3.2zM619.48,79.5h3.2v3.2h-3.2zM621.44,80.87h3.2v3.2h-3.2zM623.4,78.51h3.2v3.2h-3.2zM625.36,79.87h3.2v3.2h-3.2zM627.32,81.07h3.2v3.2h-3.2zM629.28,81.66h3.2v3.2h-3.2zM631.24,80.66h3.2v3.2h-3.2zM633.2,81.65h3.2v3.2h-3.2zM635.16,81.94h3.2v3.2h-3.2zM637.12,82.22h3.2v3.2h-3.2zM639.08,81.72h3.2v3.2h-3.2zM641.04,80.58h3.2v3.2h-3.2zM643,81.86h3.2v3.2h-3.2zM644.96,82.73h3.2v3.2h-3.2zM646.92,81.2h3.2v3.2h-3.2zM648.88,81.76h3.2v3.2h-3.2zM650.84,81.25h3.2v3.2h-3.2zM652.8,81.06h3.2v3.2h-3.2zM654.76,82.2h3.2v3.2h-3.2zM656.72,82.26h3.2v3.2h-3.2zM658.68,82.26h3.2v3.2h-3.2zM660.64,83.16h3.2v3.2h-3.2zM662.6,81.85h3.2v3.2h-3.2zM664.56,81.37h3.2v3.2h-3.2zM666.52,82.35h3.2v3.2h-3.2zM668.48,82.72h3.2v3.2h-3.2zM670.44,82.78h3.2v3.2h-3.2zM672.4,83.22h3.2v3.2h-3.2zM674.36,83.27h3.2v3.2h-3.2zM676.32,82.99h3.2v3.2h-3.2zM678.28,83.35h3.2v3.2h-3.2zM680.24,83.05h3.2v3.2h-3.2z" fill="#bfe3f6" stroke="#4aaee0" stroke-width="0.6" opacity="1.0"/>
<path d="M548.92,122.96a1.6,1.6 0 1,0 3.2,0a1.6,1.6 0 1,0 -3.2,0M549.41,121.21a1.6,1.6 0 1,0 3.2,0a1.6,1.6 0 1,0 -3.2,0M549.9,120.35a1.6,1.6 0 1,0 3.2,0a1.6,1.6 0 1,0 -3.2,0M550.39,121.76a1.6,1.6 0 1,0 3.2,0a1.6,1.6 0 1,0 -3.2,0M550.88,121.57a1.6,1.6 0 1,0 3.2,0a1.6,1.6 0 1,0 -3.2,0M551.37,121.64a1.6,1.6 0 1,0 3.2,0a1.6,1.6 0 1,0 -3.2,0M551.86,120.7a1.6,1.6 0 1,0 3.2,0a1.6,1.6 0 1,0 -3.2,0M552.35,121.9a1.6,1.6 0 1,0 3.2,0a1.6,1.6 0 1,0 -3.2,0M552.84,120.44a1.6,1.6 0 1,0 3.2,0a1.6,1.6 0 1,0 -3.2,0M553.33,121.43a1.6,1.6 0 1,0 3.2,0a1.6,1.6 0 1,0 -3.2,0M553.82,120.49a1.6,1.6 0 1,0 3.2,0a1.6,1.6 0 1,0 -3.2,0M554.31,121.18a1.6,1.6 0 1,0 3.2,0a1.6,1.6 0 1,0 -3.2,0M554.8,121.38a1.6,1.6 0 1,0 3.2,0a1.6,1.6 0 1,0 -3.2,0M555.29,122.33a1.6,1.6 0 1,0 3.2,0a1.6,1.6 0 1,0 -3.2,0M555.78,121.73a1.6,1.6 0 1,0 3.2,0a1.6,1.6 0 1,0 -3.2,0M556.27,121.4a1.6,1.6 0 1,0 3.2,0a1.6,1.6 0 1,0 -3.2,0M556.76,120.69a1.6,1.6 0 1,0 3.2,0a1.6,1.6 0 1,0 -3.2,0M557.25,120.96a1.6,1.6 0 1,0 3.2,0a1.6,1.6 0 1,0 -3.2,0M557.74,121.54a1.6,1.6 0 1,0 3.2,0a1.6,1.6 0 1,0 -3.2,0M558.23,120.46a1.6,1.6 0 1,0 3.2,0a1.6,1.6 0 1,0 -3.2,0M558.72,119.68a1.6,1.6 0 1,0 3.2,0a1.6,1.6 0 1,0 -3.2,0M559.21,119.84a1.6,1.6 0 1,0 3.2,0a1.6,1.6 0 1,0 -3.2,0M559.7,117.53a1.6,1.6 0 1,0 3.2,0a1.6,1.6 0 1,0 -3.2,0M560.19,113.85a1.6,1.6 0 1,0 3.2,0a1.6,1.6 0 1,0 -3.2,0M560.68,108.85a1.6,1.6 0 1,0 3.2,0a1.6,1.6 0 1,0 -3.2,0M561.17,103.57a1.6,1.6 0 1,0 3.2,0a1.6,1.6 0 1,0 -3.2,0M561.66,98.41a1.6,1.6 0 1,0 3.2,0a1.6,1.6 0 1,0 -3.2,0M562.15,91.21a1.6,1.6 0 1,0 3.2,0a1.6,1.6 0 1,0 -3.2,0M562.64,85.88a1.6,1.6 0 1,0 3.2,0a1.6,1.6 0 1,0 -3.2,0M563.13,79.91a1.6,1.6 0 1,0 3.2,0a1.6,1.6 0 1,0 -3.2,0M563.62,72.24a1.6,1.6 0 1,0 3.2,0a1.6,1.6 0 1,0 -3.2,0M564.11,66.65a1.6,1.6 0 1,0 3.2,0a1.6,1.6 0 1,0 -3.2,0M564.6,62.36a1.6,1.6 0 1,0 3.2,0a1.6,1.6 0 1,0 -3.2,0M565.09,56.46a1.6,1.6 0 1,0 3.2,0a1.6,1.6 0 1,0 -3.2,0M565.58,50.87a1.6,1.6 0 1,0 3.2,0a1.6,1.6 0 1,0 -3.2,0M566.07,46.82a1.6,1.6 0 1,0 3.2,0a1.6,1.6 0 1,0 -3.2,0M566.56,42.16a1.6,1.6 0 1,0 3.2,0a1.6,1.6 0 1,0 -3.2,0M567.05,38.3a1.6,1.6 0 1,0 3.2,0a1.6,1.6 0 1,0 -3.2,0M567.54,37.54a1.6,1.6 0 1,0 3.2,0a1.6,1.6 0 1,0 -3.2,0M568.03,33.36a1.6,1.6 0 1,0 3.2,0a1.6,1.6 0 1,0 -3.2,0M568.52,30.66a1.6,1.6 0 1,0 3.2,0a1.6,1.6 0 1,0 -3.2,0M569.01,28.74a1.6,1.6 0 1,0 3.2,0a1.6,1.6 0 1,0 -3.2,0M569.5,28.43a1.6,1.6 0 1,0 3.2,0a1.6,1.6 0 1,0 -3.2,0M569.99,25.91a1.6,1.6 0 1,0 3.2,0a1.6,1.6 0 1,0 -3.2,0M570.48,26.15a1.6,1.6 0 1,0 3.2,0a1.6,1.6 0 1,0 -3.2,0M570.97,25.02a1.6,1.6 0 1,0 3.2,0a1.6,1.6 0 1,0 -3.2,0M571.46,25.42a1.6,1.6 0 1,0 3.2,0a1.6,1.6 0 1,0 -3.2,0M571.95,26.48a1.6,1.6 0 1,0 3.2,0a1.6,1.6 0 1,0 -3.2,0M572.44,28.23a1.6,1.6 0 1,0 3.2,0a1.6,1.6 0 1,0 -3.2,0M572.93,29.24a1.6,1.6 0 1,0 3.2,0a1.6,1.6 0 1,0 -3.2,0M573.42,29.33a1.6,1.6 0 1,0 3.2,0a1.6,1.6 0 1,0 -3.2,0M573.91,31.84a1.6,1.6 0 1,0 3.2,0a1.6,1.6 0 1,0 -3.2,0M574.4,31.98a1.6,1.6 0 1,0 3.2,0a1.6,1.6 0 1,0 -3.2,0M574.89,33.36a1.6,1.6 0 1,0 3.2,0a1.6,1.6 0 1,0 -3.2,0M575.38,35.51a1.6,1.6 0 1,0 3.2,0a1.6,1.6 0 1,0 -3.2,0M575.87,35.12a1.6,1.6 0 1,0 3.2,0a1.6,1.6 0 1,0 -3.2,0M576.36,38.65a1.6,1.6 0 1,0 3.2,0a1.6,1.6 0 1,0 -3.2,0M576.85,38.87a1.6,1.6 0 1,0 3.2,0a1.6,1.6 0 1,0 -3.2,0M577.34,43.9a1.6,1.6 0 1,0 3.2,0a1.6,1.6 0 1,0 -3.2,0M577.83,45.91a1.6,1.6 0 1,0 3.2,0a1.6,1.6 0 1,0 -3.2,0M578.32,45.24a1.6,1.6 0 1,0 3.2,0a1.6,1.6 0 1,0 -3.2,0M578.81,47.23a1.6,1.6 0 1,0 3.2,0a1.6,1.6 0 1,0 -3.2,0M579.3,49.6a1.6,1.6 0 1,0 3.2,0a1.6,1.6 0 1,0 -3.2,0M579.79,50.91a1.6,1.6 0 1,0 3.2,0a1.6,1.6 0 1,0 -3.2,0M580.28,53.68a1.6,1.6 0 1,0 3.2,0a1.6,1.6 0 1,0 -3.2,0M580.77,53.95a1.6,1.6 0 1,0 3.2,0a1.6,1.6 0 1,0 -3.2,0M581.26,55.45a1.6,1.6 0 1,0 3.2,0a1.6,1.6 0 1,0 -3.2,0M581.75,55.98a1.6,1.6 0 1,0 3.2,0a1.6,1.6 0 1,0 -3.2,0M582.24,56.25a1.6,1.6 0 1,0 3.2,0a1.6,1.6 0 1,0 -3.2,0M582.73,57.96a1.6,1.6 0 1,0 3.2,0a1.6,1.6 0 1,0 -3.2,0M583.22,58.75a1.6,1.6 0 1,0 3.2,0a1.6,1.6 0 1,0 -3.2,0M583.71,60.57a1.6,1.6 0 1,0 3.2,0a1.6,1.6 0 1,0 -3.2,0M584.2,61.34a1.6,1.6 0 1,0 3.2,0a1.6,1.6 0 1,0 -3.2,0M586.16,64.5a1.6,1.6 0 1,0 3.2,0a1.6,1.6 0 1,0 -3.2,0M588.12,68.19a1.6,1.6 0 1,0 3.2,0a1.6,1.6 0 1,0 -3.2,0M590.08,70.13a1.6,1.6 0 1,0 3.2,0a1.6,1.6 0 1,0 -3.2,0M592.04,74.39a1.6,1.6 0 1,0 3.2,0a1.6,1.6 0 1,0 -3.2,0M594,74.17a1.6,1.6 0 1,0 3.2,0a1.6,1.6 0 1,0 -3.2,0M595.96,77.72a1.6,1.6 0 1,0 3.2,0a1.6,1.6 0 1,0 -3.2,0M597.92,77.25a1.6,1.6 0 1,0 3.2,0a1.6,1.6 0 1,0 -3.2,0M599.88,79.68a1.6,1.6 0 1,0 3.2,0a1.6,1.6 0 1,0 -3.2,0M601.84,78.88a1.6,1.6 0 1,0 3.2,0a1.6,1.6 0 1,0 -3.2,0M603.8,81.04a1.6,1.6 0 1,0 3.2,0a1.6,1.6 0 1,0 -3.2,0M605.76,81.71a1.6,1.6 0 1,0 3.2,0a1.6,1.6 0 1,0 -3.2,0M607.72,82.09a1.6,1.6 0 1,0 3.2,0a1.6,1.6 0 1,0 -3.2,0M609.68,83.54a1.6,1.6 0 1,0 3.2,0a1.6,1.6 0 1,0 -3.2,0M611.64,84.17a1.6,1.6 0 1,0 3.2,0a1.6,1.6 0 1,0 -3.2,0M613.6,85.22a1.6,1.6 0 1,0 3.2,0a1.6,1.6 0 1,0 -3.2,0M615.56,83a1.6,1.6 0 1,0 3.2,0a1.6,1.6 0 1,0 -3.2,0M617.52,84.71a1.6,1.6 0 1,0 3.2,0a1.6,1.6 0 1,0 -3.2,0M619.48,84.86a1.6,1.6 0 1,0 3.2,0a1.6,1.6 0 1,0 -3.2,0M621.44,84.63a1.6,1.6 0 1,0 3.2,0a1.6,1.6 0 1,0 -3.2,0M623.4,83.26a1.6,1.6 0 1,0 3.2,0a1.6,1.6 0 1,0 -3.2,0M625.36,86.28a1.6,1.6 0 1,0 3.2,0a1.6,1.6 0 1,0 -3.2,0M627.32,84.92a1.6,1.6 0 1,0 3.2,0a1.6,1.6 0 1,0 -3.2,0M629.28,85.55a1.6,1.6 0 1,0 3.2,0a1.6,1.6 0 1,0 -3.2,0M631.24,84.97a1.6,1.6 0 1,0 3.2,0a1.6,1.6 0 1,0 -3.2,0M633.2,86.87a1.6,1.6 0 1,0 3.2,0a1.6,1.6 0 1,0 -3.2,0M635.16,85.91a1.6,1.6 0 1,0 3.2,0a1.6,1.6 0 1,0 -3.2,0M637.12,85.06a1.6,1.6 0 1,0 3.2,0a1.6,1.6 0 1,0 -3.2,0M639.08,84.61a1.6,1.6 0 1,0 3.2,0a1.6,1.6 0 1,0 -3.2,0M641.04,84.68a1.6,1.6 0 1,0 3.2,0a1.6,1.6 0 1,0 -3.2,0M643,86.65a1.6,1.6 0 1,0 3.2,0a1.6,1.6 0 1,0 -3.2,0M644.96,86.05a1.6,1.6 0 1,0 3.2,0a1.6,1.6 0 1,0 -3.2,0M646.92,86.27a1.6,1.6 0 1,0 3.2,0a1.6,1.6 0 1,0 -3.2,0M648.88,87.34a1.6,1.6 0 1,0 3.2,0a1.6,1.6 0 1,0 -3.2,0M650.84,87.47a1.6,1.6 0 1,0 3.2,0a1.6,1.6 0 1,0 -3.2,0M652.8,85.88a1.6,1.6 0 1,0 3.2,0a1.6,1.6 0 1,0 -3.2,0M654.76,86.35a1.6,1.6 0 1,0 3.2,0a1.6,1.6 0 1,0 -3.2,0M656.72,86.73a1.6,1.6 0 1,0 3.2,0a1.6,1.6 0 1,0 -3.2,0M658.68,85.76a1.6,1.6 0 1,0 3.2,0a1.6,1.6 0 1,0 -3.2,0M660.64,87.54a1.6,1.6 0 1,0 3.2,0a1.6,1.6 0 1,0 -3.2,0M662.6,86.43a1.6,1.6 0 1,0 3.2,0a1.6,1.6 0 1,0 -3.2,0M664.56,86.89a1.6,1.6 0 1,0 3.2,0a1.6,1.6 0 1,0 -3.2,0M666.52,87a1.6,1.6 0 1,0 3.2,0a1.6,1.6 0 1,0 -3.2,0M668.48,86.63a1.6,1.6 0 1,0 3.2,0a1.6,1.6 0 1,0 -3.2,0M670.44,86.92a1.6,1.6 0 1,0 3.2,0a1.6,1.6 0 1,0 -3.2,0M672.4,86.89a1.6,1.6 0 1,0 3.2,0a1.6,1.6 0 1,0 -3.2,0M674.36,86.93a1.6,1.6 0 1,0 3.2,0a1.6,1.6 0 1,0 -3.2,0M676.32,85.67a1.6,1.6 0 1,0 3.2,0a1.6,1.6 0 1,0 -3.2,0M678.28,87.41a1.6,1.6 0 1,0 3.2,0a1.6,1.6 0 1,0 -3.2,0M680.24,86.41a1.6,1.6 0 1,0 3.2,0a1.6,1.6 0 1,0 -3.2,0" fill="#fbd9bd" stroke="#f2a063" stroke-width="0.6" opacity="1.0"/>
<path d="M550.52,118.24l1.89,3.24h-3.78zM551.01,119.75l1.89,3.24h-3.78zM551.5,119.51l1.89,3.24h-3.78zM551.99,118.88l1.89,3.24h-3.78zM552.48,118.49l1.89,3.24h-3.78zM552.97,118.43l1.89,3.24h-3.78zM553.46,118.45l1.89,3.24h-3.78zM553.95,119.29l1.89,3.24h-3.78zM554.44,119.86l1.89,3.24h-3.78zM554.93,118.71l1.89,3.24h-3.78zM555.42,118.9l1.89,3.24h-3.78zM555.91,119.86l1.89,3.24h-3.78zM556.4,118.38l1.89,3.24h-3.78zM556.89,118.98l1.89,3.24h-3.78zM557.38,119.86l1.89,3.24h-3.78zM557.87,118.79l1.89,3.24h-3.78zM558.36,120.15l1.89,3.24h-3.78zM558.85,119.75l1.89,3.24h-3.78zM559.34,118.63l1.89,3.24h-3.78zM559.83,119.89l1.89,3.24h-3.78zM560.32,118.34l1.89,3.24h-3.78zM560.81,118.69l1.89,3.24h-3.78zM561.3,114.56l1.89,3.24h-3.78zM561.79,112.04l1.89,3.24h-3.78zM562.28,107.26l1.89,3.24h-3.78zM562.77,103.07l1.89,3.24h-3.78zM563.26,95.89l1.89,3.24h-3.78zM563.75,88.71l1.89,3.24h-3.78zM564.24,83.09l1.89,3.24h-3.78zM564.73,78.67l1.89,3.24h-3.78zM565.22,70.41l1.89,3.24h-3.78zM565.71,64.52l1.89,3.24h-3.78zM566.2,60.02l1.89,3.24h-3.78zM566.69,53.4l1.89,3.24h-3.78zM567.18,50.11l1.89,3.24h-3.78zM567.67,44.49l1.89,3.24h-3.78zM568.16,39.3l1.89,3.24h-3.78zM568.65,35.74l1.89,3.24h-3.78zM569.14,32.92l1.89,3.24h-3.78zM569.63,32.12l1.89,3.24h-3.78zM570.12,30.38l1.89,3.24h-3.78zM570.61,26.97l1.89,3.24h-3.78zM571.1,27.3l1.89,3.24h-3.78zM571.59,25.65l1.89,3.24h-3.78zM572.08,25.95l1.89,3.24h-3.78zM572.57,23.64l1.89,3.24h-3.78zM573.06,23.42l1.89,3.24h-3.78zM573.55,23.27l1.89,3.24h-3.78zM574.04,23.45l1.89,3.24h-3.78zM574.53,23.31l1.89,3.24h-3.78zM575.02,23.61l1.89,3.24h-3.78zM575.51,23.5l1.89,3.24h-3.78zM576,24.33l1.89,3.24h-3.78zM576.49,25.13l1.89,3.24h-3.78zM576.98,26.93l1.89,3.24h-3.78zM577.47,26.34l1.89,3.24h-3.78zM577.96,28.75l1.89,3.24h-3.78zM578.45,28.97l1.89,3.24h-3.78zM578.94,30.04l1.89,3.24h-3.78zM579.43,32.8l1.89,3.24h-3.78zM579.92,34.54l1.89,3.24h-3.78zM580.41,33.44l1.89,3.24h-3.78zM580.9,35.89l1.89,3.24h-3.78zM581.39,36.73l1.89,3.24h-3.78zM581.88,38.21l1.89,3.24h-3.78zM582.37,39.14l1.89,3.24h-3.78zM582.86,41.37l1.89,3.24h-3.78zM583.35,41.75l1.89,3.24h-3.78zM583.84,43.21l1.89,3.24h-3.78zM584.33,44.04l1.89,3.24h-3.78zM584.82,46.94l1.89,3.24h-3.78zM585.31,45.61l1.89,3.24h-3.78zM585.8,47.03l1.89,3.24h-3.78zM587.76,52.61l1.89,3.24h-3.78zM589.72,55.69l1.89,3.24h-3.78zM591.68,58.61l1.89,3.24h-3.78zM593.64,61.17l1.89,3.24h-3.78zM595.6,64.29l1.89,3.24h-3.78zM597.56,65.57l1.89,3.24h-3.78zM599.52,68.46l1.89,3.24h-3.78zM601.48,70.57l1.89,3.24h-3.78zM603.44,71.5l1.89,3.24h-3.78zM605.4,71.42l1.89,3.24h-3.78zM607.36,73.28l1.89,3.24h-3.78zM609.32,72.77l1.89,3.24h-3.78zM611.28,73.02l1.89,3.24h-3.78zM613.24,73.67l1.89,3.24h-3.78zM615.2,73.65l1.89,3.24h-3.78zM617.16,74.84l1.89,3.24h-3.78zM619.12,74.96l1.89,3.24h-3.78zM621.08,75.64l1.89,3.24h-3.78zM623.04,75.87l1.89,3.24h-3.78zM625,76.79l1.89,3.24h-3.78zM626.96,76.19l1.89,3.24h-3.78zM628.92,76.74l1.89,3.24h-3.78zM630.88,77.15l1.89,3.24h-3.78zM632.84,76.06l1.89,3.24h-3.78zM634.8,75.93l1.89,3.24h-3.78zM636.76,76.64l1.89,3.24h-3.78zM638.72,75.41l1.89,3.24h-3.78zM640.68,75.81l1.89,3.24h-3.78zM642.64,75.81l1.89,3.24h-3.78zM644.6,77.14l1.89,3.24h-3.78zM646.56,77.89l1.89,3.24h-3.78zM648.52,76.38l1.89,3.24h-3.78zM650.48,76.63l1.89,3.24h-3.78zM652.44,76.38l1.89,3.24h-3.78zM654.4,76.67l1.89,3.24h-3.78zM656.36,76.08l1.89,3.24h-3.78zM658.32,77.32l1.89,3.24h-3.78zM660.28,76.64l1.89,3.24h-3.78zM662.24,77.88l1.89,3.24h-3.78zM664.2,79.01l1.89,3.24h-3.78zM666.16,77.62l1.89,3.24h-3.78zM668.12,76.16l1.89,3.24h-3.78zM670.08,78.63l1.89,3.24h-3.78zM672.04,76.59l1.89,3.24h-3.78zM674,77.92l1.89,3.24h-3.78zM675.96,77.73l1.89,3.24h-3.78zM677.92,77.4l1.89,3.24h-3.78zM679.88,77.29l1.89,3.24h-3.78zM681.84,78.2l1.89,3.24h-3.78z" fill="#a8ecd6" stroke="#35cfa0" stroke-width="0.6" opacity="1.0"/>
<path d="M550.52,122.08l1.89,-3.24h-3.78zM551.01,121.81l1.89,-3.24h-3.78zM551.5,121.42l1.89,-3.24h-3.78zM551.99,124.3l1.89,-3.24h-3.78zM552.48,123.14l1.89,-3.24h-3.78zM552.97,124.69l1.89,-3.24h-3.78zM553.46,122.98l1.89,-3.24h-3.78zM553.95,122.84l1.89,-3.24h-3.78zM554.44,124.15l1.89,-3.24h-3.78zM554.93,124.49l1.89,-3.24h-3.78zM555.42,123.13l1.89,-3.24h-3.78zM555.91,122.79l1.89,-3.24h-3.78zM556.4,123.88l1.89,-3.24h-3.78zM556.89,123.47l1.89,-3.24h-3.78zM557.38,125.21l1.89,-3.24h-3.78zM557.87,123.81l1.89,-3.24h-3.78zM558.36,123.16l1.89,-3.24h-3.78zM558.85,123.11l1.89,-3.24h-3.78zM559.34,121.86l1.89,-3.24h-3.78zM559.83,123.72l1.89,-3.24h-3.78zM560.32,124.24l1.89,-3.24h-3.78zM560.81,121.44l1.89,-3.24h-3.78zM561.3,119.72l1.89,-3.24h-3.78zM561.79,115.4l1.89,-3.24h-3.78zM562.28,110.99l1.89,-3.24h-3.78zM562.77,105.59l1.89,-3.24h-3.78zM563.26,98.66l1.89,-3.24h-3.78zM563.75,92.54l1.89,-3.24h-3.78zM564.24,88.85l1.89,-3.24h-3.78zM564.73,81.45l1.89,-3.24h-3.78zM565.22,73.73l1.89,-3.24h-3.78zM565.71,69.66l1.89,-3.24h-3.78zM566.2,63.13l1.89,-3.24h-3.78zM566.69,58.67l1.89,-3.24h-3.78zM567.18,53.76l1.89,-3.24h-3.78zM567.67,47.36l1.89,-3.24h-3.78zM568.16,43.5l1.89,-3.24h-3.78zM568.65,41.07l1.89,-3.24h-3.78zM569.14,37.43l1.89,-3.24h-3.78zM569.63,36.65l1.89,-3.24h-3.78zM570.12,34.05l1.89,-3.24h-3.78zM570.61,31.02l1.89,-3.24h-3.78zM571.1,30.31l1.89,-3.24h-3.78zM571.59,30l1.89,-3.24h-3.78zM572.08,27.83l1.89,-3.24h-3.78zM572.57,27.31l1.89,-3.24h-3.78zM573.06,26.53l1.89,-3.24h-3.78zM573.55,27.12l1.89,-3.24h-3.78zM574.04,28.66l1.89,-3.24h-3.78zM574.53,29.63l1.89,-3.24h-3.78zM575.02,30.32l1.89,-3.24h-3.78zM575.51,31.41l1.89,-3.24h-3.78zM576,31.14l1.89,-3.24h-3.78zM576.49,32.22l1.89,-3.24h-3.78zM576.98,33.89l1.89,-3.24h-3.78zM577.47,36.37l1.89,-3.24h-3.78zM577.96,38.77l1.89,-3.24h-3.78zM578.45,39.96l1.89,-3.24h-3.78zM578.94,43.07l1.89,-3.24h-3.78zM579.43,44.79l1.89,-3.24h-3.78zM579.92,48.4l1.89,-3.24h-3.78zM580.41,49.5l1.89,-3.24h-3.78zM580.9,50l1.89,-3.24h-3.78zM581.39,53.61l1.89,-3.24h-3.78zM581.88,55.44l1.89,-3.24h-3.78zM582.37,55.72l1.89,-3.24h-3.78zM582.86,55.55l1.89,-3.24h-3.78zM583.35,56.9l1.89,-3.24h-3.78zM583.84,59.42l1.89,-3.24h-3.78zM584.33,60.58l1.89,-3.24h-3.78zM584.82,61.33l1.89,-3.24h-3.78zM585.31,62.95l1.89,-3.24h-3.78zM585.8,63.15l1.89,-3.24h-3.78zM587.76,66.83l1.89,-3.24h-3.78zM589.72,70.86l1.89,-3.24h-3.78zM591.68,73l1.89,-3.24h-3.78zM593.64,75.12l1.89,-3.24h-3.78zM595.6,77.38l1.89,-3.24h-3.78zM597.56,78.94l1.89,-3.24h-3.78zM599.52,78.49l1.89,-3.24h-3.78zM601.48,78.71l1.89,-3.24h-3.78zM603.44,81.32l1.89,-3.24h-3.78zM605.4,82.29l1.89,-3.24h-3.78zM607.36,82.32l1.89,-3.24h-3.78zM609.32,83.47l1.89,-3.24h-3.78zM611.28,84.3l1.89,-3.24h-3.78zM613.24,82.99l1.89,-3.24h-3.78zM615.2,85.19l1.89,-3.24h-3.78zM617.16,85.27l1.89,-3.24h-3.78zM619.12,85.52l1.89,-3.24h-3.78zM621.08,85.96l1.89,-3.24h-3.78zM623.04,85.71l1.89,-3.24h-3.78zM625,85.32l1.89,-3.24h-3.78zM626.96,84.87l1.89,-3.24h-3.78zM628.92,85.66l1.89,-3.24h-3.78zM630.88,86.31l1.89,-3.24h-3.78zM632.84,87.45l1.89,-3.24h-3.78zM634.8,86.67l1.89,-3.24h-3.78zM636.76,87.45l1.89,-3.24h-3.78zM638.72,86.9l1.89,-3.24h-3.78zM640.68,86.15l1.89,-3.24h-3.78zM642.64,86.82l1.89,-3.24h-3.78zM644.6,87.21l1.89,-3.24h-3.78zM646.56,87.69l1.89,-3.24h-3.78zM648.52,87.2l1.89,-3.24h-3.78zM650.48,87.16l1.89,-3.24h-3.78zM652.44,88.02l1.89,-3.24h-3.78zM654.4,87.75l1.89,-3.24h-3.78zM656.36,86.74l1.89,-3.24h-3.78zM658.32,88.74l1.89,-3.24h-3.78zM660.28,87.86l1.89,-3.24h-3.78zM662.24,88.46l1.89,-3.24h-3.78zM664.2,86.42l1.89,-3.24h-3.78zM666.16,87.18l1.89,-3.24h-3.78zM668.12,87.29l1.89,-3.24h-3.78zM670.08,87.41l1.89,-3.24h-3.78zM672.04,87.52l1.89,-3.24h-3.78zM674,87.54l1.89,-3.24h-3.78zM675.96,89l1.89,-3.24h-3.78zM677.92,87.61l1.89,-3.24h-3.78zM679.88,87.36l1.89,-3.24h-3.78zM681.84,88.92l1.89,-3.24h-3.78z" fill="#fbc4c4" stroke="#f06a6a" stroke-width="0.6" opacity="1.0"/>
<path d="M550.52,119.19l2.25,2.25l-2.25,2.25l-2.25,-2.25zM551.01,119.35l2.25,2.25l-2.25,2.25l-2.25,-2.25zM551.5,118.65l2.25,2.25l-2.25,2.25l-2.25,-2.25zM551.99,119.93l2.25,2.25l-2.25,2.25l-2.25,-2.25zM552.48,119.12l2.25,2.25l-2.25,2.25l-2.25,-2.25zM552.97,118.78l2.25,2.25l-2.25,2.25l-2.25,-2.25zM553.46,118.39l2.25,2.25l-2.25,2.25l-2.25,-2.25zM553.95,118.91l2.25,2.25l-2.25,2.25l-2.25,-2.25zM554.44,119.14l2.25,2.25l-2.25,2.25l-2.25,-2.25zM554.93,118.42l2.25,2.25l-2.25,2.25l-2.25,-2.25zM555.42,120.48l2.25,2.25l-2.25,2.25l-2.25,-2.25zM555.91,118.23l2.25,2.25l-2.25,2.25l-2.25,-2.25zM556.4,119.19l2.25,2.25l-2.25,2.25l-2.25,-2.25zM556.89,119.91l2.25,2.25l-2.25,2.25l-2.25,-2.25zM557.38,119.28l2.25,2.25l-2.25,2.25l-2.25,-2.25zM557.87,120.36l2.25,2.25l-2.25,2.25l-2.25,-2.25zM558.36,120.52l2.25,2.25l-2.25,2.25l-2.25,-2.25zM558.85,119.15l2.25,2.25l-2.25,2.25l-2.25,-2.25zM559.34,119.35l2.25,2.25l-2.25,2.25l-2.25,-2.25zM559.83,117.96l2.25,2.25l-2.25,2.25l-2.25,-2.25zM560.32,118.87l2.25,2.25l-2.25,2.25l-2.25,-2.25zM560.81,118.46l2.25,2.25l-2.25,2.25l-2.25,-2.25zM561.3,115.68l2.25,2.25l-2.25,2.25l-2.25,-2.25zM561.79,109.98l2.25,2.25l-2.25,2.25l-2.25,-2.25zM562.28,107.2l2.25,2.25l-2.25,2.25l-2.25,-2.25zM562.77,102.2l2.25,2.25l-2.25,2.25l-2.25,-2.25zM563.26,96.2l2.25,2.25l-2.25,2.25l-2.25,-2.25zM563.75,90.09l2.25,2.25l-2.25,2.25l-2.25,-2.25zM564.24,83.38l2.25,2.25l-2.25,2.25l-2.25,-2.25zM564.73,76.76l2.25,2.25l-2.25,2.25l-2.25,-2.25zM565.22,70.06l2.25,2.25l-2.25,2.25l-2.25,-2.25zM565.71,64.15l2.25,2.25l-2.25,2.25l-2.25,-2.25zM566.2,59.35l2.25,2.25l-2.25,2.25l-2.25,-2.25zM566.69,54.81l2.25,2.25l-2.25,2.25l-2.25,-2.25zM567.18,49.78l2.25,2.25l-2.25,2.25l-2.25,-2.25zM567.67,46.02l2.25,2.25l-2.25,2.25l-2.25,-2.25zM568.16,40.75l2.25,2.25l-2.25,2.25l-2.25,-2.25zM568.65,36.24l2.25,2.25l-2.25,2.25l-2.25,-2.25zM569.14,34.03l2.25,2.25l-2.25,2.25l-2.25,-2.25zM569.63,30.96l2.25,2.25l-2.25,2.25l-2.25,-2.25zM570.12,30.08l2.25,2.25l-2.25,2.25l-2.25,-2.25zM570.61,26.59l2.25,2.25l-2.25,2.25l-2.25,-2.25zM571.1,25.8l2.25,2.25l-2.25,2.25l-2.25,-2.25zM571.59,25.04l2.25,2.25l-2.25,2.25l-2.25,-2.25zM572.08,23.92l2.25,2.25l-2.25,2.25l-2.25,-2.25zM572.57,25.29l2.25,2.25l-2.25,2.25l-2.25,-2.25zM573.06,23.63l2.25,2.25l-2.25,2.25l-2.25,-2.25zM573.55,23.9l2.25,2.25l-2.25,2.25l-2.25,-2.25zM574.04,22.3l2.25,2.25l-2.25,2.25l-2.25,-2.25zM574.53,24.67l2.25,2.25l-2.25,2.25l-2.25,-2.25zM575.02,25.98l2.25,2.25l-2.25,2.25l-2.25,-2.25zM575.51,26.12l2.25,2.25l-2.25,2.25l-2.25,-2.25zM576,28.75l2.25,2.25l-2.25,2.25l-2.25,-2.25zM576.49,28.11l2.25,2.25l-2.25,2.25l-2.25,-2.25zM576.98,31.24l2.25,2.25l-2.25,2.25l-2.25,-2.25zM577.47,32.45l2.25,2.25l-2.25,2.25l-2.25,-2.25zM577.96,34.96l2.25,2.25l-2.25,2.25l-2.25,-2.25zM578.45,35.61l2.25,2.25l-2.25,2.25l-2.25,-2.25zM578.94,39.91l2.25,2.25l-2.25,2.25l-2.25,-2.25zM579.43,39.76l2.25,2.25l-2.25,2.25l-2.25,-2.25zM579.92,42.91l2.25,2.25l-2.25,2.25l-2.25,-2.25zM580.41,44.17l2.25,2.25l-2.25,2.25l-2.25,-2.25zM580.9,46.88l2.25,2.25l-2.25,2.25l-2.25,-2.25zM581.39,47.44l2.25,2.25l-2.25,2.25l-2.25,-2.25zM581.88,48.87l2.25,2.25l-2.25,2.25l-2.25,-2.25zM582.37,49.8l2.25,2.25l-2.25,2.25l-2.25,-2.25zM582.86,51.19l2.25,2.25l-2.25,2.25l-2.25,-2.25zM583.35,52.07l2.25,2.25l-2.25,2.25l-2.25,-2.25zM583.84,52.86l2.25,2.25l-2.25,2.25l-2.25,-2.25zM584.33,54.94l2.25,2.25l-2.25,2.25l-2.25,-2.25zM584.82,56.52l2.25,2.25l-2.25,2.25l-2.25,-2.25zM585.31,57.54l2.25,2.25l-2.25,2.25l-2.25,-2.25zM585.8,56.95l2.25,2.25l-2.25,2.25l-2.25,-2.25zM587.76,61.15l2.25,2.25l-2.25,2.25l-2.25,-2.25zM589.72,63.29l2.25,2.25l-2.25,2.25l-2.25,-2.25zM591.68,67.04l2.25,2.25l-2.25,2.25l-2.25,-2.25zM593.64,70.37l2.25,2.25l-2.25,2.25l-2.25,-2.25zM595.6,70.76l2.25,2.25l-2.25,2.25l-2.25,-2.25zM597.56,71.33l2.25,2.25l-2.25,2.25l-2.25,-2.25zM599.52,74.05l2.25,2.25l-2.25,2.25l-2.25,-2.25zM601.48,75.6l2.25,2.25l-2.25,2.25l-2.25,-2.25zM603.44,76.48l2.25,2.25l-2.25,2.25l-2.25,-2.25zM605.4,76.03l2.25,2.25l-2.25,2.25l-2.25,-2.25zM607.36,77.91l2.25,2.25l-2.25,2.25l-2.25,-2.25zM609.32,78.34l2.25,2.25l-2.25,2.25l-2.25,-2.25zM611.28,77.88l2.25,2.25l-2.25,2.25l-2.25,-2.25zM613.24,78.71l2.25,2.25l-2.25,2.25l-2.25,-2.25zM615.2,78.94l2.25,2.25l-2.25,2.25l-2.25,-2.25zM617.16,79.72l2.25,2.25l-2.25,2.25l-2.25,-2.25zM619.12,80.06l2.25,2.25l-2.25,2.25l-2.25,-2.25zM621.08,79.68l2.25,2.25l-2.25,2.25l-2.25,-2.25zM623.04,79.91l2.25,2.25l-2.25,2.25l-2.25,-2.25zM625,79.78l2.25,2.25l-2.25,2.25l-2.25,-2.25zM626.96,80.8l2.25,2.25l-2.25,2.25l-2.25,-2.25zM628.92,80.31l2.25,2.25l-2.25,2.25l-2.25,-2.25zM630.88,80.36l2.25,2.25l-2.25,2.25l-2.25,-2.25zM632.84,80.78l2.25,2.25l-2.25,2.25l-2.25,-2.25zM634.8,80.51l2.25,2.25l-2.25,2.25l-2.25,-2.25zM636.76,80.25l2.25,2.25l-2.25,2.25l-2.25,-2.25zM638.72,80.93l2.25,2.25l-2.25,2.25l-2.25,-2.25zM640.68,81.07l2.25,2.25l-2.25,2.25l-2.25,-2.25zM642.64,81.91l2.25,2.25l-2.25,2.25l-2.25,-2.25zM644.6,80.95l2.25,2.25l-2.25,2.25l-2.25,-2.25zM646.56,81.31l2.25,2.25l-2.25,2.25l-2.25,-2.25zM648.52,81.51l2.25,2.25l-2.25,2.25l-2.25,-2.25zM650.48,81.94l2.25,2.25l-2.25,2.25l-2.25,-2.25zM652.44,80.9l2.25,2.25l-2.25,2.25l-2.25,-2.25zM654.4,79.41l2.25,2.25l-2.25,2.25l-2.25,-2.25zM656.36,81.06l2.25,2.25l-2.25,2.25l-2.25,-2.25zM658.32,81.36l2.25,2.25l-2.25,2.25l-2.25,-2.25zM660.28,81.11l2.25,2.25l-2.25,2.25l-2.25,-2.25zM662.24,81.92l2.25,2.25l-2.25,2.25l-2.25,-2.25zM664.2,81.42l2.25,2.25l-2.25,2.25l-2.25,-2.25zM666.16,82.01l2.25,2.25l-2.25,2.25l-2.25,-2.25zM668.12,82.02l2.25,2.25l-2.25,2.25l-2.25,-2.25zM670.08,81.36l2.25,2.25l-2.25,2.25l-2.25,-2.25zM672.04,81.38l2.25,2.25l-2.25,2.25l-2.25,-2.25zM674,81.65l2.25,2.25l-2.25,2.25l-2.25,-2.25zM675.96,82.18l2.25,2.25l-2.25,2.25l-2.25,-2.25zM677.92,81.38l2.25,2.25l-2.25,2.25l-2.25,-2.25zM679.88,82.42l2.25,2.25l-2.25,2.25l-2.25,-2.25zM681.84,81l2.25,2.25l-2.25,2.25l-2.25,-2.25z" fill="#b99af0" stroke="#a27ddd" stroke-width="0.6" opacity="1.0"/>
<text x="682" y="17.55" font-size="8.8" text-anchor="end" fill="#2a2a2a">Temperature (K)</text>
<path d="M650.4,23.7h3.4v3.4h-3.4z" fill="#bfe3f6" stroke="#4aaee0" stroke-width="0.6" opacity="1.0"/>
<text x="659.6" y="28.62" font-size="9.0" text-anchor="start" fill="#2a2a2a">5</text>
<path d="M650.4,36.35a1.7,1.7 0 1,0 3.4,0a1.7,1.7 0 1,0 -3.4,0" fill="#fbd9bd" stroke="#f2a063" stroke-width="0.6" opacity="1.0"/>
<text x="659.6" y="39.57" font-size="9.0" text-anchor="start" fill="#2a2a2a">25</text>
<path d="M652.1,45.11l1.99,3.42h-3.99z" fill="#a8ecd6" stroke="#35cfa0" stroke-width="0.6" opacity="1.0"/>
<text x="659.6" y="50.52" font-size="9.0" text-anchor="start" fill="#2a2a2a">50</text>
<path d="M652.1,60.43l1.99,-3.42h-3.99z" fill="#fbc4c4" stroke="#f06a6a" stroke-width="0.6" opacity="1.0"/>
<text x="659.6" y="61.47" font-size="9.0" text-anchor="start" fill="#2a2a2a">75</text>
<path d="M652.1,66.82l2.38,2.38l-2.38,2.38l-2.38,-2.38z" fill="#b99af0" stroke="#a27ddd" stroke-width="0.6" opacity="1.0"/>
<text x="659.6" y="72.42" font-size="9.0" text-anchor="start" fill="#2a2a2a">100</text>
<text x="574.2" y="98.86" font-size="9.1" text-anchor="start" fill="#2a2a2a">Inherent fast</text>
<text x="600.2" y="108.99" font-size="9.2" text-anchor="start" fill="#2a2a2a">+ controllable slow</text>
<path d="M549.24,257.42h3.3v3.3h-3.3zM549.85,256.72h3.3v3.3h-3.3zM550.46,256.3h3.3v3.3h-3.3zM551.07,257.28h3.3v3.3h-3.3zM551.69,258.16h3.3v3.3h-3.3zM552.3,256.6h3.3v3.3h-3.3zM552.91,256.58h3.3v3.3h-3.3zM553.52,256.26h3.3v3.3h-3.3zM554.14,256.49h3.3v3.3h-3.3zM554.75,256.46h3.3v3.3h-3.3zM555.36,256.39h3.3v3.3h-3.3zM555.98,255.63h3.3v3.3h-3.3zM556.59,256.23h3.3v3.3h-3.3zM557.2,256.19h3.3v3.3h-3.3zM557.81,256.73h3.3v3.3h-3.3zM558.42,255.47h3.3v3.3h-3.3zM559.04,255.93h3.3v3.3h-3.3zM559.65,254.73h3.3v3.3h-3.3zM560.26,255.75h3.3v3.3h-3.3zM560.88,249.24h3.3v3.3h-3.3zM561.49,241.16h3.3v3.3h-3.3zM562.1,232.91h3.3v3.3h-3.3zM562.71,223.66h3.3v3.3h-3.3zM563.33,215.52h3.3v3.3h-3.3zM563.94,207.18h3.3v3.3h-3.3zM564.55,199.42h3.3v3.3h-3.3zM565.16,190.1h3.3v3.3h-3.3zM565.77,183.22h3.3v3.3h-3.3zM566.39,176.61h3.3v3.3h-3.3zM567,172.76h3.3v3.3h-3.3zM567.61,167.84h3.3v3.3h-3.3zM568.23,165.11h3.3v3.3h-3.3zM568.84,163.06h3.3v3.3h-3.3zM569.45,161.27h3.3v3.3h-3.3zM570.06,161.86h3.3v3.3h-3.3zM570.67,160.88h3.3v3.3h-3.3zM571.29,163.23h3.3v3.3h-3.3zM571.9,163.61h3.3v3.3h-3.3zM572.51,166.44h3.3v3.3h-3.3zM573.12,168.68h3.3v3.3h-3.3zM573.74,170.11h3.3v3.3h-3.3zM574.35,172.1h3.3v3.3h-3.3zM574.96,174.83h3.3v3.3h-3.3zM575.58,176.09h3.3v3.3h-3.3zM576.19,177.69h3.3v3.3h-3.3zM576.8,180.34h3.3v3.3h-3.3zM577.41,183.12h3.3v3.3h-3.3zM578.02,184.34h3.3v3.3h-3.3zM578.64,186.62h3.3v3.3h-3.3zM579.25,187.96h3.3v3.3h-3.3zM579.86,188.98h3.3v3.3h-3.3zM580.48,190.4h3.3v3.3h-3.3zM581.09,191.79h3.3v3.3h-3.3zM581.7,193.97h3.3v3.3h-3.3zM582.31,193.79h3.3v3.3h-3.3zM582.92,195.25h3.3v3.3h-3.3zM583.54,196.43h3.3v3.3h-3.3zM584.15,197.05h3.3v3.3h-3.3zM586.85,199.96h3.3v3.3h-3.3zM589.54,205.61h3.3v3.3h-3.3zM592.24,208.43h3.3v3.3h-3.3zM594.93,208.8h3.3v3.3h-3.3zM597.62,211.42h3.3v3.3h-3.3zM600.32,211.38h3.3v3.3h-3.3zM603.01,214.18h3.3v3.3h-3.3zM605.71,215.02h3.3v3.3h-3.3zM608.4,215.18h3.3v3.3h-3.3zM611.1,216.01h3.3v3.3h-3.3zM613.79,217.03h3.3v3.3h-3.3zM616.49,217.63h3.3v3.3h-3.3zM619.19,218.58h3.3v3.3h-3.3zM621.88,219.3h3.3v3.3h-3.3zM624.58,219.61h3.3v3.3h-3.3zM627.27,219.06h3.3v3.3h-3.3zM629.97,219.81h3.3v3.3h-3.3zM632.66,220.6h3.3v3.3h-3.3zM635.36,220.67h3.3v3.3h-3.3zM638.05,220.55h3.3v3.3h-3.3zM640.75,220.51h3.3v3.3h-3.3zM643.44,221.57h3.3v3.3h-3.3zM646.13,221.71h3.3v3.3h-3.3zM648.83,221.61h3.3v3.3h-3.3zM651.53,220.26h3.3v3.3h-3.3zM654.22,221.99h3.3v3.3h-3.3zM656.92,221.45h3.3v3.3h-3.3zM659.61,223.46h3.3v3.3h-3.3zM662.31,221.99h3.3v3.3h-3.3zM665,223.61h3.3v3.3h-3.3zM667.7,223.49h3.3v3.3h-3.3zM670.39,223.27h3.3v3.3h-3.3zM673.09,223.01h3.3v3.3h-3.3zM675.78,222.85h3.3v3.3h-3.3zM678.48,222.76h3.3v3.3h-3.3z" fill="#bfe3f6" stroke="#3fa7e0" stroke-width="0.6" opacity="1.0"/>
<path d="M549.24,256.11h3.3v3.3h-3.3zM549.85,255.2h3.3v3.3h-3.3zM550.46,255.91h3.3v3.3h-3.3zM551.07,256.16h3.3v3.3h-3.3zM551.69,256.34h3.3v3.3h-3.3zM552.3,255.31h3.3v3.3h-3.3zM552.91,257.27h3.3v3.3h-3.3zM553.52,257.19h3.3v3.3h-3.3zM554.14,256.45h3.3v3.3h-3.3zM554.75,257.91h3.3v3.3h-3.3zM555.36,257.07h3.3v3.3h-3.3zM555.98,255.8h3.3v3.3h-3.3zM556.59,256.86h3.3v3.3h-3.3zM557.2,256.44h3.3v3.3h-3.3zM557.81,256.01h3.3v3.3h-3.3zM558.42,256.99h3.3v3.3h-3.3zM559.04,255.62h3.3v3.3h-3.3zM559.65,255.64h3.3v3.3h-3.3zM560.26,255.06h3.3v3.3h-3.3zM560.88,249.59h3.3v3.3h-3.3zM561.49,241.14h3.3v3.3h-3.3zM562.1,232.87h3.3v3.3h-3.3zM562.71,224.96h3.3v3.3h-3.3zM563.33,215.16h3.3v3.3h-3.3zM563.94,206.32h3.3v3.3h-3.3zM564.55,198.7h3.3v3.3h-3.3zM565.16,191.33h3.3v3.3h-3.3zM565.77,184.18h3.3v3.3h-3.3zM566.39,177.33h3.3v3.3h-3.3zM567,172.98h3.3v3.3h-3.3zM567.61,169.11h3.3v3.3h-3.3zM568.23,165.91h3.3v3.3h-3.3zM568.84,163.57h3.3v3.3h-3.3zM569.45,162.37h3.3v3.3h-3.3zM570.06,161.43h3.3v3.3h-3.3zM570.67,160.63h3.3v3.3h-3.3zM571.29,161.04h3.3v3.3h-3.3zM571.9,161.72h3.3v3.3h-3.3zM572.51,162.59h3.3v3.3h-3.3zM573.12,165.77h3.3v3.3h-3.3zM573.74,165.8h3.3v3.3h-3.3zM574.35,170.41h3.3v3.3h-3.3zM574.96,171.82h3.3v3.3h-3.3zM575.58,173.25h3.3v3.3h-3.3zM576.19,174.61h3.3v3.3h-3.3zM576.8,175.83h3.3v3.3h-3.3zM577.41,176.06h3.3v3.3h-3.3zM578.02,179.65h3.3v3.3h-3.3zM578.64,180.16h3.3v3.3h-3.3zM579.25,182.76h3.3v3.3h-3.3zM579.86,183.94h3.3v3.3h-3.3zM580.48,186.19h3.3v3.3h-3.3zM581.09,185.47h3.3v3.3h-3.3zM581.7,188.42h3.3v3.3h-3.3zM582.31,190.17h3.3v3.3h-3.3zM582.92,189.54h3.3v3.3h-3.3zM583.54,192.12h3.3v3.3h-3.3zM584.15,193.05h3.3v3.3h-3.3zM586.85,197.53h3.3v3.3h-3.3zM589.54,201.38h3.3v3.3h-3.3zM592.24,204.56h3.3v3.3h-3.3zM594.93,206.1h3.3v3.3h-3.3zM597.62,206.86h3.3v3.3h-3.3zM600.32,209.15h3.3v3.3h-3.3zM603.01,210.85h3.3v3.3h-3.3zM605.71,211.19h3.3v3.3h-3.3zM608.4,213.53h3.3v3.3h-3.3zM611.1,212.85h3.3v3.3h-3.3zM613.79,214.47h3.3v3.3h-3.3zM616.49,215.61h3.3v3.3h-3.3zM619.19,215.18h3.3v3.3h-3.3zM621.88,215.82h3.3v3.3h-3.3zM624.58,216.88h3.3v3.3h-3.3zM627.27,216.95h3.3v3.3h-3.3zM629.97,216.82h3.3v3.3h-3.3zM632.66,216.86h3.3v3.3h-3.3zM635.36,218.61h3.3v3.3h-3.3zM638.05,219.98h3.3v3.3h-3.3zM640.75,217.01h3.3v3.3h-3.3zM643.44,218.69h3.3v3.3h-3.3zM646.13,218.92h3.3v3.3h-3.3zM648.83,218.48h3.3v3.3h-3.3zM651.53,219.17h3.3v3.3h-3.3zM654.22,218.3h3.3v3.3h-3.3zM656.92,219.92h3.3v3.3h-3.3zM659.61,219.32h3.3v3.3h-3.3zM662.31,220.1h3.3v3.3h-3.3zM665,218.33h3.3v3.3h-3.3zM667.7,219.57h3.3v3.3h-3.3zM670.39,218.73h3.3v3.3h-3.3zM673.09,218.58h3.3v3.3h-3.3zM675.78,220.33h3.3v3.3h-3.3zM678.48,219.71h3.3v3.3h-3.3z" fill="#fbdcb6" stroke="#f0a65a" stroke-width="0.6" opacity="1.0"/>
<path d="M549.24,255.94h3.3v3.3h-3.3zM549.85,256.94h3.3v3.3h-3.3zM550.46,256.64h3.3v3.3h-3.3zM551.07,256.12h3.3v3.3h-3.3zM551.69,256.41h3.3v3.3h-3.3zM552.3,256.46h3.3v3.3h-3.3zM552.91,257.29h3.3v3.3h-3.3zM553.52,255.38h3.3v3.3h-3.3zM554.14,256.7h3.3v3.3h-3.3zM554.75,256.37h3.3v3.3h-3.3zM555.36,256.57h3.3v3.3h-3.3zM555.98,256.51h3.3v3.3h-3.3zM556.59,256.45h3.3v3.3h-3.3zM557.2,257.11h3.3v3.3h-3.3zM557.81,256.22h3.3v3.3h-3.3zM558.42,255.42h3.3v3.3h-3.3zM559.04,255.54h3.3v3.3h-3.3zM559.65,254.74h3.3v3.3h-3.3zM560.26,254.01h3.3v3.3h-3.3zM560.88,249.38h3.3v3.3h-3.3zM561.49,239.89h3.3v3.3h-3.3zM562.1,233.05h3.3v3.3h-3.3zM562.71,224.26h3.3v3.3h-3.3zM563.33,215.11h3.3v3.3h-3.3zM563.94,206.89h3.3v3.3h-3.3zM564.55,199.77h3.3v3.3h-3.3zM565.16,191.98h3.3v3.3h-3.3zM565.77,182.41h3.3v3.3h-3.3zM566.39,177.38h3.3v3.3h-3.3zM567,172.24h3.3v3.3h-3.3zM567.61,168.95h3.3v3.3h-3.3zM568.23,166.53h3.3v3.3h-3.3zM568.84,165.33h3.3v3.3h-3.3zM569.45,163.3h3.3v3.3h-3.3zM570.06,160.36h3.3v3.3h-3.3zM570.67,159.5h3.3v3.3h-3.3zM571.29,158.34h3.3v3.3h-3.3zM571.9,157.82h3.3v3.3h-3.3zM572.51,158.2h3.3v3.3h-3.3zM573.12,160.33h3.3v3.3h-3.3zM573.74,162.2h3.3v3.3h-3.3zM574.35,162.37h3.3v3.3h-3.3zM574.96,165.4h3.3v3.3h-3.3zM575.58,167.59h3.3v3.3h-3.3zM576.19,169.71h3.3v3.3h-3.3zM576.8,169.6h3.3v3.3h-3.3zM577.41,172.4h3.3v3.3h-3.3zM578.02,173.87h3.3v3.3h-3.3zM578.64,174.36h3.3v3.3h-3.3zM579.25,176.15h3.3v3.3h-3.3zM579.86,177.51h3.3v3.3h-3.3zM580.48,180.19h3.3v3.3h-3.3zM581.09,182.65h3.3v3.3h-3.3zM581.7,182.76h3.3v3.3h-3.3zM582.31,183.63h3.3v3.3h-3.3zM582.92,185.17h3.3v3.3h-3.3zM583.54,185.39h3.3v3.3h-3.3zM584.15,186.96h3.3v3.3h-3.3zM586.85,192.78h3.3v3.3h-3.3zM589.54,196.09h3.3v3.3h-3.3zM592.24,200.01h3.3v3.3h-3.3zM594.93,203.06h3.3v3.3h-3.3zM597.62,204.24h3.3v3.3h-3.3zM600.32,207.7h3.3v3.3h-3.3zM603.01,207.24h3.3v3.3h-3.3zM605.71,208.36h3.3v3.3h-3.3zM608.4,211.44h3.3v3.3h-3.3zM611.1,211.03h3.3v3.3h-3.3zM613.79,211.69h3.3v3.3h-3.3zM616.49,212.94h3.3v3.3h-3.3zM619.19,213.14h3.3v3.3h-3.3zM621.88,213.83h3.3v3.3h-3.3zM624.58,213.74h3.3v3.3h-3.3zM627.27,214.59h3.3v3.3h-3.3zM629.97,216.03h3.3v3.3h-3.3zM632.66,214.12h3.3v3.3h-3.3zM635.36,214.57h3.3v3.3h-3.3zM638.05,215.91h3.3v3.3h-3.3zM640.75,214.92h3.3v3.3h-3.3zM643.44,214.29h3.3v3.3h-3.3zM646.13,216.81h3.3v3.3h-3.3zM648.83,216.17h3.3v3.3h-3.3zM651.53,216.36h3.3v3.3h-3.3zM654.22,215.75h3.3v3.3h-3.3zM656.92,216.42h3.3v3.3h-3.3zM659.61,217.25h3.3v3.3h-3.3zM662.31,215.55h3.3v3.3h-3.3zM665,216.68h3.3v3.3h-3.3zM667.7,216.05h3.3v3.3h-3.3zM670.39,215.06h3.3v3.3h-3.3zM673.09,217.13h3.3v3.3h-3.3zM675.78,216.94h3.3v3.3h-3.3zM678.48,216.08h3.3v3.3h-3.3z" fill="#bdf0cf" stroke="#45cc7a" stroke-width="0.6" opacity="1.0"/>
<path d="M549.24,255.21h3.3v3.3h-3.3zM549.85,255.82h3.3v3.3h-3.3zM550.46,256.28h3.3v3.3h-3.3zM551.07,255.73h3.3v3.3h-3.3zM551.69,259.98h3.3v3.3h-3.3zM552.3,257.12h3.3v3.3h-3.3zM552.91,254.98h3.3v3.3h-3.3zM553.52,259.08h3.3v3.3h-3.3zM554.14,256.46h3.3v3.3h-3.3zM554.75,256.75h3.3v3.3h-3.3zM555.36,257.63h3.3v3.3h-3.3zM555.98,251.29h3.3v3.3h-3.3zM556.59,255.04h3.3v3.3h-3.3zM557.2,255.85h3.3v3.3h-3.3zM557.81,258.12h3.3v3.3h-3.3zM558.42,256.04h3.3v3.3h-3.3zM559.04,256.43h3.3v3.3h-3.3zM559.65,255.41h3.3v3.3h-3.3zM560.26,253.87h3.3v3.3h-3.3zM560.88,244.13h3.3v3.3h-3.3zM561.49,238.28h3.3v3.3h-3.3zM562.1,229h3.3v3.3h-3.3zM562.71,221.62h3.3v3.3h-3.3zM563.33,209.84h3.3v3.3h-3.3zM563.94,208.48h3.3v3.3h-3.3zM564.55,201.78h3.3v3.3h-3.3zM565.16,190.55h3.3v3.3h-3.3zM565.77,182.2h3.3v3.3h-3.3zM566.39,175.88h3.3v3.3h-3.3zM567,173.56h3.3v3.3h-3.3zM567.61,169.26h3.3v3.3h-3.3zM568.23,165.72h3.3v3.3h-3.3zM568.84,167.74h3.3v3.3h-3.3zM569.45,167.73h3.3v3.3h-3.3zM570.06,163.99h3.3v3.3h-3.3zM570.67,166.61h3.3v3.3h-3.3zM571.29,166.39h3.3v3.3h-3.3zM571.9,164.86h3.3v3.3h-3.3zM572.51,170.48h3.3v3.3h-3.3zM573.12,162.06h3.3v3.3h-3.3zM573.74,166.8h3.3v3.3h-3.3zM574.35,166.17h3.3v3.3h-3.3zM574.96,167.36h3.3v3.3h-3.3zM575.58,167.96h3.3v3.3h-3.3zM576.19,172.42h3.3v3.3h-3.3zM576.8,166.59h3.3v3.3h-3.3zM577.41,169.82h3.3v3.3h-3.3zM578.02,171.17h3.3v3.3h-3.3zM578.64,165.97h3.3v3.3h-3.3zM579.25,176.13h3.3v3.3h-3.3zM579.86,172.74h3.3v3.3h-3.3zM580.48,175.34h3.3v3.3h-3.3zM581.09,179.1h3.3v3.3h-3.3zM581.7,172.6h3.3v3.3h-3.3zM582.31,180.66h3.3v3.3h-3.3zM582.92,177.69h3.3v3.3h-3.3zM583.54,178.68h3.3v3.3h-3.3zM584.15,178.55h3.3v3.3h-3.3zM586.85,182.64h3.3v3.3h-3.3zM589.54,180.36h3.3v3.3h-3.3zM592.24,186.77h3.3v3.3h-3.3zM594.93,193.09h3.3v3.3h-3.3zM597.62,195.08h3.3v3.3h-3.3zM600.32,193.62h3.3v3.3h-3.3zM603.01,198.14h3.3v3.3h-3.3zM605.71,196.07h3.3v3.3h-3.3zM608.4,197.33h3.3v3.3h-3.3zM611.1,200.06h3.3v3.3h-3.3zM613.79,203.58h3.3v3.3h-3.3zM616.49,202.84h3.3v3.3h-3.3zM619.19,199.88h3.3v3.3h-3.3zM621.88,202.26h3.3v3.3h-3.3zM624.58,197.8h3.3v3.3h-3.3zM627.27,203.18h3.3v3.3h-3.3zM629.97,201.96h3.3v3.3h-3.3zM632.66,201.78h3.3v3.3h-3.3zM635.36,203.39h3.3v3.3h-3.3zM638.05,203.19h3.3v3.3h-3.3zM640.75,201.92h3.3v3.3h-3.3zM643.44,204.55h3.3v3.3h-3.3zM646.13,203.71h3.3v3.3h-3.3zM648.83,205.36h3.3v3.3h-3.3zM651.53,200.54h3.3v3.3h-3.3zM654.22,204.56h3.3v3.3h-3.3zM656.92,203.3h3.3v3.3h-3.3zM659.61,211.48h3.3v3.3h-3.3zM662.31,206.35h3.3v3.3h-3.3zM665,207.8h3.3v3.3h-3.3zM667.7,205.44h3.3v3.3h-3.3zM670.39,206.54h3.3v3.3h-3.3zM673.09,207.88h3.3v3.3h-3.3zM675.78,206.3h3.3v3.3h-3.3zM678.48,204.03h3.3v3.3h-3.3z" fill="#fcd2d2" stroke="#f48c8c" stroke-width="0.6" opacity="1.0"/>
<text x="681" y="153.59" font-size="8.9" text-anchor="end" fill="#2a2a2a">Peak positions (nm)</text>
<path d="M648.5,159.4h3.2v3.2h-3.2z" fill="#bfe3f6" stroke="#3fa7e0" stroke-width="0.6" opacity="1.0"/>
<text x="657.7" y="164.22" font-size="9.0" text-anchor="start" fill="#2a2a2a">670</text>
<path d="M648.5,170.1h3.2v3.2h-3.2z" fill="#fbdcb6" stroke="#f0a65a" stroke-width="0.6" opacity="1.0"/>
<text x="657.7" y="174.92" font-size="9.0" text-anchor="start" fill="#2a2a2a">691</text>
<path d="M648.5,180.8h3.2v3.2h-3.2z" fill="#bdf0cf" stroke="#45cc7a" stroke-width="0.6" opacity="1.0"/>
<text x="657.7" y="185.62" font-size="9.0" text-anchor="start" fill="#2a2a2a">706</text>
<path d="M648.5,191.5h3.2v3.2h-3.2z" fill="#fcd2d2" stroke="#f48c8c" stroke-width="0.6" opacity="1.0"/>
<text x="657.7" y="196.32" font-size="9.0" text-anchor="start" fill="#2a2a2a">736</text>
<path d="M549.19,392.82h3.4v3.4h-3.4zM549.8,393.95h3.4v3.4h-3.4zM550.41,392.49h3.4v3.4h-3.4zM551.02,391.52h3.4v3.4h-3.4zM551.64,393.52h3.4v3.4h-3.4zM552.25,392.36h3.4v3.4h-3.4zM552.86,394.41h3.4v3.4h-3.4zM553.47,393.78h3.4v3.4h-3.4zM554.09,391.25h3.4v3.4h-3.4zM554.7,393.35h3.4v3.4h-3.4zM555.31,392.91h3.4v3.4h-3.4zM555.92,394.54h3.4v3.4h-3.4zM556.54,393.31h3.4v3.4h-3.4zM557.15,393.9h3.4v3.4h-3.4zM557.76,392.29h3.4v3.4h-3.4zM558.37,393.37h3.4v3.4h-3.4zM558.99,390.59h3.4v3.4h-3.4zM559.6,392.81h3.4v3.4h-3.4zM560.21,390.83h3.4v3.4h-3.4zM560.82,387.69h3.4v3.4h-3.4zM561.44,378.16h3.4v3.4h-3.4zM562.05,368.41h3.4v3.4h-3.4zM562.66,361.35h3.4v3.4h-3.4zM563.27,353.54h3.4v3.4h-3.4zM563.89,343.46h3.4v3.4h-3.4zM564.5,335.09h3.4v3.4h-3.4zM565.11,327.51h3.4v3.4h-3.4zM565.72,319.01h3.4v3.4h-3.4zM566.34,314.11h3.4v3.4h-3.4zM566.95,307.59h3.4v3.4h-3.4zM567.56,306.36h3.4v3.4h-3.4zM568.17,306.62h3.4v3.4h-3.4zM568.79,301.86h3.4v3.4h-3.4zM569.4,302.16h3.4v3.4h-3.4zM570.01,300.12h3.4v3.4h-3.4zM570.62,300.97h3.4v3.4h-3.4zM571.24,299.09h3.4v3.4h-3.4zM571.85,299.4h3.4v3.4h-3.4zM572.46,296.98h3.4v3.4h-3.4zM573.07,297.67h3.4v3.4h-3.4zM573.69,298.45h3.4v3.4h-3.4zM574.3,298.71h3.4v3.4h-3.4zM574.91,298.58h3.4v3.4h-3.4zM575.52,301.34h3.4v3.4h-3.4zM576.14,301.78h3.4v3.4h-3.4zM576.75,304.7h3.4v3.4h-3.4zM577.36,306.66h3.4v3.4h-3.4zM577.97,307.29h3.4v3.4h-3.4zM578.59,308.52h3.4v3.4h-3.4zM579.2,309.55h3.4v3.4h-3.4zM579.81,310.42h3.4v3.4h-3.4zM580.42,312.95h3.4v3.4h-3.4zM581.04,314.43h3.4v3.4h-3.4zM581.65,315.08h3.4v3.4h-3.4zM582.26,316.82h3.4v3.4h-3.4zM582.87,318.61h3.4v3.4h-3.4zM583.49,319.8h3.4v3.4h-3.4zM584.1,323.07h3.4v3.4h-3.4zM586.79,327.66h3.4v3.4h-3.4zM589.49,333.09h3.4v3.4h-3.4zM592.18,336.1h3.4v3.4h-3.4zM594.88,338.61h3.4v3.4h-3.4zM597.57,343.85h3.4v3.4h-3.4zM600.27,344.21h3.4v3.4h-3.4zM602.96,346.77h3.4v3.4h-3.4zM605.66,347.67h3.4v3.4h-3.4zM608.35,348.8h3.4v3.4h-3.4zM611.05,348.64h3.4v3.4h-3.4zM613.74,350.27h3.4v3.4h-3.4zM616.44,351.83h3.4v3.4h-3.4zM619.13,350.42h3.4v3.4h-3.4zM621.83,351.17h3.4v3.4h-3.4zM624.52,350.92h3.4v3.4h-3.4zM627.22,351.26h3.4v3.4h-3.4zM629.91,352.92h3.4v3.4h-3.4zM632.61,352.07h3.4v3.4h-3.4zM635.3,352.33h3.4v3.4h-3.4zM638,352.64h3.4v3.4h-3.4zM640.69,352.65h3.4v3.4h-3.4zM643.39,352.63h3.4v3.4h-3.4zM646.08,353.43h3.4v3.4h-3.4zM648.78,353.25h3.4v3.4h-3.4zM651.48,352.5h3.4v3.4h-3.4zM654.17,354.19h3.4v3.4h-3.4zM656.87,353.54h3.4v3.4h-3.4zM659.56,354.36h3.4v3.4h-3.4zM662.25,354.49h3.4v3.4h-3.4zM664.95,354.08h3.4v3.4h-3.4zM667.64,353.7h3.4v3.4h-3.4zM670.34,352.73h3.4v3.4h-3.4zM673.03,354.1h3.4v3.4h-3.4zM675.73,353.27h3.4v3.4h-3.4zM678.42,353.59h3.4v3.4h-3.4z" fill="#b5def5" stroke="#3fa7e0" stroke-width="0.6" opacity="1.0"/>
<path d="M550.89,393.7l2.1,3.6h-4.2zM551.5,392.57l2.1,3.6h-4.2zM552.11,391.29l2.1,3.6h-4.2zM552.72,393.8l2.1,3.6h-4.2zM553.34,393.19l2.1,3.6h-4.2zM553.95,391.83l2.1,3.6h-4.2zM554.56,394.43l2.1,3.6h-4.2zM555.17,393.69l2.1,3.6h-4.2zM555.79,392.42l2.1,3.6h-4.2zM556.4,391.79l2.1,3.6h-4.2zM557.01,391.53l2.1,3.6h-4.2zM557.62,391.98l2.1,3.6h-4.2zM558.24,390.49l2.1,3.6h-4.2zM558.85,392.33l2.1,3.6h-4.2zM559.46,393.85l2.1,3.6h-4.2zM560.07,392.56l2.1,3.6h-4.2zM560.69,391.36l2.1,3.6h-4.2zM561.3,391.02l2.1,3.6h-4.2zM561.91,392.34l2.1,3.6h-4.2zM562.52,385.19l2.1,3.6h-4.2zM563.14,378.01l2.1,3.6h-4.2zM563.75,368.94l2.1,3.6h-4.2zM564.36,359.27l2.1,3.6h-4.2zM564.98,352.1l2.1,3.6h-4.2zM565.59,343.87l2.1,3.6h-4.2zM566.2,335.33l2.1,3.6h-4.2zM566.81,327.93l2.1,3.6h-4.2zM567.42,317.4l2.1,3.6h-4.2zM568.04,311.83l2.1,3.6h-4.2zM568.65,307.52l2.1,3.6h-4.2zM569.26,306.6l2.1,3.6h-4.2zM569.88,304.34l2.1,3.6h-4.2zM570.49,301.52l2.1,3.6h-4.2zM571.1,302.19l2.1,3.6h-4.2zM571.71,297.76l2.1,3.6h-4.2zM572.32,298.96l2.1,3.6h-4.2zM572.94,297.02l2.1,3.6h-4.2zM573.55,296.58l2.1,3.6h-4.2zM574.16,298.15l2.1,3.6h-4.2zM574.77,298.38l2.1,3.6h-4.2zM575.39,299.98l2.1,3.6h-4.2zM576,301.1l2.1,3.6h-4.2zM576.61,304.93l2.1,3.6h-4.2zM577.23,305.84l2.1,3.6h-4.2zM577.84,309.17l2.1,3.6h-4.2zM578.45,312.02l2.1,3.6h-4.2zM579.06,313.39l2.1,3.6h-4.2zM579.67,317.17l2.1,3.6h-4.2zM580.29,318.99l2.1,3.6h-4.2zM580.9,320.94l2.1,3.6h-4.2zM581.51,322.71l2.1,3.6h-4.2zM582.12,325.59l2.1,3.6h-4.2zM582.74,329.02l2.1,3.6h-4.2zM583.35,327.81l2.1,3.6h-4.2zM583.96,330.19l2.1,3.6h-4.2zM584.57,331.85l2.1,3.6h-4.2zM585.19,333.48l2.1,3.6h-4.2zM585.8,333.24l2.1,3.6h-4.2zM588.5,337.58l2.1,3.6h-4.2zM591.19,340.68l2.1,3.6h-4.2zM593.88,344.68l2.1,3.6h-4.2zM596.58,346.03l2.1,3.6h-4.2zM599.27,350.06l2.1,3.6h-4.2zM601.97,350.88l2.1,3.6h-4.2zM604.66,352.25l2.1,3.6h-4.2zM607.36,352.41l2.1,3.6h-4.2zM610.05,354.9l2.1,3.6h-4.2zM612.75,355.17l2.1,3.6h-4.2zM615.44,355.58l2.1,3.6h-4.2zM618.14,356.41l2.1,3.6h-4.2zM620.84,356.75l2.1,3.6h-4.2zM623.53,357.59l2.1,3.6h-4.2zM626.23,355.99l2.1,3.6h-4.2zM628.92,355.53l2.1,3.6h-4.2zM631.62,358.12l2.1,3.6h-4.2zM634.31,356.64l2.1,3.6h-4.2zM637,358.66l2.1,3.6h-4.2zM639.7,358.51l2.1,3.6h-4.2zM642.39,358.2l2.1,3.6h-4.2zM645.09,357.95l2.1,3.6h-4.2zM647.78,357.8l2.1,3.6h-4.2zM650.48,360.24l2.1,3.6h-4.2zM653.18,359.8l2.1,3.6h-4.2zM655.87,358.61l2.1,3.6h-4.2zM658.57,359.07l2.1,3.6h-4.2zM661.26,356.93l2.1,3.6h-4.2zM663.96,359.36l2.1,3.6h-4.2zM666.65,359.83l2.1,3.6h-4.2zM669.35,358.16l2.1,3.6h-4.2zM672.04,361.96l2.1,3.6h-4.2zM674.74,361.27l2.1,3.6h-4.2zM677.43,356.95l2.1,3.6h-4.2zM680.12,360.2l2.1,3.6h-4.2z" fill="#f9b8b8" stroke="#f07070" stroke-width="0.6" opacity="1.0"/>
<path d="M549.09,396.51a1.8,1.8 0 1,0 3.6,0a1.8,1.8 0 1,0 -3.6,0M549.7,393.9a1.8,1.8 0 1,0 3.6,0a1.8,1.8 0 1,0 -3.6,0M550.31,394.12a1.8,1.8 0 1,0 3.6,0a1.8,1.8 0 1,0 -3.6,0M550.92,394.22a1.8,1.8 0 1,0 3.6,0a1.8,1.8 0 1,0 -3.6,0M551.54,396.06a1.8,1.8 0 1,0 3.6,0a1.8,1.8 0 1,0 -3.6,0M552.15,397.22a1.8,1.8 0 1,0 3.6,0a1.8,1.8 0 1,0 -3.6,0M552.76,395.56a1.8,1.8 0 1,0 3.6,0a1.8,1.8 0 1,0 -3.6,0M553.38,396.26a1.8,1.8 0 1,0 3.6,0a1.8,1.8 0 1,0 -3.6,0M553.99,394.56a1.8,1.8 0 1,0 3.6,0a1.8,1.8 0 1,0 -3.6,0M554.6,396.86a1.8,1.8 0 1,0 3.6,0a1.8,1.8 0 1,0 -3.6,0M555.21,396.07a1.8,1.8 0 1,0 3.6,0a1.8,1.8 0 1,0 -3.6,0M555.83,394.85a1.8,1.8 0 1,0 3.6,0a1.8,1.8 0 1,0 -3.6,0M556.44,394.51a1.8,1.8 0 1,0 3.6,0a1.8,1.8 0 1,0 -3.6,0M557.05,394.9a1.8,1.8 0 1,0 3.6,0a1.8,1.8 0 1,0 -3.6,0M557.66,396.37a1.8,1.8 0 1,0 3.6,0a1.8,1.8 0 1,0 -3.6,0M558.27,395.46a1.8,1.8 0 1,0 3.6,0a1.8,1.8 0 1,0 -3.6,0M558.89,391.96a1.8,1.8 0 1,0 3.6,0a1.8,1.8 0 1,0 -3.6,0M559.5,392.6a1.8,1.8 0 1,0 3.6,0a1.8,1.8 0 1,0 -3.6,0M560.11,393.74a1.8,1.8 0 1,0 3.6,0a1.8,1.8 0 1,0 -3.6,0M560.73,385.67a1.8,1.8 0 1,0 3.6,0a1.8,1.8 0 1,0 -3.6,0M561.34,379.71a1.8,1.8 0 1,0 3.6,0a1.8,1.8 0 1,0 -3.6,0M561.95,371.06a1.8,1.8 0 1,0 3.6,0a1.8,1.8 0 1,0 -3.6,0M562.56,363.92a1.8,1.8 0 1,0 3.6,0a1.8,1.8 0 1,0 -3.6,0M563.18,352.52a1.8,1.8 0 1,0 3.6,0a1.8,1.8 0 1,0 -3.6,0M563.79,345.42a1.8,1.8 0 1,0 3.6,0a1.8,1.8 0 1,0 -3.6,0M564.4,337.62a1.8,1.8 0 1,0 3.6,0a1.8,1.8 0 1,0 -3.6,0M565.01,330.74a1.8,1.8 0 1,0 3.6,0a1.8,1.8 0 1,0 -3.6,0M565.62,323.28a1.8,1.8 0 1,0 3.6,0a1.8,1.8 0 1,0 -3.6,0M566.24,314.89a1.8,1.8 0 1,0 3.6,0a1.8,1.8 0 1,0 -3.6,0M566.85,310.69a1.8,1.8 0 1,0 3.6,0a1.8,1.8 0 1,0 -3.6,0M567.46,306.17a1.8,1.8 0 1,0 3.6,0a1.8,1.8 0 1,0 -3.6,0M568.08,306.51a1.8,1.8 0 1,0 3.6,0a1.8,1.8 0 1,0 -3.6,0M568.69,303.72a1.8,1.8 0 1,0 3.6,0a1.8,1.8 0 1,0 -3.6,0M569.3,300.38a1.8,1.8 0 1,0 3.6,0a1.8,1.8 0 1,0 -3.6,0M569.91,299.26a1.8,1.8 0 1,0 3.6,0a1.8,1.8 0 1,0 -3.6,0M570.52,300.19a1.8,1.8 0 1,0 3.6,0a1.8,1.8 0 1,0 -3.6,0M571.14,297.56a1.8,1.8 0 1,0 3.6,0a1.8,1.8 0 1,0 -3.6,0M571.75,299.59a1.8,1.8 0 1,0 3.6,0a1.8,1.8 0 1,0 -3.6,0M572.36,301.02a1.8,1.8 0 1,0 3.6,0a1.8,1.8 0 1,0 -3.6,0M572.98,304.24a1.8,1.8 0 1,0 3.6,0a1.8,1.8 0 1,0 -3.6,0M573.59,306.45a1.8,1.8 0 1,0 3.6,0a1.8,1.8 0 1,0 -3.6,0M574.2,310.97a1.8,1.8 0 1,0 3.6,0a1.8,1.8 0 1,0 -3.6,0M574.81,313.36a1.8,1.8 0 1,0 3.6,0a1.8,1.8 0 1,0 -3.6,0M575.43,314.55a1.8,1.8 0 1,0 3.6,0a1.8,1.8 0 1,0 -3.6,0M576.04,318.28a1.8,1.8 0 1,0 3.6,0a1.8,1.8 0 1,0 -3.6,0M576.65,321.38a1.8,1.8 0 1,0 3.6,0a1.8,1.8 0 1,0 -3.6,0M577.26,323.58a1.8,1.8 0 1,0 3.6,0a1.8,1.8 0 1,0 -3.6,0M577.88,327.62a1.8,1.8 0 1,0 3.6,0a1.8,1.8 0 1,0 -3.6,0M578.49,330.23a1.8,1.8 0 1,0 3.6,0a1.8,1.8 0 1,0 -3.6,0M579.1,335.71a1.8,1.8 0 1,0 3.6,0a1.8,1.8 0 1,0 -3.6,0M579.71,335.86a1.8,1.8 0 1,0 3.6,0a1.8,1.8 0 1,0 -3.6,0M580.33,335.98a1.8,1.8 0 1,0 3.6,0a1.8,1.8 0 1,0 -3.6,0M580.94,339.45a1.8,1.8 0 1,0 3.6,0a1.8,1.8 0 1,0 -3.6,0M581.55,340.14a1.8,1.8 0 1,0 3.6,0a1.8,1.8 0 1,0 -3.6,0M582.16,340.8a1.8,1.8 0 1,0 3.6,0a1.8,1.8 0 1,0 -3.6,0M582.77,342.36a1.8,1.8 0 1,0 3.6,0a1.8,1.8 0 1,0 -3.6,0M583.39,342.27a1.8,1.8 0 1,0 3.6,0a1.8,1.8 0 1,0 -3.6,0M584,343.69a1.8,1.8 0 1,0 3.6,0a1.8,1.8 0 1,0 -3.6,0M586.7,348.08a1.8,1.8 0 1,0 3.6,0a1.8,1.8 0 1,0 -3.6,0M589.39,349.6a1.8,1.8 0 1,0 3.6,0a1.8,1.8 0 1,0 -3.6,0M592.09,354.03a1.8,1.8 0 1,0 3.6,0a1.8,1.8 0 1,0 -3.6,0M594.78,357.26a1.8,1.8 0 1,0 3.6,0a1.8,1.8 0 1,0 -3.6,0M597.48,358.44a1.8,1.8 0 1,0 3.6,0a1.8,1.8 0 1,0 -3.6,0M600.17,359.56a1.8,1.8 0 1,0 3.6,0a1.8,1.8 0 1,0 -3.6,0M602.87,361.63a1.8,1.8 0 1,0 3.6,0a1.8,1.8 0 1,0 -3.6,0M605.56,363.71a1.8,1.8 0 1,0 3.6,0a1.8,1.8 0 1,0 -3.6,0M608.25,363.89a1.8,1.8 0 1,0 3.6,0a1.8,1.8 0 1,0 -3.6,0M610.95,363.68a1.8,1.8 0 1,0 3.6,0a1.8,1.8 0 1,0 -3.6,0M613.64,363.6a1.8,1.8 0 1,0 3.6,0a1.8,1.8 0 1,0 -3.6,0M616.34,362.69a1.8,1.8 0 1,0 3.6,0a1.8,1.8 0 1,0 -3.6,0M619.04,365.2a1.8,1.8 0 1,0 3.6,0a1.8,1.8 0 1,0 -3.6,0M621.73,365.53a1.8,1.8 0 1,0 3.6,0a1.8,1.8 0 1,0 -3.6,0M624.43,367.97a1.8,1.8 0 1,0 3.6,0a1.8,1.8 0 1,0 -3.6,0M627.12,364.25a1.8,1.8 0 1,0 3.6,0a1.8,1.8 0 1,0 -3.6,0M629.82,364.84a1.8,1.8 0 1,0 3.6,0a1.8,1.8 0 1,0 -3.6,0M632.51,366.03a1.8,1.8 0 1,0 3.6,0a1.8,1.8 0 1,0 -3.6,0M635.21,366.98a1.8,1.8 0 1,0 3.6,0a1.8,1.8 0 1,0 -3.6,0M637.9,369.26a1.8,1.8 0 1,0 3.6,0a1.8,1.8 0 1,0 -3.6,0M640.6,365.53a1.8,1.8 0 1,0 3.6,0a1.8,1.8 0 1,0 -3.6,0M643.29,367.35a1.8,1.8 0 1,0 3.6,0a1.8,1.8 0 1,0 -3.6,0M645.99,364.81a1.8,1.8 0 1,0 3.6,0a1.8,1.8 0 1,0 -3.6,0M648.68,365.76a1.8,1.8 0 1,0 3.6,0a1.8,1.8 0 1,0 -3.6,0M651.38,365.24a1.8,1.8 0 1,0 3.6,0a1.8,1.8 0 1,0 -3.6,0M654.07,366.95a1.8,1.8 0 1,0 3.6,0a1.8,1.8 0 1,0 -3.6,0M656.77,365.5a1.8,1.8 0 1,0 3.6,0a1.8,1.8 0 1,0 -3.6,0M659.46,368.54a1.8,1.8 0 1,0 3.6,0a1.8,1.8 0 1,0 -3.6,0M662.16,365.32a1.8,1.8 0 1,0 3.6,0a1.8,1.8 0 1,0 -3.6,0M664.85,367.09a1.8,1.8 0 1,0 3.6,0a1.8,1.8 0 1,0 -3.6,0M667.55,368.45a1.8,1.8 0 1,0 3.6,0a1.8,1.8 0 1,0 -3.6,0M670.24,367.6a1.8,1.8 0 1,0 3.6,0a1.8,1.8 0 1,0 -3.6,0M672.94,368.29a1.8,1.8 0 1,0 3.6,0a1.8,1.8 0 1,0 -3.6,0M675.63,366.9a1.8,1.8 0 1,0 3.6,0a1.8,1.8 0 1,0 -3.6,0M678.33,368.05a1.8,1.8 0 1,0 3.6,0a1.8,1.8 0 1,0 -3.6,0" fill="#a9ebc1" stroke="#45cc7a" stroke-width="0.6" opacity="1.0"/>
<path d="M550.89,395.43l2.21,-3.78h-4.41zM551.5,393.81l2.21,-3.78h-4.41zM552.11,396.25l2.21,-3.78h-4.41zM552.72,392.71l2.21,-3.78h-4.41zM553.34,404.52l2.21,-3.78h-4.41zM553.95,397.63l2.21,-3.78h-4.41zM554.56,394.74l2.21,-3.78h-4.41zM555.17,401.2l2.21,-3.78h-4.41zM555.79,398.01l2.21,-3.78h-4.41zM556.4,396.8l2.21,-3.78h-4.41zM557.01,401.87l2.21,-3.78h-4.41zM557.62,399.07l2.21,-3.78h-4.41zM558.24,395.71l2.21,-3.78h-4.41zM558.85,398.34l2.21,-3.78h-4.41zM559.46,392.95l2.21,-3.78h-4.41zM560.07,390.32l2.21,-3.78h-4.41zM560.69,396.89l2.21,-3.78h-4.41zM561.3,399.39l2.21,-3.78h-4.41zM561.91,395.32l2.21,-3.78h-4.41zM562.52,391.9l2.21,-3.78h-4.41zM563.14,386.07l2.21,-3.78h-4.41zM563.75,374.63l2.21,-3.78h-4.41zM564.36,366.74l2.21,-3.78h-4.41zM564.98,357.69l2.21,-3.78h-4.41zM565.59,345.33l2.21,-3.78h-4.41zM566.2,336.89l2.21,-3.78h-4.41zM566.81,330.96l2.21,-3.78h-4.41zM567.42,325.39l2.21,-3.78h-4.41zM568.04,316.45l2.21,-3.78h-4.41zM568.65,313.06l2.21,-3.78h-4.41zM569.26,309.48l2.21,-3.78h-4.41zM569.88,310.17l2.21,-3.78h-4.41zM570.49,313.89l2.21,-3.78h-4.41zM571.1,300.7l2.21,-3.78h-4.41zM571.71,303.76l2.21,-3.78h-4.41zM572.32,303.06l2.21,-3.78h-4.41zM572.94,302.32l2.21,-3.78h-4.41zM573.55,304.18l2.21,-3.78h-4.41zM574.16,307.39l2.21,-3.78h-4.41zM574.77,305.09l2.21,-3.78h-4.41zM575.39,312.16l2.21,-3.78h-4.41zM576,315.47l2.21,-3.78h-4.41zM576.61,323.27l2.21,-3.78h-4.41zM577.23,324.9l2.21,-3.78h-4.41zM577.84,325.94l2.21,-3.78h-4.41zM578.45,329.7l2.21,-3.78h-4.41zM579.06,330.52l2.21,-3.78h-4.41zM579.67,336.12l2.21,-3.78h-4.41zM580.29,334.54l2.21,-3.78h-4.41zM580.9,341l2.21,-3.78h-4.41zM581.51,341.91l2.21,-3.78h-4.41zM582.12,345.37l2.21,-3.78h-4.41zM582.74,344.94l2.21,-3.78h-4.41zM583.35,344.26l2.21,-3.78h-4.41zM583.96,348.33l2.21,-3.78h-4.41zM584.57,353.29l2.21,-3.78h-4.41zM585.19,351.82l2.21,-3.78h-4.41zM585.8,350.39l2.21,-3.78h-4.41zM588.5,354.79l2.21,-3.78h-4.41zM591.19,358.11l2.21,-3.78h-4.41zM593.88,365.93l2.21,-3.78h-4.41zM596.58,367.45l2.21,-3.78h-4.41zM599.27,369.77l2.21,-3.78h-4.41zM601.97,370.22l2.21,-3.78h-4.41zM604.66,369.01l2.21,-3.78h-4.41zM607.36,370.14l2.21,-3.78h-4.41zM610.05,371.58l2.21,-3.78h-4.41zM612.75,369.13l2.21,-3.78h-4.41zM615.44,372.93l2.21,-3.78h-4.41zM618.14,371.94l2.21,-3.78h-4.41zM620.84,370.8l2.21,-3.78h-4.41zM623.53,375.06l2.21,-3.78h-4.41zM626.23,373.7l2.21,-3.78h-4.41zM628.92,375.3l2.21,-3.78h-4.41zM631.62,374.37l2.21,-3.78h-4.41zM634.31,371.83l2.21,-3.78h-4.41zM637,371.85l2.21,-3.78h-4.41zM639.7,370.58l2.21,-3.78h-4.41zM642.39,370.69l2.21,-3.78h-4.41zM645.09,374.94l2.21,-3.78h-4.41zM647.78,366.44l2.21,-3.78h-4.41zM650.48,367.97l2.21,-3.78h-4.41zM653.18,375.39l2.21,-3.78h-4.41zM655.87,373.93l2.21,-3.78h-4.41zM658.57,373.4l2.21,-3.78h-4.41zM661.26,371.52l2.21,-3.78h-4.41zM663.96,370.39l2.21,-3.78h-4.41zM666.65,372.2l2.21,-3.78h-4.41zM669.35,379.58l2.21,-3.78h-4.41zM672.04,364.11l2.21,-3.78h-4.41zM674.74,369.92l2.21,-3.78h-4.41zM677.43,370.06l2.21,-3.78h-4.41zM680.12,374.6l2.21,-3.78h-4.41z" fill="#bd9cf0" stroke="#9a70dd" stroke-width="0.6" opacity="1.0"/>
<text x="600" y="388.89" font-size="9.2" text-anchor="start" fill="#2a2a2a">Fluence (μJ cm<tspan dy="-3" font-size="6.3">−2</tspan><tspan dy="3">)</tspan></text>
<path d="M615.5,394.1h3.2v3.2h-3.2z" fill="#b5def5" stroke="#3fa7e0" stroke-width="0.6" opacity="1.0"/>
<text x="624.2" y="398.96" font-size="9.1" text-anchor="start" fill="#2a2a2a">5.7</text>
<path d="M617.1,403.12l1.99,3.42h-3.99z" fill="#f9b8b8" stroke="#f07070" stroke-width="0.6" opacity="1.0"/>
<text x="624.2" y="408.56" font-size="9.1" text-anchor="start" fill="#2a2a2a">1.9</text>
<path d="M651.2,395.7a1.6,1.6 0 1,0 3.2,0a1.6,1.6 0 1,0 -3.2,0" fill="#a9ebc1" stroke="#45cc7a" stroke-width="0.6" opacity="1.0"/>
<text x="659.9" y="398.96" font-size="9.1" text-anchor="start" fill="#2a2a2a">0.6</text>
<path d="M652.8,407.49l1.99,-3.42h-3.99z" fill="#bd9cf0" stroke="#9a70dd" stroke-width="0.6" opacity="1.0"/>
<text x="659.9" y="408.56" font-size="9.1" text-anchor="start" fill="#2a2a2a">0.2</text>
<line x1="615.8" y1="281" x2="615.8" y2="335.5" stroke="#777" stroke-width="0.8"/>
<line x1="615.8" y1="335.5" x2="670.5" y2="335.5" stroke="#777" stroke-width="0.8"/>
<line x1="614.2" y1="288.3" x2="615.8" y2="288.3" stroke="#666" stroke-width="0.6"/>
<line x1="614.2" y1="308.1" x2="615.8" y2="308.1" stroke="#666" stroke-width="0.6"/>
<line x1="614.2" y1="327.9" x2="615.8" y2="327.9" stroke="#666" stroke-width="0.6"/>
<line x1="617" y1="335.5" x2="617" y2="337.1" stroke="#666" stroke-width="0.6"/>
<line x1="630.12" y1="335.5" x2="630.12" y2="337.1" stroke="#666" stroke-width="0.6"/>
<line x1="643.25" y1="335.5" x2="643.25" y2="337.1" stroke="#666" stroke-width="0.6"/>
<line x1="656.38" y1="335.5" x2="656.38" y2="337.1" stroke="#666" stroke-width="0.6"/>
<line x1="669.5" y1="335.5" x2="669.5" y2="337.1" stroke="#666" stroke-width="0.6"/>
<text x="611" y="290.88" font-size="7.2" text-anchor="middle" fill="#2a2a2a">1</text>
<text x="611" y="330.48" font-size="7.2" text-anchor="middle" fill="#2a2a2a">0</text>
<text x="617" y="343.98" font-size="7.2" text-anchor="middle" fill="#2a2a2a">0</text>
<text x="643.25" y="343.98" font-size="7.2" text-anchor="middle" fill="#2a2a2a">25</text>
<text x="669.5" y="343.98" font-size="7.2" text-anchor="middle" fill="#2a2a2a">50</text>
<text x="642.5" y="351.16" font-size="8.0" text-anchor="middle" fill="#2a2a2a">Time (ps)</text>
<text x="602.3" y="309.52" font-size="7.6" text-anchor="middle" fill="#2a2a2a" transform="rotate(-90 602.3 306.8)">Δ<tspan font-style="italic">T</tspan>/<tspan font-style="italic">T</tspan></text>
<path d="M615.27,326.58h2.2v2.2h-2.2zM615.4,326.85h2.2v2.2h-2.2zM615.52,326.26h2.2v2.2h-2.2zM615.65,326.15h2.2v2.2h-2.2zM615.77,322.97h2.2v2.2h-2.2zM615.9,314.91h2.2v2.2h-2.2zM616.03,301.69h2.2v2.2h-2.2zM616.15,293.71h2.2v2.2h-2.2zM616.28,289.17h2.2v2.2h-2.2zM616.4,289.76h2.2v2.2h-2.2zM616.53,292.66h2.2v2.2h-2.2zM616.66,295.34h2.2v2.2h-2.2zM616.78,299.06h2.2v2.2h-2.2zM616.91,302.06h2.2v2.2h-2.2zM617.03,304.13h2.2v2.2h-2.2zM617.16,305.86h2.2v2.2h-2.2zM617.29,307.04h2.2v2.2h-2.2zM617.41,308.29h2.2v2.2h-2.2zM617.54,308.68h2.2v2.2h-2.2zM617.66,309.62h2.2v2.2h-2.2zM617.79,310.16h2.2v2.2h-2.2zM617.92,310.37h2.2v2.2h-2.2zM618.04,310.6h2.2v2.2h-2.2zM618.17,310.97h2.2v2.2h-2.2zM618.29,310.71h2.2v2.2h-2.2zM618.42,311.09h2.2v2.2h-2.2zM618.55,310.92h2.2v2.2h-2.2zM618.67,310.97h2.2v2.2h-2.2zM618.8,311.06h2.2v2.2h-2.2zM618.92,311.2h2.2v2.2h-2.2zM619.05,310.93h2.2v2.2h-2.2zM619.05,310.97h2.2v2.2h-2.2zM619.42,310.66h2.2v2.2h-2.2zM619.78,310.85h2.2v2.2h-2.2zM620.15,310.8h2.2v2.2h-2.2zM620.52,311.15h2.2v2.2h-2.2zM620.89,311.12h2.2v2.2h-2.2zM621.25,311.36h2.2v2.2h-2.2zM621.62,311.28h2.2v2.2h-2.2zM621.99,310.91h2.2v2.2h-2.2zM622.36,311.14h2.2v2.2h-2.2zM622.73,311.13h2.2v2.2h-2.2zM623.09,311.24h2.2v2.2h-2.2zM623.46,310.74h2.2v2.2h-2.2zM623.83,311.13h2.2v2.2h-2.2zM624.19,310.85h2.2v2.2h-2.2zM624.56,311.14h2.2v2.2h-2.2zM624.93,310.91h2.2v2.2h-2.2zM625.3,311.37h2.2v2.2h-2.2zM625.66,311.46h2.2v2.2h-2.2zM626.03,310.89h2.2v2.2h-2.2zM626.4,311.23h2.2v2.2h-2.2zM626.77,311.1h2.2v2.2h-2.2zM627.13,310.97h2.2v2.2h-2.2zM627.5,311.02h2.2v2.2h-2.2zM627.87,311.12h2.2v2.2h-2.2zM628.24,311.48h2.2v2.2h-2.2zM628.61,311.37h2.2v2.2h-2.2zM628.97,311.2h2.2v2.2h-2.2zM629.34,311.06h2.2v2.2h-2.2zM629.71,311.1h2.2v2.2h-2.2zM630.07,311.14h2.2v2.2h-2.2zM630.44,311.41h2.2v2.2h-2.2zM630.81,311.24h2.2v2.2h-2.2zM631.18,311.01h2.2v2.2h-2.2zM631.54,311.45h2.2v2.2h-2.2zM631.91,311.39h2.2v2.2h-2.2zM632.28,311.04h2.2v2.2h-2.2zM632.65,310.89h2.2v2.2h-2.2zM633.01,311.17h2.2v2.2h-2.2zM633.38,311.27h2.2v2.2h-2.2zM633.75,311.51h2.2v2.2h-2.2zM634.12,311.32h2.2v2.2h-2.2zM634.49,311.48h2.2v2.2h-2.2zM634.85,311.27h2.2v2.2h-2.2zM635.22,311.14h2.2v2.2h-2.2zM635.59,311.21h2.2v2.2h-2.2zM635.96,311.02h2.2v2.2h-2.2zM636.32,311.58h2.2v2.2h-2.2zM636.69,311.65h2.2v2.2h-2.2zM637.06,311.04h2.2v2.2h-2.2zM637.42,311.13h2.2v2.2h-2.2zM637.79,311.62h2.2v2.2h-2.2zM647.4,312.12h2.2v2.2h-2.2zM657.9,313.19h2.2v2.2h-2.2zM668.4,313.34h2.2v2.2h-2.2z" fill="#a8d8f4" stroke="#3fa0dc" stroke-width="0.5" opacity="1.0"/>
<path d="M615.27,327.87h2.2v2.2h-2.2zM615.4,327.51h2.2v2.2h-2.2zM615.52,327.95h2.2v2.2h-2.2zM615.65,327.53h2.2v2.2h-2.2zM615.77,324.7h2.2v2.2h-2.2zM615.9,319.01h2.2v2.2h-2.2zM616.03,306.09h2.2v2.2h-2.2zM616.15,297.2h2.2v2.2h-2.2zM616.28,290.77h2.2v2.2h-2.2zM616.4,288.35h2.2v2.2h-2.2zM616.53,287.31h2.2v2.2h-2.2zM616.66,288.97h2.2v2.2h-2.2zM616.78,291.58h2.2v2.2h-2.2zM616.91,293.92h2.2v2.2h-2.2zM617.03,296.05h2.2v2.2h-2.2zM617.16,297.13h2.2v2.2h-2.2zM617.29,298.09h2.2v2.2h-2.2zM617.41,298.36h2.2v2.2h-2.2zM617.54,299.92h2.2v2.2h-2.2zM617.66,301.59h2.2v2.2h-2.2zM617.79,302.19h2.2v2.2h-2.2zM617.92,303.06h2.2v2.2h-2.2zM618.04,303.9h2.2v2.2h-2.2zM618.17,305.22h2.2v2.2h-2.2zM618.29,305.75h2.2v2.2h-2.2zM618.42,305.86h2.2v2.2h-2.2zM618.55,306.6h2.2v2.2h-2.2zM618.67,307.6h2.2v2.2h-2.2zM618.8,307.05h2.2v2.2h-2.2zM618.92,308.4h2.2v2.2h-2.2zM619.05,309.14h2.2v2.2h-2.2zM619.15,308.99h2.2v2.2h-2.2zM621.15,314.21h2.2v2.2h-2.2zM623.25,316.16h2.2v2.2h-2.2zM625.35,317.38h2.2v2.2h-2.2zM627.45,319.64h2.2v2.2h-2.2zM630.7,321.84h2.2v2.2h-2.2zM636.48,323.06h2.2v2.2h-2.2zM641.62,324.64h2.2v2.2h-2.2zM647.19,327.69h2.2v2.2h-2.2zM657.69,327.3h2.2v2.2h-2.2zM668.61,329.43h2.2v2.2h-2.2z" fill="#f8b98a" stroke="#f08a48" stroke-width="0.5" opacity="1.0"/>
<path d="M657.3,285.7h2.4v2.4h-2.4z" fill="#a8d8f4" stroke="#3fa0dc" stroke-width="0.5" opacity="1.0"/>
<path d="M657.3,295.4h2.4v2.4h-2.4z" fill="#f8b98a" stroke="#f08a48" stroke-width="0.5" opacity="1.0"/>
<text x="663" y="289.84" font-size="8.2" text-anchor="start" fill="#2a2a2a">E</text>
<text x="663" y="299.54" font-size="8.2" text-anchor="start" fill="#2a2a2a">SP</text>
<line x1="257.1" y1="7.5" x2="257.1" y2="78.3" stroke="#8a8a8a" stroke-width="0.8"/>
<line x1="257.1" y1="78.3" x2="399" y2="78.3" stroke="#8a8a8a" stroke-width="0.8"/>
<line x1="255.3" y1="17.1" x2="257.1" y2="17.1" stroke="#666" stroke-width="0.6"/>
<line x1="255.3" y1="42.65" x2="257.1" y2="42.65" stroke="#666" stroke-width="0.6"/>
<line x1="255.3" y1="68.2" x2="257.1" y2="68.2" stroke="#666" stroke-width="0.6"/>
<line x1="270.2" y1="78.3" x2="270.2" y2="79.9" stroke="#666" stroke-width="0.6"/>
<line x1="321.86" y1="78.3" x2="321.86" y2="79.9" stroke="#666" stroke-width="0.6"/>
<line x1="373.52" y1="78.3" x2="373.52" y2="79.9" stroke="#666" stroke-width="0.6"/>
<text x="253" y="19.68" font-size="7.2" text-anchor="middle" fill="#2a2a2a">1</text>
<text x="253" y="70.78" font-size="7.2" text-anchor="middle" fill="#2a2a2a">0</text>
<text x="270.2" y="89.16" font-size="8.0" text-anchor="middle" fill="#2a2a2a">0</text>
<text x="373.52" y="89.16" font-size="8.0" text-anchor="middle" fill="#2a2a2a">4</text>
<text x="326.3" y="89.65" font-size="8.8" text-anchor="middle" fill="#2a2a2a">Time (ps)</text>
<text x="247" y="43.22" font-size="7.6" text-anchor="middle" fill="#2a2a2a" transform="rotate(-90 247 40.5)">ΔT/T</text>
<path d="M258.19,66.21l1.58,2.7h-3.15zM259.09,66.98l1.58,2.7h-3.15zM260,66.61l1.58,2.7h-3.15zM260.9,66.87l1.58,2.7h-3.15zM261.81,66.18l1.58,2.7h-3.15zM262.71,66.71l1.58,2.7h-3.15zM263.61,65.73l1.58,2.7h-3.15zM264.52,65.85l1.58,2.7h-3.15zM265.42,66.75l1.58,2.7h-3.15zM266.33,66.41l1.58,2.7h-3.15zM267.23,66.54l1.58,2.7h-3.15zM268.13,66.17l1.58,2.7h-3.15zM269.04,65.53l1.58,2.7h-3.15zM269.94,64.58l1.58,2.7h-3.15zM270.85,61.91l1.58,2.7h-3.15zM271.75,58.4l1.58,2.7h-3.15zM272.65,53.7l1.58,2.7h-3.15zM273.56,47.04l1.58,2.7h-3.15zM274.46,40.61l1.58,2.7h-3.15zM275.37,34.92l1.58,2.7h-3.15zM276.27,29.68l1.58,2.7h-3.15zM277.17,25l1.58,2.7h-3.15zM278.08,22.37l1.58,2.7h-3.15zM278.98,20.12l1.58,2.7h-3.15zM279.89,16.89l1.58,2.7h-3.15zM280.79,16.02l1.58,2.7h-3.15zM281.69,14.58l1.58,2.7h-3.15zM282.6,15.67l1.58,2.7h-3.15zM283.5,15.27l1.58,2.7h-3.15zM284.41,15.75l1.58,2.7h-3.15zM285.31,16.59l1.58,2.7h-3.15zM286.21,18.12l1.58,2.7h-3.15zM287.12,18.41l1.58,2.7h-3.15zM288.02,19.9l1.58,2.7h-3.15zM288.93,21.09l1.58,2.7h-3.15zM289.83,21.76l1.58,2.7h-3.15zM290.73,22.71l1.58,2.7h-3.15zM291.64,24.19l1.58,2.7h-3.15zM292.54,25.31l1.58,2.7h-3.15zM293.45,26.14l1.58,2.7h-3.15zM294.35,27.72l1.58,2.7h-3.15zM295.26,28.23l1.58,2.7h-3.15zM296.03,28.83l1.58,2.7h-3.15zM298.61,31.36l1.58,2.7h-3.15zM301.2,33.65l1.58,2.7h-3.15zM303.78,36.09l1.58,2.7h-3.15zM306.36,37.32l1.58,2.7h-3.15zM308.94,38.64l1.58,2.7h-3.15zM311.53,39.44l1.58,2.7h-3.15zM314.11,41.29l1.58,2.7h-3.15zM316.69,41.57l1.58,2.7h-3.15zM319.28,42.85l1.58,2.7h-3.15zM321.86,42.64l1.58,2.7h-3.15zM324.44,43.35l1.58,2.7h-3.15zM327.03,43.43l1.58,2.7h-3.15zM329.61,43.36l1.58,2.7h-3.15zM332.19,43.28l1.58,2.7h-3.15zM334.78,44.31l1.58,2.7h-3.15zM337.36,44.09l1.58,2.7h-3.15zM339.94,44.9l1.58,2.7h-3.15zM342.52,44.45l1.58,2.7h-3.15zM345.11,44.73l1.58,2.7h-3.15zM347.69,44.4l1.58,2.7h-3.15zM350.27,44.75l1.58,2.7h-3.15zM352.86,44.77l1.58,2.7h-3.15zM355.44,45.24l1.58,2.7h-3.15zM358.02,45.06l1.58,2.7h-3.15zM360.61,45.37l1.58,2.7h-3.15zM363.19,45.06l1.58,2.7h-3.15zM365.77,45.63l1.58,2.7h-3.15zM368.35,45.08l1.58,2.7h-3.15zM370.94,44.86l1.58,2.7h-3.15zM373.52,44.41l1.58,2.7h-3.15zM376.1,44.81l1.58,2.7h-3.15zM378.69,44.92l1.58,2.7h-3.15zM381.27,45.12l1.58,2.7h-3.15zM383.85,44.9l1.58,2.7h-3.15zM386.44,45.46l1.58,2.7h-3.15zM389.02,45.34l1.58,2.7h-3.15zM391.6,46.1l1.58,2.7h-3.15zM394.18,45.67l1.58,2.7h-3.15zM396.77,45.14l1.58,2.7h-3.15z" fill="#c9b0f0" stroke="#9f77d8" stroke-width="0.55" opacity="1.0"/>
<path d="M258.19,66.31l1.58,2.7h-3.15zM259.09,66.5l1.58,2.7h-3.15zM260,66.65l1.58,2.7h-3.15zM260.9,66.31l1.58,2.7h-3.15zM261.81,66.46l1.58,2.7h-3.15zM262.71,67.03l1.58,2.7h-3.15zM263.61,66.51l1.58,2.7h-3.15zM264.52,67.39l1.58,2.7h-3.15zM265.42,65.71l1.58,2.7h-3.15zM266.33,66.48l1.58,2.7h-3.15zM267.23,65.94l1.58,2.7h-3.15zM268.13,66.63l1.58,2.7h-3.15zM269.04,64.86l1.58,2.7h-3.15zM269.94,64.66l1.58,2.7h-3.15zM270.85,62.61l1.58,2.7h-3.15zM271.75,59.04l1.58,2.7h-3.15zM272.65,52.99l1.58,2.7h-3.15zM273.56,47.22l1.58,2.7h-3.15zM274.46,40.6l1.58,2.7h-3.15zM275.37,34.9l1.58,2.7h-3.15zM276.27,29.55l1.58,2.7h-3.15zM277.17,24.49l1.58,2.7h-3.15zM278.08,21.59l1.58,2.7h-3.15zM278.98,19.71l1.58,2.7h-3.15zM279.89,17.63l1.58,2.7h-3.15zM280.79,17.1l1.58,2.7h-3.15zM281.69,17.22l1.58,2.7h-3.15zM282.6,18.13l1.58,2.7h-3.15zM283.5,18.49l1.58,2.7h-3.15zM284.41,19.1l1.58,2.7h-3.15zM285.31,19.21l1.58,2.7h-3.15zM286.21,19.94l1.58,2.7h-3.15zM287.12,20.47l1.58,2.7h-3.15zM288.02,21.08l1.58,2.7h-3.15zM288.93,22.4l1.58,2.7h-3.15zM289.83,23.97l1.58,2.7h-3.15zM290.73,25.33l1.58,2.7h-3.15zM291.64,26.44l1.58,2.7h-3.15zM292.54,27.16l1.58,2.7h-3.15zM293.45,29.04l1.58,2.7h-3.15zM294.35,30.35l1.58,2.7h-3.15zM295.26,30.59l1.58,2.7h-3.15zM296.03,30.59l1.58,2.7h-3.15zM298.61,32.67l1.58,2.7h-3.15zM301.2,34.72l1.58,2.7h-3.15zM303.78,37.26l1.58,2.7h-3.15zM306.36,37.73l1.58,2.7h-3.15zM308.94,38.43l1.58,2.7h-3.15zM311.53,39.23l1.58,2.7h-3.15zM314.11,39.78l1.58,2.7h-3.15zM316.69,41.66l1.58,2.7h-3.15zM319.28,41.74l1.58,2.7h-3.15zM321.86,42.98l1.58,2.7h-3.15zM324.44,42.76l1.58,2.7h-3.15zM327.03,43.11l1.58,2.7h-3.15zM329.61,42.85l1.58,2.7h-3.15zM332.19,43.29l1.58,2.7h-3.15zM334.78,44.18l1.58,2.7h-3.15zM337.36,43.61l1.58,2.7h-3.15zM339.94,43.49l1.58,2.7h-3.15zM342.52,43.13l1.58,2.7h-3.15zM345.11,44.08l1.58,2.7h-3.15zM347.69,44.19l1.58,2.7h-3.15zM350.27,44.13l1.58,2.7h-3.15zM352.86,43.52l1.58,2.7h-3.15zM355.44,44.08l1.58,2.7h-3.15zM358.02,43.95l1.58,2.7h-3.15zM360.61,43.81l1.58,2.7h-3.15zM363.19,44.32l1.58,2.7h-3.15zM365.77,43.54l1.58,2.7h-3.15zM368.35,44.64l1.58,2.7h-3.15zM370.94,43.25l1.58,2.7h-3.15zM373.52,44.26l1.58,2.7h-3.15zM376.1,44.36l1.58,2.7h-3.15zM378.69,44.29l1.58,2.7h-3.15zM381.27,44.46l1.58,2.7h-3.15zM383.85,44.34l1.58,2.7h-3.15zM386.44,44.31l1.58,2.7h-3.15zM389.02,44.46l1.58,2.7h-3.15zM391.6,44.06l1.58,2.7h-3.15zM394.18,43.86l1.58,2.7h-3.15zM396.77,44.22l1.58,2.7h-3.15z" fill="#add9f5" stroke="#3e9fdc" stroke-width="0.55" opacity="1.0"/>
<path d="M258.19,67.52l1.58,2.7h-3.15zM259.09,66.19l1.58,2.7h-3.15zM260,66.88l1.58,2.7h-3.15zM260.9,67.85l1.58,2.7h-3.15zM261.81,66.34l1.58,2.7h-3.15zM262.71,66.68l1.58,2.7h-3.15zM263.61,67.31l1.58,2.7h-3.15zM264.52,66.53l1.58,2.7h-3.15zM265.42,65.79l1.58,2.7h-3.15zM266.33,68.03l1.58,2.7h-3.15zM267.23,67.03l1.58,2.7h-3.15zM268.13,65.37l1.58,2.7h-3.15zM269.04,65.8l1.58,2.7h-3.15zM269.94,64.18l1.58,2.7h-3.15zM270.85,59.75l1.58,2.7h-3.15zM271.75,60.74l1.58,2.7h-3.15zM272.65,52.73l1.58,2.7h-3.15zM273.56,47.32l1.58,2.7h-3.15zM274.46,38.73l1.58,2.7h-3.15zM275.37,34.06l1.58,2.7h-3.15zM276.27,31.02l1.58,2.7h-3.15zM277.17,22.43l1.58,2.7h-3.15zM278.08,19.91l1.58,2.7h-3.15zM278.98,19.35l1.58,2.7h-3.15zM279.89,19.21l1.58,2.7h-3.15zM280.79,19.47l1.58,2.7h-3.15zM281.69,21.5l1.58,2.7h-3.15zM282.6,21.6l1.58,2.7h-3.15zM283.5,20.07l1.58,2.7h-3.15zM284.41,23.85l1.58,2.7h-3.15zM285.31,24.2l1.58,2.7h-3.15zM286.21,23.43l1.58,2.7h-3.15zM287.12,26.64l1.58,2.7h-3.15zM288.02,26.79l1.58,2.7h-3.15zM288.93,27.25l1.58,2.7h-3.15zM289.83,29.89l1.58,2.7h-3.15zM290.73,30.22l1.58,2.7h-3.15zM291.64,32.01l1.58,2.7h-3.15zM292.54,32.1l1.58,2.7h-3.15zM293.45,32.36l1.58,2.7h-3.15zM294.35,33.47l1.58,2.7h-3.15zM295.26,33.82l1.58,2.7h-3.15zM296.03,34.1l1.58,2.7h-3.15zM298.61,35.09l1.58,2.7h-3.15zM301.2,38.06l1.58,2.7h-3.15zM303.78,37.75l1.58,2.7h-3.15zM306.36,36.96l1.58,2.7h-3.15zM308.94,39.42l1.58,2.7h-3.15zM311.53,40l1.58,2.7h-3.15zM314.11,40.21l1.58,2.7h-3.15zM316.69,41.38l1.58,2.7h-3.15zM319.28,40.45l1.58,2.7h-3.15zM321.86,41.36l1.58,2.7h-3.15zM324.44,41.81l1.58,2.7h-3.15zM327.03,41.15l1.58,2.7h-3.15zM329.61,40.92l1.58,2.7h-3.15zM332.19,43.77l1.58,2.7h-3.15zM334.78,42.97l1.58,2.7h-3.15zM337.36,42.82l1.58,2.7h-3.15zM339.94,44.06l1.58,2.7h-3.15zM342.52,42.01l1.58,2.7h-3.15zM345.11,40.62l1.58,2.7h-3.15zM347.69,42.01l1.58,2.7h-3.15zM350.27,41.59l1.58,2.7h-3.15zM352.86,44.9l1.58,2.7h-3.15zM355.44,43.39l1.58,2.7h-3.15zM358.02,44.31l1.58,2.7h-3.15zM360.61,42.17l1.58,2.7h-3.15zM363.19,43.09l1.58,2.7h-3.15zM365.77,43.15l1.58,2.7h-3.15zM368.35,42.48l1.58,2.7h-3.15zM370.94,42.19l1.58,2.7h-3.15zM373.52,41.31l1.58,2.7h-3.15zM376.1,41.57l1.58,2.7h-3.15zM378.69,42.02l1.58,2.7h-3.15zM381.27,44.63l1.58,2.7h-3.15zM383.85,41.7l1.58,2.7h-3.15zM386.44,42.87l1.58,2.7h-3.15zM389.02,44.52l1.58,2.7h-3.15zM391.6,42.8l1.58,2.7h-3.15zM394.18,43.22l1.58,2.7h-3.15zM396.77,43.06l1.58,2.7h-3.15z" fill="#fbc8c8" stroke="#f07878" stroke-width="0.55" opacity="1.0"/>
<path d="M258.19,71.29l1.58,2.7h-3.15zM259.09,64.19l1.58,2.7h-3.15zM260,62.22l1.58,2.7h-3.15zM260.9,70.52l1.58,2.7h-3.15zM261.81,61.5l1.58,2.7h-3.15zM262.71,68.87l1.58,2.7h-3.15zM263.61,69.12l1.58,2.7h-3.15zM264.52,63.13l1.58,2.7h-3.15zM265.42,66.54l1.58,2.7h-3.15zM266.33,73.04l1.58,2.7h-3.15zM267.23,68.69l1.58,2.7h-3.15zM268.13,63.73l1.58,2.7h-3.15zM269.04,67.74l1.58,2.7h-3.15zM269.94,66.88l1.58,2.7h-3.15zM270.85,62.76l1.58,2.7h-3.15zM271.75,59.18l1.58,2.7h-3.15zM272.65,55.64l1.58,2.7h-3.15zM273.56,50.22l1.58,2.7h-3.15zM274.46,39.43l1.58,2.7h-3.15zM275.37,30.42l1.58,2.7h-3.15zM276.27,35.31l1.58,2.7h-3.15zM277.17,16.11l1.58,2.7h-3.15zM278.08,10.8l1.58,2.7h-3.15zM278.98,17.74l1.58,2.7h-3.15zM279.89,9.98l1.58,2.7h-3.15zM280.79,21.19l1.58,2.7h-3.15zM281.69,13.24l1.58,2.7h-3.15zM282.6,11.71l1.58,2.7h-3.15zM283.5,12.78l1.58,2.7h-3.15zM284.41,28.61l1.58,2.7h-3.15zM285.31,19.87l1.58,2.7h-3.15zM286.21,24.69l1.58,2.7h-3.15zM287.12,20.82l1.58,2.7h-3.15zM288.02,18.37l1.58,2.7h-3.15zM288.93,23.07l1.58,2.7h-3.15zM289.83,19.87l1.58,2.7h-3.15zM290.73,32.82l1.58,2.7h-3.15zM291.64,30.97l1.58,2.7h-3.15zM292.54,30.88l1.58,2.7h-3.15zM293.45,27.57l1.58,2.7h-3.15zM294.35,26.46l1.58,2.7h-3.15zM295.26,34.52l1.58,2.7h-3.15zM296.03,35.39l1.58,2.7h-3.15zM298.61,31.14l1.58,2.7h-3.15zM301.2,38.82l1.58,2.7h-3.15zM303.78,34.56l1.58,2.7h-3.15zM306.36,39.43l1.58,2.7h-3.15zM308.94,38.16l1.58,2.7h-3.15zM311.53,32.76l1.58,2.7h-3.15zM314.11,40.1l1.58,2.7h-3.15zM316.69,39.8l1.58,2.7h-3.15zM319.28,42.73l1.58,2.7h-3.15zM321.86,39.23l1.58,2.7h-3.15zM324.44,36.78l1.58,2.7h-3.15zM327.03,39.56l1.58,2.7h-3.15zM329.61,45.35l1.58,2.7h-3.15zM332.19,40.75l1.58,2.7h-3.15zM334.78,37.5l1.58,2.7h-3.15zM337.36,44.83l1.58,2.7h-3.15zM339.94,42.62l1.58,2.7h-3.15zM342.52,45l1.58,2.7h-3.15zM345.11,44.12l1.58,2.7h-3.15zM347.69,45.41l1.58,2.7h-3.15zM350.27,46.52l1.58,2.7h-3.15zM352.86,41.38l1.58,2.7h-3.15zM355.44,42.99l1.58,2.7h-3.15zM358.02,49.13l1.58,2.7h-3.15zM360.61,45.95l1.58,2.7h-3.15zM363.19,45.1l1.58,2.7h-3.15zM365.77,46.22l1.58,2.7h-3.15zM368.35,42.69l1.58,2.7h-3.15zM370.94,43.75l1.58,2.7h-3.15zM373.52,42.16l1.58,2.7h-3.15zM376.1,47.12l1.58,2.7h-3.15zM378.69,45.43l1.58,2.7h-3.15zM381.27,44.59l1.58,2.7h-3.15zM383.85,44.46l1.58,2.7h-3.15zM386.44,44.41l1.58,2.7h-3.15zM389.02,45.61l1.58,2.7h-3.15zM391.6,43.8l1.58,2.7h-3.15zM394.18,38.77l1.58,2.7h-3.15zM396.77,45.63l1.58,2.7h-3.15z" fill="#b0eed5" stroke="#35c890" stroke-width="0.55" opacity="1.0"/>
<text x="296.5" y="20.42" font-size="9.0" text-anchor="start" fill="#2a2a2a">Excitation <tspan font-style="italic">λ</tspan> (nm)</text>
<path d="M377.3,10.85l1.42,2.43h-2.84z" fill="#c9b0f0" stroke="#9f77d8" stroke-width="0.55" opacity="1.0"/>
<text x="384.6" y="15.62" font-size="9.0" text-anchor="start" fill="#2a2a2a">400</text>
<path d="M377.3,21.35l1.42,2.43h-2.84z" fill="#add9f5" stroke="#3e9fdc" stroke-width="0.55" opacity="1.0"/>
<text x="384.6" y="26.12" font-size="9.0" text-anchor="start" fill="#2a2a2a">597</text>
<path d="M415.5,10.85l1.42,2.43h-2.84z" fill="#fbc8c8" stroke="#f07878" stroke-width="0.55" opacity="1.0"/>
<text x="422.8" y="15.62" font-size="9.0" text-anchor="start" fill="#2a2a2a">621</text>
<path d="M415.5,21.35l1.42,2.43h-2.84z" fill="#b0eed5" stroke="#35c890" stroke-width="0.55" opacity="1.0"/>
<text x="422.8" y="26.12" font-size="9.0" text-anchor="start" fill="#2a2a2a">670</text>
</svg>
</body></html>
